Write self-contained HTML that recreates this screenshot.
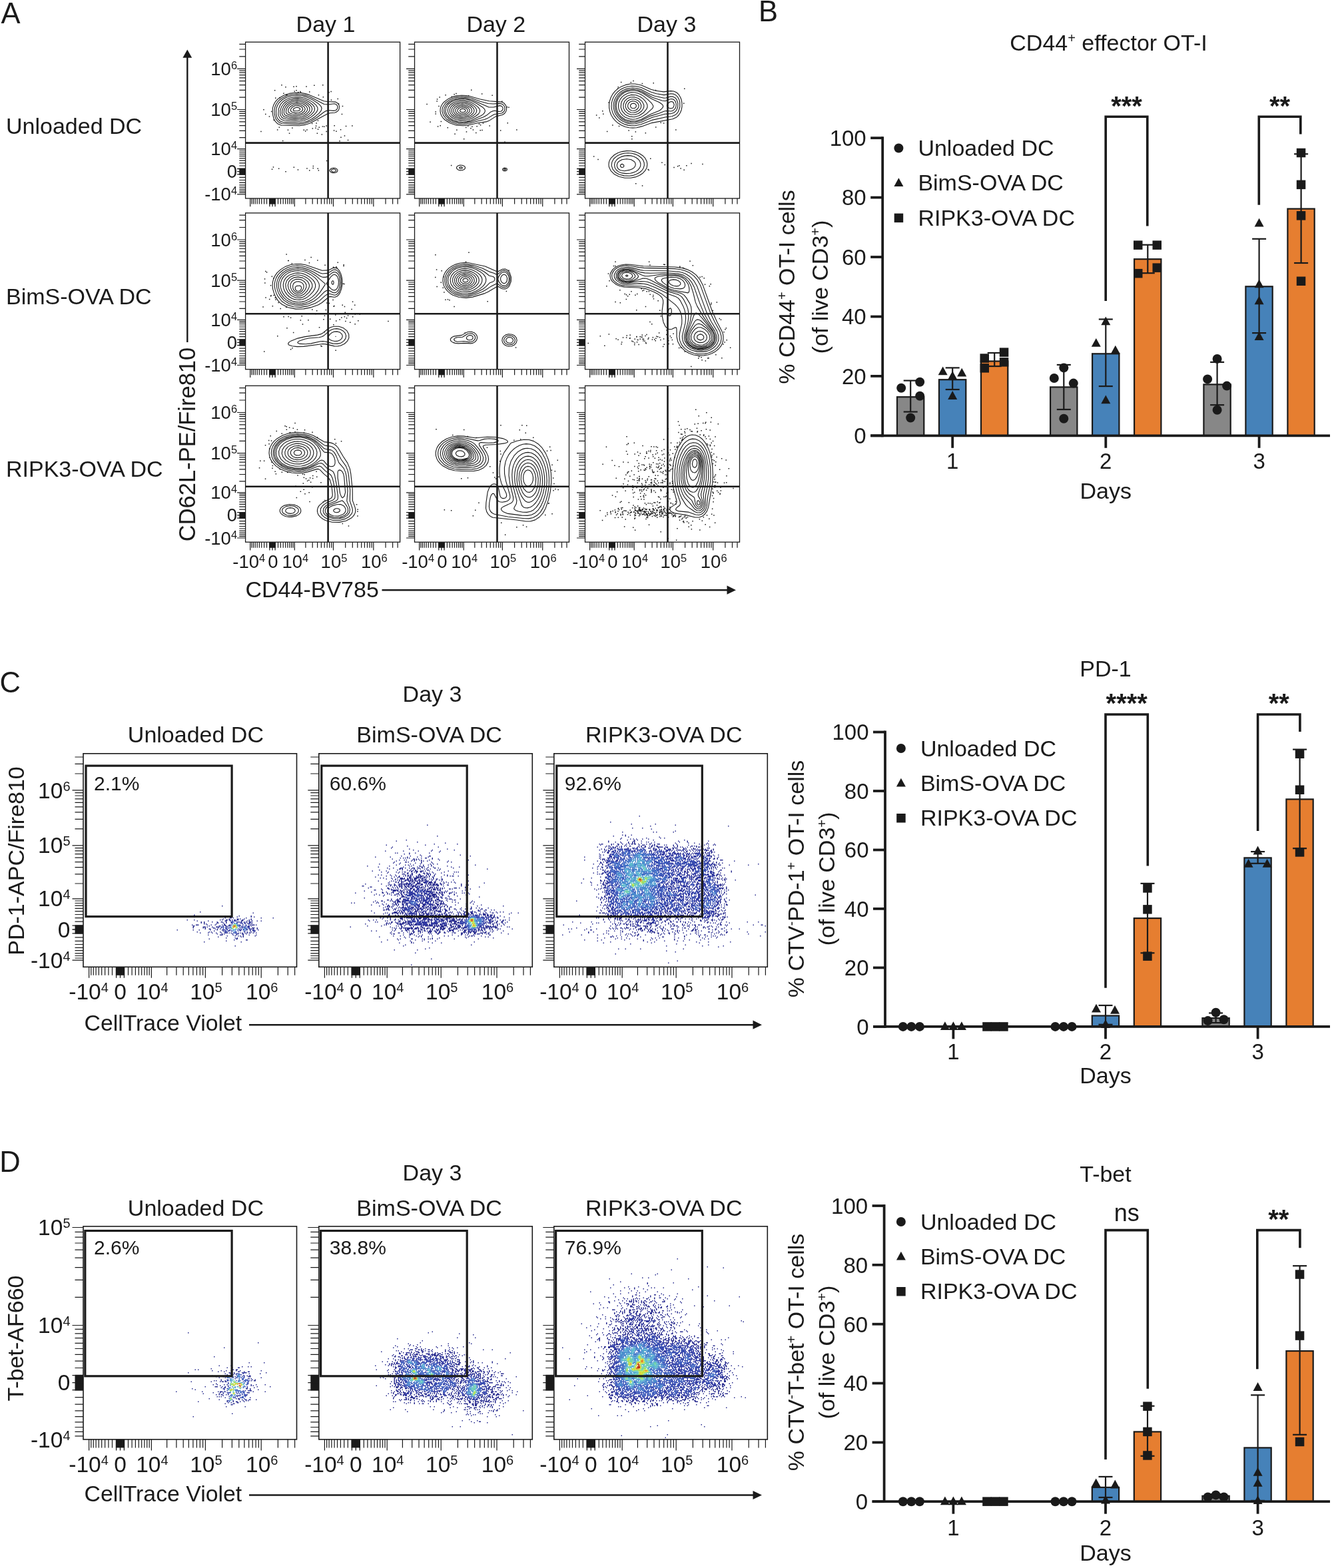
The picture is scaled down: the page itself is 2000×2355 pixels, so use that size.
<!DOCTYPE html>
<html><head><meta charset="utf-8"><title>Figure</title>
<style>html,body{margin:0;padding:0;background:#fff;width:2000px;height:2355px;overflow:hidden}svg{display:block}</style>
</head><body>
<svg width="2000" height="2355" viewBox="0 0 2000 2355" font-family='"Liberation Sans", Arial, sans-serif' fill="#1a1a1a">
<path d="M447.1 166.8L441.9 166.7L440.3 165.7L440.3 164.2L441.6 162.7L443.6 161.7L446.1 161.3L448.6 161.7L450.6 163.2L450.6 164.7L449.1 166.1ZM448.6 169.3L443.6 169.6L438.1 168.2L436.3 166.2L436.7 163.7L439.2 160.7L443.1 158.8L447.6 158.6L451.4 159.7L454.1 161.8L454.8 164.7L452.6 167.6ZM447.6 171.7L439.4 171.2L435.7 170.2L433.6 169.0L432.7 167.2L432.8 165.2L433.9 162.7L435.8 160.2L440.5 157.2L446.1 156.2L451.7 157.2L456.6 160.2L458.3 163.7L457.0 167.2L453.1 170.2ZM448.6 173.7L444.1 173.9L438.1 173.2L433.1 172.1L430.4 170.7L429.4 168.7L429.6 165.7L430.9 162.2L433.1 159.2L435.6 157.1L438.6 155.5L445.6 154.1L452.8 155.2L456.1 156.7L458.9 158.7L460.6 160.7L461.5 162.7L461.6 164.7L460.6 167.2L458.3 169.7L455.6 171.5ZM449.6 175.7L443.6 176.0L434.1 174.8L430.1 173.9L427.6 172.5L426.3 169.7L426.6 165.7L428.4 161.2L431.0 157.7L434.1 155.2L437.6 153.5L442.1 152.3L446.6 152.0L451.1 152.5L455.1 153.7L459.1 155.7L462.3 158.2L464.2 160.7L465.1 163.2L464.8 165.7L463.5 168.2L461.1 170.7L457.4 173.2L453.9 174.7ZM450.1 177.7L443.1 177.9L431.6 176.7L427.6 175.8L425.2 174.2L423.5 170.7L423.7 166.2L425.6 160.7L428.9 156.2L432.6 153.4L437.1 151.4L442.1 150.3L447.1 150.0L452.4 150.7L457.2 152.2L461.9 154.7L465.6 157.7L467.9 160.7L468.6 163.2L468.3 165.7L466.7 168.7L463.6 171.9L459.4 174.7L454.7 176.7ZM451.1 179.8L443.6 180.1L429.6 178.8L425.6 177.8L423.1 176.2L420.9 172.2L420.8 166.2L422.7 160.2L426.2 155.2L430.6 151.8L435.6 149.5L441.6 148.1L447.6 147.9L453.6 148.7L459.1 150.5L464.6 153.4L469.3 157.2L471.6 160.2L472.6 163.2L472.1 166.2L470.3 169.2L466.6 172.9L461.7 176.2L456.6 178.4ZM449.6 182.2L443.1 182.3L427.1 181.0L423.1 179.8L420.1 177.3L418.7 174.7L417.9 171.7L418.3 163.7L420.9 157.2L425.4 152.2L430.6 148.9L436.6 146.8L443.6 145.7L450.6 145.9L457.1 147.2L463.6 149.9L470.1 153.9L474.9 158.2L476.9 161.7L477.0 164.7L475.4 168.2L472.3 171.7L467.1 175.9L461.6 179.0L456.1 181.0ZM449.1 184.7L425.1 183.6L420.6 182.0L417.2 178.7L415.7 175.7L414.8 171.7L414.6 166.7L415.2 162.2L416.4 158.7L418.4 155.2L424.1 149.5L430.6 146.0L437.6 144.0L445.6 143.2L453.6 143.8L461.1 145.9L468.6 149.4L477.5 155.2L482.0 159.7L483.1 162.7L482.2 166.2L479.1 170.2L473.9 174.7L467.6 179.0L461.6 181.9L455.6 183.8ZM448.1 186.7L423.6 185.8L418.6 183.7L414.8 179.7L413.3 176.2L412.2 171.2L412.0 165.7L412.8 160.7L414.4 156.7L416.7 153.2L420.1 149.7L424.1 146.9L430.6 143.8L437.6 142.0L445.1 141.2L453.1 141.8L459.1 143.1L465.6 145.4L486.6 156.5L492.6 157.0L502.1 155.7L504.6 156.7L506.4 158.7L506.9 160.7L506.6 162.7L505.6 164.5L504.0 165.7L501.1 166.4L493.6 165.7L489.6 166.6L486.6 168.3L475.1 177.0L466.6 182.0L457.6 185.3ZM501.6 258.2L499.6 258.1L498.0 257.2L497.5 255.7L498.1 254.7L501.1 253.8L503.9 254.7L504.5 255.7L504.4 256.7L503.3 257.7ZM449.6 188.7L422.6 188.3L417.1 186.1L413.2 182.2L411.1 178.2L409.8 173.2L409.2 167.2L409.5 162.2L410.8 157.7L412.9 153.7L415.8 150.2L419.6 146.9L426.6 143.0L434.6 140.4L443.1 139.2L452.1 139.5L458.1 140.6L464.1 142.4L486.1 151.8L491.1 152.5L503.6 153.1L506.6 154.7L508.7 157.2L509.5 160.2L509.1 163.7L507.6 166.4L505.1 168.3L502.6 169.2L495.6 169.8L491.6 170.9L465.6 185.0L458.1 187.4ZM501.6 259.7L498.6 259.4L496.1 258.1L495.0 256.2L495.8 254.2L498.1 252.7L501.1 252.3L504.1 252.8L506.1 254.1L507.0 255.7L506.3 257.7L504.6 259.0Z" fill="none" stroke="#1a1a1a" stroke-width="1.1" stroke-linejoin="round"/>
<path d="M477.6 255.3h1.5v1.5h-1.5zM476.7 180.4h1.5v1.5h-1.5zM407.8 253.5h1.5v1.5h-1.5zM406.9 166.7h1.5v1.5h-1.5zM474.4 184.3h1.5v1.5h-1.5zM464.0 137.2h1.5v1.5h-1.5zM460.2 194.2h1.5v1.5h-1.5zM471.1 127.4h1.5v1.5h-1.5zM425.2 139.4h1.5v1.5h-1.5zM506.5 147.7h1.5v1.5h-1.5zM419.3 146.2h1.5v1.5h-1.5zM496.7 149.4h1.5v1.5h-1.5zM484.6 144.9h1.5v1.5h-1.5zM395.2 164.0h1.5v1.5h-1.5zM460.2 252.2h1.5v1.5h-1.5zM450.1 136.8h1.5v1.5h-1.5zM440.6 250.5h1.5v1.5h-1.5zM423.9 210.7h1.5v1.5h-1.5zM447.0 137.7h1.5v1.5h-1.5zM489.4 196.8h1.5v1.5h-1.5zM415.9 194.3h1.5v1.5h-1.5zM446.7 254.2h1.5v1.5h-1.5zM464.0 255.2h1.5v1.5h-1.5zM398.0 170.8h1.5v1.5h-1.5zM450.8 137.9h1.5v1.5h-1.5zM489.9 240.8h1.5v1.5h-1.5zM403.7 174.2h1.5v1.5h-1.5zM430.0 141.4h1.5v1.5h-1.5zM476.5 252.6h1.5v1.5h-1.5zM509.3 210.9h1.5v1.5h-1.5zM484.0 126.9h1.5v1.5h-1.5zM512.7 170.7h1.5v1.5h-1.5zM496.4 136.7h1.5v1.5h-1.5zM477.7 142.0h1.5v1.5h-1.5zM516.7 203.3h1.5v1.5h-1.5zM469.5 251.7h1.5v1.5h-1.5zM441.4 136.5h1.5v1.5h-1.5zM493.2 138.0h1.5v1.5h-1.5zM422.2 126.9h1.5v1.5h-1.5zM521.8 209.8h1.5v1.5h-1.5zM431.7 194.6h1.5v1.5h-1.5zM473.2 191.5h1.5v1.5h-1.5zM483.7 189.3h1.5v1.5h-1.5zM501.4 187.9h1.5v1.5h-1.5zM459.3 129.3h1.5v1.5h-1.5zM413.0 146.5h1.5v1.5h-1.5zM418.6 190.6h1.5v1.5h-1.5zM482.6 201.3h1.5v1.5h-1.5zM500.8 195.2h1.5v1.5h-1.5zM511.2 205.4h1.5v1.5h-1.5zM410.5 179.6h1.5v1.5h-1.5zM473.8 188.6h1.5v1.5h-1.5zM528.1 188.2h1.5v1.5h-1.5zM455.5 194.6h1.5v1.5h-1.5zM489.3 188.3h1.5v1.5h-1.5zM409.7 250.3h1.5v1.5h-1.5zM476.8 193.5h1.5v1.5h-1.5zM507.8 155.3h1.5v1.5h-1.5zM417.9 252.6h1.5v1.5h-1.5zM478.5 190.5h1.5v1.5h-1.5zM433.8 199.4h1.5v1.5h-1.5zM510.8 193.9h1.5v1.5h-1.5zM438.2 191.5h1.5v1.5h-1.5zM411.9 135.1h1.5v1.5h-1.5zM457.9 196.2h1.5v1.5h-1.5zM440.3 129.5h1.5v1.5h-1.5zM428.2 130.1h1.5v1.5h-1.5zM444.3 128.9h1.5v1.5h-1.5zM504.2 196.6h1.5v1.5h-1.5zM475.6 199.5h1.5v1.5h-1.5zM428.3 257.1h1.5v1.5h-1.5zM428.6 141.7h1.5v1.5h-1.5zM391.2 196.8h1.5v1.5h-1.5zM486.0 189.4h1.5v1.5h-1.5zM468.6 192.2h1.5v1.5h-1.5zM467.9 184.7h1.5v1.5h-1.5zM469.6 248.8h1.5v1.5h-1.5zM513.7 158.7h1.5v1.5h-1.5zM518.8 188.7h1.5v1.5h-1.5zM444.3 135.1h1.5v1.5h-1.5z" fill="#1a1a1a"/>
<path d="M694.5 168.7L692.2 168.2L690.9 167.2L690.5 165.8L691.0 164.7L692.5 163.7L694.5 163.3L696.9 163.7L698.5 164.7L699.1 166.2L698.5 167.3L697.0 168.3ZM696.5 170.8L692.0 170.8L688.6 169.2L686.9 166.7L687.7 163.7L690.5 161.7L694.0 161.0L698.0 161.6L700.8 163.2L702.2 165.2L701.9 167.7L699.6 169.7ZM697.0 172.8L691.0 172.7L688.1 171.7L685.9 170.2L684.4 168.2L683.9 166.2L684.2 164.2L685.5 162.2L689.5 159.7L694.0 159.0L699.0 159.7L703.4 162.2L705.3 165.2L704.8 168.2L701.5 171.2ZM697.5 174.7L693.5 175.0L689.5 174.4L686.2 173.2L683.5 171.3L681.5 168.7L680.9 166.2L681.4 163.7L682.9 161.2L687.5 158.2L694.0 157.0L700.9 158.2L706.0 161.2L707.7 163.2L708.5 165.2L708.5 167.2L707.6 169.2L703.5 172.7ZM697.5 176.7L692.5 176.9L688.1 176.2L684.0 174.5L680.8 172.2L678.7 169.2L678.1 165.7L678.8 162.7L680.9 159.7L683.6 157.7L687.0 156.1L691.0 155.2L695.0 155.0L699.0 155.5L703.0 156.8L706.7 158.7L709.5 161.0L711.2 163.2L712.0 165.7L711.6 168.2L710.4 170.2L708.0 172.5L705.0 174.4ZM697.5 178.7L692.0 178.8L686.5 177.8L681.6 175.7L677.9 172.7L675.8 169.2L675.2 165.2L676.3 161.7L679.0 158.2L682.5 155.8L686.5 154.2L691.5 153.2L696.5 153.2L701.5 154.1L705.9 155.7L710.1 158.2L713.5 161.2L715.1 163.7L715.8 166.2L715.2 168.7L713.5 171.2L710.5 173.8L706.3 176.2L702.0 177.8ZM698.5 180.7L692.0 180.9L685.5 179.8L680.0 177.5L675.7 174.2L673.1 170.2L672.2 165.7L673.3 161.2L676.3 157.2L680.5 154.2L685.5 152.2L691.0 151.1L697.0 151.1L702.5 152.1L708.1 154.2L713.5 157.4L718.0 161.2L719.9 163.7L720.7 166.2L720.1 168.7L718.3 171.2L714.5 174.3L709.0 177.5L704.0 179.5ZM694.5 183.2L687.0 182.5L680.0 180.3L674.4 176.7L670.7 172.2L669.0 167.2L669.8 161.7L672.9 156.7L678.0 152.8L683.5 150.4L689.5 149.1L696.0 148.8L702.5 149.8L709.0 151.9L715.5 155.2L724.2 160.7L727.7 164.2L728.4 166.7L727.6 169.2L725.5 171.6L722.4 173.7L707.0 181.0L701.0 182.6ZM696.5 184.7L688.5 184.4L680.5 182.3L673.8 178.7L669.1 173.7L666.8 168.2L666.7 165.2L667.2 162.2L670.0 157.0L675.0 152.5L680.0 149.9L686.0 148.0L692.0 147.3L698.5 147.4L709.0 150.0L734.0 161.0L741.0 161.0L750.5 158.6L753.0 159.3L754.7 161.2L755.1 162.7L754.8 164.7L753.7 166.2L752.0 167.2L749.0 167.5L743.0 166.3L739.5 166.9L736.5 168.3L730.5 173.3L726.1 175.7L706.5 182.9ZM695.5 186.7L686.0 186.0L677.5 183.3L670.5 179.0L665.7 173.2L663.9 167.2L664.1 163.7L664.9 160.7L668.7 154.7L675.0 149.9L680.5 147.5L686.5 145.9L693.0 145.3L699.5 145.6L707.5 147.3L721.0 152.2L733.0 155.5L740.5 156.0L749.5 155.4L752.5 155.7L755.5 157.3L757.6 160.2L758.1 163.2L757.5 166.1L756.0 168.3L753.5 170.0L742.0 171.7L732.5 177.4L727.5 179.5L717.6 181.7L704.5 185.5ZM693.0 253.3L690.5 253.1L689.6 251.7L691.0 250.7L693.5 250.9L694.4 252.2ZM758.0 255.7L756.4 254.7L756.8 253.7L758.0 253.3L759.2 253.7L759.6 254.7ZM695.5 188.7L685.0 187.9L675.5 184.8L668.0 180.0L665.2 177.2L662.9 173.7L661.5 170.2L661.0 166.7L661.2 163.2L662.2 159.7L664.2 156.2L666.7 153.2L674.0 147.9L680.0 145.4L686.0 143.9L693.0 143.3L700.0 143.6L707.0 145.0L720.0 148.8L734.5 151.7L753.0 153.1L757.0 155.1L759.7 158.7L760.7 162.7L760.0 166.7L757.8 170.2L754.5 172.5L744.5 174.9L735.0 180.9L730.0 182.9L717.0 184.8L703.0 188.0ZM694.0 255.8L690.5 255.9L687.2 254.7L685.5 252.7L685.8 250.7L687.5 249.1L690.5 248.1L694.0 248.2L696.7 249.2L698.2 250.7L698.5 252.7L697.0 254.6ZM759.5 256.8L757.5 257.0L755.4 256.2L754.5 254.7L755.0 253.2L757.5 252.0L760.5 252.7L761.3 253.7L761.4 255.2Z" fill="none" stroke="#1a1a1a" stroke-width="1.1" stroke-linejoin="round"/>
<path d="M709.7 194.3h1.5v1.5h-1.5zM659.4 145.3h1.5v1.5h-1.5zM698.9 190.8h1.5v1.5h-1.5zM714.0 198.7h1.5v1.5h-1.5zM645.3 182.5h1.5v1.5h-1.5zM682.3 200.6h1.5v1.5h-1.5zM677.6 144.4h1.5v1.5h-1.5zM775.1 194.2h1.5v1.5h-1.5zM761.5 183.9h1.5v1.5h-1.5zM685.1 194.5h1.5v1.5h-1.5zM734.4 188.3h1.5v1.5h-1.5zM706.2 192.1h1.5v1.5h-1.5zM702.0 188.6h1.5v1.5h-1.5zM653.4 170.3h1.5v1.5h-1.5zM722.9 140.2h1.5v1.5h-1.5zM660.5 188.1h1.5v1.5h-1.5zM757.2 212.6h1.5v1.5h-1.5zM684.2 139.8h1.5v1.5h-1.5zM750.9 195.3h1.5v1.5h-1.5zM707.0 134.6h1.5v1.5h-1.5zM640.3 155.7h1.5v1.5h-1.5zM655.4 151.3h1.5v1.5h-1.5zM724.7 184.5h1.5v1.5h-1.5zM708.1 189.4h1.5v1.5h-1.5zM668.3 142.1h1.5v1.5h-1.5zM738.4 142.6h1.5v1.5h-1.5zM658.2 158.7h1.5v1.5h-1.5zM661.6 181.8h1.5v1.5h-1.5zM656.8 189.3h1.5v1.5h-1.5zM702.9 143.3h1.5v1.5h-1.5zM763.2 160.6h1.5v1.5h-1.5zM655.8 148.2h1.5v1.5h-1.5zM695.9 208.0h1.5v1.5h-1.5zM720.5 195.0h1.5v1.5h-1.5zM676.9 247.8h1.5v1.5h-1.5zM760.7 159.9h1.5v1.5h-1.5zM671.5 190.9h1.5v1.5h-1.5zM723.2 194.7h1.5v1.5h-1.5zM715.4 189.0h1.5v1.5h-1.5zM653.4 167.2h1.5v1.5h-1.5zM681.4 140.9h1.5v1.5h-1.5zM699.7 197.2h1.5v1.5h-1.5zM720.8 187.0h1.5v1.5h-1.5zM753.0 151.4h1.5v1.5h-1.5zM718.7 185.5h1.5v1.5h-1.5z" fill="#1a1a1a"/>
<path d="M952.0 162.8L949.0 162.6L946.9 160.7L946.5 158.2L948.5 155.7L950.5 155.2L952.5 155.4L954.0 156.3L955.1 157.7L955.4 159.2L955.0 160.7L953.5 162.2ZM951.5 166.2L948.5 166.0L945.6 164.7L943.6 162.7L942.6 160.2L942.8 157.2L944.0 154.8L946.0 153.0L949.0 151.9L952.5 152.0L955.6 153.2L958.0 155.5L959.2 158.2L959.0 160.7L957.5 163.3L955.0 165.2ZM952.0 169.2L947.5 169.0L943.6 167.2L940.7 164.2L939.3 160.7L939.4 156.7L941.1 153.2L944.0 150.5L948.0 149.0L953.0 149.0L957.4 150.7L960.8 153.7L962.7 157.7L962.4 161.7L960.2 165.2L956.5 167.9ZM953.0 172.3L947.5 172.2L942.5 170.4L938.5 166.9L936.1 162.2L935.9 157.2L937.7 152.2L941.5 148.3L946.5 146.0L952.5 145.7L958.6 147.7L964.0 152.1L966.7 157.2L966.9 159.7L966.4 162.2L963.5 166.7L958.5 170.5ZM952.0 175.7L945.0 175.1L939.0 172.2L934.4 167.2L932.3 161.2L932.7 154.7L933.9 151.7L935.9 148.7L941.0 144.6L947.5 142.4L955.0 142.8L962.0 145.8L965.5 148.4L968.7 151.7L971.0 155.2L972.0 158.2L972.0 160.7L970.9 163.7L966.4 169.2L959.5 173.7ZM955.0 178.7L950.5 179.2L946.5 178.9L939.0 176.3L935.5 173.9L932.9 171.2L930.6 167.7L929.2 164.2L928.5 160.7L928.6 156.7L929.5 152.7L931.2 149.2L933.5 146.1L936.5 143.3L943.5 139.8L948.0 138.9L953.0 139.0L957.5 140.0L962.0 141.8L967.0 144.9L972.8 149.7L978.5 155.2L980.7 158.7L980.7 160.7L979.3 163.2L970.9 170.7L962.5 176.1ZM955.0 181.7L946.5 181.9L938.5 179.5L931.8 174.7L929.0 171.2L927.1 167.7L925.8 163.7L925.3 159.7L925.5 155.7L926.5 151.7L928.1 148.2L930.6 144.7L933.5 141.8L937.0 139.3L942.0 137.1L947.5 136.0L953.0 136.0L959.0 137.3L966.0 140.5L978.5 148.5L990.0 153.7L993.5 156.2L995.3 158.2L995.7 159.7L995.0 161.7L992.7 164.2L989.9 166.2L977.0 171.5L963.0 179.2ZM1008.5 162.8L1006.5 162.9L1004.0 162.0L1001.9 160.2L1001.4 158.7L1002.1 156.7L1003.7 154.7L1006.0 153.0L1008.0 152.5L1009.5 152.7L1011.0 153.8L1012.3 157.2L1011.4 160.7L1010.0 162.2ZM935.5 251.3L933.5 251.5L931.8 250.2L931.5 248.3L932.5 246.9L934.5 246.4L936.5 247.7L936.9 249.7ZM953.0 183.7L948.5 183.8L944.0 183.2L939.5 181.8L935.5 179.8L932.0 177.2L929.0 174.2L926.6 170.7L924.7 166.7L923.7 162.7L923.4 158.2L923.9 154.2L925.2 150.2L927.2 146.2L930.0 142.7L933.3 139.7L937.0 137.4L941.5 135.5L946.0 134.5L951.0 134.2L956.0 134.8L964.0 137.5L979.5 146.2L994.5 151.3L999.0 151.7L1005.5 149.0L1008.5 148.5L1011.5 149.4L1014.1 152.2L1015.3 156.2L1015.0 160.2L1013.4 163.7L1010.5 166.2L1007.5 167.0L1000.5 166.5L997.5 167.0L989.5 170.3L977.0 174.1L962.0 181.5ZM937.5 256.7L931.5 255.8L929.0 254.2L927.3 252.2L926.4 249.7L926.4 247.2L927.3 244.7L929.0 242.6L934.0 239.7L941.0 238.7L947.7 239.7L952.5 242.7L953.8 244.7L954.3 247.2L953.6 249.7L952.0 251.9L949.4 253.7L946.0 255.1ZM954.0 185.8L949.0 186.0L944.0 185.4L939.5 184.1L935.0 182.0L931.0 179.3L927.8 176.2L924.8 172.2L922.9 168.2L921.6 163.7L921.1 159.2L921.5 154.7L922.7 150.2L924.6 146.2L927.4 142.2L931.0 138.7L935.0 136.0L939.5 133.9L945.0 132.5L950.0 132.0L955.5 132.5L963.5 134.9L976.5 141.8L983.0 144.2L997.0 147.3L1000.0 147.0L1006.5 145.1L1010.0 145.1L1013.5 146.7L1016.1 149.7L1017.8 154.7L1017.7 160.7L1015.7 165.7L1012.0 169.3L1008.0 170.6L998.5 171.3L979.5 176.3L962.5 183.7ZM946.5 260.2L940.0 260.6L934.0 259.9L929.5 258.4L925.8 255.7L923.4 252.2L922.5 247.7L923.4 243.7L926.1 239.7L929.3 237.2L933.0 235.4L937.5 234.1L942.5 233.6L947.0 233.9L951.5 235.0L955.1 236.7L958.4 239.2L960.7 242.2L961.9 245.7L961.7 249.2L960.5 252.1L958.0 255.2L955.0 257.4L951.0 259.1ZM953.5 188.7L948.0 188.8L943.0 188.1L938.5 186.9L933.5 184.6L929.2 181.7L925.5 178.2L922.5 174.2L920.1 169.7L918.7 165.2L918.0 160.2L918.3 155.2L919.3 150.7L921.1 146.2L923.9 141.7L927.5 137.8L931.5 134.6L936.5 131.9L942.5 130.0L948.5 129.2L955.0 129.5L963.0 131.5L977.5 138.3L985.7 140.7L997.0 142.6L1007.0 140.8L1011.0 141.1L1015.0 143.0L1017.9 146.2L1019.7 149.7L1020.7 153.2L1020.8 160.7L1018.4 167.7L1016.5 170.4L1014.0 172.6L1009.0 174.7L1000.0 175.8L979.0 180.4L962.0 187.0ZM945.0 264.2L937.0 263.9L929.5 262.0L924.0 258.8L920.0 254.2L918.2 248.7L918.9 243.2L921.7 238.2L927.0 233.9L932.0 231.6L937.0 230.3L943.0 229.7L948.5 230.2L954.0 231.6L958.6 233.7L962.6 236.7L965.5 240.2L967.1 244.2L967.4 248.2L966.3 252.2L964.0 255.8L960.5 259.0L956.0 261.6L950.5 263.4ZM956.0 191.7L950.0 192.1L944.5 191.7L939.0 190.5L933.5 188.3L928.5 185.3L924.2 181.7L920.7 177.7L917.7 172.7L915.8 167.7L914.7 162.2L914.6 156.7L915.4 151.7L917.3 146.2L919.7 141.7L923.3 137.2L927.5 133.4L933.0 129.9L939.5 127.4L946.5 126.0L953.5 126.0L963.0 128.0L977.4 134.2L984.6 136.2L996.5 137.9L1007.0 136.6L1011.5 137.0L1016.0 139.0L1019.3 142.2L1021.7 146.2L1023.2 150.2L1024.0 155.2L1024.0 160.2L1023.2 164.7L1021.5 169.2L1019.0 173.0L1016.0 175.9L1010.0 178.8L978.5 184.6L963.5 189.9ZM947.0 267.2L938.0 267.2L929.5 265.3L922.5 261.8L917.3 256.7L914.4 250.7L914.0 247.2L914.3 244.2L915.4 240.7L917.2 237.7L922.5 232.5L928.0 229.5L934.0 227.6L941.0 226.6L947.5 226.8L954.0 228.1L960.0 230.5L965.0 233.7L968.8 237.7L971.1 242.2L971.9 246.7L971.2 251.7L968.8 256.2L965.1 260.2L960.0 263.5L954.0 265.9Z" fill="none" stroke="#1a1a1a" stroke-width="1.1" stroke-linejoin="round"/>
<path d="M904.0 166.0h1.5v1.5h-1.5zM1016.9 249.0h1.5v1.5h-1.5zM1019.1 248.0h1.5v1.5h-1.5zM954.0 274.9h1.5v1.5h-1.5zM899.1 176.2h1.5v1.5h-1.5zM905.1 170.6h1.5v1.5h-1.5zM963.6 124.8h1.5v1.5h-1.5zM931.9 122.7h1.5v1.5h-1.5zM919.1 187.3h1.5v1.5h-1.5zM1026.4 254.6h1.5v1.5h-1.5zM927.5 129.9h1.5v1.5h-1.5zM995.9 184.2h1.5v1.5h-1.5zM913.3 153.3h1.5v1.5h-1.5zM953.9 214.2h1.5v1.5h-1.5zM1037.3 244.8h1.5v1.5h-1.5zM993.2 243.5h1.5v1.5h-1.5zM943.4 195.3h1.5v1.5h-1.5zM980.5 123.9h1.5v1.5h-1.5zM963.8 278.3h1.5v1.5h-1.5zM976.0 237.5h1.5v1.5h-1.5zM997.6 246.7h1.5v1.5h-1.5zM946.6 123.1h1.5v1.5h-1.5zM984.0 190.3h1.5v1.5h-1.5zM953.6 197.3h1.5v1.5h-1.5zM968.6 199.0h1.5v1.5h-1.5zM928.8 188.7h1.5v1.5h-1.5zM1026.0 154.5h1.5v1.5h-1.5zM973.4 254.7h1.5v1.5h-1.5zM948.0 204.0h1.5v1.5h-1.5zM897.3 238.8h1.5v1.5h-1.5zM1030.1 248.1h1.5v1.5h-1.5zM926.7 132.6h1.5v1.5h-1.5zM948.1 208.0h1.5v1.5h-1.5zM894.9 172.3h1.5v1.5h-1.5zM1054.2 245.7h1.5v1.5h-1.5zM1021.4 252.3h1.5v1.5h-1.5zM890.9 234.2h1.5v1.5h-1.5zM983.9 134.8h1.5v1.5h-1.5zM972.4 253.7h1.5v1.5h-1.5zM1027.0 132.5h1.5v1.5h-1.5zM1014.1 194.2h1.5v1.5h-1.5zM950.3 120.7h1.5v1.5h-1.5zM910.9 196.7h1.5v1.5h-1.5zM991.5 183.4h1.5v1.5h-1.5zM1011.3 250.8h1.5v1.5h-1.5z" fill="#1a1a1a"/>
<path d="M448.6 437.5L445.6 437.0L443.6 434.9L443.2 431.9L444.0 430.4L445.1 429.6L450.1 429.0L451.6 429.8L452.3 430.9L452.6 432.9L452.0 434.9L450.6 436.6ZM449.6 439.5L446.6 439.6L443.7 438.4L441.3 435.9L439.9 432.9L439.6 429.4L440.5 426.4L442.2 424.4L445.1 423.0L448.6 422.8L452.1 423.9L454.6 425.9L456.0 428.4L456.0 431.9L454.6 435.4L452.5 437.9ZM449.6 442.0L445.6 441.9L441.5 439.9L438.3 436.4L436.3 431.9L436.0 427.4L437.4 423.9L440.1 421.2L444.1 419.4L449.1 419.2L453.6 420.6L457.6 423.5L459.9 427.4L459.9 431.4L457.5 436.4L453.6 440.4ZM451.1 444.5L445.6 444.6L440.6 442.7L436.3 438.9L433.2 433.4L432.3 428.4L433.5 423.4L436.6 419.5L441.2 416.9L447.6 415.9L454.5 417.4L460.6 421.4L462.8 423.9L464.0 426.4L464.5 428.9L464.1 431.4L461.3 436.9L456.5 441.9ZM450.6 447.4L444.1 447.1L437.8 444.4L432.7 439.4L429.4 432.9L428.8 426.9L430.7 421.4L435.1 416.6L441.1 413.7L445.1 413.0L449.1 413.0L453.1 413.7L457.1 415.2L461.0 417.4L464.6 420.4L467.1 423.4L468.6 426.4L469.0 429.4L468.3 432.4L464.2 438.9L457.6 444.9L454.1 446.6ZM449.6 450.4L445.6 450.3L441.3 449.4L437.6 447.8L434.1 445.5L430.9 442.4L428.4 438.9L426.6 435.3L425.5 431.4L425.2 427.9L425.7 424.4L427.0 420.9L428.9 417.9L431.6 415.2L434.9 412.9L442.6 410.2L447.1 409.9L452.1 410.3L456.6 411.6L461.1 413.7L466.0 416.9L469.9 420.4L472.4 423.9L473.6 427.4L473.6 430.9L472.4 434.4L469.8 438.4L465.6 442.9L462.0 445.9L458.1 448.2L454.1 449.7ZM453.1 453.4L448.1 453.8L443.6 453.4L439.1 452.3L434.6 450.2L430.6 447.4L427.2 443.9L424.5 439.9L422.4 435.4L421.4 431.4L421.2 427.4L421.8 423.4L423.3 419.4L425.6 415.9L428.6 412.9L432.6 410.1L436.6 408.3L442.1 406.9L448.1 406.5L454.1 407.3L459.6 409.0L466.2 412.4L472.5 416.9L476.3 420.9L478.8 425.4L479.5 428.9L478.9 432.9L477.0 436.9L473.6 441.4L468.8 445.9L463.6 449.6L458.6 452.0ZM499.6 427.4L498.4 426.4L497.9 424.4L498.5 422.4L499.6 421.6L500.6 422.2L501.1 424.4L500.6 426.8ZM454.1 455.9L448.6 456.3L443.1 455.9L438.1 454.7L433.1 452.5L429.1 449.9L425.5 446.4L422.3 441.9L419.8 436.9L418.4 431.9L418.1 427.4L418.8 422.9L420.3 418.9L422.8 414.9L426.1 411.4L430.1 408.5L435.1 406.1L441.1 404.5L447.6 404.0L454.1 404.7L460.6 406.6L467.1 409.6L473.6 413.7L488.4 426.4L487.9 427.9L480.3 439.4L474.1 446.1L469.1 449.9L464.1 452.8L459.1 454.7ZM502.6 435.9L500.1 435.7L497.1 433.9L491.5 427.9L490.3 425.9L496.6 415.8L499.6 413.1L502.1 412.3L504.6 413.2L506.6 415.6L508.0 419.4L508.5 423.4L508.1 427.9L506.9 431.9L505.1 434.5ZM504.6 505.5L503.9 505.4L504.6 505.5M453.6 458.4L443.1 458.3L433.6 455.7L426.1 450.9L420.3 443.9L417.9 439.4L416.3 434.9L415.5 430.4L415.5 425.9L416.4 421.4L418.0 417.4L420.3 413.9L423.6 410.3L428.6 406.6L434.6 403.8L440.6 402.2L447.1 401.6L454.6 402.4L462.1 404.6L471.1 408.8L481.6 415.2L485.1 416.4L488.6 416.4L491.6 415.6L498.1 410.2L501.1 408.6L504.1 408.7L506.6 410.5L508.2 412.9L509.6 416.4L510.6 424.4L509.4 432.4L508.1 435.4L506.1 438.1L504.1 439.4L501.6 439.8L499.1 439.1L493.6 436.1L490.6 436.3L486.6 438.8L478.2 447.4L471.6 452.2L463.1 456.2ZM506.1 512.4L502.6 512.5L499.1 511.8L495.8 510.4L493.4 508.4L493.0 506.4L493.7 504.4L495.6 501.9L498.1 499.8L502.1 498.1L506.6 497.9L510.6 499.3L513.3 501.9L514.3 504.9L513.2 508.4L510.1 511.1ZM451.6 461.4L440.6 460.7L430.6 457.6L423.1 452.5L417.4 445.4L414.9 440.4L413.2 435.4L412.3 430.4L412.3 425.9L413.2 421.4L414.9 416.9L417.3 412.9L420.6 409.2L425.6 405.2L432.1 401.8L439.1 399.8L446.1 399.0L453.6 399.5L460.6 401.2L468.6 404.2L480.6 409.9L484.1 411.0L492.1 410.4L499.1 406.0L501.6 405.1L504.6 405.4L507.1 407.1L509.2 409.9L510.9 413.9L512.0 418.4L512.4 423.9L512.0 429.4L511.0 433.9L509.3 437.9L507.1 441.0L504.6 442.7L502.1 443.2L495.1 441.2L492.6 441.3L488.4 443.9L479.5 451.9L473.6 455.5L462.6 459.6ZM506.6 516.4L500.1 516.1L489.6 513.2L485.1 512.5L481.1 512.8L467.1 515.9L459.1 516.7L450.3 516.4L447.6 515.5L446.9 514.4L447.4 513.4L449.5 511.9L457.6 509.2L465.1 507.8L479.1 506.7L483.1 505.8L486.6 503.9L493.1 498.1L496.6 495.7L501.1 494.0L505.6 493.6L510.6 494.5L515.1 496.9L518.3 500.4L519.6 504.4L518.9 508.4L516.0 512.4L511.6 515.2ZM456.1 463.9L444.1 464.1L432.6 461.7L423.6 457.3L420.0 454.4L416.9 450.9L413.9 445.9L411.3 439.9L409.7 434.4L409.1 428.9L409.4 423.9L410.7 418.9L412.8 414.4L415.9 409.9L421.6 404.6L428.1 400.6L436.1 397.7L444.1 396.5L451.6 396.6L458.6 397.8L483.6 406.2L493.1 405.9L499.6 402.7L502.1 402.1L504.6 402.4L507.1 403.8L509.7 406.9L511.9 411.4L513.3 416.9L513.9 422.4L513.7 427.9L512.7 433.9L510.9 438.9L508.5 442.9L506.1 445.0L503.6 446.1L501.1 446.2L496.1 445.4L494.1 445.8L483.1 454.7L477.6 458.0L467.6 461.6ZM455.6 520.4L446.1 520.6L438.6 519.8L434.1 518.3L433.0 517.4L432.7 515.9L434.1 513.9L437.2 511.9L447.1 508.1L458.1 505.6L476.6 503.1L481.5 501.9L485.1 499.9L493.6 493.0L497.6 491.2L501.6 490.2L508.6 490.3L515.6 492.6L521.0 496.9L523.7 501.9L523.9 507.4L521.5 512.4L517.1 516.5L511.1 519.2L506.6 520.0L502.1 519.9L489.3 516.9L484.6 516.5Z" fill="none" stroke="#1a1a1a" stroke-width="1.1" stroke-linejoin="round"/>
<path d="M463.0 496.6h1.5v1.5h-1.5zM504.1 399.9h1.5v1.5h-1.5zM403.9 448.7h1.5v1.5h-1.5zM485.2 478.9h1.5v1.5h-1.5zM405.8 427.9h1.5v1.5h-1.5zM501.0 458.8h1.5v1.5h-1.5zM503.4 525.6h1.5v1.5h-1.5zM417.4 453.7h1.5v1.5h-1.5zM430.2 492.1h1.5v1.5h-1.5zM493.5 454.8h1.5v1.5h-1.5zM420.5 462.7h1.5v1.5h-1.5zM408.6 459.0h1.5v1.5h-1.5zM448.0 470.3h1.5v1.5h-1.5zM488.6 464.8h1.5v1.5h-1.5zM435.9 523.9h1.5v1.5h-1.5zM503.0 472.2h1.5v1.5h-1.5zM525.0 483.4h1.5v1.5h-1.5zM516.2 425.8h1.5v1.5h-1.5zM537.1 480.9h1.5v1.5h-1.5zM521.8 473.2h1.5v1.5h-1.5zM405.9 443.9h1.5v1.5h-1.5zM468.1 464.3h1.5v1.5h-1.5zM453.7 486.2h1.5v1.5h-1.5zM582.2 481.8h1.5v1.5h-1.5zM482.4 519.4h1.5v1.5h-1.5zM486.6 497.9h1.5v1.5h-1.5zM478.8 490.9h1.5v1.5h-1.5zM532.0 457.5h1.5v1.5h-1.5zM413.1 449.2h1.5v1.5h-1.5zM473.2 470.8h1.5v1.5h-1.5zM500.1 487.1h1.5v1.5h-1.5zM416.0 504.1h1.5v1.5h-1.5zM457.2 389.8h1.5v1.5h-1.5zM466.4 385.7h1.5v1.5h-1.5zM396.0 527.2h1.5v1.5h-1.5zM487.3 397.4h1.5v1.5h-1.5zM429.4 381.2h1.5v1.5h-1.5zM532.4 486.1h1.5v1.5h-1.5zM517.5 468.5h1.5v1.5h-1.5zM412.6 446.4h1.5v1.5h-1.5zM462.2 480.1h1.5v1.5h-1.5zM513.5 457.6h1.5v1.5h-1.5zM474.9 466.1h1.5v1.5h-1.5zM509.3 479.3h1.5v1.5h-1.5zM439.9 498.7h1.5v1.5h-1.5zM398.1 406.8h1.5v1.5h-1.5zM495.0 478.4h1.5v1.5h-1.5zM516.7 459.7h1.5v1.5h-1.5zM528.8 452.6h1.5v1.5h-1.5zM528.9 475.1h1.5v1.5h-1.5zM429.0 460.8h1.5v1.5h-1.5zM396.8 418.2h1.5v1.5h-1.5zM490.1 454.3h1.5v1.5h-1.5zM435.8 476.5h1.5v1.5h-1.5zM410.4 442.7h1.5v1.5h-1.5zM539.5 471.2h1.5v1.5h-1.5zM399.8 408.3h1.5v1.5h-1.5zM431.9 390.7h1.5v1.5h-1.5zM425.3 475.0h1.5v1.5h-1.5zM450.6 480.3h1.5v1.5h-1.5zM512.1 476.2h1.5v1.5h-1.5zM515.4 396.9h1.5v1.5h-1.5zM516.6 474.9h1.5v1.5h-1.5zM519.8 477.0h1.5v1.5h-1.5zM481.1 518.8h1.5v1.5h-1.5zM438.2 522.0h1.5v1.5h-1.5zM499.8 400.5h1.5v1.5h-1.5zM432.5 390.7h1.5v1.5h-1.5zM518.1 481.8h1.5v1.5h-1.5zM394.3 460.2h1.5v1.5h-1.5zM486.7 473.4h1.5v1.5h-1.5zM410.2 417.0h1.5v1.5h-1.5zM476.1 390.3h1.5v1.5h-1.5zM407.6 414.6h1.5v1.5h-1.5zM452.5 474.1h1.5v1.5h-1.5zM504.0 481.2h1.5v1.5h-1.5zM515.3 398.8h1.5v1.5h-1.5zM463.7 393.9h1.5v1.5h-1.5zM506.5 393.5h1.5v1.5h-1.5zM437.6 395.1h1.5v1.5h-1.5zM397.1 424.2h1.5v1.5h-1.5zM398.3 446.2h1.5v1.5h-1.5zM505.0 401.6h1.5v1.5h-1.5zM527.3 463.7h1.5v1.5h-1.5zM514.5 425.5h1.5v1.5h-1.5zM500.4 459.5h1.5v1.5h-1.5zM432.4 474.7h1.5v1.5h-1.5zM499.3 449.7h1.5v1.5h-1.5zM532.5 471.2h1.5v1.5h-1.5zM406.3 443.0h1.5v1.5h-1.5z" fill="#1a1a1a"/>
<path d="M699.5 423.9L697.0 423.6L695.3 422.4L694.9 420.4L696.0 418.9L699.5 418.0L702.5 419.5L703.0 420.9L702.5 422.4ZM700.0 426.5L695.0 425.9L691.9 423.4L691.2 421.4L691.5 419.4L694.0 416.6L697.0 415.5L700.5 415.6L703.7 416.9L705.6 418.9L706.2 421.4L705.4 423.4L703.1 425.4ZM698.5 428.9L694.7 428.4L691.5 426.9L689.2 424.4L688.2 421.4L688.8 418.4L690.6 415.9L693.8 413.9L697.5 413.1L701.5 413.5L705.1 414.9L708.0 417.4L709.2 420.4L708.6 423.4L706.1 426.4L702.5 428.2ZM701.0 431.0L696.5 431.1L692.5 430.2L689.0 428.2L686.5 425.4L685.3 421.9L685.7 418.4L687.5 415.3L690.5 412.8L696.0 410.9L702.0 411.2L707.5 413.4L711.4 417.4L712.3 421.4L711.9 423.4L710.5 425.8L706.5 429.1ZM700.0 433.4L694.5 433.2L689.4 431.4L685.4 428.4L683.0 424.4L682.5 419.9L684.0 415.5L687.3 411.9L692.0 409.5L699.0 408.5L705.9 409.9L711.8 413.4L714.0 415.9L715.3 418.4L715.6 420.9L715.2 423.4L712.3 427.9L706.5 431.8ZM703.0 435.4L696.5 435.8L690.5 434.6L685.3 431.9L681.5 427.9L679.6 422.9L679.8 417.9L682.4 412.9L686.5 409.3L690.5 407.4L694.5 406.4L698.5 406.1L703.0 406.6L707.5 407.9L711.6 409.9L715.0 412.4L717.6 415.4L718.8 417.9L719.3 420.9L718.8 423.9L717.1 426.9L714.4 429.9L711.0 432.3L707.0 434.3ZM701.5 438.4L693.5 438.2L686.5 436.0L680.8 431.9L677.1 426.4L676.0 420.4L677.6 414.4L682.0 408.9L688.0 405.3L693.0 403.9L698.0 403.4L703.0 403.8L708.0 405.0L713.4 407.4L718.0 410.4L721.1 413.4L723.3 416.9L724.0 419.9L723.6 423.4L721.9 426.9L719.4 429.9L715.5 433.1L711.0 435.7L706.5 437.4ZM703.0 440.9L694.0 441.0L685.5 438.6L679.0 434.4L676.2 431.4L674.4 428.4L673.1 424.9L672.6 421.4L672.9 417.9L674.0 414.4L678.1 408.4L681.5 405.6L685.0 403.6L690.5 401.6L696.0 400.8L702.0 400.9L708.0 402.1L715.0 404.7L721.6 408.4L725.9 411.9L728.8 415.9L729.8 419.4L729.5 422.9L727.6 426.9L724.6 430.4L720.2 433.9L714.5 437.3L708.5 439.7ZM758.0 425.5L756.0 425.6L754.0 424.5L752.4 422.4L751.6 419.9L751.7 417.4L752.8 414.9L754.5 413.1L756.5 412.3L758.5 412.7L760.0 413.9L761.6 417.9L761.0 422.4L759.7 424.4ZM703.0 443.0L694.0 443.0L685.0 440.7L677.9 436.4L672.8 430.4L671.2 426.9L670.3 423.4L670.2 419.4L670.9 415.9L674.3 409.4L677.0 406.4L680.5 403.7L686.5 400.7L692.5 399.2L699.5 398.7L706.5 399.6L713.5 401.7L722.5 405.5L728.0 408.7L734.5 414.0L740.5 415.5L742.5 417.2L743.0 419.4L741.9 421.9L740.5 422.9L735.5 424.7L729.3 430.9L725.0 434.2L713.5 440.1ZM757.5 429.4L754.5 428.9L751.7 426.9L748.9 422.9L747.7 419.4L748.3 416.4L751.0 411.9L753.5 409.6L756.5 408.5L759.5 409.2L762.0 411.3L763.6 414.4L764.4 418.4L764.0 422.4L762.5 425.9L760.2 428.4ZM707.5 510.5L704.5 510.9L701.5 509.9L700.3 507.9L701.0 505.9L702.7 504.4L705.0 503.5L707.0 503.6L708.8 504.4L710.0 505.9L710.1 507.9L709.2 509.4ZM766.0 515.5L762.2 514.9L759.8 512.4L759.9 509.4L762.5 506.9L764.5 506.5L767.0 506.8L769.0 507.9L770.1 509.4L770.5 511.4L769.7 513.4L768.0 514.8ZM703.0 444.9L697.5 445.2L692.5 444.8L683.5 442.2L679.5 440.1L675.5 437.2L672.4 433.9L670.1 430.4L668.5 426.4L667.8 422.4L667.9 418.4L668.9 414.4L670.8 410.4L673.4 406.9L676.6 403.9L680.5 401.3L685.5 399.0L691.0 397.5L697.0 396.8L703.0 397.1L711.0 398.6L724.0 402.8L735.5 408.4L741.5 410.2L745.5 412.3L747.5 411.9L753.0 407.3L756.5 406.1L760.5 407.2L764.0 410.9L765.8 415.9L765.8 421.9L763.9 427.4L760.5 430.8L757.5 431.8L754.5 431.4L752.0 430.1L747.5 426.3L745.5 426.0L736.5 430.6L729.5 435.3L724.0 438.2L712.5 442.7ZM707.0 513.5L703.5 513.6L696.5 512.5L686.5 513.2L682.8 511.9L681.5 509.9L682.4 508.4L684.1 507.4L687.0 506.7L694.5 506.3L702.0 501.5L707.0 500.7L709.5 501.4L711.8 502.9L713.2 504.9L713.6 506.9L713.3 508.9L712.0 510.9L710.0 512.5ZM766.0 517.9L763.0 517.8L760.0 516.6L758.0 514.9L756.8 512.4L756.7 509.9L757.8 507.4L760.0 505.4L762.5 504.3L766.0 504.0L769.0 504.8L771.8 506.9L773.2 509.4L773.2 512.4L772.0 514.9L769.5 516.9ZM700.0 447.4L689.5 446.5L680.0 443.2L676.0 440.7L672.1 437.4L669.2 433.9L666.9 429.9L665.5 425.9L665.0 421.4L665.3 417.4L666.4 413.4L668.3 409.4L670.9 405.9L674.5 402.4L678.5 399.7L684.0 397.1L690.5 395.3L697.0 394.6L703.5 394.8L728.5 400.0L746.5 408.0L748.5 407.6L754.5 404.2L758.5 404.1L762.0 405.7L765.2 409.4L767.4 415.9L767.3 422.9L765.0 428.9L763.1 431.4L761.0 433.0L758.5 433.9L755.5 434.0L753.0 433.2L748.5 430.5L746.5 430.2L733.0 438.3L728.0 440.6L709.5 446.1ZM707.0 515.9L696.5 515.4L688.0 515.9L683.5 515.4L680.2 514.4L677.8 512.9L676.6 511.4L676.3 509.4L678.0 506.9L681.5 505.1L693.5 503.4L700.0 499.6L703.0 498.5L708.5 498.4L712.0 499.7L714.5 501.8L716.1 504.4L716.6 507.4L715.8 510.4L713.5 513.3L710.5 515.1ZM768.0 520.0L764.0 520.3L760.5 519.5L757.0 517.5L754.9 514.9L753.9 511.9L754.3 508.4L756.1 505.4L759.0 503.1L763.5 501.8L768.5 502.2L772.5 504.1L775.3 507.4L776.2 511.4L775.1 514.9L772.0 518.3Z" fill="none" stroke="#1a1a1a" stroke-width="1.1" stroke-linejoin="round"/>
<path d="M698.8 392.4h1.5v1.5h-1.5zM697.4 499.3h1.5v1.5h-1.5zM671.7 449.0h1.5v1.5h-1.5zM665.3 414.9h1.5v1.5h-1.5zM731.4 452.1h1.5v1.5h-1.5zM681.3 459.8h1.5v1.5h-1.5zM654.8 404.3h1.5v1.5h-1.5zM666.1 438.2h1.5v1.5h-1.5zM674.2 450.0h1.5v1.5h-1.5zM763.3 405.5h1.5v1.5h-1.5zM653.1 382.1h1.5v1.5h-1.5zM759.6 436.8h1.5v1.5h-1.5zM703.2 378.6h1.5v1.5h-1.5zM668.2 449.5h1.5v1.5h-1.5zM661.5 423.5h1.5v1.5h-1.5zM662.4 406.0h1.5v1.5h-1.5zM664.5 431.5h1.5v1.5h-1.5zM773.8 521.2h1.5v1.5h-1.5zM653.0 415.7h1.5v1.5h-1.5zM655.4 429.7h1.5v1.5h-1.5z" fill="#1a1a1a"/>
<path d="M1052.0 510.9L1048.5 509.9L1047.1 508.4L1046.6 506.9L1046.9 504.9L1047.9 503.4L1051.0 501.9L1053.0 502.1L1055.0 503.2L1056.4 504.9L1056.8 506.4L1056.5 508.2L1055.5 509.6ZM1054.5 514.4L1050.5 514.6L1047.0 513.6L1044.0 511.5L1042.4 508.9L1042.0 505.9L1043.0 502.4L1045.0 499.7L1048.0 497.8L1051.5 497.2L1055.0 498.1L1058.5 500.5L1060.9 503.9L1061.4 507.4L1060.5 510.4L1058.0 512.9ZM942.5 414.9L940.5 415.2L939.4 413.9L940.5 413.1L942.0 413.2L942.9 413.9ZM1055.5 518.0L1050.0 518.2L1044.5 516.7L1040.2 513.4L1037.9 509.4L1037.6 504.4L1039.5 499.3L1043.5 494.3L1048.0 491.7L1052.5 491.7L1058.0 494.4L1062.8 498.9L1065.5 503.9L1065.9 508.4L1064.0 512.9L1060.5 516.0ZM944.5 419.0L939.5 419.1L935.5 417.6L933.5 414.9L934.1 411.9L936.5 410.0L940.0 409.1L944.0 409.4L947.5 410.9L949.4 412.9L949.6 415.4L948.0 417.4ZM1016.0 429.9L1011.5 429.3L1007.2 427.4L1004.6 424.9L1004.1 423.4L1004.3 422.4L1006.5 420.8L1011.0 419.9L1015.5 420.4L1019.1 421.9L1021.5 424.4L1021.9 425.9L1021.6 427.4L1019.5 429.2ZM1053.5 520.4L1047.0 519.9L1041.2 517.4L1037.0 513.4L1035.0 508.4L1035.2 502.9L1038.0 496.3L1043.5 489.1L1046.0 487.1L1048.0 486.4L1050.5 486.4L1053.5 487.5L1060.5 492.7L1066.2 499.4L1068.5 505.4L1068.0 510.9L1065.1 515.4L1060.0 518.8ZM944.5 421.0L938.0 420.8L933.0 418.5L931.6 416.9L930.8 414.9L930.8 412.9L931.8 410.9L935.5 408.2L940.5 407.2L946.0 407.9L951.0 410.4L953.5 413.4L953.8 414.9L953.4 416.4L950.0 419.2ZM1021.0 433.9L1012.5 433.3L1004.5 430.5L999.4 427.4L995.0 423.9L993.5 421.9L993.4 419.9L995.0 418.6L997.5 417.7L1007.5 416.3L1015.5 416.7L1021.5 418.7L1024.2 420.4L1026.7 422.9L1028.1 425.4L1028.7 428.4L1028.1 430.9L1026.7 432.4L1024.4 433.4ZM1055.0 521.9L1047.5 521.7L1040.5 519.1L1035.5 514.7L1033.9 511.9L1033.0 508.9L1033.1 502.9L1035.5 496.4L1043.0 483.0L1045.0 480.8L1047.0 479.9L1049.5 480.2L1052.0 481.5L1061.0 489.9L1067.6 497.9L1070.5 504.4L1070.8 507.4L1070.3 510.4L1069.1 513.4L1067.3 515.9L1062.0 519.9ZM945.5 422.5L941.5 422.7L937.5 422.3L934.0 421.1L931.3 419.4L929.5 417.4L928.6 414.9L928.7 412.4L930.1 409.9L932.5 407.9L935.8 406.4L939.5 405.7L943.5 405.8L951.0 408.1L954.8 410.4L957.6 412.9L958.6 415.4L957.0 417.9L952.0 420.7ZM1033.0 439.9L1012.0 436.0L1004.5 433.5L987.5 423.9L983.7 420.4L983.2 417.9L984.8 416.4L988.0 415.2L998.5 414.0L1013.0 413.9L1018.0 414.7L1022.5 416.2L1026.0 418.1L1028.9 420.4L1033.1 426.4L1034.5 430.9L1035.0 435.4L1034.5 438.5ZM1055.5 523.4L1047.0 523.2L1039.5 520.5L1036.5 518.3L1034.0 515.7L1032.3 512.9L1031.1 509.4L1030.9 504.4L1032.2 498.9L1037.1 487.4L1041.7 473.9L1043.5 470.9L1045.0 470.1L1047.0 470.5L1049.0 472.0L1055.0 478.6L1068.9 496.4L1071.1 500.4L1072.4 504.4L1072.7 507.9L1072.2 510.9L1071.0 513.9L1068.8 516.9L1063.0 521.2ZM1056.5 524.5L1048.0 524.5L1040.0 522.1L1034.0 517.7L1031.8 514.9L1030.3 511.9L1029.4 507.4L1029.7 502.9L1036.2 482.9L1037.9 472.9L1038.2 465.4L1037.5 460.4L1035.7 455.9L1030.6 447.4L1027.3 443.4L1024.5 441.4L1021.5 440.1L1009.5 437.2L1003.5 435.1L976.5 420.5L970.5 418.2L967.5 418.0L964.0 418.4L951.3 422.4L945.5 423.6L939.5 423.6L934.5 422.5L929.9 419.9L927.4 416.4L927.2 412.4L929.2 408.9L932.0 406.8L935.5 405.4L939.5 404.7L943.5 404.7L951.0 406.7L963.5 413.1L968.5 414.7L973.5 414.7L992.0 412.2L1012.0 412.2L1017.5 412.9L1022.5 414.3L1026.9 416.4L1030.5 419.0L1034.7 423.9L1037.7 429.9L1040.9 439.9L1044.3 453.9L1046.8 459.9L1056.2 475.9L1070.8 496.9L1073.7 503.4L1074.2 506.9L1073.8 510.4L1072.6 513.9L1070.6 516.9L1068.0 519.5L1064.5 521.8ZM1053.0 526.4L1045.0 525.6L1037.5 522.7L1032.0 518.3L1028.4 512.4L1027.4 508.4L1027.5 503.9L1032.9 484.4L1033.8 476.9L1033.8 469.9L1032.8 463.9L1030.9 458.4L1026.6 449.9L1023.2 445.4L1018.5 442.4L1004.0 437.9L980.0 426.2L972.5 423.5L967.5 422.7L962.0 422.5L942.5 425.2L937.5 424.8L933.0 423.6L928.0 420.5L925.3 416.4L925.3 411.9L927.5 408.2L930.5 405.8L934.5 404.1L939.0 403.3L943.5 403.3L950.0 404.6L962.0 408.9L968.0 409.9L976.5 410.3L998.0 409.7L1017.5 410.7L1026.5 413.4L1033.9 418.4L1038.5 423.9L1042.2 430.9L1050.5 454.9L1056.7 469.9L1063.9 482.9L1073.1 496.9L1076.0 504.4L1076.2 508.4L1075.4 512.4L1073.7 515.9L1070.8 519.4L1067.5 522.1L1063.0 524.4L1058.0 525.8ZM1056.5 528.4L1047.0 528.4L1038.0 525.7L1034.0 523.5L1030.8 520.9L1028.2 517.9L1026.1 514.4L1024.6 509.4L1024.4 504.4L1029.0 485.4L1029.6 478.4L1029.3 471.9L1028.1 465.9L1025.8 459.9L1021.7 451.9L1018.5 447.9L1014.5 445.4L1003.5 441.5L984.2 431.9L972.7 427.4L967.0 426.3L961.0 425.9L940.5 427.1L935.5 426.4L931.0 424.9L925.6 421.4L922.7 416.9L922.2 414.4L922.5 411.9L925.0 407.4L928.5 404.5L933.0 402.5L938.0 401.5L944.0 401.4L949.5 402.4L960.9 405.4L966.5 406.2L1000.0 406.7L1018.5 408.0L1024.0 409.2L1029.0 411.1L1033.5 413.7L1037.6 416.9L1042.4 422.4L1046.4 429.4L1061.0 469.1L1068.0 483.2L1076.3 496.9L1078.9 504.4L1079.1 508.9L1078.2 512.9L1076.7 516.4L1074.0 520.0L1070.5 523.0L1066.0 525.7L1061.5 527.4ZM1058.0 531.4L1047.5 531.6L1042.5 530.7L1037.5 529.1L1033.0 526.9L1029.0 524.1L1025.8 520.9L1023.2 517.4L1020.7 511.4L1020.0 505.4L1020.6 499.9L1023.7 486.4L1023.9 480.9L1023.5 475.1L1022.5 470.8L1020.5 466.0L1017.5 461.5L1014.0 457.6L993.5 441.4L985.5 436.9L975.0 432.4L969.0 430.7L962.0 429.7L938.0 429.4L932.0 428.1L927.0 426.0L921.8 421.9L920.0 419.4L918.9 416.4L918.7 413.4L919.1 410.9L922.1 405.9L925.5 403.0L930.0 400.7L935.0 399.4L940.5 398.8L947.0 399.2L959.5 401.6L966.5 402.4L1013.0 403.6L1021.5 404.7L1029.5 407.0L1036.0 410.1L1042.0 414.6L1047.1 420.4L1051.6 428.4L1066.1 468.4L1073.0 483.3L1080.8 497.4L1082.9 504.4L1083.1 508.9L1082.3 513.4L1080.2 517.9L1077.2 521.9L1073.2 525.4L1068.5 528.2L1063.5 530.2ZM1005.5 474.5L1004.5 474.1L1003.5 472.4L1003.1 468.4L1004.5 464.0L1006.5 462.7L1008.0 464.3L1008.4 468.4L1007.5 472.4L1006.5 473.9ZM1057.0 533.9L1049.0 534.1L1041.5 533.0L1034.5 530.5L1028.0 526.7L1021.7 520.4L1017.7 512.9L1016.1 505.9L1016.0 494.4L1015.5 492.1L1014.0 491.7L1009.0 494.2L1005.5 494.7L1002.5 493.7L999.5 490.9L996.1 483.9L994.3 474.9L994.1 466.9L995.8 454.4L995.6 450.9L994.2 447.4L991.6 444.4L987.6 441.4L982.0 438.4L969.5 433.6L959.0 432.0L937.5 431.3L931.0 429.8L925.5 427.5L919.6 422.9L917.5 419.9L916.4 416.9L916.0 413.4L916.6 410.4L919.9 404.9L923.5 401.8L928.5 399.2L934.0 397.7L939.5 397.0L946.5 397.3L966.0 399.8L1013.0 401.0L1023.0 402.2L1031.5 404.6L1039.0 408.2L1045.1 412.9L1050.7 419.4L1055.2 427.9L1069.5 467.8L1076.5 483.3L1083.7 496.9L1085.4 501.4L1086.1 505.4L1086.0 510.4L1084.7 515.4L1082.4 519.9L1079.0 524.0L1074.5 527.7L1069.0 530.7L1063.5 532.7Z" fill="none" stroke="#1a1a1a" stroke-width="1.1" stroke-linejoin="round"/>
<path d="M1075.6 453.2h1.5v1.5h-1.5zM945.3 506.9h1.5v1.5h-1.5zM1009.7 516.1h1.5v1.5h-1.5zM1026.6 402.4h1.5v1.5h-1.5zM930.1 435.0h1.5v1.5h-1.5zM980.7 448.0h1.5v1.5h-1.5zM973.9 392.4h1.5v1.5h-1.5zM920.7 398.7h1.5v1.5h-1.5zM1003.1 510.8h1.5v1.5h-1.5zM955.3 504.7h1.5v1.5h-1.5zM975.2 482.7h1.5v1.5h-1.5zM1035.3 391.4h1.5v1.5h-1.5zM1050.4 415.4h1.5v1.5h-1.5zM989.9 506.0h1.5v1.5h-1.5zM970.2 501.8h1.5v1.5h-1.5zM940.5 503.3h1.5v1.5h-1.5zM1066.9 456.5h1.5v1.5h-1.5zM990.0 465.5h1.5v1.5h-1.5zM1002.3 506.8h1.5v1.5h-1.5zM923.1 398.8h1.5v1.5h-1.5zM964.3 508.5h1.5v1.5h-1.5zM1000.0 501.7h1.5v1.5h-1.5zM934.8 506.2h1.5v1.5h-1.5zM955.8 513.0h1.5v1.5h-1.5zM978.7 509.2h1.5v1.5h-1.5zM939.8 442.1h1.5v1.5h-1.5zM1067.4 454.5h1.5v1.5h-1.5zM972.4 508.5h1.5v1.5h-1.5zM964.1 436.1h1.5v1.5h-1.5zM949.8 512.6h1.5v1.5h-1.5zM948.1 511.6h1.5v1.5h-1.5zM953.2 442.4h1.5v1.5h-1.5zM1000.3 495.3h1.5v1.5h-1.5zM1053.3 414.8h1.5v1.5h-1.5zM963.5 502.4h1.5v1.5h-1.5zM1087.4 513.2h1.5v1.5h-1.5zM997.6 396.8h1.5v1.5h-1.5zM1090.5 510.1h1.5v1.5h-1.5zM1002.1 507.9h1.5v1.5h-1.5zM973.6 437.1h1.5v1.5h-1.5zM955.1 505.2h1.5v1.5h-1.5zM914.3 421.0h1.5v1.5h-1.5zM1021.8 521.5h1.5v1.5h-1.5zM991.1 509.7h1.5v1.5h-1.5zM944.8 507.6h1.5v1.5h-1.5zM968.9 513.7h1.5v1.5h-1.5zM1056.5 417.0h1.5v1.5h-1.5zM1027.6 527.2h1.5v1.5h-1.5zM984.2 507.5h1.5v1.5h-1.5zM952.2 514.5h1.5v1.5h-1.5zM1039.6 398.0h1.5v1.5h-1.5zM1008.6 509.8h1.5v1.5h-1.5zM1005.6 504.0h1.5v1.5h-1.5zM907.1 518.6h1.5v1.5h-1.5zM1024.8 401.6h1.5v1.5h-1.5zM910.1 428.9h1.5v1.5h-1.5zM991.7 473.9h1.5v1.5h-1.5zM1095.9 521.4h1.5v1.5h-1.5zM952.0 516.9h1.5v1.5h-1.5zM1052.3 535.9h1.5v1.5h-1.5zM1057.8 426.4h1.5v1.5h-1.5zM975.4 441.4h1.5v1.5h-1.5zM927.3 509.5h1.5v1.5h-1.5zM1003.4 515.8h1.5v1.5h-1.5zM912.7 410.2h1.5v1.5h-1.5zM1079.6 477.7h1.5v1.5h-1.5zM994.9 519.7h1.5v1.5h-1.5zM1018.9 521.7h1.5v1.5h-1.5zM983.5 510.9h1.5v1.5h-1.5zM963.4 505.5h1.5v1.5h-1.5zM957.2 509.7h1.5v1.5h-1.5zM923.3 452.7h1.5v1.5h-1.5zM978.0 485.9h1.5v1.5h-1.5zM1007.2 506.4h1.5v1.5h-1.5zM941.9 444.0h1.5v1.5h-1.5zM965.9 434.9h1.5v1.5h-1.5zM1083.1 536.9h1.5v1.5h-1.5zM955.0 465.0h1.5v1.5h-1.5zM960.5 508.5h1.5v1.5h-1.5zM1053.3 540.1h1.5v1.5h-1.5zM1084.1 470.6h1.5v1.5h-1.5zM967.3 511.5h1.5v1.5h-1.5zM968.7 459.7h1.5v1.5h-1.5zM1064.6 429.0h1.5v1.5h-1.5zM1020.1 400.7h1.5v1.5h-1.5zM956.5 509.7h1.5v1.5h-1.5zM1069.6 465.8h1.5v1.5h-1.5zM945.4 502.4h1.5v1.5h-1.5zM996.0 396.4h1.5v1.5h-1.5zM913.6 501.3h1.5v1.5h-1.5zM988.9 499.3h1.5v1.5h-1.5zM973.2 506.7h1.5v1.5h-1.5zM1048.0 537.5h1.5v1.5h-1.5zM1085.2 516.3h1.5v1.5h-1.5zM1074.1 532.1h1.5v1.5h-1.5zM900.6 503.9h1.5v1.5h-1.5zM975.2 397.3h1.5v1.5h-1.5zM924.4 508.0h1.5v1.5h-1.5zM969.4 515.1h1.5v1.5h-1.5zM1081.7 479.5h1.5v1.5h-1.5zM952.5 508.5h1.5v1.5h-1.5zM987.0 504.9h1.5v1.5h-1.5zM923.3 392.4h1.5v1.5h-1.5zM965.1 511.0h1.5v1.5h-1.5zM985.1 504.5h1.5v1.5h-1.5zM944.5 441.5h1.5v1.5h-1.5zM1020.1 399.5h1.5v1.5h-1.5zM979.6 506.1h1.5v1.5h-1.5zM1088.2 494.1h1.5v1.5h-1.5zM995.8 508.3h1.5v1.5h-1.5zM947.2 437.0h1.5v1.5h-1.5zM962.4 505.6h1.5v1.5h-1.5zM1048.9 534.9h1.5v1.5h-1.5zM1063.3 537.0h1.5v1.5h-1.5zM987.4 450.9h1.5v1.5h-1.5zM932.9 513.2h1.5v1.5h-1.5zM937.5 440.8h1.5v1.5h-1.5zM1086.2 498.0h1.5v1.5h-1.5zM979.8 445.0h1.5v1.5h-1.5zM882.5 514.8h1.5v1.5h-1.5zM1037.0 549.7h1.5v1.5h-1.5zM965.8 508.8h1.5v1.5h-1.5zM982.0 508.9h1.5v1.5h-1.5zM939.6 448.8h1.5v1.5h-1.5zM960.4 504.9h1.5v1.5h-1.5zM956.0 440.7h1.5v1.5h-1.5zM996.5 516.5h1.5v1.5h-1.5zM1066.4 425.9h1.5v1.5h-1.5zM968.3 503.8h1.5v1.5h-1.5zM1089.6 492.0h1.5v1.5h-1.5zM980.1 442.8h1.5v1.5h-1.5zM1010.3 500.4h1.5v1.5h-1.5zM930.6 454.0h1.5v1.5h-1.5zM1058.6 541.2h1.5v1.5h-1.5zM932.3 516.0h1.5v1.5h-1.5zM962.4 432.9h1.5v1.5h-1.5zM939.9 506.2h1.5v1.5h-1.5zM970.4 437.1h1.5v1.5h-1.5zM1062.0 537.2h1.5v1.5h-1.5zM958.4 516.8h1.5v1.5h-1.5z" fill="#1a1a1a"/>
<path d="M448.6 684.0L445.1 683.9L442.2 682.4L441.2 679.9L442.4 677.4L444.6 676.2L447.6 675.9L450.1 676.5L452.0 677.9L452.8 679.4L452.5 681.4L451.1 683.0ZM449.6 687.4L446.1 687.6L443.1 687.1L440.2 685.9L438.1 684.2L436.6 681.9L436.3 679.9L436.9 677.4L438.5 675.4L442.6 673.0L447.6 672.4L452.4 673.4L456.0 675.9L457.7 679.4L456.9 682.9L453.8 685.9ZM450.1 690.5L445.6 690.6L441.1 689.8L437.1 688.0L434.1 685.4L432.4 682.4L432.1 678.9L433.2 675.9L435.8 672.9L441.6 670.0L448.6 669.4L455.1 671.0L458.1 672.8L460.1 674.8L461.3 676.9L461.9 679.4L461.7 681.9L460.6 684.4L459.0 686.4L456.3 688.4ZM451.1 693.5L445.1 693.7L439.1 692.6L434.1 690.2L430.3 686.9L428.1 682.9L427.8 678.9L429.1 674.9L432.5 670.9L435.6 668.9L439.6 667.3L444.1 666.4L448.6 666.3L453.1 666.9L457.4 668.4L460.8 670.4L463.6 673.0L465.4 675.9L466.3 678.9L466.0 682.4L464.8 685.4L462.6 688.1L459.6 690.4L455.6 692.3ZM449.6 696.9L442.1 696.7L435.1 694.8L429.3 691.4L425.1 686.7L423.2 681.4L423.9 675.9L426.9 670.9L431.8 666.9L436.6 664.7L441.6 663.4L447.1 663.0L452.6 663.5L457.6 664.8L462.2 666.9L466.2 669.9L469.0 673.4L470.5 676.9L470.9 680.9L469.9 684.9L467.8 688.4L464.6 691.5L460.1 694.2L455.1 696.0ZM452.6 700.0L443.6 700.2L435.1 698.5L427.6 694.9L422.1 689.9L419.0 683.9L418.6 677.9L420.8 671.9L425.8 666.4L430.6 663.3L436.6 661.0L443.1 659.8L450.1 659.8L456.6 660.8L462.6 663.0L468.1 666.3L472.1 670.2L474.9 674.9L476.0 679.4L475.5 683.9L473.7 687.9L470.1 692.1L465.1 695.8L459.1 698.4ZM507.6 769.4L504.6 769.7L502.1 768.9L500.8 767.4L501.0 765.9L502.6 764.5L504.6 763.8L507.1 763.7L509.1 764.4L510.2 765.4L510.4 766.9L509.5 768.4ZM452.6 702.9L442.6 703.1L432.6 700.9L424.1 696.6L418.2 690.9L416.1 687.4L414.9 683.9L414.4 680.4L414.7 676.9L415.8 673.4L417.6 669.9L420.1 666.9L423.5 663.9L429.6 660.3L436.6 657.9L444.1 656.8L452.1 657.0L459.6 658.5L466.1 661.1L471.8 664.9L476.7 669.9L479.7 674.9L481.3 679.9L481.3 683.9L479.4 687.9L474.2 693.4L467.6 698.1L460.6 701.2ZM508.1 775.0L500.6 774.7L497.1 773.5L494.6 772.0L492.7 769.9L491.9 767.9L492.1 765.4L493.2 763.4L495.3 761.4L498.1 759.9L505.6 757.7L511.6 757.5L515.6 759.4L517.5 761.4L518.8 763.9L519.1 766.4L518.4 768.9L517.1 770.9L514.6 772.8ZM453.6 704.4L443.1 704.7L432.6 702.7L423.6 698.5L420.1 695.8L416.8 692.4L414.4 688.9L412.8 684.9L412.2 681.4L412.3 677.4L413.4 673.4L415.1 669.9L417.8 666.4L421.1 663.3L429.6 658.4L439.6 655.7L450.1 655.2L460.6 657.1L468.1 660.2L474.1 664.2L478.3 668.4L486.1 678.4L488.1 679.4L494.1 679.7L497.1 680.7L499.6 682.9L501.8 686.9L503.0 691.4L503.1 695.9L502.1 698.9L500.1 700.4L496.6 700.7L493.1 699.5L490.4 697.4L485.9 691.9L483.1 690.9L480.1 692.1L471.6 697.9L466.1 700.9L460.1 703.1ZM514.6 747.6L513.6 747.3L512.6 746.1L510.6 741.1L507.1 717.6L507.1 708.9L508.1 706.6L509.6 705.9L512.1 706.6L514.1 708.6L515.7 711.9L516.7 716.4L518.6 739.4L517.1 745.0ZM510.1 776.9L501.6 777.2L494.1 774.9L491.2 772.9L489.4 770.9L488.3 768.4L488.3 765.9L490.1 762.2L494.1 759.0L513.6 751.8L516.1 753.7L520.6 759.9L522.3 763.9L522.5 767.4L521.3 770.4L518.6 773.4L514.6 775.6ZM509.6 778.9L501.1 779.0L493.1 776.8L487.6 772.9L486.0 770.4L485.2 767.9L485.8 763.9L488.9 759.9L493.1 757.1L504.4 752.4L506.2 750.9L507.3 748.9L507.4 745.4L504.8 725.4L502.6 713.8L500.6 709.0L498.6 707.2L491.1 703.3L484.6 696.7L482.1 695.5L478.1 696.3L469.1 701.2L463.1 703.7L457.6 705.2L451.1 706.2L443.6 706.2L436.6 705.3L429.6 703.2L423.6 700.3L418.2 696.4L414.1 691.9L411.4 686.9L410.2 681.9L410.5 676.4L412.2 671.4L415.4 666.4L420.1 662.0L427.6 657.6L437.1 654.6L447.6 653.7L457.6 654.8L465.1 657.1L472.1 660.7L476.9 664.4L486.6 673.6L489.1 674.5L497.1 675.9L499.6 677.4L502.1 679.9L504.7 684.4L508.8 694.9L516.1 703.4L519.0 709.9L520.0 715.4L522.1 737.4L520.8 752.4L524.6 761.9L525.4 765.4L524.6 769.9L521.6 773.9L516.1 777.2ZM436.6 771.4L432.6 770.9L429.8 769.4L428.7 767.4L429.5 764.9L432.1 763.3L435.6 762.6L439.1 763.0L442.1 764.5L443.3 766.9L442.6 768.9L440.1 770.7ZM510.1 781.5L500.1 781.5L491.1 779.0L487.2 776.9L484.2 774.4L482.4 771.9L481.2 768.9L481.5 763.9L484.6 759.2L489.6 755.6L500.0 750.9L501.8 749.4L502.9 747.4L503.1 741.9L501.2 726.4L499.3 718.4L497.1 714.0L495.0 711.9L488.6 707.4L482.6 701.3L480.1 700.1L476.1 700.7L466.6 704.7L460.6 706.7L454.1 707.9L447.6 708.4L440.6 708.0L433.1 706.6L426.1 704.1L419.6 700.5L414.6 696.4L410.9 691.9L408.3 686.4L407.3 680.9L407.8 675.4L409.9 669.9L413.4 664.9L418.1 660.5L426.6 655.7L436.1 652.7L446.6 651.6L457.1 652.6L464.6 654.6L470.6 657.2L475.6 660.2L486.6 668.4L489.6 669.4L496.1 670.2L499.1 671.3L502.1 673.3L504.9 676.4L512.1 689.7L519.3 699.9L522.1 706.9L523.4 713.4L525.7 736.4L525.3 752.4L528.7 762.4L529.4 765.9L529.1 768.9L528.1 771.4L524.3 775.9L518.1 779.4ZM437.6 774.4L430.6 773.7L425.6 771.1L424.2 769.4L423.6 767.4L423.8 765.4L425.1 763.4L429.6 760.6L435.6 759.5L441.6 760.3L446.4 762.9L447.7 764.4L448.4 766.4L447.5 769.9L443.6 772.9ZM509.6 784.4L498.6 784.2L489.1 781.7L485.1 779.7L481.3 776.9L478.6 773.9L477.1 770.9L476.4 767.9L476.6 764.9L477.6 761.9L479.6 758.9L485.1 754.3L497.0 748.4L498.6 746.4L499.3 743.4L498.1 730.2L495.5 720.9L493.1 717.4L486.1 711.6L480.7 705.9L478.6 704.6L476.1 704.4L462.6 708.6L455.6 710.1L446.6 710.7L438.1 710.0L429.6 708.1L421.1 704.5L414.3 699.9L409.1 694.4L406.3 689.9L404.7 685.4L404.0 680.4L404.4 675.9L406.0 670.9L408.5 666.4L411.8 662.4L416.1 658.7L424.6 653.8L434.6 650.6L445.6 649.3L456.1 650.0L463.6 651.7L470.1 654.1L486.6 663.6L496.1 664.9L500.1 666.1L504.1 668.7L507.6 672.5L515.1 685.3L521.8 695.4L525.3 703.9L526.8 711.9L529.2 735.4L529.4 751.9L533.2 762.4L533.8 766.4L533.4 769.9L532.1 772.9L529.8 775.9L527.1 778.3L519.6 782.2ZM438.1 776.4L434.1 776.4L429.6 775.7L426.1 774.4L423.1 772.5L421.2 770.4L420.2 767.9L420.4 765.4L421.7 762.9L424.1 760.7L427.1 759.1L434.6 757.5L442.6 758.4L446.1 759.7L448.8 761.4L450.7 763.4L451.7 765.9L451.7 768.4L450.5 770.9L448.4 772.9L445.6 774.6Z" fill="none" stroke="#1a1a1a" stroke-width="1.1" stroke-linejoin="round"/>
<path d="M414.5 646.8h1.5v1.5h-1.5zM442.3 634.7h1.5v1.5h-1.5zM536.2 774.3h1.5v1.5h-1.5zM475.9 656.2h1.5v1.5h-1.5zM502.0 658.9h1.5v1.5h-1.5zM455.7 649.6h1.5v1.5h-1.5zM460.9 721.5h1.5v1.5h-1.5zM503.6 665.0h1.5v1.5h-1.5zM468.3 648.6h1.5v1.5h-1.5zM444.6 746.7h1.5v1.5h-1.5zM408.3 702.5h1.5v1.5h-1.5zM468.0 730.9h1.5v1.5h-1.5zM492.0 734.6h1.5v1.5h-1.5zM469.0 713.8h1.5v1.5h-1.5zM487.1 750.8h1.5v1.5h-1.5zM422.5 650.4h1.5v1.5h-1.5zM455.6 716.5h1.5v1.5h-1.5zM429.6 644.6h1.5v1.5h-1.5zM413.6 711.0h1.5v1.5h-1.5zM431.0 708.8h1.5v1.5h-1.5zM412.4 707.4h1.5v1.5h-1.5zM536.4 764.5h1.5v1.5h-1.5zM474.3 707.4h1.5v1.5h-1.5zM513.6 785.7h1.5v1.5h-1.5zM456.8 645.0h1.5v1.5h-1.5zM403.9 673.3h1.5v1.5h-1.5zM463.0 720.6h1.5v1.5h-1.5zM484.7 753.1h1.5v1.5h-1.5zM403.3 665.9h1.5v1.5h-1.5zM450.6 737.5h1.5v1.5h-1.5zM534.8 757.0h1.5v1.5h-1.5zM465.9 723.5h1.5v1.5h-1.5zM439.6 642.6h1.5v1.5h-1.5zM453.8 711.5h1.5v1.5h-1.5zM408.6 698.7h1.5v1.5h-1.5zM536.2 767.6h1.5v1.5h-1.5zM405.5 654.1h1.5v1.5h-1.5zM443.3 729.6h1.5v1.5h-1.5zM406.8 661.3h1.5v1.5h-1.5zM464.9 717.0h1.5v1.5h-1.5zM395.9 691.5h1.5v1.5h-1.5zM404.4 686.6h1.5v1.5h-1.5zM388.8 701.9h1.5v1.5h-1.5zM475.0 715.6h1.5v1.5h-1.5zM446.3 713.2h1.5v1.5h-1.5zM397.8 667.9h1.5v1.5h-1.5zM407.3 693.5h1.5v1.5h-1.5zM445.7 644.4h1.5v1.5h-1.5zM511.8 661.9h1.5v1.5h-1.5zM455.5 734.6h1.5v1.5h-1.5zM442.3 648.1h1.5v1.5h-1.5zM434.7 648.7h1.5v1.5h-1.5zM468.9 717.7h1.5v1.5h-1.5zM522.7 789.2h1.5v1.5h-1.5zM433.9 641.6h1.5v1.5h-1.5zM464.3 752.8h1.5v1.5h-1.5zM457.2 741.1h1.5v1.5h-1.5zM390.1 691.4h1.5v1.5h-1.5zM456.4 712.0h1.5v1.5h-1.5zM481.2 724.1h1.5v1.5h-1.5zM463.4 739.1h1.5v1.5h-1.5zM402.9 660.8h1.5v1.5h-1.5zM422.6 708.6h1.5v1.5h-1.5zM410.5 730.6h1.5v1.5h-1.5zM458.8 718.2h1.5v1.5h-1.5zM429.4 639.9h1.5v1.5h-1.5zM397.8 718.4h1.5v1.5h-1.5zM454.6 725.2h1.5v1.5h-1.5zM419.7 704.1h1.5v1.5h-1.5zM427.3 639.1h1.5v1.5h-1.5z" fill="#1a1a1a"/>
<path d="M693.0 685.9L689.0 685.6L685.7 683.9L684.4 681.4L684.6 679.9L685.5 678.5L688.0 677.1L691.0 676.8L694.0 677.4L696.5 679.0L698.0 681.4L697.8 683.4L696.0 685.1ZM695.0 689.9L687.0 689.5L683.5 688.2L680.9 686.4L679.0 683.9L678.3 681.4L678.9 678.4L680.5 676.0L685.0 673.3L690.5 672.4L696.0 673.5L701.0 676.6L704.2 681.4L704.6 683.4L704.3 685.4L703.0 687.1L701.0 688.4ZM697.0 690.9L692.0 691.3L687.5 690.9L683.5 689.7L680.0 687.5L677.7 684.9L676.7 681.9L676.9 678.9L678.6 675.9L680.8 673.9L683.5 672.4L689.5 671.2L696.0 672.1L701.5 675.2L703.7 677.4L705.7 680.4L706.5 682.9L706.5 685.4L705.5 687.4L703.6 688.9ZM794.0 730.1L791.0 729.9L788.5 727.8L786.5 723.9L785.6 718.9L785.9 713.9L787.3 709.9L789.5 707.1L792.5 705.8L795.5 706.6L797.9 708.9L799.6 712.4L800.5 716.9L800.3 721.4L799.0 725.5L797.0 728.3ZM695.5 692.4L690.0 692.5L685.0 691.6L680.9 689.9L677.6 687.4L675.6 684.4L674.9 680.9L675.7 677.4L677.8 674.4L680.4 672.4L683.5 671.0L687.0 670.1L691.0 669.9L698.0 671.4L704.0 675.4L706.5 678.4L708.2 681.9L708.8 684.9L708.2 687.4L706.5 689.3L704.0 690.7ZM795.0 739.4L792.5 739.2L790.5 738.4L786.5 734.2L783.6 727.9L782.2 720.4L782.5 713.4L784.5 706.9L788.0 702.3L790.0 701.0L792.5 700.4L795.0 700.7L797.0 701.6L800.8 705.4L803.5 711.4L804.7 718.4L804.3 725.9L802.4 732.4L799.0 737.4ZM696.5 693.9L690.0 694.0L684.5 693.1L679.5 691.1L675.9 688.4L673.5 684.9L672.7 680.9L673.6 676.9L676.2 673.4L679.0 671.2L682.5 669.6L686.5 668.6L691.0 668.3L695.5 668.9L699.5 670.3L703.0 672.3L706.0 674.8L708.8 678.4L710.9 682.4L711.5 685.9L710.9 688.4L709.0 690.6L706.0 692.1ZM795.5 746.9L792.5 746.8L790.0 745.6L787.5 743.5L784.8 739.9L780.9 730.9L779.1 720.4L779.7 710.9L782.4 702.9L784.5 699.8L787.0 697.4L789.5 696.0L792.5 695.3L795.5 695.7L798.0 696.8L800.5 698.7L803.0 701.7L806.6 709.4L808.2 718.9L807.7 728.9L805.0 737.9L803.0 741.4L800.5 744.3L798.0 746.1ZM700.0 695.4L692.0 695.8L685.5 695.2L680.0 693.5L675.5 690.8L672.0 686.9L670.4 682.4L670.8 677.9L673.2 673.4L676.0 670.8L680.0 668.5L684.5 667.1L689.0 666.6L693.5 666.8L698.0 667.7L702.0 669.4L706.0 672.1L709.8 675.9L713.0 680.9L714.4 684.9L714.3 688.4L713.0 690.9L710.0 693.1L706.0 694.5ZM794.5 754.4L791.5 754.1L788.5 752.4L785.5 748.9L782.5 744.1L779.9 738.4L777.9 732.4L776.6 725.9L776.0 719.4L776.8 708.4L778.2 703.4L780.1 699.4L782.5 695.8L785.5 692.9L789.0 691.0L792.5 690.3L796.0 690.8L799.5 692.3L802.6 694.9L805.5 698.6L808.0 703.4L809.7 708.4L810.9 714.4L811.4 720.4L810.5 732.4L809.0 738.2L807.0 743.1L804.5 747.3L801.3 750.9L798.0 753.3ZM701.5 697.4L692.0 697.8L685.0 697.1L678.5 695.2L673.2 691.9L669.3 687.4L667.6 682.4L668.1 677.4L670.9 672.4L674.1 669.4L678.5 666.9L683.5 665.2L688.5 664.6L694.0 664.8L699.0 665.8L703.5 667.7L707.6 670.4L712.1 674.9L716.1 680.9L717.8 685.4L717.8 689.4L716.2 692.4L713.0 694.9L708.5 696.4ZM792.0 762.9L789.0 762.8L786.5 762.0L784.5 760.4L783.3 758.4L774.8 733.4L773.1 724.4L772.6 715.9L773.1 709.4L774.1 703.9L776.0 698.4L778.5 693.9L781.5 690.2L785.0 687.4L789.0 685.6L793.0 685.1L797.5 685.9L801.5 688.1L805.5 691.8L808.6 696.4L811.3 702.4L813.2 708.9L814.3 715.9L814.6 723.4L814.1 730.9L812.7 737.9L810.6 744.4L808.0 749.8L804.5 755.0L800.5 759.1L796.5 761.7ZM700.0 699.9L690.0 700.0L682.0 698.8L675.0 696.2L669.7 692.4L666.0 687.4L664.5 681.4L665.6 675.4L669.0 670.3L673.0 667.0L678.0 664.5L684.0 662.8L690.0 662.2L696.0 662.7L702.0 664.3L707.0 666.7L711.5 670.2L716.4 675.9L720.4 682.4L721.7 687.4L721.2 691.4L718.9 694.9L714.5 697.7L709.0 699.1ZM791.0 769.4L785.0 769.3L778.5 768.0L774.0 766.4L771.8 764.4L772.0 762.4L775.3 756.4L775.9 751.9L770.2 728.9L769.1 720.9L768.8 712.9L769.3 705.9L770.8 699.4L773.0 693.9L776.0 688.9L779.5 684.9L784.0 681.7L788.5 679.9L793.0 679.4L798.0 680.3L803.0 683.0L807.1 686.9L811.0 692.5L814.1 699.4L816.2 706.9L817.5 715.4L817.8 723.9L817.1 732.9L815.4 741.4L812.7 749.4L809.2 756.4L805.3 761.9L801.0 765.9L796.5 768.3ZM702.0 702.4L689.5 702.4L681.0 701.2L673.0 698.2L667.0 693.9L662.6 687.9L661.1 681.4L662.3 674.9L666.2 668.9L670.5 665.3L675.5 662.6L682.0 660.6L688.5 659.8L695.5 660.1L702.5 661.5L708.5 663.9L712.8 666.9L719.2 674.4L723.7 681.4L725.6 686.9L725.2 691.9L722.5 696.5L717.5 699.9L711.0 701.8ZM792.0 774.4L783.5 774.1L762.5 771.4L755.3 768.4L753.1 766.4L752.4 764.4L753.1 762.9L755.7 760.9L767.7 755.4L769.7 753.4L770.7 750.9L770.5 746.0L765.8 726.9L764.0 713.9L764.5 702.4L767.3 692.4L771.9 684.4L777.8 678.4L784.5 674.6L788.0 673.6L792.0 673.2L797.5 674.0L803.0 676.5L808.2 680.9L812.7 686.9L816.1 693.9L818.9 702.4L820.6 711.9L821.2 721.9L820.6 732.4L818.8 742.4L815.8 751.9L811.9 760.4L808.0 766.2L803.5 770.4L798.0 773.2ZM708.5 704.9L692.0 705.1L682.5 704.2L674.0 701.7L666.5 697.4L660.8 691.4L658.9 687.9L657.8 683.9L657.6 679.9L658.2 676.4L659.5 672.9L661.7 669.4L666.1 664.9L672.0 661.2L678.5 658.7L686.0 657.4L697.5 657.7L717.0 661.9L719.5 661.7L727.3 659.4L734.5 658.7L742.9 659.4L746.3 660.4L747.9 661.4L748.1 662.4L747.0 663.4L741.6 664.9L733.5 665.3L722.0 664.6L719.8 665.4L719.3 666.9L720.0 669.4L726.3 678.9L728.7 683.9L729.7 688.4L729.3 692.4L726.7 697.4L722.5 701.1L716.5 703.7ZM794.0 778.9L787.5 778.8L763.0 776.3L742.5 772.2L739.0 770.5L736.5 768.0L735.0 764.9L734.4 760.9L734.8 754.9L736.2 747.4L737.5 743.6L739.5 741.4L741.0 741.3L742.0 742.0L746.7 750.9L748.5 752.8L750.5 753.8L754.0 754.3L759.0 753.4L762.8 751.9L765.0 749.9L765.9 747.4L765.6 743.4L759.7 722.9L757.6 711.9L757.4 702.4L759.1 693.4L761.2 687.9L763.6 683.4L766.9 678.9L771.0 674.8L775.5 671.4L780.0 669.0L785.0 667.3L790.0 666.6L796.5 667.2L803.0 669.8L809.0 674.4L813.9 680.4L818.3 688.4L821.4 696.9L823.6 707.4L824.5 717.9L824.3 729.4L822.7 740.9L819.8 751.9L815.3 762.9L811.3 769.4L806.5 774.1L800.5 777.5ZM711.5 707.4L692.5 707.5L682.5 706.7L673.0 704.1L665.0 699.8L661.1 696.4L658.1 692.9L655.9 688.9L654.6 684.9L654.2 680.4L654.8 676.4L656.2 672.4L658.6 668.4L664.0 663.0L670.5 659.0L678.5 656.2L687.0 654.9L696.5 655.1L713.5 657.8L731.5 656.2L743.5 656.5L755.0 658.6L759.5 660.4L761.7 661.9L762.5 663.4L761.9 664.4L757.3 665.9L745.5 667.5L729.0 668.2L725.7 669.4L725.3 670.4L725.6 671.9L730.6 679.9L732.8 684.9L733.6 689.9L732.7 694.4L729.7 699.4L725.0 703.3L718.5 706.2ZM796.5 783.0L789.5 783.0L776.0 781.0L740.0 777.3L736.2 775.4L733.0 772.3L730.7 768.4L729.5 763.4L729.9 754.9L732.2 738.9L735.0 731.8L737.0 729.2L739.0 727.6L741.5 726.8L743.5 727.0L745.5 728.1L747.0 729.8L748.7 733.9L750.8 744.4L752.5 747.4L754.0 748.4L756.5 748.6L758.7 747.9L760.2 746.4L760.7 743.9L760.0 740.7L752.9 725.9L750.7 717.4L750.0 710.4L750.1 702.9L750.8 696.4L752.2 690.4L756.8 679.9L767.0 665.5L776.0 662.2L786.5 660.2L794.5 660.5L801.5 662.6L808.0 666.7L814.0 672.7L819.3 680.9L823.2 689.9L825.8 699.9L827.4 710.9L827.7 724.4L826.4 737.9L823.6 750.4L819.2 763.4L815.1 770.9L810.0 776.5L803.5 780.9Z" fill="none" stroke="#1a1a1a" stroke-width="1.1" stroke-linejoin="round"/>
<path d="M735.0 700.0h1.5v1.5h-1.5zM779.5 645.1h1.5v1.5h-1.5zM666.6 765.0h1.5v1.5h-1.5zM829.9 717.2h1.5v1.5h-1.5zM757.9 802.5h1.5v1.5h-1.5zM713.0 765.4h1.5v1.5h-1.5zM750.0 692.0h1.5v1.5h-1.5zM775.1 791.1h1.5v1.5h-1.5zM800.0 656.5h1.5v1.5h-1.5zM748.0 715.6h1.5v1.5h-1.5zM789.8 790.4h1.5v1.5h-1.5zM718.2 754.5h1.5v1.5h-1.5zM833.1 733.8h1.5v1.5h-1.5zM836.5 690.6h1.5v1.5h-1.5zM742.1 716.3h1.5v1.5h-1.5zM744.0 718.2h1.5v1.5h-1.5zM751.2 638.1h1.5v1.5h-1.5zM752.0 784.5h1.5v1.5h-1.5zM823.3 755.1h1.5v1.5h-1.5zM828.3 771.0h1.5v1.5h-1.5zM826.3 675.7h1.5v1.5h-1.5zM837.4 734.7h1.5v1.5h-1.5zM784.8 788.0h1.5v1.5h-1.5zM818.0 772.7h1.5v1.5h-1.5zM832.6 707.1h1.5v1.5h-1.5zM709.6 774.0h1.5v1.5h-1.5zM750.6 676.8h1.5v1.5h-1.5zM695.9 644.7h1.5v1.5h-1.5zM781.0 658.9h1.5v1.5h-1.5zM730.7 671.5h1.5v1.5h-1.5zM739.7 709.3h1.5v1.5h-1.5zM828.3 697.4h1.5v1.5h-1.5zM692.0 718.1h1.5v1.5h-1.5zM771.1 660.6h1.5v1.5h-1.5zM820.8 676.5h1.5v1.5h-1.5zM676.9 766.0h1.5v1.5h-1.5zM830.3 735.9h1.5v1.5h-1.5zM701.6 654.8h1.5v1.5h-1.5zM790.0 638.6h1.5v1.5h-1.5zM654.2 644.1h1.5v1.5h-1.5zM783.1 638.1h1.5v1.5h-1.5zM824.9 670.6h1.5v1.5h-1.5zM701.7 717.0h1.5v1.5h-1.5zM751.2 681.2h1.5v1.5h-1.5zM822.9 755.6h1.5v1.5h-1.5zM788.5 649.5h1.5v1.5h-1.5zM827.6 705.5h1.5v1.5h-1.5zM679.0 652.7h1.5v1.5h-1.5zM831.2 725.7h1.5v1.5h-1.5zM714.3 656.7h1.5v1.5h-1.5z" fill="#1a1a1a"/>
<path d="M1044.0 702.1L1042.5 702.2L1041.0 701.2L1040.0 699.4L1039.4 696.9L1040.4 691.9L1041.5 690.4L1043.0 689.6L1044.5 689.9L1045.5 690.8L1046.8 694.9L1046.2 699.4ZM1043.5 710.0L1040.5 709.5L1038.1 707.4L1036.6 703.9L1036.0 699.4L1036.4 694.4L1037.9 689.9L1040.1 686.9L1043.0 685.6L1045.5 686.3L1047.5 688.4L1048.9 691.9L1049.5 695.9L1049.2 700.4L1047.9 704.9L1046.0 708.3ZM1040.5 721.4L1039.0 721.0L1037.5 719.8L1035.0 715.1L1033.5 707.9L1033.5 699.9L1034.5 693.4L1036.8 687.9L1040.0 684.3L1043.5 683.2L1047.0 684.8L1049.4 688.4L1050.8 693.4L1051.0 699.9L1049.5 707.9L1047.0 714.9L1044.0 719.6L1042.5 720.8ZM1041.5 731.9L1039.0 732.0L1037.0 731.1L1035.0 729.1L1033.2 725.9L1031.0 718.1L1030.5 707.9L1031.8 696.9L1034.5 688.4L1036.3 685.4L1038.5 682.9L1041.0 681.5L1043.5 681.1L1045.5 681.6L1047.5 682.9L1050.3 686.9L1052.1 692.9L1052.5 700.4L1051.0 711.8L1048.2 722.9L1045.0 729.2ZM1043.0 739.0L1040.0 739.3L1037.0 738.2L1034.5 736.3L1032.0 733.0L1030.0 728.8L1028.6 723.9L1027.4 712.9L1028.7 699.9L1032.1 688.4L1034.3 684.4L1037.0 681.2L1040.0 679.3L1043.0 678.6L1045.5 679.1L1047.5 680.2L1051.2 684.9L1053.5 691.9L1054.2 700.4L1053.1 714.9L1051.0 725.9L1047.5 734.2L1045.0 737.6ZM1049.5 758.6L1047.5 757.9L1046.6 755.9L1046.6 753.4L1048.0 751.7L1050.0 752.8L1050.9 754.9L1050.7 757.4ZM1050.0 761.5L1047.5 761.2L1045.0 758.5L1043.8 754.9L1042.8 748.4L1042.0 746.8L1034.5 741.5L1030.5 736.6L1027.3 728.9L1025.5 719.4L1025.2 711.9L1025.8 704.4L1027.2 696.9L1029.4 689.9L1032.0 684.4L1035.0 680.4L1038.5 677.6L1042.0 676.5L1044.5 676.6L1047.0 677.6L1051.0 681.5L1054.0 687.9L1055.5 695.9L1055.6 707.9L1054.4 721.4L1052.6 729.4L1048.2 742.4L1048.4 744.9L1052.0 751.1L1053.1 754.9L1052.5 759.0L1051.5 760.6ZM1051.0 763.9L1047.5 764.1L1044.5 762.0L1042.6 759.4L1038.6 751.4L1032.5 745.7L1029.5 741.9L1027.0 737.4L1025.1 732.4L1022.9 720.9L1022.5 712.9L1023.1 704.4L1024.6 696.4L1026.9 688.9L1030.0 682.6L1033.5 677.8L1037.5 674.7L1041.5 673.4L1044.5 673.6L1047.0 674.5L1049.5 676.2L1052.0 679.0L1055.6 686.4L1057.4 695.9L1057.9 707.9L1057.3 719.9L1056.1 727.9L1052.6 741.9L1052.9 745.4L1054.9 752.9L1055.1 756.9L1053.7 761.4ZM1050.5 767.0L1046.5 766.7L1043.0 764.5L1036.5 756.4L1028.0 747.2L1025.0 741.9L1022.7 735.9L1020.9 728.9L1019.9 721.9L1019.5 712.4L1020.2 703.4L1021.9 694.4L1024.5 686.4L1028.0 679.4L1031.8 674.4L1036.4 670.9L1041.0 669.5L1044.5 669.7L1048.0 671.1L1051.0 673.4L1053.9 676.9L1056.1 680.9L1057.9 685.9L1060.1 697.9L1060.7 709.4L1060.3 720.4L1059.2 728.4L1056.1 742.9L1057.2 753.9L1057.1 757.9L1056.2 761.4L1054.8 763.9L1053.0 765.8ZM1050.5 770.0L1047.0 770.0L1043.5 768.7L1032.8 761.4L1029.9 758.4L1024.3 749.4L1020.9 741.9L1018.3 732.9L1016.8 722.9L1016.4 712.4L1017.1 701.9L1018.9 692.4L1021.8 683.4L1025.5 675.9L1030.0 670.1L1035.0 666.3L1040.5 664.7L1044.5 665.0L1048.5 666.6L1052.5 669.8L1055.8 673.9L1058.4 678.9L1060.5 684.9L1063.2 699.9L1063.7 710.4L1063.5 719.9L1062.4 729.4L1059.5 743.4L1059.1 758.9L1058.0 762.9L1056.0 766.4L1053.5 768.7ZM1049.5 773.5L1044.5 773.0L1033.5 769.1L1018.5 767.6L1015.5 766.4L1014.5 764.9L1015.5 762.9L1020.5 759.0L1021.6 756.4L1021.1 753.4L1015.8 737.9L1013.4 723.4L1013.3 706.4L1015.7 690.4L1019.8 677.9L1025.5 668.1L1028.5 664.7L1032.0 661.9L1035.5 660.1L1039.5 659.1L1044.5 659.5L1049.5 661.7L1054.0 665.4L1057.8 670.4L1061.0 676.4L1063.4 683.4L1065.3 691.9L1066.6 701.9L1067.0 712.9L1066.6 723.4L1065.4 732.4L1062.7 745.4L1061.2 760.9L1059.6 765.4L1057.0 769.4L1053.5 772.2ZM1050.0 777.0L1043.5 777.0L1029.3 773.4L1013.5 770.9L1008.0 768.5L1006.4 766.9L1005.8 765.4L1006.1 763.4L1007.3 761.9L1014.5 757.1L1016.1 754.4L1015.8 751.4L1011.3 733.9L1009.7 717.9L1010.4 700.4L1011.7 691.9L1013.8 683.4L1018.3 671.4L1024.5 661.7L1028.0 658.1L1031.5 655.5L1035.5 653.7L1039.0 653.0L1044.5 653.5L1050.0 655.9L1055.0 660.0L1059.6 665.9L1063.3 672.9L1066.2 680.9L1068.4 690.4L1069.8 701.4L1070.4 713.9L1069.7 726.4L1063.6 761.9L1061.6 767.4L1058.5 772.0L1054.5 775.3Z" fill="none" stroke="#1a1a1a" stroke-width="1.1" stroke-linejoin="round"/>
<path d="M981.1 670.3h1.5v1.5h-1.5zM1003.6 706.4h1.5v1.5h-1.5zM981.3 708.2h1.5v1.5h-1.5zM1009.5 756.3h1.5v1.5h-1.5zM1077.8 738.8h1.5v1.5h-1.5zM958.6 761.8h1.5v1.5h-1.5zM936.9 790.3h1.5v1.5h-1.5zM965.4 744.3h1.5v1.5h-1.5zM1024.3 658.9h1.5v1.5h-1.5zM938.4 736.6h1.5v1.5h-1.5zM955.9 690.9h1.5v1.5h-1.5zM1010.5 774.4h1.5v1.5h-1.5zM966.2 749.2h1.5v1.5h-1.5zM984.9 676.0h1.5v1.5h-1.5zM1013.6 773.8h1.5v1.5h-1.5zM1000.0 718.4h1.5v1.5h-1.5zM908.6 774.2h1.5v1.5h-1.5zM975.0 771.2h1.5v1.5h-1.5zM981.9 723.6h1.5v1.5h-1.5zM1009.8 775.3h1.5v1.5h-1.5zM1009.1 729.2h1.5v1.5h-1.5zM976.1 675.7h1.5v1.5h-1.5zM903.8 780.7h1.5v1.5h-1.5zM1004.8 691.5h1.5v1.5h-1.5zM916.6 770.9h1.5v1.5h-1.5zM1004.6 764.2h1.5v1.5h-1.5zM977.0 767.5h1.5v1.5h-1.5zM977.7 720.1h1.5v1.5h-1.5zM969.6 770.8h1.5v1.5h-1.5zM989.1 746.1h1.5v1.5h-1.5zM995.9 681.2h1.5v1.5h-1.5zM1011.6 773.8h1.5v1.5h-1.5zM1005.2 697.2h1.5v1.5h-1.5zM1006.3 687.6h1.5v1.5h-1.5zM977.3 735.8h1.5v1.5h-1.5zM1002.4 752.5h1.5v1.5h-1.5zM1064.9 790.8h1.5v1.5h-1.5zM952.9 765.3h1.5v1.5h-1.5zM974.8 773.4h1.5v1.5h-1.5zM996.4 674.3h1.5v1.5h-1.5zM974.8 699.3h1.5v1.5h-1.5zM961.4 705.0h1.5v1.5h-1.5zM1005.0 761.2h1.5v1.5h-1.5zM1050.1 795.2h1.5v1.5h-1.5zM1006.3 704.5h1.5v1.5h-1.5zM980.5 708.9h1.5v1.5h-1.5zM942.6 665.2h1.5v1.5h-1.5zM1042.5 636.2h1.5v1.5h-1.5zM1018.6 775.7h1.5v1.5h-1.5zM952.0 738.7h1.5v1.5h-1.5zM969.3 778.7h1.5v1.5h-1.5zM1067.5 664.5h1.5v1.5h-1.5zM996.1 745.6h1.5v1.5h-1.5zM986.9 701.7h1.5v1.5h-1.5zM990.6 689.3h1.5v1.5h-1.5zM1006.8 664.5h1.5v1.5h-1.5zM1010.1 699.1h1.5v1.5h-1.5zM988.0 700.9h1.5v1.5h-1.5zM990.9 708.0h1.5v1.5h-1.5zM1009.0 725.0h1.5v1.5h-1.5zM989.9 695.0h1.5v1.5h-1.5zM1037.0 788.1h1.5v1.5h-1.5zM922.7 765.2h1.5v1.5h-1.5zM971.8 775.0h1.5v1.5h-1.5zM993.7 724.0h1.5v1.5h-1.5zM1027.6 774.4h1.5v1.5h-1.5zM991.1 702.8h1.5v1.5h-1.5zM970.1 677.8h1.5v1.5h-1.5zM991.5 798.0h1.5v1.5h-1.5zM978.7 705.1h1.5v1.5h-1.5zM952.1 778.5h1.5v1.5h-1.5zM991.3 734.3h1.5v1.5h-1.5zM966.4 705.2h1.5v1.5h-1.5zM971.2 720.5h1.5v1.5h-1.5zM963.6 766.5h1.5v1.5h-1.5zM982.6 687.4h1.5v1.5h-1.5zM964.6 764.6h1.5v1.5h-1.5zM979.9 764.5h1.5v1.5h-1.5zM900.4 766.1h1.5v1.5h-1.5zM974.8 700.8h1.5v1.5h-1.5zM976.3 771.3h1.5v1.5h-1.5zM979.6 762.9h1.5v1.5h-1.5zM958.5 695.3h1.5v1.5h-1.5zM992.9 676.2h1.5v1.5h-1.5zM989.8 765.4h1.5v1.5h-1.5zM1080.3 741.5h1.5v1.5h-1.5zM1071.0 681.1h1.5v1.5h-1.5zM952.6 765.9h1.5v1.5h-1.5zM977.5 770.0h1.5v1.5h-1.5zM1077.6 635.9h1.5v1.5h-1.5zM993.8 720.4h1.5v1.5h-1.5zM922.2 698.6h1.5v1.5h-1.5zM958.5 720.9h1.5v1.5h-1.5zM998.5 719.1h1.5v1.5h-1.5zM974.4 696.4h1.5v1.5h-1.5zM981.2 736.2h1.5v1.5h-1.5zM986.0 776.4h1.5v1.5h-1.5zM1061.9 667.5h1.5v1.5h-1.5zM1071.4 716.1h1.5v1.5h-1.5zM1027.2 647.6h1.5v1.5h-1.5zM931.3 772.9h1.5v1.5h-1.5zM1073.3 655.3h1.5v1.5h-1.5zM991.7 724.3h1.5v1.5h-1.5zM1005.7 674.9h1.5v1.5h-1.5zM997.7 763.1h1.5v1.5h-1.5zM967.7 705.4h1.5v1.5h-1.5zM1005.2 706.4h1.5v1.5h-1.5zM1065.5 667.5h1.5v1.5h-1.5zM1072.7 714.3h1.5v1.5h-1.5zM950.0 731.8h1.5v1.5h-1.5zM972.6 754.9h1.5v1.5h-1.5zM960.6 765.2h1.5v1.5h-1.5zM993.3 769.3h1.5v1.5h-1.5zM1059.7 644.0h1.5v1.5h-1.5zM956.2 721.1h1.5v1.5h-1.5zM958.3 683.6h1.5v1.5h-1.5zM992.8 698.1h1.5v1.5h-1.5zM1000.9 704.9h1.5v1.5h-1.5zM984.9 700.8h1.5v1.5h-1.5zM977.1 697.6h1.5v1.5h-1.5zM958.9 773.9h1.5v1.5h-1.5zM1053.6 781.6h1.5v1.5h-1.5zM967.8 773.0h1.5v1.5h-1.5zM966.9 740.7h1.5v1.5h-1.5zM970.4 680.3h1.5v1.5h-1.5zM965.4 767.6h1.5v1.5h-1.5zM957.9 770.2h1.5v1.5h-1.5zM959.9 736.2h1.5v1.5h-1.5zM1013.8 752.5h1.5v1.5h-1.5zM959.9 761.8h1.5v1.5h-1.5zM961.4 766.0h1.5v1.5h-1.5zM967.2 768.6h1.5v1.5h-1.5zM1058.3 655.2h1.5v1.5h-1.5zM981.7 721.2h1.5v1.5h-1.5zM961.1 766.9h1.5v1.5h-1.5zM952.5 773.9h1.5v1.5h-1.5zM927.6 776.5h1.5v1.5h-1.5zM1022.0 644.0h1.5v1.5h-1.5zM1046.6 647.1h1.5v1.5h-1.5zM1081.2 731.6h1.5v1.5h-1.5zM1044.0 614.5h1.5v1.5h-1.5zM936.9 766.3h1.5v1.5h-1.5zM979.3 767.0h1.5v1.5h-1.5zM976.7 700.7h1.5v1.5h-1.5zM1010.0 735.3h1.5v1.5h-1.5zM956.2 766.4h1.5v1.5h-1.5zM1031.7 775.9h1.5v1.5h-1.5zM965.9 771.8h1.5v1.5h-1.5zM983.1 774.3h1.5v1.5h-1.5zM1002.6 747.7h1.5v1.5h-1.5zM927.8 762.7h1.5v1.5h-1.5zM990.2 775.0h1.5v1.5h-1.5zM924.8 772.5h1.5v1.5h-1.5zM989.8 771.9h1.5v1.5h-1.5zM923.4 769.0h1.5v1.5h-1.5zM1060.9 665.7h1.5v1.5h-1.5zM960.9 765.3h1.5v1.5h-1.5zM1006.1 770.1h1.5v1.5h-1.5zM1000.5 764.2h1.5v1.5h-1.5zM940.6 667.0h1.5v1.5h-1.5zM996.8 699.0h1.5v1.5h-1.5zM979.1 770.8h1.5v1.5h-1.5zM989.4 704.0h1.5v1.5h-1.5zM1075.3 685.7h1.5v1.5h-1.5zM986.6 671.2h1.5v1.5h-1.5zM1052.3 646.1h1.5v1.5h-1.5zM1031.0 642.9h1.5v1.5h-1.5zM1013.5 774.9h1.5v1.5h-1.5zM965.8 767.7h1.5v1.5h-1.5zM991.1 748.7h1.5v1.5h-1.5zM983.8 681.3h1.5v1.5h-1.5zM1019.8 780.4h1.5v1.5h-1.5zM1022.8 660.4h1.5v1.5h-1.5zM959.6 763.5h1.5v1.5h-1.5zM953.0 769.7h1.5v1.5h-1.5zM974.0 730.4h1.5v1.5h-1.5zM1059.7 658.1h1.5v1.5h-1.5zM968.7 731.2h1.5v1.5h-1.5zM989.7 768.5h1.5v1.5h-1.5zM967.7 767.9h1.5v1.5h-1.5zM923.4 768.0h1.5v1.5h-1.5zM974.1 764.2h1.5v1.5h-1.5zM911.0 769.6h1.5v1.5h-1.5zM954.1 761.8h1.5v1.5h-1.5zM974.9 703.0h1.5v1.5h-1.5zM1068.3 673.8h1.5v1.5h-1.5zM996.2 765.0h1.5v1.5h-1.5zM1006.4 698.5h1.5v1.5h-1.5zM1020.8 657.4h1.5v1.5h-1.5zM968.8 742.9h1.5v1.5h-1.5zM965.6 762.3h1.5v1.5h-1.5zM972.1 732.7h1.5v1.5h-1.5zM956.7 700.8h1.5v1.5h-1.5zM1003.7 769.4h1.5v1.5h-1.5zM1065.5 645.3h1.5v1.5h-1.5zM918.4 690.8h1.5v1.5h-1.5zM1016.3 664.5h1.5v1.5h-1.5zM927.3 767.1h1.5v1.5h-1.5zM1067.8 685.5h1.5v1.5h-1.5zM977.2 738.8h1.5v1.5h-1.5zM962.3 766.8h1.5v1.5h-1.5zM1081.6 736.2h1.5v1.5h-1.5zM1008.8 722.3h1.5v1.5h-1.5zM992.5 774.6h1.5v1.5h-1.5zM1002.4 643.3h1.5v1.5h-1.5zM993.4 690.6h1.5v1.5h-1.5zM976.8 771.5h1.5v1.5h-1.5zM995.7 768.2h1.5v1.5h-1.5zM982.5 717.9h1.5v1.5h-1.5zM970.3 763.9h1.5v1.5h-1.5zM1001.4 772.1h1.5v1.5h-1.5zM971.7 732.5h1.5v1.5h-1.5zM987.8 745.3h1.5v1.5h-1.5zM978.7 774.7h1.5v1.5h-1.5zM965.3 734.9h1.5v1.5h-1.5zM927.5 763.6h1.5v1.5h-1.5zM957.7 703.0h1.5v1.5h-1.5zM994.3 724.4h1.5v1.5h-1.5zM985.7 764.7h1.5v1.5h-1.5zM1014.1 756.5h1.5v1.5h-1.5zM936.2 766.3h1.5v1.5h-1.5zM1055.8 653.4h1.5v1.5h-1.5zM1008.4 729.7h1.5v1.5h-1.5zM964.2 764.1h1.5v1.5h-1.5zM1072.3 728.7h1.5v1.5h-1.5zM986.6 721.5h1.5v1.5h-1.5zM957.4 769.4h1.5v1.5h-1.5zM1025.3 655.2h1.5v1.5h-1.5zM979.0 707.1h1.5v1.5h-1.5zM943.0 707.8h1.5v1.5h-1.5zM1010.6 773.3h1.5v1.5h-1.5zM977.2 669.9h1.5v1.5h-1.5zM933.6 768.6h1.5v1.5h-1.5zM1090.0 724.0h1.5v1.5h-1.5zM932.1 762.1h1.5v1.5h-1.5zM959.7 766.8h1.5v1.5h-1.5zM969.0 764.6h1.5v1.5h-1.5zM986.5 753.1h1.5v1.5h-1.5zM1072.3 719.1h1.5v1.5h-1.5zM954.5 766.8h1.5v1.5h-1.5zM904.4 696.4h1.5v1.5h-1.5zM1008.4 703.5h1.5v1.5h-1.5zM1069.7 695.8h1.5v1.5h-1.5zM935.3 726.1h1.5v1.5h-1.5zM987.2 761.8h1.5v1.5h-1.5zM942.6 665.7h1.5v1.5h-1.5zM1002.0 670.9h1.5v1.5h-1.5zM962.2 749.0h1.5v1.5h-1.5zM949.2 728.7h1.5v1.5h-1.5zM960.9 740.1h1.5v1.5h-1.5zM909.7 670.5h1.5v1.5h-1.5zM956.7 678.3h1.5v1.5h-1.5zM950.5 745.7h1.5v1.5h-1.5zM976.4 724.4h1.5v1.5h-1.5zM925.9 738.0h1.5v1.5h-1.5zM983.9 718.4h1.5v1.5h-1.5zM963.5 772.1h1.5v1.5h-1.5zM1005.1 725.9h1.5v1.5h-1.5zM1001.8 760.3h1.5v1.5h-1.5zM991.9 735.7h1.5v1.5h-1.5zM1082.9 688.0h1.5v1.5h-1.5zM1065.7 669.1h1.5v1.5h-1.5zM994.0 769.8h1.5v1.5h-1.5zM1055.6 775.9h1.5v1.5h-1.5zM957.7 766.5h1.5v1.5h-1.5zM995.3 765.5h1.5v1.5h-1.5zM1068.2 683.1h1.5v1.5h-1.5zM973.8 787.4h1.5v1.5h-1.5zM1020.1 775.6h1.5v1.5h-1.5zM991.7 773.4h1.5v1.5h-1.5zM942.7 721.7h1.5v1.5h-1.5zM1060.8 773.2h1.5v1.5h-1.5zM985.0 773.7h1.5v1.5h-1.5zM1028.0 653.3h1.5v1.5h-1.5zM928.9 764.7h1.5v1.5h-1.5zM961.0 744.9h1.5v1.5h-1.5zM934.3 768.0h1.5v1.5h-1.5zM945.1 714.5h1.5v1.5h-1.5zM987.1 713.4h1.5v1.5h-1.5zM999.8 773.3h1.5v1.5h-1.5zM952.4 760.5h1.5v1.5h-1.5zM1090.2 714.0h1.5v1.5h-1.5zM984.6 670.2h1.5v1.5h-1.5zM1069.4 738.2h1.5v1.5h-1.5zM967.7 755.0h1.5v1.5h-1.5zM953.9 770.0h1.5v1.5h-1.5zM1058.3 634.9h1.5v1.5h-1.5zM968.3 685.0h1.5v1.5h-1.5zM918.8 743.3h1.5v1.5h-1.5zM969.9 735.6h1.5v1.5h-1.5zM966.7 698.2h1.5v1.5h-1.5zM979.9 685.1h1.5v1.5h-1.5zM971.6 718.4h1.5v1.5h-1.5zM934.9 732.1h1.5v1.5h-1.5zM994.8 710.2h1.5v1.5h-1.5zM953.6 765.6h1.5v1.5h-1.5zM919.3 766.7h1.5v1.5h-1.5zM930.5 753.8h1.5v1.5h-1.5zM949.0 734.8h1.5v1.5h-1.5zM980.2 763.2h1.5v1.5h-1.5zM1002.3 738.7h1.5v1.5h-1.5zM1006.3 754.7h1.5v1.5h-1.5zM956.9 768.2h1.5v1.5h-1.5zM1070.4 739.9h1.5v1.5h-1.5zM1080.4 740.4h1.5v1.5h-1.5zM967.8 772.5h1.5v1.5h-1.5zM1005.3 769.2h1.5v1.5h-1.5zM1018.1 648.7h1.5v1.5h-1.5zM1001.0 729.3h1.5v1.5h-1.5zM981.6 727.5h1.5v1.5h-1.5zM1063.6 654.3h1.5v1.5h-1.5zM999.6 744.6h1.5v1.5h-1.5zM1015.3 671.3h1.5v1.5h-1.5zM963.2 764.5h1.5v1.5h-1.5zM1073.5 698.2h1.5v1.5h-1.5zM959.3 714.8h1.5v1.5h-1.5zM959.1 714.9h1.5v1.5h-1.5zM1055.0 634.8h1.5v1.5h-1.5zM1007.4 690.3h1.5v1.5h-1.5zM942.3 768.5h1.5v1.5h-1.5zM1045.7 642.5h1.5v1.5h-1.5zM986.4 679.6h1.5v1.5h-1.5zM985.2 726.6h1.5v1.5h-1.5zM957.0 770.0h1.5v1.5h-1.5zM947.6 706.4h1.5v1.5h-1.5zM969.9 679.8h1.5v1.5h-1.5zM983.0 770.6h1.5v1.5h-1.5zM1006.8 755.1h1.5v1.5h-1.5zM996.8 692.4h1.5v1.5h-1.5zM970.9 771.2h1.5v1.5h-1.5zM975.4 755.2h1.5v1.5h-1.5zM968.1 703.0h1.5v1.5h-1.5zM1071.9 668.7h1.5v1.5h-1.5zM937.1 718.5h1.5v1.5h-1.5zM1012.1 670.3h1.5v1.5h-1.5zM916.3 767.4h1.5v1.5h-1.5zM1069.2 733.5h1.5v1.5h-1.5zM986.6 707.2h1.5v1.5h-1.5zM986.3 772.8h1.5v1.5h-1.5zM961.9 769.7h1.5v1.5h-1.5zM991.8 766.1h1.5v1.5h-1.5zM964.4 771.7h1.5v1.5h-1.5zM1001.8 707.8h1.5v1.5h-1.5zM1069.6 689.8h1.5v1.5h-1.5zM1073.9 723.3h1.5v1.5h-1.5zM965.7 697.2h1.5v1.5h-1.5zM967.0 687.9h1.5v1.5h-1.5zM1005.3 689.2h1.5v1.5h-1.5zM992.5 764.2h1.5v1.5h-1.5zM963.6 727.5h1.5v1.5h-1.5zM952.1 699.8h1.5v1.5h-1.5zM987.1 728.6h1.5v1.5h-1.5zM939.1 712.6h1.5v1.5h-1.5zM988.6 699.3h1.5v1.5h-1.5zM1076.0 736.5h1.5v1.5h-1.5zM967.7 763.5h1.5v1.5h-1.5zM995.3 707.4h1.5v1.5h-1.5zM946.0 769.5h1.5v1.5h-1.5zM953.7 773.3h1.5v1.5h-1.5zM951.0 768.4h1.5v1.5h-1.5zM1008.4 772.6h1.5v1.5h-1.5zM971.3 773.2h1.5v1.5h-1.5zM966.7 733.3h1.5v1.5h-1.5zM960.3 772.5h1.5v1.5h-1.5zM1024.9 782.8h1.5v1.5h-1.5zM1067.9 771.4h1.5v1.5h-1.5zM969.3 723.3h1.5v1.5h-1.5zM956.9 759.3h1.5v1.5h-1.5zM974.8 765.4h1.5v1.5h-1.5zM952.7 777.3h1.5v1.5h-1.5zM934.0 761.7h1.5v1.5h-1.5zM999.4 770.6h1.5v1.5h-1.5zM960.6 680.3h1.5v1.5h-1.5zM988.0 724.4h1.5v1.5h-1.5zM1012.5 686.0h1.5v1.5h-1.5zM1026.5 775.9h1.5v1.5h-1.5zM1047.4 635.4h1.5v1.5h-1.5zM977.8 725.0h1.5v1.5h-1.5zM1002.5 808.1h1.5v1.5h-1.5zM938.5 779.2h1.5v1.5h-1.5zM973.1 770.1h1.5v1.5h-1.5zM939.2 766.8h1.5v1.5h-1.5zM1058.4 787.0h1.5v1.5h-1.5zM1060.1 618.9h1.5v1.5h-1.5zM1025.7 781.9h1.5v1.5h-1.5zM990.7 768.3h1.5v1.5h-1.5zM959.9 734.5h1.5v1.5h-1.5zM1013.2 674.3h1.5v1.5h-1.5zM997.5 722.4h1.5v1.5h-1.5zM1072.6 731.2h1.5v1.5h-1.5zM926.5 770.8h1.5v1.5h-1.5zM1033.3 784.7h1.5v1.5h-1.5zM998.2 773.1h1.5v1.5h-1.5zM977.7 723.2h1.5v1.5h-1.5zM988.0 690.2h1.5v1.5h-1.5zM956.7 767.7h1.5v1.5h-1.5zM1064.1 778.4h1.5v1.5h-1.5zM976.9 720.0h1.5v1.5h-1.5zM1002.3 725.6h1.5v1.5h-1.5zM1004.6 682.5h1.5v1.5h-1.5zM983.2 774.4h1.5v1.5h-1.5zM951.4 712.3h1.5v1.5h-1.5zM1014.9 810.6h1.5v1.5h-1.5zM924.5 717.5h1.5v1.5h-1.5zM985.8 758.1h1.5v1.5h-1.5zM1037.0 647.0h1.5v1.5h-1.5zM993.1 769.7h1.5v1.5h-1.5zM994.6 771.1h1.5v1.5h-1.5zM991.7 736.6h1.5v1.5h-1.5zM1002.2 696.3h1.5v1.5h-1.5zM1002.9 701.7h1.5v1.5h-1.5zM995.4 696.4h1.5v1.5h-1.5zM981.1 765.5h1.5v1.5h-1.5zM1010.4 738.3h1.5v1.5h-1.5zM995.2 731.6h1.5v1.5h-1.5zM994.8 722.0h1.5v1.5h-1.5zM992.4 702.2h1.5v1.5h-1.5zM982.2 769.3h1.5v1.5h-1.5zM973.3 687.2h1.5v1.5h-1.5zM939.8 677.0h1.5v1.5h-1.5zM911.3 772.0h1.5v1.5h-1.5zM998.5 745.4h1.5v1.5h-1.5zM963.3 697.3h1.5v1.5h-1.5zM969.4 770.3h1.5v1.5h-1.5zM933.5 776.2h1.5v1.5h-1.5zM959.8 770.9h1.5v1.5h-1.5zM969.8 764.6h1.5v1.5h-1.5zM973.0 770.4h1.5v1.5h-1.5zM1020.0 666.0h1.5v1.5h-1.5zM996.4 773.6h1.5v1.5h-1.5zM989.2 761.0h1.5v1.5h-1.5zM966.4 770.2h1.5v1.5h-1.5zM1004.9 748.6h1.5v1.5h-1.5zM990.3 760.2h1.5v1.5h-1.5zM977.4 769.9h1.5v1.5h-1.5zM1001.5 738.2h1.5v1.5h-1.5zM941.8 708.4h1.5v1.5h-1.5zM1024.1 777.6h1.5v1.5h-1.5zM968.9 724.3h1.5v1.5h-1.5zM1000.3 740.0h1.5v1.5h-1.5zM1033.5 790.4h1.5v1.5h-1.5zM959.2 721.3h1.5v1.5h-1.5zM988.2 761.9h1.5v1.5h-1.5zM938.9 766.2h1.5v1.5h-1.5zM1046.3 648.3h1.5v1.5h-1.5zM1002.8 769.5h1.5v1.5h-1.5zM977.5 737.0h1.5v1.5h-1.5zM968.3 721.0h1.5v1.5h-1.5zM985.3 765.6h1.5v1.5h-1.5zM948.8 731.1h1.5v1.5h-1.5zM1070.8 747.7h1.5v1.5h-1.5zM970.4 701.4h1.5v1.5h-1.5zM967.4 766.7h1.5v1.5h-1.5zM972.3 773.3h1.5v1.5h-1.5zM958.7 719.2h1.5v1.5h-1.5zM1070.1 739.6h1.5v1.5h-1.5zM1059.0 633.6h1.5v1.5h-1.5zM962.5 735.1h1.5v1.5h-1.5zM985.2 766.2h1.5v1.5h-1.5zM940.3 654.9h1.5v1.5h-1.5zM997.2 767.0h1.5v1.5h-1.5zM1019.2 638.1h1.5v1.5h-1.5zM991.9 759.8h1.5v1.5h-1.5zM973.0 769.7h1.5v1.5h-1.5zM959.4 717.7h1.5v1.5h-1.5zM950.0 791.5h1.5v1.5h-1.5zM1004.7 696.8h1.5v1.5h-1.5zM1016.3 670.7h1.5v1.5h-1.5zM1027.9 643.9h1.5v1.5h-1.5zM1000.8 769.2h1.5v1.5h-1.5zM982.5 769.2h1.5v1.5h-1.5zM978.2 756.1h1.5v1.5h-1.5zM984.9 695.9h1.5v1.5h-1.5zM982.9 754.2h1.5v1.5h-1.5zM951.2 767.9h1.5v1.5h-1.5zM934.6 772.2h1.5v1.5h-1.5zM1005.2 724.3h1.5v1.5h-1.5zM948.9 762.1h1.5v1.5h-1.5zM976.1 767.5h1.5v1.5h-1.5zM1001.1 690.1h1.5v1.5h-1.5zM980.4 727.6h1.5v1.5h-1.5zM1056.0 652.2h1.5v1.5h-1.5zM941.1 710.1h1.5v1.5h-1.5zM957.9 706.9h1.5v1.5h-1.5zM1035.3 644.8h1.5v1.5h-1.5zM952.4 681.2h1.5v1.5h-1.5zM932.1 752.4h1.5v1.5h-1.5zM993.3 767.5h1.5v1.5h-1.5zM974.9 764.5h1.5v1.5h-1.5zM989.1 754.4h1.5v1.5h-1.5zM999.0 707.0h1.5v1.5h-1.5zM975.9 677.7h1.5v1.5h-1.5zM970.1 776.2h1.5v1.5h-1.5zM976.8 727.4h1.5v1.5h-1.5zM1030.9 782.7h1.5v1.5h-1.5zM1002.9 776.0h1.5v1.5h-1.5zM1093.6 703.0h1.5v1.5h-1.5zM942.4 693.8h1.5v1.5h-1.5zM972.5 767.8h1.5v1.5h-1.5zM997.2 687.2h1.5v1.5h-1.5zM1016.2 793.0h1.5v1.5h-1.5zM949.9 739.7h1.5v1.5h-1.5zM979.8 769.8h1.5v1.5h-1.5zM988.3 686.5h1.5v1.5h-1.5zM1049.6 779.1h1.5v1.5h-1.5zM1071.2 773.3h1.5v1.5h-1.5zM1089.5 690.3h1.5v1.5h-1.5zM1067.5 626.6h1.5v1.5h-1.5zM1021.9 773.9h1.5v1.5h-1.5zM990.2 753.9h1.5v1.5h-1.5zM1009.5 680.5h1.5v1.5h-1.5zM941.7 772.0h1.5v1.5h-1.5zM998.4 705.6h1.5v1.5h-1.5zM1074.0 692.9h1.5v1.5h-1.5zM959.3 718.7h1.5v1.5h-1.5zM943.6 770.3h1.5v1.5h-1.5zM932.5 764.1h1.5v1.5h-1.5zM949.6 719.4h1.5v1.5h-1.5zM931.3 771.4h1.5v1.5h-1.5zM1023.7 657.0h1.5v1.5h-1.5zM992.9 771.6h1.5v1.5h-1.5zM1037.6 793.9h1.5v1.5h-1.5zM963.7 718.4h1.5v1.5h-1.5zM979.6 759.2h1.5v1.5h-1.5zM969.7 757.1h1.5v1.5h-1.5zM985.2 768.7h1.5v1.5h-1.5zM1023.4 651.5h1.5v1.5h-1.5zM998.2 712.3h1.5v1.5h-1.5zM977.4 769.2h1.5v1.5h-1.5zM973.3 676.7h1.5v1.5h-1.5zM995.9 659.2h1.5v1.5h-1.5zM991.5 702.3h1.5v1.5h-1.5zM963.1 731.6h1.5v1.5h-1.5zM951.7 719.9h1.5v1.5h-1.5zM1069.8 661.7h1.5v1.5h-1.5zM952.4 771.9h1.5v1.5h-1.5zM952.9 795.6h1.5v1.5h-1.5zM987.3 696.3h1.5v1.5h-1.5zM965.9 734.8h1.5v1.5h-1.5zM982.2 728.1h1.5v1.5h-1.5zM971.2 771.9h1.5v1.5h-1.5zM983.5 713.3h1.5v1.5h-1.5zM1076.7 724.3h1.5v1.5h-1.5zM1000.5 766.3h1.5v1.5h-1.5zM973.9 726.9h1.5v1.5h-1.5zM941.7 727.3h1.5v1.5h-1.5zM974.9 772.0h1.5v1.5h-1.5zM966.0 745.9h1.5v1.5h-1.5zM922.8 776.8h1.5v1.5h-1.5zM977.1 734.0h1.5v1.5h-1.5zM969.1 704.0h1.5v1.5h-1.5zM1023.1 778.9h1.5v1.5h-1.5zM958.7 698.7h1.5v1.5h-1.5zM1068.8 743.7h1.5v1.5h-1.5zM1012.7 772.0h1.5v1.5h-1.5zM958.4 764.3h1.5v1.5h-1.5zM981.7 765.2h1.5v1.5h-1.5zM1038.7 647.3h1.5v1.5h-1.5zM951.6 664.6h1.5v1.5h-1.5zM1020.3 775.0h1.5v1.5h-1.5zM1070.7 723.1h1.5v1.5h-1.5zM1050.5 652.2h1.5v1.5h-1.5zM995.8 760.2h1.5v1.5h-1.5zM1007.6 734.6h1.5v1.5h-1.5zM983.7 771.9h1.5v1.5h-1.5zM986.5 766.3h1.5v1.5h-1.5zM1015.8 669.6h1.5v1.5h-1.5zM991.6 767.8h1.5v1.5h-1.5zM946.6 768.2h1.5v1.5h-1.5zM992.2 761.4h1.5v1.5h-1.5zM1029.5 777.6h1.5v1.5h-1.5zM959.0 765.4h1.5v1.5h-1.5zM1007.6 770.4h1.5v1.5h-1.5zM960.4 764.8h1.5v1.5h-1.5zM1009.9 770.2h1.5v1.5h-1.5zM956.2 717.2h1.5v1.5h-1.5zM935.2 693.2h1.5v1.5h-1.5zM992.0 765.1h1.5v1.5h-1.5zM1086.8 724.6h1.5v1.5h-1.5zM1004.3 763.9h1.5v1.5h-1.5zM962.9 725.6h1.5v1.5h-1.5zM943.6 754.0h1.5v1.5h-1.5zM995.7 763.7h1.5v1.5h-1.5zM928.8 700.0h1.5v1.5h-1.5zM983.5 762.8h1.5v1.5h-1.5zM983.6 725.0h1.5v1.5h-1.5zM1073.7 712.3h1.5v1.5h-1.5zM960.6 766.7h1.5v1.5h-1.5zM957.7 749.3h1.5v1.5h-1.5zM971.7 776.7h1.5v1.5h-1.5zM1070.3 753.0h1.5v1.5h-1.5zM1100.2 732.8h1.5v1.5h-1.5zM986.4 772.3h1.5v1.5h-1.5zM941.5 681.6h1.5v1.5h-1.5zM1002.9 679.4h1.5v1.5h-1.5zM1021.8 651.2h1.5v1.5h-1.5zM1019.7 663.6h1.5v1.5h-1.5zM964.3 668.7h1.5v1.5h-1.5zM1000.5 712.3h1.5v1.5h-1.5zM983.5 738.8h1.5v1.5h-1.5zM1071.6 691.1h1.5v1.5h-1.5zM1026.2 784.1h1.5v1.5h-1.5zM945.7 773.1h1.5v1.5h-1.5zM1067.4 678.7h1.5v1.5h-1.5zM923.6 745.2h1.5v1.5h-1.5zM981.5 728.3h1.5v1.5h-1.5zM993.2 708.8h1.5v1.5h-1.5zM980.1 694.0h1.5v1.5h-1.5zM1017.7 632.5h1.5v1.5h-1.5zM981.2 753.9h1.5v1.5h-1.5zM969.8 767.2h1.5v1.5h-1.5zM1073.1 723.4h1.5v1.5h-1.5zM955.4 731.8h1.5v1.5h-1.5zM1079.9 704.6h1.5v1.5h-1.5zM965.8 743.5h1.5v1.5h-1.5zM997.3 762.3h1.5v1.5h-1.5zM947.7 768.3h1.5v1.5h-1.5zM956.6 724.5h1.5v1.5h-1.5zM1073.0 728.6h1.5v1.5h-1.5zM1039.3 781.9h1.5v1.5h-1.5zM915.9 768.7h1.5v1.5h-1.5zM1023.9 660.0h1.5v1.5h-1.5zM1004.1 770.5h1.5v1.5h-1.5zM932.7 729.5h1.5v1.5h-1.5zM1068.9 763.6h1.5v1.5h-1.5zM1066.6 633.2h1.5v1.5h-1.5zM981.4 773.4h1.5v1.5h-1.5zM968.0 727.7h1.5v1.5h-1.5zM950.3 758.2h1.5v1.5h-1.5zM979.8 768.4h1.5v1.5h-1.5zM979.5 708.8h1.5v1.5h-1.5zM989.8 769.9h1.5v1.5h-1.5zM1072.9 784.4h1.5v1.5h-1.5zM973.5 715.1h1.5v1.5h-1.5zM970.0 772.5h1.5v1.5h-1.5zM1028.0 774.4h1.5v1.5h-1.5zM989.6 768.1h1.5v1.5h-1.5zM1065.6 658.7h1.5v1.5h-1.5zM934.3 770.7h1.5v1.5h-1.5zM1048.5 623.9h1.5v1.5h-1.5zM993.7 682.2h1.5v1.5h-1.5zM995.3 775.7h1.5v1.5h-1.5zM998.0 769.0h1.5v1.5h-1.5zM952.4 763.0h1.5v1.5h-1.5zM1027.8 649.5h1.5v1.5h-1.5zM1029.4 776.9h1.5v1.5h-1.5zM945.5 765.6h1.5v1.5h-1.5zM979.4 682.3h1.5v1.5h-1.5zM963.0 737.3h1.5v1.5h-1.5zM968.5 768.8h1.5v1.5h-1.5z" fill="#1a1a1a"/><path d="M333 1360.75h1.5M300 1369.75h1.5M379.5 1371.25h1.5M291 1374.25h1.5M358.5 1375.75h1.5m16.5 0h1.5M355.5 1377.25h1.5m19.5 0h1.5m3 0h1.5M337.5 1378.75h1.5m6 0h3m1.5 0h1.5m18 0h1.5m21 0h1.5m16.5 0h1.5M334.5 1380.25h1.5m7.5 0h1.5m10.5 0h3m1.5 0h1.5m4.5 0h1.5m9 0h1.5M280.5 1381.75h1.5m9 0h1.5m37.5 0h1.5m1.5 0h1.5m4.5 0h3m1.5 0h3m1.5 0h1.5m1.5 0h3m3 0h1.5m4.5 0h3m7.5 0h1.5m1.5 0h1.5M295.5 1383.25h1.5m15 0h1.5m24 0h3m4.5 0h1.5m15 0h3m6 0h1.5m1.5 0h1.5m3 0h1.5m6 0h1.5m4.5 0h1.5M301.5 1384.75h1.5m3 0h1.5m10.5 0h1.5m6 0h1.5m4.5 0h3m4.5 0h1.5m18 0h1.5m6 0h1.5m1.5 0h1.5m6 0h1.5M301.5 1386.25h1.5m3 0h1.5m18 0h3m6 0h1.5m3 0h1.5m30 0h1.5m6 0h1.5M306 1387.75h1.5m1.5 0h1.5m13.5 0h1.5m10.5 0h1.5m34.5 0h3m1.5 0h1.5M288 1389.25h1.5m4.5 0h4.5m12 0h1.5m4.5 0h1.5m4.5 0h1.5m9 0h1.5m1.5 0h3m4.5 0h1.5m30 0h1.5m1.5 0h4.5m1.5 0h1.5M289.5 1390.75h3m21 0h1.5m13.5 0h1.5m7.5 0h3m1.5 0h1.5m33 0h1.5M289.5 1392.25h1.5m13.5 0h4.5m1.5 0h1.5m6 0h1.5m4.5 0h4.5m12 0h1.5M289.5 1393.75h1.5m13.5 0h1.5m1.5 0h1.5m10.5 0h3m4.5 0h1.5m49.5 0h4.5m3 0h1.5M307.5 1395.25h1.5m4.5 0h3m6 0h1.5m1.5 0h1.5m3 0h1.5m45 0h1.5m1.5 0h1.5m4.5 0h1.5M265.5 1396.75h1.5m22.5 0h1.5m7.5 0h1.5m15 0h1.5m9 0h1.5m6 0h1.5m40.5 0h1.5m1.5 0h1.5m7.5 0h1.5M321 1398.25h1.5m12 0h1.5m39 0h1.5m6 0h1.5M295.5 1399.75h1.5m16.5 0h1.5m1.5 0h1.5m12 0h1.5m4.5 0h1.5m33 0h1.5m4.5 0h1.5m3 0h1.5M300 1401.25h1.5m10.5 0h1.5m4.5 0h1.5m4.5 0h1.5m6 0h1.5m7.5 0h1.5m1.5 0h1.5m1.5 0h1.5m9 0h1.5m1.5 0h1.5m1.5 0h1.5m3 0h1.5m1.5 0h1.5m1.5 0h3m3 0h1.5m3 0h1.5M325.5 1402.75h1.5m6 0h1.5m1.5 0h1.5m10.5 0h1.5m6 0h3m4.5 0h3m3 0h1.5M312 1404.25h1.5m16.5 0h4.5m15 0h1.5m3 0h1.5m9 0h1.5m7.5 0h1.5m9 0h1.5M340.5 1405.75h1.5m10.5 0h1.5m3 0h1.5m1.5 0h1.5m3 0h1.5m16.5 0h1.5M327 1407.25h1.5m33 0h1.5m1.5 0h1.5M339 1408.75h1.5m12 0h1.5m1.5 0h1.5M313.5 1410.25h1.5m39 0h3M351 1411.75h1.5m16.5 0h3M339 1413.25h1.5M306 1414.75h1.5m54 0h1.5M352.5 1420.75h1.5" stroke="#2b2e90" stroke-width="1.5" fill="none"/>
<path d="M355.5 1381.75h1.5M351 1383.25h4.5M346.5 1384.75h1.5m7.5 0h3m3 0h1.5m10.5 0h3M346.5 1386.25h1.5m12 0h4.5m1.5 0h3m4.5 0h3M363 1387.75h1.5m3 0h1.5M345 1389.25h1.5m13.5 0h1.5m3 0h1.5M330 1390.75h1.5m3 0h1.5m7.5 0h1.5m18 0h1.5m7.5 0h3M328.5 1392.25h1.5m4.5 0h1.5m3 0h1.5m31.5 0h3M331.5 1393.75h1.5m4.5 0h3m1.5 0h1.5m16.5 0h1.5m1.5 0h1.5m9 0h1.5M339 1395.25h3m19.5 0h1.5m10.5 0h3M334.5 1396.75h4.5m1.5 0h1.5m1.5 0h1.5m15 0h3m7.5 0h1.5m7.5 0h3M342 1398.25h3m1.5 0h1.5m9 0h1.5m1.5 0h1.5m18 0h3M337.5 1399.75h1.5m1.5 0h1.5m24 0h1.5M337.5 1401.25h3M354 1402.75h1.5" stroke="#313aa2" stroke-width="1.5" fill="none"/>
<path d="M348 1383.25h1.5M348 1384.75h3M348 1386.25h1.5m6 0h1.5M348 1387.75h1.5M346.5 1389.25h1.5m10.5 0h1.5m9 0h1.5M345 1390.75h1.5m13.5 0h1.5m6 0h3M331.5 1392.25h3m24 0h1.5m1.5 0h6m3 0h1.5M334.5 1393.75h1.5m7.5 0h1.5m27 0h1.5M334.5 1395.25h1.5m22.5 0h1.5m10.5 0h1.5M345 1396.75h1.5m12 0h1.5m4.5 0h1.5m3 0h1.5M337.5 1398.25h3m27 0h1.5M339 1399.75h1.5m13.5 0h1.5M349.5 1401.25h1.5m1.5 0h3" stroke="#374bb0" stroke-width="1.5" fill="none"/>
<path d="M351 1386.25h1.5m1.5 0h1.5M357 1389.25h1.5M358.5 1390.75h1.5M367.5 1392.25h1.5M369 1393.75h1.5M357 1395.25h1.5m6 0h1.5m3 0h1.5M355.5 1396.75h1.5M348 1398.25h1.5m16.5 0h1.5M352.5 1399.75h1.5M351 1401.25h1.5" stroke="#3e5cbd" stroke-width="1.5" fill="none"/>
<path d="M355.5 1387.75h1.5M357 1390.75h1.5M345 1392.25h1.5M345 1393.75h1.5m19.5 0h3M352.5 1398.25h1.5M351 1399.75h1.5" stroke="#4573c7" stroke-width="1.5" fill="none"/>
<path d="M355.5 1389.25h1.5M346.5 1395.25h1.5m18 0h3M352.5 1396.75h1.5m12 0h1.5M349.5 1398.25h1.5" stroke="#4b8ccd" stroke-width="1.5" fill="none"/>
<path d="M351 1387.75h1.5m1.5 0h1.5M348 1390.75h1.5m6 0h1.5M346.5 1392.25h1.5M349.5 1396.75h3" stroke="#52a5d1" stroke-width="1.5" fill="none"/>
<path d="M352.5 1387.75h1.5M349.5 1389.25h1.5M346.5 1393.75h1.5M348 1395.25h1.5m3 0h3" stroke="#5dbecb" stroke-width="1.5" fill="none"/>
<path d="M354 1389.25h1.5M355.5 1392.25h1.5M355.5 1393.75h1.5M349.5 1395.25h1.5" stroke="#74d2ad" stroke-width="1.5" fill="none"/>
<path d="M354 1390.75h1.5M348 1393.75h1.5" stroke="#9edd65" stroke-width="1.5" fill="none"/>
<path d="M351 1389.25h3M354 1392.25h1.5M349.5 1393.75h1.5m3 0h1.5" stroke="#c6e13c" stroke-width="1.5" fill="none"/>
<path d="M349.5 1390.75h1.5M352.5 1392.25h1.5" stroke="#e1cb26" stroke-width="1.5" fill="none"/>
<path d="M352.5 1390.75h1.5M349.5 1392.25h3" stroke="#e17f1f" stroke-width="1.5" fill="none"/>
<path d="M351 1390.75h1.5" stroke="#ba3818" stroke-width="1.5" fill="none"/>
<path d="M641 1239.25h1.5M656 1255.75h1.5M609.5 1261.75h1.5M594.5 1263.25h1.5M626 1264.75h1.5M668 1266.25h1.5M651.5 1267.75h1.5m33 0h1.5M579.5 1269.25h1.5m57 0h1.5M611 1270.75h1.5M588.5 1272.25h1.5m67.5 0h1.5M587 1273.75h1.5M614 1275.25h1.5m55.5 0h1.5M620 1276.75h1.5m27 0h1.5m31.5 0h1.5M578 1278.25h1.5m25.5 0h1.5m21 0h1.5m18 0h1.5m12 0h1.5M659 1279.75h1.5M593 1281.25h1.5m1.5 0h1.5m16.5 0h1.5m7.5 0h1.5m19.5 0h1.5M606.5 1282.75h1.5m6 0h1.5M630.5 1284.25h1.5m58.5 0h1.5M602 1285.75h1.5m12 0h1.5m15 0h1.5m10.5 0h3m58.5 0h1.5M563 1287.25h1.5m21 0h1.5m24 0h1.5m13.5 0h1.5m15 0h1.5M600.5 1288.75h1.5m3 0h1.5m1.5 0h1.5m1.5 0h1.5m1.5 0h1.5m16.5 0h1.5m4.5 0h3m7.5 0h1.5M588.5 1290.25h1.5m30 0h3m1.5 0h1.5m1.5 0h1.5m19.5 0h1.5m7.5 0h1.5M599 1291.75h1.5m6 0h1.5m1.5 0h1.5m7.5 0h1.5m1.5 0h1.5m1.5 0h1.5m3 0h1.5m1.5 0h1.5m10.5 0h1.5m13.5 0h1.5m42 0h1.5M594.5 1293.25h1.5m21 0h1.5m3 0h1.5m9 0h1.5m1.5 0h1.5m4.5 0h1.5m30 0h1.5M591.5 1294.75h1.5m15 0h3m1.5 0h1.5m18 0h1.5m13.5 0h1.5m22.5 0h1.5m4.5 0h1.5M590 1296.25h1.5m9 0h1.5m21 0h1.5m7.5 0h1.5m15 0h1.5M569 1297.75h1.5m28.5 0h1.5m15 0h1.5m13.5 0h1.5m13.5 0h1.5m3 0h1.5m4.5 0h1.5M594.5 1299.25h1.5m12 0h1.5m3 0h1.5m6 0h1.5m13.5 0h1.5m6 0h1.5m3 0h1.5m64.5 0h1.5M551 1300.75h1.5m31.5 0h1.5m28.5 0h1.5m1.5 0h1.5m10.5 0h3m3 0h1.5m10.5 0h1.5m22.5 0h1.5M567.5 1302.25h1.5m36 0h1.5m19.5 0h1.5m4.5 0h3m1.5 0h1.5m4.5 0h1.5m6 0h1.5m25.5 0h1.5m10.5 0h1.5M581 1303.75h1.5m7.5 0h1.5m9 0h4.5m3 0h1.5m4.5 0h1.5m3 0h4.5m4.5 0h3m3 0h1.5m6 0h1.5m9 0h3m3 0h1.5m21 0h1.5M584 1305.25h1.5m13.5 0h3m1.5 0h1.5m12 0h1.5m3 0h1.5m3 0h1.5m3 0h1.5m4.5 0h1.5m1.5 0h1.5m4.5 0h1.5m13.5 0h1.5m69 0h1.5M569 1306.75h1.5m25.5 0h1.5m6 0h1.5m6 0h1.5m3 0h1.5m3 0h1.5m1.5 0h1.5m16.5 0h3m12 0h1.5m1.5 0h1.5M558.5 1308.25h1.5m19.5 0h1.5m33 0h1.5m1.5 0h3m3 0h4.5m3 0h6m1.5 0h1.5m4.5 0h1.5m27 0h1.5M572 1309.75h1.5m9 0h1.5m10.5 0h1.5m3 0h1.5m3 0h1.5m1.5 0h3m7.5 0h1.5m3 0h1.5m1.5 0h3m3 0h3m15 0h1.5m16.5 0h1.5m13.5 0h1.5m1.5 0h1.5m1.5 0h1.5M581 1311.25h1.5m15 0h1.5m12 0h3m4.5 0h1.5m4.5 0h1.5m9 0h3m1.5 0h3m1.5 0h1.5m4.5 0h1.5m10.5 0h1.5M603.5 1312.75h4.5m3 0h1.5m4.5 0h3m9 0h1.5m6 0h1.5m3 0h3m1.5 0h1.5m6 0h1.5m25.5 0h1.5M567.5 1314.25h1.5m3 0h1.5m12 0h1.5m6 0h1.5m13.5 0h1.5m3 0h1.5m1.5 0h1.5m1.5 0h1.5m7.5 0h4.5m7.5 0h1.5m1.5 0h1.5m1.5 0h1.5m4.5 0h1.5m13.5 0h1.5m3 0h1.5m30 0h1.5M579.5 1315.75h1.5m6 0h1.5m6 0h1.5m3 0h1.5m4.5 0h1.5m1.5 0h1.5m1.5 0h3m1.5 0h3m6 0h1.5m1.5 0h1.5m1.5 0h6m3 0h1.5m3 0h1.5m6 0h1.5m18 0h1.5m3 0h1.5m1.5 0h3m6 0h1.5M563 1317.25h1.5m27 0h1.5m4.5 0h3m13.5 0h3m3 0h1.5m3 0h9m3 0h3m1.5 0h1.5m1.5 0h1.5m3 0h3m10.5 0h1.5M570.5 1318.75h1.5m3 0h1.5m10.5 0h1.5m7.5 0h1.5m3 0h4.5m1.5 0h1.5m3 0h1.5m1.5 0h4.5m3 0h7.5m1.5 0h1.5m1.5 0h4.5m1.5 0h1.5m9 0h1.5M579.5 1320.25h1.5m7.5 0h1.5m3 0h1.5m6 0h7.5m3 0h3m1.5 0h1.5m1.5 0h1.5m1.5 0h4.5m3 0h1.5m1.5 0h3m3 0h1.5m4.5 0h1.5m1.5 0h1.5m1.5 0h1.5m3 0h3m4.5 0h3M593 1321.75h1.5m1.5 0h1.5m1.5 0h1.5m1.5 0h1.5m4.5 0h6m1.5 0h4.5m1.5 0h3m3 0h3m3 0h7.5m7.5 0h1.5m4.5 0h1.5m3 0h1.5m3 0h1.5m15 0h1.5M567.5 1323.25h1.5m18 0h1.5m1.5 0h1.5m7.5 0h1.5m1.5 0h1.5m3 0h3m3 0h4.5m1.5 0h3m1.5 0h4.5m1.5 0h6m6 0h3m3 0h1.5m4.5 0h1.5m7.5 0h1.5m39 0h1.5M584 1324.75h1.5m7.5 0h3m1.5 0h1.5m3 0h4.5m7.5 0h1.5m1.5 0h3m1.5 0h1.5m3 0h1.5m1.5 0h1.5m4.5 0h3m3 0h1.5m1.5 0h4.5m3 0h3m10.5 0h1.5m3 0h1.5m6 0h1.5m3 0h1.5M582.5 1326.25h1.5m13.5 0h1.5m3 0h1.5m6 0h3m7.5 0h3m3 0h6m4.5 0h1.5m4.5 0h7.5m1.5 0h3m6 0h1.5m4.5 0h1.5m4.5 0h1.5m9 0h1.5m42 0h1.5M548 1327.75h1.5m22.5 0h1.5m10.5 0h1.5m6 0h1.5m6 0h15m10.5 0h6m1.5 0h3m4.5 0h1.5m1.5 0h1.5m1.5 0h1.5m3 0h3m1.5 0h3m3 0h3m1.5 0h1.5m25.5 0h1.5M582.5 1329.25h1.5m1.5 0h3m3 0h3m3 0h3m1.5 0h1.5m3 0h1.5m1.5 0h1.5m1.5 0h1.5m6 0h1.5m1.5 0h3m4.5 0h4.5m3 0h1.5m1.5 0h1.5m1.5 0h15m3 0h1.5m7.5 0h3m18 0h1.5m6 0h1.5m1.5 0h1.5M543.5 1330.75h3m33 0h1.5m4.5 0h1.5m4.5 0h1.5m1.5 0h1.5m3 0h6m1.5 0h3m1.5 0h3m1.5 0h9m13.5 0h1.5m1.5 0h1.5m7.5 0h1.5m4.5 0h3m6 0h1.5m25.5 0h1.5M555.5 1332.25h3m30 0h1.5m6 0h1.5m1.5 0h1.5m1.5 0h1.5m4.5 0h3m1.5 0h3m3 0h3m1.5 0h3m6 0h4.5m1.5 0h1.5m3 0h1.5m1.5 0h4.5m1.5 0h1.5m1.5 0h1.5m42 0h1.5m19.5 0h1.5M552.5 1333.75h1.5m27 0h3m6 0h1.5m1.5 0h1.5m1.5 0h1.5m4.5 0h3m1.5 0h1.5m1.5 0h1.5m4.5 0h4.5m4.5 0h1.5m4.5 0h3m3 0h1.5m6 0h3m1.5 0h1.5m1.5 0h1.5m1.5 0h4.5m1.5 0h1.5m1.5 0h1.5m1.5 0h1.5m13.5 0h4.5m3 0h1.5m7.5 0h1.5M572 1335.25h1.5m9 0h3m1.5 0h1.5m9 0h1.5m9 0h1.5m1.5 0h1.5m3 0h3m1.5 0h3m10.5 0h3m1.5 0h1.5m1.5 0h4.5m1.5 0h1.5m1.5 0h4.5m1.5 0h1.5m3 0h1.5m1.5 0h1.5m9 0h3m1.5 0h1.5m25.5 0h1.5M561.5 1336.75h3m9 0h1.5m12 0h10.5m3 0h1.5m3 0h3m1.5 0h1.5m1.5 0h3m4.5 0h3m15 0h1.5m1.5 0h1.5m4.5 0h1.5m1.5 0h4.5m1.5 0h6m36 0h1.5M546.5 1338.25h1.5m42 0h4.5m1.5 0h3m1.5 0h4.5m6 0h1.5m28.5 0h7.5m12 0h1.5m6 0h1.5m1.5 0h1.5m21 0h1.5M557 1339.75h1.5m15 0h1.5m4.5 0h1.5m7.5 0h3m7.5 0h1.5m1.5 0h1.5m1.5 0h3m1.5 0h3m31.5 0h1.5m3 0h4.5m1.5 0h1.5m3 0h1.5m1.5 0h3m1.5 0h1.5m1.5 0h1.5m7.5 0h1.5m1.5 0h1.5M533 1341.25h1.5m39 0h3m4.5 0h1.5m4.5 0h1.5m1.5 0h1.5m6 0h1.5m1.5 0h3m1.5 0h1.5m25.5 0h3m13.5 0h1.5m4.5 0h3m1.5 0h3m1.5 0h1.5m1.5 0h1.5m6 0h4.5m6 0h1.5m7.5 0h1.5m1.5 0h1.5m4.5 0h1.5M564.5 1342.75h1.5m15 0h1.5m1.5 0h1.5m9 0h4.5m3 0h1.5m3 0h1.5m24 0h1.5m3 0h1.5m6 0h1.5m1.5 0h7.5m3 0h1.5m3 0h3m9 0h1.5m6 0h1.5m21 0h1.5M561.5 1344.25h1.5m6 0h1.5m6 0h1.5m9 0h1.5m3 0h3m4.5 0h1.5m1.5 0h3m3 0h1.5m24 0h1.5m1.5 0h1.5m3 0h1.5m3 0h1.5m1.5 0h7.5m3 0h1.5m3 0h3m15 0h1.5m16.5 0h1.5M575 1345.75h1.5m19.5 0h1.5m6 0h3m28.5 0h1.5m1.5 0h1.5m1.5 0h1.5m1.5 0h9m1.5 0h1.5m7.5 0h1.5m7.5 0h1.5m12 0h1.5M602 1347.25h7.5m25.5 0h1.5m3 0h1.5m3 0h3m3 0h9m1.5 0h3m10.5 0h1.5m43.5 0h1.5M546.5 1348.75h1.5m52.5 0h1.5m15 0h1.5m18 0h1.5m9 0h3m1.5 0h1.5m4.5 0h1.5m3 0h3m3 0h3M587 1350.25h1.5m7.5 0h1.5m1.5 0h3m3 0h3m9 0h3m9 0h1.5m16.5 0h1.5m6 0h4.5m12 0h1.5m1.5 0h4.5m12 0h1.5M581 1351.75h3m3 0h1.5m6 0h4.5m6 0h1.5m22.5 0h1.5m16.5 0h3m3 0h1.5m1.5 0h4.5m9 0h1.5m7.5 0h1.5m1.5 0h3M563 1353.25h1.5m7.5 0h3m10.5 0h1.5m1.5 0h1.5m3 0h1.5m1.5 0h4.5m3 0h3m24 0h3m13.5 0h1.5m1.5 0h1.5m1.5 0h3m3 0h6m6 0h1.5m36 0h1.5M560 1354.75h1.5m4.5 0h1.5m9 0h1.5m12 0h4.5m1.5 0h6m1.5 0h3m24 0h1.5m18 0h1.5m4.5 0h3m3 0h1.5m1.5 0h1.5m12 0h1.5m3 0h1.5m22.5 0h1.5m3 0h1.5M527 1356.25h1.5m3 0h1.5m31.5 0h1.5m1.5 0h1.5m24 0h1.5m1.5 0h1.5m6 0h1.5m1.5 0h6m18 0h4.5m15 0h1.5m1.5 0h3m4.5 0h3m1.5 0h1.5m21 0h1.5m16.5 0h1.5M573.5 1357.75h1.5m4.5 0h1.5m7.5 0h3m1.5 0h3m1.5 0h1.5m4.5 0h3m22.5 0h1.5m3 0h4.5m10.5 0h1.5m4.5 0h4.5m1.5 0h7.5m31.5 0h1.5m9 0h1.5M557 1359.25h1.5m16.5 0h1.5m6 0h1.5m7.5 0h1.5m1.5 0h1.5m1.5 0h1.5m4.5 0h3m1.5 0h1.5m19.5 0h1.5m4.5 0h3m10.5 0h4.5m3 0h3m1.5 0h1.5m6 0h3m12 0h1.5m37.5 0h1.5M569 1360.75h1.5m10.5 0h4.5m3 0h3m4.5 0h1.5m7.5 0h1.5m4.5 0h1.5m1.5 0h3m12 0h1.5m3 0h4.5m4.5 0h1.5m4.5 0h1.5m3 0h1.5m1.5 0h1.5m1.5 0h1.5m3 0h1.5m1.5 0h1.5m3 0h1.5m27 0h1.5m15 0h1.5m37.5 0h1.5M578 1362.25h1.5m1.5 0h1.5m1.5 0h1.5m1.5 0h1.5m10.5 0h1.5m3 0h3m1.5 0h1.5m7.5 0h4.5m7.5 0h1.5m3 0h3m1.5 0h6m3 0h1.5m1.5 0h6m1.5 0h1.5m1.5 0h3m3 0h1.5m3 0h1.5m3 0h3m28.5 0h1.5M575 1363.75h1.5m6 0h1.5m4.5 0h1.5m4.5 0h1.5m1.5 0h1.5m1.5 0h7.5m10.5 0h3m9 0h3m1.5 0h3m1.5 0h1.5m7.5 0h7.5m1.5 0h1.5m1.5 0h1.5m12 0h1.5m16.5 0h1.5m7.5 0h1.5m4.5 0h1.5m6 0h1.5m3 0h1.5m12 0h1.5M579.5 1365.25h4.5m7.5 0h3m24 0h1.5m1.5 0h3m1.5 0h6m6 0h1.5m1.5 0h3m6 0h4.5m1.5 0h1.5m3 0h1.5m4.5 0h3m4.5 0h1.5m6 0h3m6 0h1.5m6 0h1.5m1.5 0h1.5m3 0h3m13.5 0h3M575 1366.75h3m1.5 0h1.5m1.5 0h3m4.5 0h1.5m1.5 0h1.5m3 0h1.5m1.5 0h1.5m18 0h1.5m1.5 0h1.5m1.5 0h3m12 0h1.5m4.5 0h1.5m1.5 0h1.5m3 0h1.5m4.5 0h1.5m1.5 0h1.5m3 0h3m3 0h1.5m9 0h1.5m6 0h1.5m24 0h1.5m1.5 0h1.5m6 0h3m6 0h1.5m3 0h1.5M557 1368.25h1.5m37.5 0h1.5m1.5 0h1.5m1.5 0h1.5m15 0h1.5m3 0h4.5m1.5 0h1.5m1.5 0h1.5m4.5 0h3m4.5 0h1.5m1.5 0h1.5m1.5 0h10.5m6 0h4.5m22.5 0h1.5m12 0h1.5m7.5 0h3m6 0h1.5M591.5 1369.75h4.5m3 0h1.5m1.5 0h3m1.5 0h1.5m13.5 0h4.5m1.5 0h1.5m1.5 0h1.5m1.5 0h1.5m3 0h1.5m4.5 0h1.5m6 0h1.5m4.5 0h6m4.5 0h1.5m6 0h1.5m1.5 0h1.5m6 0h1.5m1.5 0h1.5m6 0h4.5m4.5 0h4.5m1.5 0h3m6 0h1.5m6 0h1.5m6 0h1.5m7.5 0h1.5m4.5 0h1.5m3 0h1.5M561.5 1371.25h1.5m15 0h1.5m1.5 0h1.5m6 0h10.5m1.5 0h1.5m1.5 0h3m1.5 0h1.5m1.5 0h1.5m12 0h1.5m3 0h1.5m1.5 0h4.5m1.5 0h3m1.5 0h1.5m1.5 0h4.5m1.5 0h3m12 0h3m3 0h3m1.5 0h1.5m9 0h1.5m1.5 0h1.5m4.5 0h1.5m3 0h3m3 0h3m4.5 0h1.5m9 0h1.5m3 0h1.5m7.5 0h3m4.5 0h1.5m19.5 0h1.5m9 0h1.5M575 1372.75h1.5m7.5 0h1.5m3 0h1.5m6 0h1.5m3 0h1.5m1.5 0h1.5m3 0h3m1.5 0h1.5m7.5 0h4.5m3 0h1.5m4.5 0h3m1.5 0h6m1.5 0h1.5m3 0h1.5m3 0h1.5m1.5 0h1.5m1.5 0h3m1.5 0h1.5m1.5 0h1.5m9 0h1.5m6 0h1.5m3 0h1.5m1.5 0h3m3 0h4.5m1.5 0h4.5m7.5 0h3m3 0h4.5m1.5 0h1.5m31.5 0h1.5M582.5 1374.25h3m7.5 0h1.5m3 0h1.5m7.5 0h1.5m1.5 0h3m1.5 0h1.5m1.5 0h3m4.5 0h1.5m3 0h7.5m3 0h4.5m4.5 0h3m1.5 0h3m1.5 0h4.5m1.5 0h1.5m3 0h4.5m1.5 0h3m7.5 0h1.5m1.5 0h1.5m3 0h1.5m3 0h7.5m1.5 0h1.5m15 0h1.5m1.5 0h4.5m1.5 0h3m1.5 0h4.5m1.5 0h1.5M564.5 1375.75h1.5m1.5 0h1.5m21 0h1.5m6 0h1.5m3 0h1.5m1.5 0h3m1.5 0h1.5m3 0h3m1.5 0h1.5m6 0h4.5m4.5 0h3m1.5 0h1.5m3 0h1.5m3 0h1.5m4.5 0h1.5m3 0h1.5m1.5 0h4.5m1.5 0h4.5m6 0h1.5m6 0h1.5m9 0h3m28.5 0h1.5m1.5 0h3m1.5 0h3m3 0h1.5m7.5 0h1.5M564.5 1377.25h1.5m4.5 0h1.5m18 0h1.5m3 0h1.5m6 0h4.5m3 0h6m3 0h3m7.5 0h3m3 0h3m7.5 0h1.5m1.5 0h4.5m3 0h1.5m4.5 0h1.5m3 0h4.5m3 0h1.5m3 0h3m4.5 0h3m1.5 0h1.5m6 0h1.5m37.5 0h1.5m1.5 0h3m3 0h1.5m9 0h1.5M570.5 1378.75h1.5m3 0h1.5m4.5 0h1.5m3 0h1.5m13.5 0h4.5m1.5 0h1.5m1.5 0h10.5m1.5 0h1.5m4.5 0h6m1.5 0h9m4.5 0h1.5m7.5 0h3m4.5 0h3m1.5 0h9m1.5 0h1.5m3 0h1.5m9 0h1.5m40.5 0h4.5m1.5 0h1.5m1.5 0h3m15 0h1.5M573.5 1380.25h1.5m10.5 0h1.5m6 0h1.5m6 0h4.5m12 0h1.5m1.5 0h3m6 0h3m3 0h6m1.5 0h3m1.5 0h1.5m3 0h1.5m7.5 0h4.5m3 0h4.5m1.5 0h1.5m3 0h4.5m1.5 0h1.5m3 0h3m1.5 0h1.5m40.5 0h1.5m1.5 0h1.5M552.5 1381.75h1.5m6 0h1.5m3 0h1.5m19.5 0h1.5m4.5 0h3m3 0h1.5m4.5 0h1.5m1.5 0h1.5m3 0h1.5m4.5 0h1.5m3 0h1.5m10.5 0h3m1.5 0h1.5m1.5 0h9m1.5 0h1.5m12 0h3m1.5 0h3m6 0h4.5m3 0h4.5m1.5 0h3m1.5 0h1.5m39 0h1.5m4.5 0h1.5m6 0h1.5m3 0h1.5m1.5 0h1.5m4.5 0h1.5M554 1383.25h1.5m22.5 0h1.5m1.5 0h1.5m16.5 0h3m6 0h1.5m3 0h3m15 0h3m9 0h1.5m3 0h1.5m16.5 0h1.5m4.5 0h1.5m1.5 0h12m52.5 0h3m4.5 0h1.5m6 0h3M563 1384.75h1.5m1.5 0h1.5m19.5 0h3m3 0h1.5m3 0h3m4.5 0h1.5m1.5 0h6m27 0h4.5m1.5 0h1.5m9 0h3m4.5 0h1.5m1.5 0h1.5m1.5 0h1.5m1.5 0h4.5m3 0h4.5m1.5 0h1.5m40.5 0h3m3 0h4.5m4.5 0h3m4.5 0h3m6 0h1.5M579.5 1386.25h3m1.5 0h1.5m1.5 0h1.5m6 0h3m3 0h1.5m1.5 0h6m3 0h3m31.5 0h3m6 0h1.5m12 0h1.5m6 0h1.5m3 0h3m1.5 0h4.5m37.5 0h1.5m3 0h4.5m4.5 0h1.5m1.5 0h1.5m7.5 0h1.5m3 0h1.5M548 1387.75h1.5m30 0h1.5m1.5 0h1.5m1.5 0h1.5m9 0h10.5m3 0h6m1.5 0h1.5m1.5 0h1.5m1.5 0h3m15 0h1.5m1.5 0h1.5m7.5 0h4.5m3 0h3m6 0h1.5m1.5 0h1.5m1.5 0h1.5m1.5 0h7.5m43.5 0h1.5m4.5 0h1.5m1.5 0h3m4.5 0h1.5m1.5 0h1.5m4.5 0h1.5M576.5 1389.25h1.5m1.5 0h1.5m19.5 0h3m4.5 0h1.5m4.5 0h6m1.5 0h6m13.5 0h1.5m1.5 0h3m4.5 0h1.5m1.5 0h1.5m1.5 0h1.5m1.5 0h3m4.5 0h3m4.5 0h3m6 0h6m3 0h1.5m45 0h1.5m4.5 0h1.5m9 0h1.5M551 1390.75h1.5m19.5 0h1.5m21 0h1.5m1.5 0h1.5m3 0h1.5m3 0h1.5m7.5 0h1.5m3 0h1.5m10.5 0h1.5m1.5 0h1.5m1.5 0h12m1.5 0h9m1.5 0h9m4.5 0h3m1.5 0h1.5m1.5 0h1.5m3 0h4.5m1.5 0h1.5m33 0h6m1.5 0h1.5m3 0h1.5m1.5 0h1.5m1.5 0h1.5m4.5 0h1.5M525.5 1392.25h1.5m58.5 0h1.5m15 0h3m12 0h1.5m1.5 0h1.5m4.5 0h1.5m3 0h4.5m15 0h3m3 0h1.5m3 0h6m4.5 0h1.5m4.5 0h4.5m1.5 0h1.5m1.5 0h6m4.5 0h1.5m31.5 0h1.5m1.5 0h13.5m15 0h1.5m1.5 0h1.5M588.5 1393.75h1.5m1.5 0h1.5m1.5 0h1.5m3 0h1.5m1.5 0h1.5m1.5 0h15m3 0h6m4.5 0h4.5m3 0h4.5m4.5 0h3m7.5 0h3m1.5 0h4.5m4.5 0h4.5m3 0h1.5m1.5 0h1.5m1.5 0h3m1.5 0h6m27 0h7.5m1.5 0h1.5m1.5 0h1.5m4.5 0h4.5M593 1395.25h1.5m6 0h3m4.5 0h1.5m1.5 0h4.5m1.5 0h3m1.5 0h4.5m1.5 0h1.5m1.5 0h3m3 0h1.5m1.5 0h3m3 0h1.5m1.5 0h1.5m4.5 0h1.5m1.5 0h1.5m1.5 0h7.5m4.5 0h3m4.5 0h7.5m7.5 0h1.5m21 0h3m1.5 0h1.5m3 0h1.5m6 0h3m1.5 0h1.5m7.5 0h1.5m1.5 0h1.5m16.5 0h1.5M588.5 1396.75h1.5m3 0h1.5m13.5 0h6m6 0h1.5m6 0h1.5m3 0h3m1.5 0h1.5m7.5 0h1.5m1.5 0h1.5m4.5 0h4.5m1.5 0h1.5m1.5 0h3m7.5 0h7.5m9 0h1.5m1.5 0h1.5m1.5 0h4.5m16.5 0h3m1.5 0h3m1.5 0h3m9 0h1.5m6 0h1.5M557 1398.25h1.5m6 0h1.5m25.5 0h1.5m9 0h3m4.5 0h1.5m3 0h1.5m3 0h3m6 0h4.5m4.5 0h3m1.5 0h1.5m1.5 0h4.5m3 0h3m1.5 0h1.5m1.5 0h1.5m10.5 0h1.5m1.5 0h3m1.5 0h3m6 0h1.5m7.5 0h3m3 0h1.5m4.5 0h3m3 0h1.5m1.5 0h1.5m1.5 0h1.5m1.5 0h1.5m10.5 0h1.5m3 0h1.5m13.5 0h1.5M587 1399.75h1.5m22.5 0h1.5m7.5 0h3m4.5 0h1.5m1.5 0h1.5m1.5 0h1.5m7.5 0h6m4.5 0h3m3 0h3m4.5 0h1.5m4.5 0h1.5m6 0h1.5m13.5 0h4.5m3 0h6m1.5 0h6m9 0h1.5m1.5 0h3m7.5 0h1.5M585.5 1401.25h1.5m10.5 0h3m4.5 0h1.5m7.5 0h1.5m1.5 0h1.5m1.5 0h1.5m9 0h1.5m10.5 0h1.5m1.5 0h1.5m7.5 0h1.5m1.5 0h3m6 0h3m9 0h1.5m1.5 0h3m7.5 0h3m1.5 0h1.5m1.5 0h1.5m1.5 0h1.5m1.5 0h1.5m4.5 0h3m6 0h4.5m1.5 0h3m3 0h3m16.5 0h1.5M587 1402.75h1.5m1.5 0h3m22.5 0h4.5m7.5 0h1.5m15 0h1.5m1.5 0h1.5m7.5 0h3m33 0h3m7.5 0h1.5m7.5 0h3m1.5 0h4.5m3 0h1.5m4.5 0h1.5m1.5 0h1.5m28.5 0h1.5M605 1404.25h1.5m7.5 0h3m4.5 0h1.5m10.5 0h1.5m43.5 0h1.5m12 0h1.5m4.5 0h1.5m1.5 0h1.5m7.5 0h1.5m22.5 0h3M590 1405.75h1.5m9 0h1.5m22.5 0h1.5m3 0h1.5m1.5 0h1.5m15 0h1.5m16.5 0h1.5m4.5 0h1.5m13.5 0h1.5m15 0h1.5m1.5 0h3m1.5 0h1.5m9 0h1.5M569 1407.25h1.5m36 0h1.5m6 0h1.5m12 0h1.5m3 0h1.5m9 0h1.5m54 0h1.5m3 0h1.5m24 0h1.5m3 0h1.5M608 1408.75h1.5m39 0h1.5m9 0h1.5m39 0h1.5m39 0h1.5M596 1410.25h1.5m3 0h1.5m15 0h3m13.5 0h1.5m1.5 0h1.5m4.5 0h1.5m1.5 0h1.5m1.5 0h1.5m6 0h1.5m24 0h1.5m34.5 0h1.5M581 1411.75h1.5m15 0h1.5m24 0h1.5m12 0h1.5M615.5 1413.25h1.5m16.5 0h1.5m18 0h1.5M572 1414.75h1.5m43.5 0h1.5m24 0h1.5m67.5 0h1.5M599 1416.25h1.5m16.5 0h1.5m1.5 0h1.5m27 0h1.5m12 0h1.5M608 1419.25h1.5m97.5 0h1.5M605 1420.75h1.5M644 1423.75h1.5M638 1425.25h1.5M591.5 1426.75h1.5m33 0h1.5M623 1431.25h1.5M647 1440.25h1.5M617 1449.25h1.5" stroke="#2b2e90" stroke-width="1.5" fill="none"/>
<path d="M638 1323.25h3M638 1324.75h3M614 1326.25h3m21 0h3M614 1327.75h6M614 1329.25h1.5m1.5 0h1.5M626 1330.75h4.5M626 1332.25h1.5m1.5 0h1.5M626 1333.75h4.5M626 1335.25h3M615.5 1336.75h1.5m7.5 0h10.5m1.5 0h1.5M614 1338.25h3m1.5 0h1.5m1.5 0h4.5m1.5 0h1.5m4.5 0h7.5M614 1339.75h6m3 0h10.5m1.5 0h3m1.5 0h4.5m1.5 0h3M611 1341.25h12m3 0h1.5m9 0h4.5m3 0h4.5M609.5 1342.75h1.5m3 0h10.5m13.5 0h6M609.5 1344.25h1.5m3 0h6m1.5 0h3m6 0h3m9 0h3M614 1345.75h3m1.5 0h3m1.5 0h1.5m6 0h4.5M609.5 1347.25h1.5m6 0h6m3 0h3m3 0h1.5m7.5 0h1.5M609.5 1348.75h6m3 0h1.5m1.5 0h4.5m3 0h7.5m3 0h6M608 1350.25h1.5m3 0h1.5m6 0h3m1.5 0h4.5m3 0h1.5m1.5 0h3m1.5 0h7.5M606.5 1351.75h7.5m1.5 0h3m13.5 0h10.5m1.5 0h1.5M606.5 1353.25h9m13.5 0h1.5m4.5 0h6m1.5 0h4.5M606.5 1354.75h3m4.5 0h1.5m12 0h1.5m4.5 0h3m1.5 0h6m1.5 0h1.5M612.5 1356.25h3m22.5 0h6m1.5 0h1.5M609.5 1357.75h3m3 0h1.5m9 0h1.5m10.5 0h1.5m1.5 0h7.5M609.5 1359.25h3m4.5 0h3m6 0h3m9 0h3m3 0h4.5M621.5 1360.75h3m1.5 0h3m16.5 0h1.5M611 1362.25h4.5m7.5 0h3m1.5 0h1.5m16.5 0h1.5M608 1363.75h3m4.5 0h3m6 0h4.5m15 0h3M603.5 1365.25h1.5m1.5 0h6m4.5 0h1.5m13.5 0h4.5m9 0h3M603.5 1366.75h7.5m6 0h1.5m13.5 0h3m9 0h3M605 1368.25h3m3 0h6m18 0h3M612.5 1369.75h1.5m1.5 0h3m16.5 0h1.5M614 1371.25h9M614 1372.75h7.5M621.5 1374.25h1.5m22.5 0h3m61.5 0h1.5m1.5 0h4.5m1.5 0h1.5M611 1375.75h1.5m9 0h3m21 0h1.5m52.5 0h3m1.5 0h1.5m1.5 0h1.5m9 0h3M621.5 1377.25h6m25.5 0h3m43.5 0h4.5m18 0h4.5m1.5 0h3m1.5 0h4.5M624.5 1378.75h1.5m25.5 0h4.5m43.5 0h1.5m24 0h3m1.5 0h4.5M624.5 1380.25h3m27 0h4.5m40.5 0h1.5m25.5 0h1.5m1.5 0h1.5m1.5 0h1.5M618.5 1381.75h3m4.5 0h3m7.5 0h1.5m15 0h1.5m1.5 0h4.5m1.5 0h3m10.5 0h3m19.5 0h1.5m28.5 0h3m1.5 0h4.5M615.5 1383.25h1.5m1.5 0h6m1.5 0h3m4.5 0h1.5m1.5 0h1.5m15 0h3m3 0h6m25.5 0h4.5m31.5 0h1.5m6 0h3M614 1384.75h10.5m1.5 0h1.5m1.5 0h3m1.5 0h7.5m10.5 0h6m4.5 0h1.5m27 0h1.5m1.5 0h4.5m30 0h1.5m4.5 0h1.5M615.5 1386.25h3m6 0h3m1.5 0h12m9 0h6m7.5 0h6m21 0h1.5m3 0h1.5m30 0h1.5M626 1387.75h7.5m1.5 0h6m6 0h6m10.5 0h6m21 0h6m30 0h1.5M627.5 1389.25h13.5m6 0h3m13.5 0h1.5m1.5 0h1.5m30 0h1.5m24 0h3M698 1390.75h1.5m21 0h3m1.5 0h1.5M698 1392.25h3m18 0h4.5m1.5 0h1.5m4.5 0h1.5M698 1393.75h3m16.5 0h3m1.5 0h3M701 1395.25h1.5M702.5 1396.75h3m3 0h1.5m1.5 0h4.5M704 1398.25h1.5m1.5 0h1.5m3 0h1.5" stroke="#313aa2" stroke-width="1.5" fill="none"/>
<path d="M630.5 1338.25h3M626 1342.75h4.5M611 1344.25h3m10.5 0h1.5M611 1345.75h3m10.5 0h6M611 1350.25h1.5M623 1351.75h4.5M615.5 1353.25h6m1.5 0h4.5M615.5 1354.75h1.5m9 0h1.5M615.5 1356.25h1.5m7.5 0h1.5M617 1357.75h1.5m6 0h1.5M620 1359.25h6M612.5 1363.75h3M612.5 1365.25h4.5M611 1366.75h4.5M708.5 1375.75h9M704 1377.25h1.5m9 0h6M702.5 1378.75h1.5m12 0h3m4.5 0h1.5M725 1380.25h1.5M654.5 1381.75h1.5m43.5 0h1.5m24 0h1.5M698 1383.25h1.5m25.5 0h1.5M627.5 1384.75h1.5m63 0h1.5m4.5 0h1.5m25.5 0h1.5M627.5 1386.25h1.5m63 0h3m1.5 0h3m25.5 0h1.5M698 1387.75h3m22.5 0h3M720.5 1389.25h3M699.5 1390.75h3m16.5 0h1.5M701 1392.25h1.5M716 1393.75h1.5M702.5 1395.25h1.5m6 0h4.5M705.5 1396.75h3" stroke="#374bb0" stroke-width="1.5" fill="none"/>
<path d="M626 1344.25h4.5M617 1354.75h1.5m3 0h3M623 1356.25h1.5M618.5 1357.75h6M705.5 1377.25h3m4.5 0h1.5M704 1378.75h1.5m9 0h1.5m3 0h4.5M702.5 1380.25h1.5m12 0h1.5m6 0h1.5M701 1381.75h1.5M699.5 1383.25h1.5m22.5 0h1.5M699.5 1384.75h1.5m22.5 0h1.5M699.5 1386.25h1.5m21 0h1.5M717.5 1387.75h6M701 1389.25h3m13.5 0h3M702.5 1390.75h1.5m13.5 0h1.5M702.5 1392.25h1.5m12 0h1.5M702.5 1393.75h1.5m10.5 0h1.5M704 1395.25h6" stroke="#3e5cbd" stroke-width="1.5" fill="none"/>
<path d="M618.5 1354.75h3M617 1356.25h3m1.5 0h1.5M708.5 1377.25h4.5M713 1378.75h1.5M717.5 1380.25h6M714.5 1381.75h3m4.5 0h1.5M701 1383.25h1.5m12 0h1.5m6 0h1.5M701 1384.75h1.5m19.5 0h1.5M716 1386.25h1.5m1.5 0h3M702.5 1387.75h1.5m12 0h1.5M704 1389.25h1.5M704 1390.75h1.5m10.5 0h1.5M704 1392.25h1.5M704 1393.75h1.5m1.5 0h1.5m4.5 0h1.5" stroke="#4573c7" stroke-width="1.5" fill="none"/>
<path d="M705.5 1378.75h1.5M704 1380.25h1.5m7.5 0h1.5M702.5 1381.75h1.5m9 0h1.5m3 0h4.5M713 1383.25h1.5m1.5 0h6M714.5 1384.75h3m1.5 0h3M702.5 1386.25h1.5M704 1387.75h1.5M705.5 1389.25h1.5m9 0h1.5M705.5 1390.75h1.5M705.5 1392.25h1.5M708.5 1393.75h4.5" stroke="#4b8ccd" stroke-width="1.5" fill="none"/>
<path d="M711.5 1378.75h1.5M702.5 1383.25h1.5M702.5 1384.75h1.5m9 0h1.5M704 1386.25h3m7.5 0h1.5M714.5 1387.75h1.5" stroke="#52a5d1" stroke-width="1.5" fill="none"/>
<path d="M707 1378.75h4.5M711.5 1380.25h1.5M711.5 1381.75h1.5M711.5 1383.25h1.5M704 1384.75h1.5M713 1386.25h1.5M707 1387.75h1.5M707 1389.25h1.5m6 0h1.5M707 1390.75h1.5m6 0h1.5M708.5 1392.25h1.5" stroke="#5dbecb" stroke-width="1.5" fill="none"/>
<path d="M705.5 1380.25h1.5M704 1381.75h1.5M705.5 1384.75h1.5m4.5 0h1.5M713 1387.75h1.5M713 1392.25h1.5" stroke="#74d2ad" stroke-width="1.5" fill="none"/>
<path d="M704 1383.25h1.5M707 1384.75h1.5M708.5 1386.25h1.5m1.5 0h1.5M713 1389.25h1.5M710 1392.25h3" stroke="#9edd65" stroke-width="1.5" fill="none"/>
<path d="M710 1380.25h1.5M710 1383.25h1.5M708.5 1384.75h3M710 1386.25h1.5M708.5 1387.75h1.5m1.5 0h1.5M708.5 1390.75h1.5m3 0h1.5" stroke="#c6e13c" stroke-width="1.5" fill="none"/>
<path d="M707 1380.25h3M705.5 1381.75h1.5m3 0h1.5M705.5 1383.25h1.5M710 1387.75h1.5M711.5 1389.25h1.5M710 1390.75h3" stroke="#e1cb26" stroke-width="1.5" fill="none"/>
<path d="M707 1383.25h3M710 1389.25h1.5" stroke="#e17f1f" stroke-width="1.5" fill="none"/>
<path d="M707 1381.75h3" stroke="#ba3818" stroke-width="1.5" fill="none"/>
<path d="M959.5 1225.75h1.5M916 1234.75h1.5M947.5 1237.75h1.5m34.5 0h1.5M1013.5 1239.25h1.5M976 1240.75h1.5m115.5 0h1.5M949 1243.75h1.5m13.5 0h1.5M977.5 1245.25h1.5M1013.5 1248.25h1.5M934 1249.75h1.5m45 0h1.5m3 0h1.5m24 0h1.5M934 1254.25h1.5m3 0h1.5m7.5 0h1.5M920.5 1255.75h1.5m16.5 0h1.5M943 1257.25h1.5m45 0h1.5M932.5 1258.75h1.5m36 0h1.5m19.5 0h1.5m4.5 0h1.5M931 1260.25h1.5m13.5 0h1.5m3 0h1.5m3 0h1.5m7.5 0h1.5m7.5 0h1.5M941.5 1261.75h1.5m9 0h1.5m3 0h1.5m22.5 0h1.5m45 0h1.5M913 1263.25h1.5m36 0h3m9 0h1.5m54 0h1.5m12 0h1.5m30 0h1.5M913 1264.75h1.5m9 0h1.5m6 0h1.5m10.5 0h1.5m4.5 0h1.5m1.5 0h1.5m16.5 0h1.5m1.5 0h1.5m7.5 0h1.5m36 0h1.5m10.5 0h1.5M932.5 1266.25h1.5m9 0h1.5m4.5 0h1.5m1.5 0h1.5m9 0h1.5m13.5 0h1.5m34.5 0h1.5m18 0h1.5m7.5 0h1.5m18 0h1.5M899.5 1267.75h1.5m1.5 0h3m12 0h1.5m1.5 0h1.5m4.5 0h3m4.5 0h1.5m4.5 0h1.5m3 0h1.5m1.5 0h3m1.5 0h3m3 0h1.5m10.5 0h1.5m3 0h3m4.5 0h1.5m3 0h4.5m24 0h1.5m33 0h1.5m9 0h1.5m1.5 0h1.5m7.5 0h1.5M901 1269.25h1.5m15 0h1.5m9 0h1.5m9 0h1.5m19.5 0h1.5m3 0h4.5m10.5 0h1.5m1.5 0h1.5m13.5 0h1.5m1.5 0h1.5m9 0h1.5m4.5 0h1.5m15 0h1.5m22.5 0h1.5m12 0h1.5m1.5 0h1.5M910 1270.75h1.5m1.5 0h3m9 0h3m4.5 0h1.5m3 0h1.5m1.5 0h1.5m3 0h3m10.5 0h1.5m3 0h1.5m4.5 0h1.5m4.5 0h1.5m1.5 0h3m1.5 0h1.5m1.5 0h3m22.5 0h1.5m4.5 0h1.5m19.5 0h3m1.5 0h1.5m1.5 0h1.5m6 0h3m7.5 0h1.5M896.5 1272.25h1.5m10.5 0h1.5m6 0h1.5m1.5 0h3m1.5 0h1.5m4.5 0h1.5m1.5 0h1.5m25.5 0h1.5m1.5 0h1.5m3 0h3m7.5 0h1.5m7.5 0h9m3 0h4.5m9 0h1.5m3 0h1.5m3 0h1.5m1.5 0h1.5m6 0h1.5m3 0h1.5m7.5 0h1.5m1.5 0h3m1.5 0h1.5M913 1273.75h3m7.5 0h1.5m1.5 0h1.5m13.5 0h3m4.5 0h1.5m22.5 0h4.5m3 0h3m4.5 0h1.5m7.5 0h1.5m3 0h1.5m6 0h3m1.5 0h3m9 0h1.5m1.5 0h1.5m10.5 0h1.5m12 0h1.5m6 0h4.5M902.5 1275.25h1.5m3 0h1.5m72 0h1.5m1.5 0h3m10.5 0h3m6 0h1.5m3 0h1.5m4.5 0h1.5m7.5 0h3m1.5 0h1.5m6 0h1.5m1.5 0h4.5m1.5 0h1.5m4.5 0h1.5m1.5 0h1.5m1.5 0h1.5m10.5 0h1.5M899.5 1276.75h1.5m6 0h1.5m1.5 0h1.5m1.5 0h1.5m61.5 0h1.5m3 0h1.5m24 0h1.5m1.5 0h1.5m4.5 0h1.5m1.5 0h4.5m6 0h1.5m4.5 0h1.5m3 0h1.5m4.5 0h1.5m1.5 0h4.5m4.5 0h7.5m3 0h1.5m1.5 0h1.5M908.5 1278.25h1.5m3 0h3m58.5 0h1.5m1.5 0h1.5m25.5 0h1.5m1.5 0h1.5m3 0h1.5m3 0h1.5m4.5 0h1.5m1.5 0h1.5m3 0h3m3 0h1.5m3 0h1.5m1.5 0h1.5m15 0h1.5m4.5 0h3M904 1279.75h1.5m1.5 0h1.5m3 0h3m115.5 0h1.5m22.5 0h1.5m3 0h1.5m4.5 0h1.5m1.5 0h3m1.5 0h1.5M911.5 1281.25h3m102 0h3m1.5 0h1.5m12 0h1.5m3 0h1.5m1.5 0h1.5m10.5 0h3m1.5 0h1.5m1.5 0h3m3 0h1.5M899.5 1282.75h1.5m99 0h1.5m19.5 0h1.5m1.5 0h1.5m12 0h1.5m1.5 0h1.5m18 0h1.5M901 1284.25h1.5m3 0h1.5m7.5 0h1.5m141 0h1.5m12 0h1.5m6 0h1.5M899.5 1285.75h1.5m129 0h3m33 0h3m3 0h1.5M877 1287.25h1.5m22.5 0h1.5m127.5 0h1.5m1.5 0h3m31.5 0h1.5m9 0h1.5M899.5 1288.75h1.5m10.5 0h1.5m120 0h1.5m10.5 0h1.5m1.5 0h1.5m22.5 0h1.5m3 0h1.5M901 1290.25h1.5m1.5 0h4.5m138 0h1.5m22.5 0h3m3 0h1.5M877 1291.75h1.5m25.5 0h1.5m1.5 0h1.5m1.5 0h1.5m169.5 0h4.5M896.5 1293.25h1.5m10.5 0h1.5m139.5 0h1.5m15 0h1.5m34.5 0h1.5M901 1294.75h1.5m3 0h1.5m3 0h1.5m159 0h1.5m3 0h1.5M901 1296.25h3m6 0h1.5m157.5 0h1.5m4.5 0h1.5m3 0h1.5m3 0h1.5M890.5 1297.75h1.5m7.5 0h1.5m3 0h1.5m166.5 0h1.5m4.5 0h1.5m58.5 0h1.5M904 1299.25h1.5m166.5 0h4.5m3 0h3m12 0h1.5m27 0h1.5M898 1300.75h1.5m9 0h3m160.5 0h1.5M896.5 1302.25h1.5m4.5 0h3m165 0h1.5m1.5 0h1.5m1.5 0h1.5M889 1303.75h1.5m13.5 0h1.5m4.5 0h3m106.5 0h3m45 0h1.5m1.5 0h1.5m1.5 0h1.5m9 0h1.5m1.5 0h1.5M896.5 1305.25h1.5m3 0h1.5m126 0h1.5m1.5 0h3m33 0h1.5m6 0h1.5M904 1306.75h3m1.5 0h1.5m121.5 0h1.5m1.5 0h1.5m34.5 0h1.5m9 0h3M911.5 1308.25h1.5m114 0h3m1.5 0h1.5m3 0h1.5m1.5 0h1.5m39 0h1.5m16.5 0h1.5M896.5 1309.75h1.5m133.5 0h3m43.5 0h1.5m18 0h1.5M890.5 1311.25h1.5m12 0h3m124.5 0h1.5m4.5 0h1.5m33 0h1.5m7.5 0h1.5M896.5 1312.75h1.5m1.5 0h1.5m1.5 0h3m106.5 0h1.5m18 0h1.5m43.5 0h3M1031.5 1314.25h4.5m10.5 0h1.5m27 0h3m1.5 0h3m4.5 0h1.5M1043.5 1315.75h3m28.5 0h1.5m6 0h1.5M901 1317.25h1.5m6 0h1.5m121.5 0h1.5m7.5 0h3m36 0h1.5M887.5 1318.75h1.5m151.5 0h1.5m31.5 0h1.5m1.5 0h1.5m6 0h1.5m3 0h1.5M875.5 1320.25h1.5m157.5 0h1.5m3 0h1.5m36 0h4.5m1.5 0h1.5m3 0h1.5m1.5 0h1.5M901 1321.75h1.5m4.5 0h1.5m163.5 0h1.5m10.5 0h1.5m1.5 0h3m13.5 0h1.5M901 1323.25h3m3 0h1.5m126 0h1.5m19.5 0h1.5m19.5 0h1.5M886 1324.75h1.5m18 0h1.5m96 0h3m37.5 0h1.5m1.5 0h1.5m25.5 0h1.5m1.5 0h1.5m10.5 0h1.5M872.5 1326.25h1.5m13.5 0h1.5m12 0h1.5m3 0h1.5m1.5 0h3m90 0h1.5m43.5 0h3m27 0h1.5M904 1327.75h3m3 0h1.5m100.5 0h1.5m7.5 0h1.5m22.5 0h1.5m3 0h1.5m30 0h1.5m1.5 0h1.5m1.5 0h1.5M887.5 1329.25h1.5m7.5 0h1.5m7.5 0h4.5m105 0h1.5m6 0h1.5m55.5 0h4.5m1.5 0h1.5M902.5 1330.75h1.5m106.5 0h1.5m69 0h1.5m1.5 0h1.5M1012 1332.25h1.5m30 0h1.5m45 0h1.5M902.5 1333.75h1.5m1.5 0h3m133.5 0h1.5m39 0h4.5m3 0h1.5M892 1335.25h1.5m4.5 0h1.5m1.5 0h1.5m138 0h3m40.5 0h1.5m4.5 0h1.5M895 1336.75h1.5m10.5 0h1.5m178.5 0h1.5m4.5 0h1.5M1082.5 1338.25h1.5m6 0h1.5M904 1339.75h1.5m1.5 0h1.5m178.5 0h1.5M1079.5 1341.25h1.5m1.5 0h1.5m3 0h1.5M898 1342.75h1.5m186 0h1.5m3 0h1.5M908.5 1344.25h1.5m171 0h1.5m1.5 0h1.5m48 0h1.5M907 1345.75h1.5M895 1347.25h1.5m6 0h1.5m3 0h3m172.5 0h1.5M898 1348.75h1.5m3 0h3m4.5 0h1.5m178.5 0h1.5M901 1350.25h1.5m4.5 0h1.5m1.5 0h1.5m171 0h1.5m3 0h1.5M901 1351.75h1.5m3 0h1.5m106.5 0h1.5m15 0h3m48 0h1.5m4.5 0h1.5m6 0h1.5M865 1353.25h1.5m43.5 0h1.5m103.5 0h1.5m64.5 0h1.5m6 0h1.5M902.5 1354.75h1.5m4.5 0h1.5m171 0h1.5m6 0h3M902.5 1356.25h1.5m109.5 0h3m64.5 0h1.5M911.5 1357.75h1.5m174 0h1.5m1.5 0h1.5M901 1359.25h1.5m4.5 0h3m169.5 0h1.5m1.5 0h1.5m6 0h3M905.5 1360.75h1.5m3 0h1.5m121.5 0h1.5m52.5 0h1.5M896.5 1362.25h1.5m13.5 0h1.5m117 0h1.5m51 0h1.5M904 1363.75h1.5m4.5 0h4.5m171 0h3M907 1365.25h1.5m4.5 0h1.5m112.5 0h1.5m1.5 0h1.5M901 1366.75h1.5m9 0h1.5m114 0h1.5m9 0h1.5m34.5 0h1.5m7.5 0h1.5m4.5 0h1.5M895 1368.25h1.5m6 0h1.5m93 0h1.5m6 0h1.5m25.5 0h1.5m6 0h1.5m33 0h3m3 0h1.5m3 0h1.5m1.5 0h1.5M998.5 1369.75h1.5m1.5 0h1.5m30 0h4.5m7.5 0h1.5m3 0h1.5m27 0h1.5M899.5 1371.25h3m1.5 0h4.5m1.5 0h1.5m84 0h1.5m1.5 0h3m1.5 0h1.5m18 0h3m1.5 0h3m3 0h1.5m3 0h9m27 0h3m9 0h4.5M908.5 1372.75h1.5m1.5 0h1.5m88.5 0h1.5m7.5 0h1.5m16.5 0h1.5m1.5 0h1.5m3 0h1.5m4.5 0h3m6 0h1.5m19.5 0h3m1.5 0h3m1.5 0h3m1.5 0h1.5M869.5 1374.25h1.5m42 0h1.5m1.5 0h3m4.5 0h1.5m1.5 0h1.5m64.5 0h1.5m3 0h3m3 0h1.5m1.5 0h1.5m4.5 0h3m6 0h6m4.5 0h1.5m1.5 0h1.5m1.5 0h4.5m7.5 0h1.5m27 0h3m7.5 0h1.5M892 1375.75h1.5m15 0h4.5m18 0h1.5m24 0h1.5m10.5 0h3m13.5 0h1.5m4.5 0h3m1.5 0h1.5m3 0h1.5m3 0h1.5m6 0h1.5m3 0h1.5m4.5 0h1.5m4.5 0h4.5m1.5 0h1.5m6 0h1.5m6 0h3m18 0h1.5m1.5 0h6M908.5 1377.25h1.5m7.5 0h3m1.5 0h1.5m3 0h3m1.5 0h1.5m6 0h3m1.5 0h1.5m3 0h1.5m7.5 0h1.5m1.5 0h1.5m4.5 0h1.5m4.5 0h1.5m12 0h4.5m1.5 0h1.5m6 0h3m3 0h3m3 0h1.5m6 0h1.5m6 0h1.5m6 0h1.5m1.5 0h1.5m3 0h1.5m3 0h1.5m6 0h1.5m15 0h1.5m6 0h1.5m6 0h6m1.5 0h1.5M895 1378.75h1.5m1.5 0h1.5m13.5 0h1.5m1.5 0h1.5m6 0h1.5m1.5 0h1.5m1.5 0h4.5m10.5 0h1.5m1.5 0h1.5m4.5 0h1.5m9 0h1.5m1.5 0h1.5m3 0h1.5m10.5 0h1.5m1.5 0h1.5m1.5 0h3m1.5 0h1.5m4.5 0h1.5m3 0h3m7.5 0h3m4.5 0h3m12 0h1.5m9 0h1.5m31.5 0h1.5m4.5 0h1.5M905.5 1380.25h1.5m6 0h1.5m7.5 0h3m1.5 0h1.5m1.5 0h3m6 0h3m1.5 0h1.5m6 0h1.5m6 0h1.5m7.5 0h1.5m1.5 0h1.5m1.5 0h1.5m10.5 0h1.5m4.5 0h3m7.5 0h3m9 0h1.5m3 0h1.5m1.5 0h1.5m6 0h1.5m4.5 0h1.5m3 0h1.5m4.5 0h1.5m7.5 0h1.5m7.5 0h1.5m4.5 0h1.5m7.5 0h1.5m4.5 0h3M905.5 1381.75h1.5m7.5 0h1.5m10.5 0h1.5m1.5 0h1.5m1.5 0h1.5m9 0h3m7.5 0h1.5m1.5 0h3m1.5 0h1.5m1.5 0h1.5m7.5 0h3m1.5 0h1.5m10.5 0h4.5m6 0h3m1.5 0h1.5m12 0h1.5m18 0h1.5m12 0h1.5m4.5 0h1.5m1.5 0h3m4.5 0h3m1.5 0h1.5m6 0h1.5m1.5 0h3M922 1383.25h1.5m7.5 0h1.5m1.5 0h1.5m6 0h1.5m3 0h1.5m7.5 0h1.5m6 0h1.5m1.5 0h1.5m18 0h3m9 0h3m6 0h1.5m3 0h1.5m9 0h1.5m16.5 0h1.5m10.5 0h3m4.5 0h1.5m9 0h1.5m4.5 0h1.5M859 1384.75h1.5m27 0h1.5m18 0h1.5m7.5 0h1.5m22.5 0h1.5m3 0h3m1.5 0h1.5m3 0h1.5m6 0h3m9 0h1.5m13.5 0h1.5m4.5 0h1.5m3 0h1.5m6 0h3m6 0h3m3 0h1.5m3 0h1.5m1.5 0h1.5m3 0h1.5m7.5 0h1.5m13.5 0h1.5m3 0h3m18 0h1.5m6 0h1.5m30 0h1.5m15 0h1.5M871 1386.25h1.5m22.5 0h1.5m1.5 0h1.5m22.5 0h1.5m4.5 0h1.5m1.5 0h1.5m6 0h1.5m21 0h1.5m3 0h1.5m4.5 0h1.5m1.5 0h4.5m4.5 0h1.5m7.5 0h1.5m9 0h1.5m24 0h1.5m6 0h1.5m24 0h1.5m3 0h1.5m3 0h1.5m1.5 0h1.5m6 0h1.5m12 0h1.5M889 1387.75h1.5m28.5 0h1.5m3 0h1.5m6 0h1.5m3 0h3m1.5 0h1.5m1.5 0h1.5m1.5 0h1.5m1.5 0h3m1.5 0h1.5m15 0h3m3 0h3m4.5 0h1.5m3 0h1.5m13.5 0h1.5m4.5 0h3m12 0h1.5m6 0h1.5m45 0h1.5m1.5 0h1.5M845.5 1389.25h1.5m76.5 0h1.5m1.5 0h1.5m1.5 0h1.5m9 0h3m3 0h1.5m7.5 0h1.5m18 0h3m7.5 0h3m10.5 0h1.5m6 0h1.5m4.5 0h1.5m10.5 0h1.5m1.5 0h1.5m6 0h1.5m3 0h1.5m1.5 0h3m3 0h3m1.5 0h1.5m22.5 0h1.5m3 0h3m4.5 0h1.5m1.5 0h1.5m37.5 0h1.5m10.5 0h3M916 1390.75h1.5m7.5 0h1.5m19.5 0h1.5m1.5 0h4.5m6 0h3m3 0h7.5m4.5 0h1.5m4.5 0h3m4.5 0h1.5m15 0h1.5m1.5 0h3m1.5 0h3m7.5 0h1.5m4.5 0h3m9 0h1.5m19.5 0h1.5m1.5 0h1.5m21 0h1.5m57 0h1.5M886 1392.25h1.5m36 0h1.5m15 0h1.5m12 0h3m12 0h1.5m1.5 0h1.5m3 0h1.5m12 0h1.5m4.5 0h1.5m9 0h1.5m10.5 0h1.5m15 0h1.5m7.5 0h1.5m1.5 0h1.5m7.5 0h3m3 0h3m4.5 0h1.5m4.5 0h1.5m1.5 0h1.5M865 1393.75h1.5m48 0h1.5m3 0h1.5m4.5 0h1.5m4.5 0h3m3 0h1.5m1.5 0h4.5m9 0h1.5m6 0h3m4.5 0h3m4.5 0h1.5m9 0h1.5m3 0h1.5m3 0h1.5m19.5 0h1.5m6 0h1.5m1.5 0h3m12 0h1.5m12 0h1.5m1.5 0h1.5m27 0h1.5M853 1395.25h1.5m3 0h1.5m21 0h1.5m13.5 0h1.5m19.5 0h1.5m3 0h1.5m1.5 0h1.5m1.5 0h1.5m6 0h1.5m3 0h1.5m6 0h1.5m3 0h1.5m6 0h6m3 0h1.5m3 0h1.5m1.5 0h1.5m3 0h1.5m3 0h1.5m7.5 0h3m3 0h1.5m7.5 0h4.5m21 0h1.5m6 0h1.5m1.5 0h1.5m1.5 0h1.5m15 0h3m7.5 0h3m6 0h3m12 0h1.5m10.5 0h1.5M877 1396.75h1.5m7.5 0h3m55.5 0h1.5m9 0h1.5m1.5 0h1.5m1.5 0h1.5m1.5 0h1.5m1.5 0h1.5m4.5 0h1.5m9 0h1.5m9 0h1.5m6 0h1.5m13.5 0h1.5m6 0h1.5m13.5 0h3m1.5 0h3m22.5 0h1.5m3 0h1.5m15 0h1.5M910 1398.25h1.5m1.5 0h1.5m7.5 0h1.5m7.5 0h1.5m1.5 0h1.5m27 0h3m7.5 0h1.5m4.5 0h1.5m6 0h1.5m6 0h1.5m1.5 0h1.5m4.5 0h1.5m9 0h1.5m1.5 0h1.5m1.5 0h1.5m9 0h1.5m6 0h3m3 0h1.5m3 0h1.5m3 0h1.5m24 0h1.5m7.5 0h1.5M854.5 1399.75h1.5m27 0h1.5m6 0h1.5m42 0h1.5m13.5 0h1.5m6 0h1.5m13.5 0h1.5m1.5 0h3m1.5 0h4.5m25.5 0h1.5m6 0h1.5m27 0h1.5m16.5 0h3m3 0h1.5m9 0h1.5m9 0h3m28.5 0h1.5m25.5 0h1.5M883 1401.25h1.5m25.5 0h1.5m19.5 0h1.5m19.5 0h3m22.5 0h1.5m3 0h1.5m3 0h3m6 0h1.5m6 0h3m6 0h1.5m4.5 0h1.5m6 0h1.5m16.5 0h1.5m3 0h1.5m18 0h1.5m6 0h1.5m1.5 0h1.5m10.5 0h1.5M905.5 1402.75h1.5m6 0h1.5m25.5 0h1.5m1.5 0h1.5m1.5 0h1.5m10.5 0h1.5m28.5 0h1.5m3 0h1.5m3 0h1.5m6 0h1.5m7.5 0h1.5m21 0h1.5m7.5 0h1.5m25.5 0h1.5m9 0h1.5m39 0h1.5M844 1404.25h1.5m27 0h1.5m22.5 0h1.5m33 0h1.5m6 0h1.5m7.5 0h1.5m4.5 0h1.5m1.5 0h3m9 0h1.5m21 0h1.5m19.5 0h1.5m16.5 0h1.5m16.5 0h1.5m1.5 0h1.5m4.5 0h3m7.5 0h1.5m12 0h1.5m1.5 0h1.5m1.5 0h1.5M919 1405.75h1.5m4.5 0h1.5m15 0h1.5m6 0h1.5m1.5 0h1.5m3 0h1.5m30 0h1.5m37.5 0h1.5m21 0h1.5m10.5 0h1.5m7.5 0h1.5m1.5 0h1.5m66 0h1.5M916 1407.25h3m1.5 0h1.5m10.5 0h1.5m27 0h1.5m31.5 0h3m15 0h1.5m13.5 0h1.5m21 0h1.5m7.5 0h1.5m7.5 0h1.5m7.5 0h1.5M896.5 1408.75h1.5m9 0h1.5m18 0h1.5m12 0h1.5m36 0h1.5m4.5 0h1.5m4.5 0h1.5m27 0h1.5m34.5 0h1.5m19.5 0h1.5M923.5 1410.25h1.5m7.5 0h1.5m10.5 0h1.5m10.5 0h1.5m21 0h1.5m31.5 0h1.5m13.5 0h1.5m28.5 0h1.5m4.5 0h1.5M877 1411.75h1.5m24 0h1.5m33 0h1.5m27 0h1.5m9 0h1.5m7.5 0h1.5m25.5 0h1.5m21 0h1.5m15 0h1.5M896.5 1413.25h1.5m67.5 0h1.5m30 0h1.5m18 0h1.5m7.5 0h1.5M916 1414.75h1.5m54 0h1.5m9 0h1.5m61.5 0h1.5m16.5 0h1.5m31.5 0h1.5M905.5 1416.25h1.5m70.5 0h1.5m70.5 0h1.5M946 1417.75h1.5m67.5 0h1.5M1028.5 1419.25h1.5m33 0h1.5M1000 1420.75h1.5m52.5 0h1.5m30 0h1.5M1078 1422.25h1.5M928 1425.25h1.5m9 0h1.5m21 0h1.5m63 0h1.5M1000 1428.25h1.5M1013.5 1429.75h1.5M923.5 1432.75h1.5M1016.5 1443.25h1.5M1003 1446.25h1.5" stroke="#2b2e90" stroke-width="1.5" fill="none"/>
<path d="M956.5 1272.25h1.5M917.5 1273.75h1.5m1.5 0h3m9 0h1.5m16.5 0h3m1.5 0h3m6 0h3M916 1275.25h4.5m6 0h3m4.5 0h1.5m1.5 0h7.5m1.5 0h1.5m3 0h1.5m1.5 0h1.5m6 0h1.5m27 0h1.5m12 0h3M916 1276.75h1.5m4.5 0h3m12 0h1.5m7.5 0h1.5m4.5 0h1.5m3 0h1.5m10.5 0h1.5m12 0h4.5m3 0h1.5m1.5 0h1.5m6 0h6m18 0h3M919 1278.25h3m1.5 0h1.5m1.5 0h1.5m19.5 0h7.5m1.5 0h1.5m18 0h1.5m6 0h1.5m7.5 0h1.5m1.5 0h1.5m1.5 0h4.5m43.5 0h1.5m1.5 0h1.5M917.5 1279.75h4.5m1.5 0h1.5m1.5 0h1.5m1.5 0h1.5m18 0h1.5m1.5 0h1.5m1.5 0h1.5m13.5 0h1.5m3 0h1.5m1.5 0h1.5m3 0h1.5m10.5 0h4.5m1.5 0h1.5m9 0h3m13.5 0h1.5m21 0h1.5M925 1281.25h1.5m1.5 0h1.5m48 0h1.5m1.5 0h1.5m1.5 0h1.5m6 0h1.5m3 0h3m4.5 0h4.5m1.5 0h6m10.5 0h1.5m1.5 0h1.5m1.5 0h1.5m10.5 0h7.5m1.5 0h1.5m10.5 0h1.5M916 1282.75h3m10.5 0h1.5m55.5 0h1.5m3 0h7.5m6 0h3m1.5 0h1.5m1.5 0h9m4.5 0h1.5m3 0h6m7.5 0h3m4.5 0h1.5m1.5 0h1.5m9 0h1.5M916 1284.25h1.5m67.5 0h1.5m1.5 0h4.5m1.5 0h3m1.5 0h1.5m7.5 0h4.5m3 0h1.5m1.5 0h1.5m1.5 0h1.5m3 0h3m1.5 0h1.5m1.5 0h1.5m1.5 0h1.5m13.5 0h3m7.5 0h4.5M914.5 1285.75h4.5m73.5 0h1.5m4.5 0h4.5m4.5 0h3m4.5 0h1.5m9 0h3m6 0h1.5m1.5 0h1.5m1.5 0h7.5m1.5 0h3m1.5 0h3m3 0h6M914.5 1287.25h4.5m1.5 0h1.5m9 0h1.5m63 0h3m1.5 0h4.5m1.5 0h1.5m3 0h1.5m1.5 0h1.5m10.5 0h1.5m10.5 0h3m1.5 0h3m4.5 0h1.5m1.5 0h1.5m1.5 0h1.5M913 1288.75h3m1.5 0h1.5m1.5 0h3m16.5 0h1.5m30 0h1.5m28.5 0h1.5m1.5 0h6m1.5 0h1.5m13.5 0h3m7.5 0h4.5m12 0h3m4.5 0h1.5m1.5 0h3M913 1290.25h1.5m1.5 0h1.5m1.5 0h1.5m1.5 0h1.5m3 0h1.5m70.5 0h9m1.5 0h1.5m15 0h4.5m1.5 0h6m4.5 0h3m10.5 0h1.5m4.5 0h1.5m1.5 0h1.5M911.5 1291.75h3m4.5 0h1.5m4.5 0h3m1.5 0h1.5m75 0h6m12 0h1.5m3 0h1.5m1.5 0h1.5m1.5 0h1.5m4.5 0h1.5m3 0h1.5m15 0h1.5m1.5 0h1.5M911.5 1293.25h1.5m10.5 0h4.5m75 0h3m1.5 0h6m10.5 0h1.5m1.5 0h1.5m4.5 0h1.5m12 0h3m6 0h1.5m3 0h1.5m1.5 0h3M911.5 1294.75h3m90 0h1.5m15 0h1.5m3 0h1.5m19.5 0h1.5m1.5 0h1.5m1.5 0h3m6 0h3M911.5 1296.25h1.5m94.5 0h3m13.5 0h1.5m25.5 0h3m6 0h4.5M913 1297.75h4.5m90 0h4.5m39 0h1.5m1.5 0h1.5m9 0h1.5m1.5 0h4.5M911.5 1299.25h3m4.5 0h1.5m124.5 0h3m4.5 0h1.5m1.5 0h1.5m7.5 0h4.5M985 1300.75h1.5m31.5 0h1.5m1.5 0h4.5m3 0h1.5m10.5 0h6m1.5 0h7.5m1.5 0h1.5m7.5 0h1.5m1.5 0h1.5M911.5 1302.25h1.5m96 0h3m3 0h3m6 0h1.5m1.5 0h1.5m3 0h3m1.5 0h1.5m1.5 0h1.5m1.5 0h1.5m3 0h3m4.5 0h3m1.5 0h1.5m7.5 0h1.5M1009 1303.75h1.5m4.5 0h1.5m6 0h4.5m9 0h3m3 0h3m1.5 0h1.5m9 0h1.5m6 0h1.5M1006 1305.25h1.5m3 0h1.5m1.5 0h1.5m1.5 0h3m3 0h3m9 0h1.5m1.5 0h7.5m19.5 0h1.5M1007.5 1306.75h4.5m1.5 0h1.5m3 0h1.5m1.5 0h4.5m13.5 0h3M907 1308.25h1.5m4.5 0h1.5m81 0h1.5m10.5 0h1.5m1.5 0h1.5m1.5 0h3m1.5 0h1.5m3 0h1.5m16.5 0h1.5m21 0h1.5m1.5 0h3M907 1309.75h6m82.5 0h1.5m1.5 0h1.5m10.5 0h3m3 0h3m1.5 0h1.5m1.5 0h1.5m1.5 0h3m28.5 0h1.5m1.5 0h3m1.5 0h6M908.5 1311.25h1.5m105 0h1.5m3 0h3m4.5 0h1.5m1.5 0h1.5m10.5 0h6m1.5 0h1.5m15 0h3m1.5 0h1.5M910 1312.75h3m3 0h1.5m1.5 0h1.5m90 0h1.5m4.5 0h1.5m3 0h3m3 0h1.5m10.5 0h6m6 0h1.5m6 0h1.5m1.5 0h3m3 0h4.5M911.5 1314.25h3m1.5 0h1.5m1.5 0h3m87 0h3m1.5 0h1.5m9 0h4.5m9 0h1.5m1.5 0h1.5m1.5 0h1.5m3 0h6m4.5 0h6m4.5 0h4.5M911.5 1315.75h1.5m6 0h1.5m85.5 0h1.5m1.5 0h1.5m4.5 0h3m1.5 0h4.5m6 0h3m1.5 0h1.5m1.5 0h1.5m3 0h1.5m6 0h1.5m4.5 0h1.5m6 0h10.5M910 1317.25h1.5m96 0h1.5m12 0h3m1.5 0h4.5m4.5 0h6m6 0h9m3 0h1.5m1.5 0h6m1.5 0h1.5M908.5 1318.75h3m96 0h1.5m1.5 0h7.5m4.5 0h1.5m3 0h4.5m3 0h1.5m1.5 0h1.5m6 0h7.5m1.5 0h1.5m1.5 0h4.5m9 0h3M1010.5 1320.25h1.5m1.5 0h4.5m1.5 0h1.5m1.5 0h1.5m12 0h3m4.5 0h4.5m4.5 0h3m1.5 0h1.5m3 0h1.5M1001.5 1321.75h1.5m1.5 0h1.5m1.5 0h1.5m1.5 0h6m1.5 0h1.5m9 0h1.5m7.5 0h1.5m1.5 0h1.5m1.5 0h3m1.5 0h4.5m7.5 0h1.5m9 0h1.5M910 1323.25h3m87 0h1.5m6 0h3m3 0h9m15 0h1.5m3 0h1.5m4.5 0h4.5m4.5 0h1.5m10.5 0h1.5M911.5 1324.75h3m84 0h1.5m10.5 0h3m1.5 0h1.5m1.5 0h6m7.5 0h3m1.5 0h1.5m3 0h3m9 0h1.5m1.5 0h1.5m1.5 0h1.5m10.5 0h1.5M911.5 1326.25h3m82.5 0h1.5m12 0h3m1.5 0h4.5m1.5 0h1.5m3 0h1.5m4.5 0h1.5m1.5 0h1.5m18 0h4.5m10.5 0h1.5m1.5 0h1.5M911.5 1327.75h1.5m82.5 0h1.5m1.5 0h6m1.5 0h4.5m16.5 0h1.5m1.5 0h4.5m12 0h3m1.5 0h3m1.5 0h4.5m13.5 0h1.5M914.5 1329.25h3m78 0h1.5m3 0h1.5m6 0h1.5m1.5 0h1.5m4.5 0h3m1.5 0h1.5m3 0h3m1.5 0h1.5m4.5 0h1.5m4.5 0h1.5m1.5 0h3m4.5 0h1.5m1.5 0h4.5m15 0h4.5M908.5 1330.75h1.5m1.5 0h4.5m81 0h1.5m1.5 0h1.5m1.5 0h4.5m1.5 0h1.5m9 0h1.5m1.5 0h10.5m1.5 0h1.5m4.5 0h1.5m3 0h1.5m3 0h3m1.5 0h6m16.5 0h3M907 1332.25h3m9 0h1.5m85.5 0h3m1.5 0h1.5m3 0h1.5m9 0h4.5m1.5 0h4.5m3 0h1.5m4.5 0h3m1.5 0h1.5m4.5 0h1.5m1.5 0h3m15 0h3M908.5 1333.75h3m6 0h4.5m81 0h3m1.5 0h3m3 0h1.5m7.5 0h1.5m6 0h1.5m3 0h1.5m10.5 0h1.5m1.5 0h1.5m4.5 0h1.5m7.5 0h1.5m9 0h1.5m3 0h3M920.5 1335.25h1.5m81 0h6m1.5 0h6m6 0h3m1.5 0h1.5m1.5 0h4.5m1.5 0h3m7.5 0h4.5m1.5 0h4.5m22.5 0h3M910 1336.75h1.5m91.5 0h1.5m3 0h3m7.5 0h1.5m1.5 0h3m1.5 0h3m10.5 0h1.5m4.5 0h1.5m1.5 0h1.5m3 0h1.5M908.5 1338.25h3m91.5 0h3m1.5 0h1.5m3 0h1.5m1.5 0h1.5m1.5 0h9m1.5 0h3m6 0h1.5m6 0h3m1.5 0h3m1.5 0h3m22.5 0h1.5M910 1339.75h1.5m90 0h1.5m6 0h4.5m1.5 0h1.5m1.5 0h1.5m4.5 0h1.5m13.5 0h3m4.5 0h4.5m1.5 0h3m1.5 0h1.5m1.5 0h1.5m1.5 0h1.5m15 0h1.5M908.5 1341.25h4.5m4.5 0h1.5m81 0h1.5m15 0h1.5m3 0h1.5m3 0h1.5m10.5 0h3m6 0h3m6 0h3m3 0h3M911.5 1342.75h4.5m3 0h1.5m99 0h7.5m1.5 0h3m1.5 0h3m1.5 0h3m4.5 0h1.5m1.5 0h3m6 0h3m3 0h3M910 1344.25h3m1.5 0h1.5m1.5 0h1.5m97.5 0h4.5m4.5 0h1.5m3 0h1.5m1.5 0h3m1.5 0h1.5m9 0h3m4.5 0h3m1.5 0h1.5m1.5 0h1.5m12 0h1.5M917.5 1345.75h1.5m97.5 0h3m1.5 0h3m1.5 0h1.5m6 0h1.5m3 0h1.5m3 0h4.5m1.5 0h4.5m7.5 0h3m13.5 0h1.5m1.5 0h3M913 1347.25h6m6 0h1.5m60 0h3m9 0h1.5m6 0h1.5m1.5 0h1.5m10.5 0h6m1.5 0h4.5m1.5 0h1.5m12 0h3m7.5 0h1.5m6 0h1.5m10.5 0h1.5m1.5 0h1.5M913 1348.75h4.5m7.5 0h1.5m63 0h1.5m6 0h1.5m1.5 0h1.5m3 0h3m1.5 0h7.5m3 0h1.5m1.5 0h1.5m1.5 0h1.5m3 0h1.5m1.5 0h1.5m9 0h1.5m1.5 0h6m13.5 0h1.5m7.5 0h1.5m1.5 0h3M913 1350.25h1.5m1.5 0h1.5m70.5 0h1.5m1.5 0h1.5m4.5 0h1.5m7.5 0h1.5m4.5 0h1.5m3 0h6m1.5 0h3m1.5 0h1.5m1.5 0h1.5m9 0h1.5m1.5 0h4.5m27 0h1.5m3 0h1.5M913 1351.75h1.5m75 0h1.5m1.5 0h1.5m1.5 0h3m10.5 0h4.5m3 0h3m6 0h1.5m7.5 0h1.5m6 0h1.5m1.5 0h4.5m27 0h1.5M913 1353.25h1.5m78 0h1.5m15 0h3m6 0h1.5m6 0h1.5m6 0h1.5m1.5 0h1.5m4.5 0h4.5m1.5 0h3m24 0h1.5m1.5 0h3M913 1354.75h3m52.5 0h1.5m24 0h1.5m25.5 0h1.5m1.5 0h1.5m3 0h1.5m1.5 0h1.5m1.5 0h1.5m6 0h1.5m1.5 0h1.5m3 0h1.5m6 0h1.5m16.5 0h4.5M991 1356.25h3m7.5 0h3m7.5 0h1.5m3 0h3m3 0h1.5m6 0h4.5m1.5 0h1.5m1.5 0h3m1.5 0h1.5m1.5 0h1.5m9 0h1.5m18 0h3M914.5 1357.75h1.5m3 0h3m1.5 0h1.5m76.5 0h1.5m1.5 0h1.5m4.5 0h3m6 0h1.5m9 0h3m1.5 0h1.5m1.5 0h1.5m3 0h3m28.5 0h1.5m1.5 0h3M911.5 1359.25h1.5m7.5 0h1.5m1.5 0h1.5m73.5 0h6m7.5 0h1.5m7.5 0h1.5m7.5 0h1.5m6 0h1.5m36 0h3M913 1360.75h4.5m1.5 0h1.5m78 0h4.5m9 0h1.5m13.5 0h3m4.5 0h1.5m1.5 0h1.5m36 0h1.5M916 1362.25h1.5m1.5 0h3m75 0h1.5m1.5 0h1.5m1.5 0h1.5m1.5 0h1.5m18 0h1.5m6 0h3m1.5 0h3m33 0h1.5m3 0h1.5M917.5 1363.75h4.5m75 0h1.5m3 0h3m1.5 0h1.5m3 0h1.5m1.5 0h1.5m10.5 0h1.5m9 0h1.5m1.5 0h3m10.5 0h3m10.5 0h3m7.5 0h4.5M917.5 1365.25h3m1.5 0h3m37.5 0h1.5m18 0h1.5m6 0h1.5m6 0h3m1.5 0h6m3 0h1.5m10.5 0h1.5m7.5 0h4.5m1.5 0h1.5m1.5 0h1.5m10.5 0h1.5m3 0h3m3 0h1.5m4.5 0h3m1.5 0h1.5m1.5 0h3M914.5 1366.75h1.5m1.5 0h6m21 0h1.5m15 0h1.5m1.5 0h1.5m16.5 0h1.5m1.5 0h3m1.5 0h1.5m3 0h1.5m3 0h1.5m1.5 0h1.5m6 0h1.5m21 0h4.5m4.5 0h1.5m7.5 0h3m1.5 0h1.5m1.5 0h1.5m1.5 0h1.5M913 1368.25h4.5m4.5 0h3m18 0h1.5m1.5 0h1.5m31.5 0h3m1.5 0h1.5m4.5 0h4.5m4.5 0h4.5m3 0h1.5m13.5 0h9m10.5 0h1.5m4.5 0h4.5m3 0h9m1.5 0h7.5M913 1369.75h3m4.5 0h1.5m1.5 0h1.5m9 0h1.5m10.5 0h1.5m15 0h3m13.5 0h4.5m1.5 0h1.5m1.5 0h1.5m1.5 0h1.5m1.5 0h1.5m9 0h4.5m13.5 0h1.5m1.5 0h1.5m27 0h1.5m7.5 0h3m1.5 0h6M916 1371.25h9m1.5 0h3m1.5 0h1.5m10.5 0h1.5m18 0h3m1.5 0h6m3 0h1.5m1.5 0h1.5m1.5 0h1.5m1.5 0h4.5m1.5 0h3m13.5 0h3m43.5 0h1.5m7.5 0h6m1.5 0h1.5M913 1372.75h1.5m4.5 0h3m1.5 0h4.5m4.5 0h4.5m6 0h3m1.5 0h1.5m7.5 0h1.5m1.5 0h3m1.5 0h4.5m4.5 0h1.5m1.5 0h3m3 0h4.5m1.5 0h1.5m1.5 0h3m10.5 0h4.5m7.5 0h1.5m1.5 0h1.5m31.5 0h3m3 0h1.5m1.5 0h4.5m1.5 0h1.5m1.5 0h1.5M911.5 1374.25h1.5m7.5 0h3m7.5 0h3m4.5 0h1.5m3 0h1.5m1.5 0h3m1.5 0h1.5m3 0h4.5m1.5 0h1.5m1.5 0h3m1.5 0h1.5m1.5 0h1.5m1.5 0h6m6 0h3m1.5 0h1.5m24 0h3m33 0h1.5m1.5 0h1.5m3 0h1.5m3 0h3m1.5 0h3M938.5 1375.75h1.5m1.5 0h1.5m1.5 0h3m1.5 0h3m1.5 0h1.5m7.5 0h3m1.5 0h1.5m6 0h1.5m4.5 0h1.5m4.5 0h3m63 0h3m3 0h1.5m1.5 0h6m1.5 0h1.5M941.5 1377.25h1.5m7.5 0h3m7.5 0h3m12 0h1.5m1.5 0h1.5m43.5 0h1.5m28.5 0h1.5m1.5 0h3m1.5 0h4.5M952 1378.75h1.5m7.5 0h1.5m10.5 0h4.5m1.5 0h3m72 0h10.5M961 1380.25h1.5m16.5 0h3M959.5 1381.75h1.5m6 0h4.5m7.5 0h4.5M958 1383.25h1.5m7.5 0h4.5m9 0h3M955 1384.75h4.5m19.5 0h3m1.5 0h1.5M956.5 1386.25h1.5m15 0h1.5m4.5 0h4.5M956.5 1387.75h1.5m15 0h1.5M956.5 1389.25h3M956.5 1390.75h3M976 1396.75h3M976 1398.25h3" stroke="#313aa2" stroke-width="1.5" fill="none"/>
<path d="M929.5 1275.25h4.5m21 0h3m4.5 0h1.5m1.5 0h3M928 1276.75h1.5m3 0h3m3 0h7.5m12 0h3m6 0h1.5M929.5 1278.25h3m1.5 0h1.5m7.5 0h4.5m21 0h1.5m16.5 0h6M922 1279.75h1.5m10.5 0h3m10.5 0h1.5m18 0h1.5m16.5 0h3m1.5 0h4.5M920.5 1281.25h3m9 0h3m13.5 0h1.5m18 0h1.5m4.5 0h1.5m10.5 0h3M919 1282.75h3m3 0h3m3 0h1.5m45 0h6m63 0h4.5M919 1284.25h3m6 0h1.5m1.5 0h4.5m4.5 0h1.5m6 0h3m28.5 0h6m19.5 0h3m39 0h3M922 1285.75h1.5m4.5 0h3m3 0h1.5m3 0h1.5m40.5 0h1.5m3 0h1.5m1.5 0h1.5m13.5 0h3m12 0h4.5M922 1287.25h3m3 0h1.5m7.5 0h1.5m4.5 0h1.5m1.5 0h1.5m1.5 0h1.5m21 0h1.5m1.5 0h1.5m4.5 0h3m4.5 0h3m1.5 0h3m19.5 0h4.5m3 0h1.5m33 0h3M925 1288.75h4.5m1.5 0h3m1.5 0h3m30 0h3m1.5 0h3m12 0h3m4.5 0h1.5m16.5 0h4.5m6 0h3m31.5 0h3M928 1290.25h1.5m1.5 0h1.5m4.5 0h1.5m3 0h1.5m30 0h1.5m12 0h1.5m3 0h1.5m3 0h1.5m16.5 0h1.5m42 0h1.5m1.5 0h1.5M914.5 1291.75h1.5m15 0h1.5m39 0h1.5m9 0h1.5m4.5 0h3m4.5 0h3m1.5 0h1.5m13.5 0h1.5m6 0h1.5m13.5 0h1.5m19.5 0h3M913 1293.25h9m7.5 0h1.5m1.5 0h1.5m48 0h4.5m1.5 0h1.5m7.5 0h1.5m1.5 0h1.5m12 0h3m3 0h3m9 0h1.5m1.5 0h9m13.5 0h3M914.5 1294.75h1.5m1.5 0h1.5m4.5 0h3m4.5 0h1.5m46.5 0h1.5m1.5 0h6m15 0h1.5m9 0h1.5m1.5 0h3m7.5 0h6m3 0h10.5m10.5 0h1.5M916 1296.25h3m60 0h1.5m1.5 0h1.5m1.5 0h3m4.5 0h3m7.5 0h4.5m6 0h1.5m1.5 0h6m3 0h6m1.5 0h1.5m1.5 0h1.5m1.5 0h7.5m3 0h1.5m4.5 0h4.5M977.5 1297.75h1.5m1.5 0h4.5m7.5 0h3m4.5 0h4.5m1.5 0h1.5m6 0h1.5m4.5 0h9m1.5 0h13.5m1.5 0h6m6 0h7.5M920.5 1299.25h1.5m60 0h1.5m1.5 0h4.5m4.5 0h1.5m1.5 0h1.5m4.5 0h1.5m3 0h1.5m3 0h1.5m1.5 0h1.5m1.5 0h4.5m6 0h3m1.5 0h12m12 0h3m1.5 0h1.5M913 1300.75h1.5m3 0h1.5m61.5 0h1.5m4.5 0h13.5m7.5 0h1.5m1.5 0h4.5m1.5 0h1.5m7.5 0h3m4.5 0h6m22.5 0h3M919 1302.25h1.5m1.5 0h1.5m58.5 0h1.5m1.5 0h1.5m1.5 0h1.5m4.5 0h1.5m6 0h3m7.5 0h1.5m12 0h1.5m22.5 0h1.5m9 0h4.5M914.5 1303.75h1.5m3 0h1.5m1.5 0h3m51 0h1.5m4.5 0h7.5m1.5 0h4.5m7.5 0h3m1.5 0h1.5m39 0h6m6 0h3M923.5 1305.25h3m64.5 0h4.5m9 0h1.5m42 0h1.5m1.5 0h4.5m1.5 0h3m1.5 0h1.5M916 1306.75h1.5m7.5 0h1.5m67.5 0h1.5m7.5 0h3m37.5 0h1.5m3 0h1.5m7.5 0h6M916 1308.25h1.5m75 0h3m1.5 0h1.5m1.5 0h1.5m1.5 0h1.5m39 0h9m4.5 0h3M914.5 1309.75h3m16.5 0h1.5m58.5 0h1.5m7.5 0h1.5m4.5 0h1.5m33 0h6M913 1311.25h4.5m3 0h1.5m73.5 0h15m42 0h1.5M913 1312.75h1.5m7.5 0h1.5m72 0h3m3 0h4.5m1.5 0h3m7.5 0h3m31.5 0h6M922 1314.25h1.5m72 0h1.5m1.5 0h3m1.5 0h3m1.5 0h1.5m7.5 0h4.5m34.5 0h3M913 1315.75h4.5m72 0h7.5m7.5 0h1.5m46.5 0h3M913 1317.25h6m1.5 0h1.5m64.5 0h1.5m6 0h1.5m7.5 0h4.5M911.5 1318.75h1.5m4.5 0h3m81 0h4.5m18 0h3m37.5 0h3M911.5 1320.25h1.5m3 0h1.5m1.5 0h1.5m103.5 0h3m36 0h4.5m1.5 0h1.5M913 1321.75h3m1.5 0h1.5m81 0h1.5m22.5 0h3m40.5 0h3M914.5 1323.25h3m72 0h1.5m31.5 0h4.5m1.5 0h1.5m30 0h3M914.5 1324.75h1.5m10.5 0h1.5m58.5 0h3m3 0h6m9 0h3m13.5 0h6m9 0h1.5m19.5 0h3m1.5 0h1.5M914.5 1326.25h3m9 0h1.5m61.5 0h6m12 0h3m16.5 0h1.5m1.5 0h1.5m7.5 0h1.5m21 0h6M917.5 1327.75h1.5m4.5 0h6m57 0h4.5m46.5 0h1.5m1.5 0h1.5m19.5 0h1.5m4.5 0h1.5m3 0h1.5M917.5 1329.25h3m1.5 0h1.5m1.5 0h1.5m61.5 0h4.5m45 0h4.5m21 0h1.5m6 0h4.5M917.5 1330.75h4.5m1.5 0h3m1.5 0h3m55.5 0h4.5m3 0h3m55.5 0h1.5m9 0h1.5m4.5 0h1.5M911.5 1332.25h3m7.5 0h1.5m3 0h1.5m60 0h15m13.5 0h4.5m31.5 0h3m6 0h1.5m3 0h3m4.5 0h1.5M911.5 1333.75h1.5m1.5 0h1.5m7.5 0h1.5m63 0h1.5m1.5 0h3m22.5 0h4.5m3 0h1.5m25.5 0h4.5m3 0h3m1.5 0h1.5m1.5 0h1.5m4.5 0h3M911.5 1335.25h3m1.5 0h1.5m60 0h1.5m10.5 0h3m7.5 0h1.5m16.5 0h1.5m15 0h1.5m21 0h1.5m1.5 0h3m4.5 0h1.5m3 0h1.5m3 0h3M911.5 1336.75h1.5m1.5 0h9m63 0h1.5m1.5 0h1.5m4.5 0h1.5m3 0h1.5m18 0h1.5m13.5 0h1.5m21 0h7.5m1.5 0h1.5m4.5 0h7.5M911.5 1338.25h4.5m1.5 0h6m63 0h4.5m6 0h3m31.5 0h4.5m22.5 0h1.5m1.5 0h1.5m1.5 0h1.5m12 0h1.5M913 1339.75h1.5m1.5 0h3m1.5 0h4.5m61.5 0h3m6 0h1.5m3 0h1.5m3 0h1.5m22.5 0h1.5m1.5 0h1.5m1.5 0h3m6 0h3m30 0h1.5M913 1341.25h3m3 0h3m64.5 0h4.5m4.5 0h3m3 0h1.5m7.5 0h1.5m1.5 0h1.5m12 0h3m1.5 0h4.5m4.5 0h4.5m7.5 0h1.5m12 0h1.5M920.5 1342.75h3m64.5 0h1.5m1.5 0h6m3 0h3m7.5 0h6m25.5 0h3m6 0h4.5m12 0h1.5m6 0h1.5M922 1344.25h6m58.5 0h7.5m1.5 0h4.5m1.5 0h1.5m12 0h1.5m4.5 0h1.5m30 0h1.5m10.5 0h4.5m6 0h1.5M919 1345.75h1.5m1.5 0h3m1.5 0h1.5m60 0h1.5m1.5 0h4.5m1.5 0h9m1.5 0h1.5m1.5 0h3m1.5 0h1.5m36 0h1.5m1.5 0h1.5m6 0h3m1.5 0h1.5m1.5 0h1.5m1.5 0h1.5M920.5 1347.25h3m66 0h4.5m1.5 0h1.5m6 0h3m6 0h3m22.5 0h7.5m7.5 0h3m6 0h1.5m4.5 0h3m1.5 0h3m4.5 0h1.5M919 1348.75h1.5m1.5 0h1.5m3 0h1.5m57 0h1.5m6 0h3m6 0h1.5m33 0h1.5m1.5 0h4.5m13.5 0h7.5m7.5 0h3M919 1350.25h3m1.5 0h4.5m64.5 0h4.5m4.5 0h4.5m30 0h4.5m12 0h1.5m3 0h3m1.5 0h3m1.5 0h6M917.5 1351.75h4.5m1.5 0h3m40.5 0h1.5m18 0h1.5m6 0h1.5m4.5 0h3m1.5 0h1.5m1.5 0h1.5m10.5 0h6m13.5 0h1.5m10.5 0h3m1.5 0h3m1.5 0h1.5m6 0h3m3 0h1.5M916 1353.25h3m1.5 0h1.5m1.5 0h3m1.5 0h1.5m1.5 0h1.5m33 0h6m16.5 0h1.5m7.5 0h1.5m1.5 0h3m1.5 0h1.5m1.5 0h1.5m12 0h4.5m12 0h4.5m9 0h9M916 1354.75h3m1.5 0h7.5m3 0h3m31.5 0h3m4.5 0h1.5m15 0h1.5m6 0h3m1.5 0h1.5m1.5 0h1.5m3 0h1.5m28.5 0h1.5m12 0h3m10.5 0h1.5m6 0h1.5M917.5 1356.25h4.5m3 0h1.5m3 0h1.5m1.5 0h1.5m19.5 0h3m12 0h1.5m3 0h1.5m13.5 0h3m6 0h4.5m22.5 0h3m22.5 0h1.5m1.5 0h1.5m1.5 0h1.5m7.5 0h3m1.5 0h1.5m1.5 0h1.5M916 1357.75h3m12 0h1.5m22.5 0h1.5m13.5 0h4.5m9 0h3m4.5 0h9m6 0h1.5m1.5 0h1.5m7.5 0h1.5m4.5 0h1.5m1.5 0h3m9 0h1.5m7.5 0h4.5m1.5 0h3m9 0h1.5m3 0h1.5M914.5 1359.25h3m37.5 0h1.5m30 0h1.5m1.5 0h1.5m1.5 0h3m1.5 0h1.5m10.5 0h1.5m4.5 0h6m3 0h6m9 0h4.5m1.5 0h3m1.5 0h3m1.5 0h1.5m10.5 0h1.5m1.5 0h1.5m1.5 0h1.5M923.5 1360.75h1.5m28.5 0h1.5m30 0h1.5m1.5 0h3m3 0h3m10.5 0h4.5m3 0h1.5m1.5 0h1.5m3 0h1.5m15 0h6m1.5 0h7.5m13.5 0h3m1.5 0h3M929.5 1362.25h1.5m51 0h6m3 0h1.5m1.5 0h3m10.5 0h3m4.5 0h1.5m1.5 0h4.5m1.5 0h1.5m27 0h1.5m16.5 0h3M923.5 1363.75h7.5m16.5 0h3m12 0h3m13.5 0h3m1.5 0h3m1.5 0h1.5m1.5 0h3m13.5 0h1.5m6 0h4.5m1.5 0h3m24 0h3m4.5 0h3m1.5 0h6m3 0h3M947.5 1365.25h1.5m3 0h1.5m6 0h1.5m3 0h3m1.5 0h3m6 0h3m3 0h4.5m4.5 0h4.5m15 0h6m1.5 0h3m19.5 0h1.5m6 0h3M926.5 1366.75h6m3 0h3m10.5 0h4.5m6 0h1.5m4.5 0h7.5m4.5 0h1.5m13.5 0h1.5m16.5 0h10.5m22.5 0h4.5M919 1368.25h1.5m4.5 0h3m1.5 0h4.5m3 0h3m9 0h3m1.5 0h1.5m4.5 0h1.5m6 0h4.5m1.5 0h1.5m1.5 0h3m31.5 0h3m1.5 0h1.5m3 0h1.5M919 1369.75h1.5m6 0h4.5m1.5 0h1.5m3 0h1.5m1.5 0h3m6 0h3m1.5 0h1.5m4.5 0h1.5m10.5 0h6m34.5 0h1.5m3 0h3m37.5 0h1.5m1.5 0h3M935.5 1371.25h3m3 0h1.5m3 0h1.5m1.5 0h6m1.5 0h6m10.5 0h3m7.5 0h1.5m28.5 0h1.5m3 0h1.5m37.5 0h6M938.5 1372.75h1.5m1.5 0h1.5m10.5 0h1.5m63 0h1.5m36 0h3M940 1374.25h1.5m10.5 0h3" stroke="#374bb0" stroke-width="1.5" fill="none"/>
<path d="M929.5 1276.75h3m28.5 0h6M938.5 1278.25h4.5m16.5 0h1.5m3 0h1.5m1.5 0h1.5M937 1279.75h1.5m1.5 0h1.5m1.5 0h3m12 0h1.5m4.5 0h1.5M935.5 1281.25h1.5m4.5 0h6m6 0h1.5m1.5 0h1.5m7.5 0h3M923.5 1282.75h1.5m9 0h3m4.5 0h1.5m7.5 0h1.5m16.5 0h9M922 1284.25h1.5m3 0h1.5m7.5 0h1.5m1.5 0h1.5m1.5 0h6m3 0h1.5m24 0h3M935.5 1285.75h3m4.5 0h3m4.5 0h1.5m21 0h1.5m3 0h1.5M925 1287.25h3m16.5 0h1.5m19.5 0h6m6 0h3m4.5 0h3m31.5 0h3M944.5 1288.75h4.5m16.5 0h3m7.5 0h12m4.5 0h3m22.5 0h1.5m3 0h1.5M932.5 1290.25h4.5m6 0h1.5m22.5 0h1.5m6 0h1.5m3 0h1.5m1.5 0h4.5m6 0h3m19.5 0h1.5m3 0h1.5m1.5 0h1.5M932.5 1291.75h4.5m1.5 0h3m27 0h1.5m3 0h1.5m4.5 0h3m9 0h3m22.5 0h4.5M935.5 1293.25h1.5m1.5 0h1.5m30 0h1.5m18 0h6M919 1294.75h4.5m4.5 0h3m4.5 0h3m39 0h1.5m9 0h3m1.5 0h3m1.5 0h6M919 1296.25h3m1.5 0h4.5m6 0h1.5m52.5 0h4.5m3 0h7.5m12 0h1.5M929.5 1297.75h1.5m1.5 0h3m52.5 0h4.5m3 0h3m6 0h1.5m9 0h4.5M922 1299.25h1.5m6 0h4.5m40.5 0h1.5m1.5 0h3m9 0h1.5m13.5 0h1.5m10.5 0h1.5M914.5 1300.75h3m4.5 0h1.5m4.5 0h1.5m1.5 0h4.5m39 0h6m24 0h3M914.5 1302.25h1.5m1.5 0h1.5m4.5 0h1.5m3 0h9m37.5 0h1.5m1.5 0h1.5m16.5 0h6m3 0h3M916 1303.75h3m6 0h6m42 0h1.5m4.5 0h3m13.5 0h1.5M917.5 1305.25h3m7.5 0h3m3 0h3m39 0h1.5m1.5 0h1.5m1.5 0h1.5m1.5 0h6m58.5 0h1.5M917.5 1306.75h6m6 0h3m1.5 0h1.5m49.5 0h7.5m4.5 0h6m49.5 0h4.5M917.5 1308.25h1.5m3 0h7.5m1.5 0h1.5m1.5 0h1.5m51 0h3m1.5 0h1.5M917.5 1309.75h7.5m6 0h1.5m3 0h1.5m43.5 0h3m4.5 0h3m61.5 0h1.5m1.5 0h1.5M922 1311.25h3m7.5 0h1.5m1.5 0h3m40.5 0h1.5m1.5 0h1.5m4.5 0h1.5m1.5 0h3m60 0h3M923.5 1312.75h1.5m9 0h1.5m1.5 0h1.5m39 0h4.5m7.5 0h6M935.5 1314.25h1.5m43.5 0h1.5m4.5 0h9M923.5 1315.75h1.5m60 0h3m10.5 0h4.5M922 1317.25h3m72 0h4.5M913 1318.75h1.5m9 0h1.5m9 0h3m51 0h4.5m7.5 0h1.5M913 1320.25h3m4.5 0h4.5m9 0h4.5m52.5 0h4.5M919 1321.75h3m12 0h1.5m55.5 0h1.5m1.5 0h1.5m3 0h1.5m63 0h4.5M917.5 1323.25h3m4.5 0h1.5m58.5 0h4.5m4.5 0h4.5m64.5 0h3M916 1324.75h4.5m1.5 0h4.5m1.5 0h1.5m55.5 0h1.5m76.5 0h1.5M917.5 1326.25h4.5m1.5 0h1.5m4.5 0h1.5M919 1327.75h1.5m118.5 0h1.5m24 0h3M923.5 1329.25h1.5m4.5 0h1.5m133.5 0h3M985 1330.75h1.5m78 0h3m4.5 0h1.5M928 1332.25h3m51 0h4.5m82.5 0h4.5M925 1333.75h1.5m4.5 0h3m43.5 0h1.5m1.5 0h7.5m6 0h4.5m1.5 0h1.5m69 0h1.5M976 1335.25h1.5m1.5 0h3m4.5 0h1.5m4.5 0h3m1.5 0h3m69 0h3M923.5 1336.75h1.5m25.5 0h3m7.5 0h1.5m13.5 0h1.5m1.5 0h4.5m1.5 0h1.5m4.5 0h4.5m3 0h1.5m67.5 0h4.5M925 1338.25h1.5m24 0h1.5m1.5 0h1.5m7.5 0h3m10.5 0h4.5m1.5 0h3m6 0h4.5m70.5 0h1.5m4.5 0h6M925 1339.75h3m36 0h1.5m15 0h3m9 0h3m10.5 0h1.5m58.5 0h1.5m7.5 0h1.5M923.5 1341.25h6m33 0h3m15 0h1.5m1.5 0h3m4.5 0h3m9 0h1.5m70.5 0h1.5M923.5 1342.75h4.5m33 0h4.5m13.5 0h3m1.5 0h3m82.5 0h1.5M962.5 1344.25h1.5m1.5 0h1.5m12 0h1.5m1.5 0h4.5m16.5 0h3m1.5 0h7.5m54 0h3M941.5 1345.75h1.5m70.5 0h1.5M938.5 1347.25h6m1.5 0h1.5m36 0h1.5M920.5 1348.75h1.5m13.5 0h3m1.5 0h1.5m3 0h4.5m6 0h1.5m27 0h1.5m69 0h3M928 1350.25h1.5m4.5 0h12m1.5 0h1.5m7.5 0h1.5m7.5 0h3m85.5 0h1.5m16.5 0h1.5M928 1351.75h1.5m1.5 0h4.5m1.5 0h1.5m1.5 0h1.5m1.5 0h1.5m9 0h4.5m10.5 0h3m13.5 0h1.5m75 0h6m4.5 0h1.5M934 1353.25h4.5m1.5 0h3m9 0h4.5m7.5 0h1.5m7.5 0h1.5m10.5 0h1.5m73.5 0h1.5m1.5 0h4.5m1.5 0h4.5M934 1354.75h1.5m4.5 0h3m9 0h4.5m19.5 0h1.5m4.5 0h1.5m1.5 0h3m18 0h3m51 0h1.5m1.5 0h1.5m6 0h1.5M926.5 1356.25h3m4.5 0h1.5m6 0h1.5m9 0h1.5m10.5 0h3m15 0h1.5m1.5 0h3m18 0h3m51 0h1.5m1.5 0h1.5M926.5 1357.75h4.5m1.5 0h1.5m7.5 0h1.5m9 0h1.5m3 0h1.5m6 0h1.5m9 0h1.5m6 0h1.5m3 0h1.5m19.5 0h1.5m51 0h1.5m1.5 0h1.5M926.5 1359.25h1.5m1.5 0h1.5m1.5 0h1.5m6 0h3m1.5 0h1.5m4.5 0h3m16.5 0h3m1.5 0h1.5m6 0h1.5m24 0h1.5m46.5 0h3M926.5 1360.75h7.5m7.5 0h1.5m9 0h1.5m9 0h1.5m9 0h1.5m6 0h3m7.5 0h1.5m61.5 0h3m1.5 0h1.5m4.5 0h1.5M925 1362.25h3m3 0h1.5m6 0h1.5m7.5 0h3m1.5 0h4.5m4.5 0h4.5m10.5 0h6m10.5 0h1.5m49.5 0h3m9 0h6m3 0h1.5M937 1363.75h1.5m7.5 0h1.5m4.5 0h1.5m12 0h4.5m1.5 0h1.5m70.5 0h1.5m1.5 0h1.5M932.5 1365.25h6m6 0h1.5m7.5 0h3m1.5 0h1.5m12 0h3m1.5 0h1.5m66 0h3M938.5 1366.75h4.5m10.5 0h1.5m3 0h1.5m16.5 0h1.5M955 1368.25h4.5m54 0h1.5M938.5 1369.75h1.5m16.5 0h3m54 0h1.5M938.5 1371.25h3M940 1372.75h1.5" stroke="#3e5cbd" stroke-width="1.5" fill="none"/>
<path d="M961 1278.25h3M938.5 1279.75h1.5m21 0h3M937 1281.25h3m18 0h4.5M937 1282.75h3m3 0h3m7.5 0h4.5m4.5 0h6M923.5 1284.25h3m25.5 0h3m7.5 0h13.5M923.5 1285.75h4.5m24 0h1.5m10.5 0h3m1.5 0h3M952 1287.25h1.5m1.5 0h1.5M950.5 1288.75h1.5m4.5 0h1.5m63 0h1.5M944.5 1290.25h6m6 0h1.5m7.5 0h1.5m10.5 0h1.5m42 0h1.5M943 1291.75h3m21 0h1.5m6 0h1.5m1.5 0h1.5M940 1293.25h6m22.5 0h1.5m1.5 0h3m3 0h1.5M938.5 1294.75h1.5m1.5 0h3m31.5 0h1.5M922 1296.25h1.5m4.5 0h3m4.5 0h6m1.5 0h1.5m30 0h1.5M922 1297.75h7.5m6 0h3m3 0h1.5m25.5 0h3M923.5 1299.25h1.5m1.5 0h3m6 0h7.5m25.5 0h1.5m1.5 0h3M923.5 1300.75h4.5m7.5 0h7.5m28.5 0h3M916 1302.25h1.5m7.5 0h3m9 0h3m4.5 0h1.5m7.5 0h3m15 0h1.5M931 1303.75h1.5m4.5 0h1.5m3 0h3m1.5 0h1.5m1.5 0h1.5m46.5 0h1.5m1.5 0h1.5M931 1305.25h3m3 0h1.5m10.5 0h3m3 0h1.5m6 0h1.5m10.5 0h1.5m4.5 0h1.5m15 0h4.5M932.5 1306.75h1.5m13.5 0h4.5m10.5 0h1.5m13.5 0h7.5M919 1308.25h3m27 0h4.5m25.5 0h7.5m67.5 0h3M925 1309.75h6m6 0h1.5m27 0h3m1.5 0h1.5m7.5 0h1.5m3 0h3m67.5 0h1.5M925 1311.25h1.5m4.5 0h1.5m33 0h13.5m4.5 0h4.5M925 1312.75h1.5m6 0h1.5m30 0h7.5m3 0h3m4.5 0h1.5m1.5 0h3M925 1314.25h3m6 0h1.5m3 0h1.5m10.5 0h4.5m9 0h4.5m13.5 0h4.5M925 1315.75h1.5m9 0h1.5m1.5 0h3m10.5 0h4.5m22.5 0h6M925 1317.25h4.5m4.5 0h6m1.5 0h1.5m39 0h1.5M926.5 1318.75h7.5m4.5 0h1.5m43.5 0h1.5m10.5 0h4.5M925 1320.25h3m3 0h1.5m6 0h1.5m43.5 0h7.5m4.5 0h4.5M922 1321.75h7.5m3 0h1.5m3 0h1.5m45 0h6m6 0h3M920.5 1323.25h4.5m3 0h1.5m4.5 0h1.5m1.5 0h1.5m36 0h1.5m7.5 0h1.5M920.5 1324.75h1.5m7.5 0h3m6 0h1.5m34.5 0h1.5M931 1326.25h1.5M931 1327.75h1.5m12 0h1.5M931 1329.25h1.5m10.5 0h1.5m40.5 0h1.5M944.5 1330.75h3m25.5 0h1.5m1.5 0h1.5m1.5 0h6M932.5 1332.25h1.5m12 0h1.5m24 0h1.5m1.5 0h6M926.5 1333.75h4.5m3 0h4.5m6 0h3m13.5 0h1.5m10.5 0h3M925 1335.25h1.5m6 0h3m13.5 0h4.5m1.5 0h1.5m3 0h4.5m10.5 0h1.5m6 0h1.5M925 1336.75h1.5m7.5 0h1.5m13.5 0h1.5m12 0h3m9 0h1.5M926.5 1338.25h1.5m6 0h1.5m13.5 0h1.5m9 0h1.5m106.5 0h3M931 1339.75h3m13.5 0h7.5m4.5 0h1.5m4.5 0h1.5m7.5 0h1.5m1.5 0h3m87 0h3m1.5 0h3M929.5 1341.25h3m1.5 0h1.5m10.5 0h1.5m4.5 0h3m4.5 0h1.5m4.5 0h1.5m10.5 0h1.5m3 0h1.5m21 0h3m61.5 0h3m1.5 0h1.5M929.5 1342.75h1.5m16.5 0h1.5m10.5 0h1.5m6 0h1.5m9 0h1.5m25.5 0h1.5m1.5 0h1.5m64.5 0h1.5M940 1344.25h9m10.5 0h3m4.5 0h1.5m9 0h1.5m27 0h1.5m64.5 0h1.5M928 1345.75h1.5m9 0h1.5m3 0h3m1.5 0h1.5m16.5 0h3m10.5 0h4.5M934 1347.25h3m10.5 0h1.5m6 0h4.5m12 0h3m6 0h3M953.5 1348.75h1.5m3 0h1.5m6 0h1.5m1.5 0h1.5m1.5 0h1.5m1.5 0h1.5M929.5 1350.25h4.5m18 0h1.5m4.5 0h1.5m9 0h4.5m1.5 0h1.5M944.5 1351.75h3m3 0h1.5m6 0h1.5m4.5 0h1.5m6 0h4.5m7.5 0h1.5M943 1353.25h1.5m6 0h1.5m4.5 0h1.5m18 0h7.5M935.5 1354.75h4.5m3 0h1.5m33 0h1.5m1.5 0h1.5M940 1356.25h1.5m3 0h1.5m4.5 0h1.5m10.5 0h1.5m97.5 0h1.5M940 1357.75h1.5m4.5 0h1.5m1.5 0h3m9 0h1.5m3 0h3m7.5 0h1.5m3 0h1.5m79.5 0h1.5M934 1359.25h1.5m3 0h1.5m6 0h1.5m1.5 0h1.5m10.5 0h1.5m1.5 0h1.5m3 0h1.5m6 0h6m78 0h4.5M934 1360.75h1.5m1.5 0h1.5m4.5 0h4.5m1.5 0h3m4.5 0h1.5m6 0h1.5m3 0h4.5m3 0h3m78 0h1.5m3 0h3M932.5 1362.25h1.5m1.5 0h1.5m3 0h1.5m4.5 0h1.5m3 0h1.5m4.5 0h1.5m1.5 0h1.5m4.5 0h10.5M932.5 1363.75h1.5m1.5 0h1.5m3 0h1.5m3 0h1.5m10.5 0h3m15 0h3m67.5 0h1.5M940 1365.25h1.5m1.5 0h1.5m12 0h1.5m16.5 0h1.5M955 1366.75h3" stroke="#4573c7" stroke-width="1.5" fill="none"/>
<path d="M958 1282.75h4.5M955 1284.25h3m3 0h1.5M953.5 1285.75h4.5M953.5 1287.25h1.5m1.5 0h3m3 0h1.5M952 1288.75h3m3 0h1.5m3 0h1.5M950.5 1290.25h1.5m1.5 0h1.5m9 0h1.5M946 1291.75h3m4.5 0h1.5m1.5 0h1.5m6 0h3m9 0h1.5M946 1293.25h3m4.5 0h1.5m1.5 0h1.5m4.5 0h1.5m3 0h1.5m6 0h3M944.5 1294.75h3m6 0h1.5m9 0h4.5m1.5 0h3m1.5 0h1.5M952 1296.25h1.5m1.5 0h1.5m4.5 0h1.5m1.5 0h4.5m1.5 0h1.5m1.5 0h1.5M950.5 1297.75h6m3 0h4.5m3 0h1.5m3 0h3M943 1299.25h1.5m7.5 0h4.5m10.5 0h1.5M943 1300.75h3m6 0h3m13.5 0h1.5M946 1302.25h7.5m3 0h1.5M938.5 1303.75h3m9 0h3m7.5 0h3m6 0h1.5m27 0h1.5M943 1305.25h4.5m4.5 0h3m3 0h4.5m1.5 0h1.5m7.5 0h1.5M937 1306.75h1.5m7.5 0h1.5m4.5 0h4.5m1.5 0h3m3 0h1.5m9 0h1.5M937 1308.25h1.5m4.5 0h1.5m12 0h16.5m4.5 0h1.5M938.5 1309.75h1.5m3 0h1.5m3 0h4.5m1.5 0h1.5m4.5 0h1.5m1.5 0h3m3 0h1.5m3 0h4.5M926.5 1311.25h4.5m7.5 0h6m6 0h1.5m9 0h3M926.5 1312.75h6m7.5 0h1.5m9 0h4.5m7.5 0h1.5m7.5 0h3M928 1314.25h1.5m3 0h1.5m6 0h1.5m7.5 0h1.5m4.5 0h1.5m6 0h1.5m6 0h4.5M928 1315.75h3m1.5 0h1.5m9 0h1.5m4.5 0h1.5m6 0h1.5m6 0h1.5M931 1317.25h3m16.5 0h4.5m25.5 0h1.5M940 1318.75h7.5m33 0h3M929.5 1320.25h1.5m13.5 0h1.5m33 0h4.5M929.5 1321.75h3m6 0h1.5m6 0h1.5m3 0h3m21 0h9M931 1323.25h3m4.5 0h3m9 0h3m22.5 0h7.5M934 1324.75h4.5m1.5 0h3m7.5 0h1.5m21 0h1.5m1.5 0h4.5m1.5 0h1.5M932.5 1326.25h7.5m1.5 0h4.5m27 0h6m4.5 0h1.5M940 1327.75h4.5m25.5 0h4.5m1.5 0h1.5M940 1329.25h3m25.5 0h13.5m1.5 0h1.5M932.5 1330.75h1.5m9 0h1.5m21 0h1.5m1.5 0h4.5m4.5 0h1.5M938.5 1332.25h6m3 0h1.5m12 0h9M941.5 1333.75h3m3 0h3m1.5 0h1.5m1.5 0h1.5m6 0h10.5M926.5 1335.25h1.5m1.5 0h3m6 0h3m3 0h3m10.5 0h1.5m4.5 0h7.5m1.5 0h1.5M926.5 1336.75h1.5m4.5 0h1.5m1.5 0h3m9 0h1.5m7.5 0h3m7.5 0h1.5M928 1338.25h6m1.5 0h1.5m10.5 0h1.5m7.5 0h3m7.5 0h1.5m4.5 0h1.5M956.5 1339.75h3m7.5 0h1.5m4.5 0h1.5M935.5 1341.25h1.5m12 0h3m4.5 0h1.5m9 0h1.5m3 0h6m94.5 0h1.5M931 1342.75h4.5m6 0h4.5m3 0h6m1.5 0h3m9 0h1.5m1.5 0h6m28.5 0h1.5m64.5 0h1.5M938.5 1344.25h1.5m9 0h7.5m1.5 0h1.5m9 0h4.5m3 0h1.5M934 1345.75h4.5m13.5 0h12m4.5 0h1.5m1.5 0h1.5m1.5 0h4.5M949 1347.25h6m4.5 0h1.5m3 0h7.5m3 0h6M929.5 1348.75h1.5m1.5 0h1.5m15 0h1.5m1.5 0h1.5m6 0h1.5m3 0h1.5m10.5 0h7.5M949 1350.25h3m7.5 0h1.5m1.5 0h1.5m12 0h7.5M949 1351.75h1.5m12 0h1.5m12 0h3m1.5 0h1.5M944.5 1353.25h1.5m1.5 0h3m7.5 0h1.5m3 0h1.5M944.5 1354.75h1.5m3 0h1.5m12 0h1.5m15 0h1.5M935.5 1356.25h3m10.5 0h1.5m7.5 0h1.5m1.5 0h1.5m15 0h3M935.5 1357.75h1.5m1.5 0h1.5m7.5 0h1.5m9 0h3m16.5 0h3M935.5 1359.25h3m19.5 0h3m4.5 0h3M958 1360.75h3m4.5 0h1.5M934 1362.25h1.5m7.5 0h3M934 1363.75h1.5m6 0h3M941.5 1365.25h1.5" stroke="#4b8ccd" stroke-width="1.5" fill="none"/>
<path d="M958 1284.25h3M958 1285.75h3M959.5 1287.25h3M959.5 1288.75h3M959.5 1290.25h3M950.5 1291.75h3m4.5 0h6M949 1293.25h3m9 0h1.5m1.5 0h3M949 1294.75h1.5m6 0h1.5m15 0h1.5M946 1296.25h1.5m1.5 0h1.5m6 0h4.5m10.5 0h1.5M944.5 1297.75h1.5m3 0h1.5m6 0h3m4.5 0h3M944.5 1299.25h1.5m3 0h3m4.5 0h1.5m1.5 0h4.5m1.5 0h1.5M946 1300.75h6m4.5 0h1.5m3 0h3m3 0h1.5M958 1302.25h4.5m1.5 0h1.5m3 0h1.5M958 1303.75h3M938.5 1305.25h4.5m27 0h1.5M938.5 1306.75h1.5m1.5 0h4.5m24 0h4.5M938.5 1308.25h3m3 0h3m7.5 0h1.5m16.5 0h4.5M940 1309.75h1.5m3 0h3m7.5 0h4.5M944.5 1311.25h1.5m1.5 0h3m4.5 0h1.5M941.5 1312.75h3m3 0h3m4.5 0h3m3 0h1.5M929.5 1314.25h3m9 0h3m3 0h1.5m7.5 0h3m1.5 0h1.5M931 1315.75h1.5m12 0h4.5m9 0h1.5m1.5 0h1.5m6 0h3m1.5 0h1.5m1.5 0h1.5M946 1317.25h3m15 0h3m10.5 0h1.5M947.5 1318.75h1.5m1.5 0h6m9 0h1.5m10.5 0h3M940 1320.25h1.5m1.5 0h1.5m3 0h1.5m1.5 0h4.5m10.5 0h1.5m7.5 0h4.5M940 1321.75h1.5m3 0h1.5m1.5 0h3m3 0h1.5m18 0h1.5M941.5 1323.25h3m1.5 0h4.5m3 0h1.5m16.5 0h1.5M944.5 1324.75h1.5m3 0h1.5m3 0h1.5m16.5 0h1.5M952 1326.25h1.5m4.5 0h3m9 0h1.5m9 0h3M932.5 1327.75h1.5m1.5 0h4.5m18 0h1.5m9 0h1.5m7.5 0h3m1.5 0h3M932.5 1329.25h1.5m4.5 0h1.5m18 0h1.5m6 0h3m13.5 0h1.5M938.5 1330.75h3m21 0h1.5M935.5 1332.25h3m15 0h7.5M956.5 1333.75h3M928 1335.25h1.5m12 0h3m12 0h1.5M928 1336.75h4.5m6 0h1.5m4.5 0h3m21 0h3m1.5 0h1.5M946 1338.25h1.5m21 0h4.5M944.5 1339.75h1.5m24 0h1.5M937 1341.25h1.5m6 0h1.5m22.5 0h3M935.5 1342.75h1.5m1.5 0h1.5m30 0h1.5M929.5 1344.25h3m3 0h3m18 0h1.5m15 0h3M932.5 1345.75h1.5M929.5 1347.25h1.5m1.5 0h1.5m27 0h3M931 1348.75h1.5m18 0h1.5m9 0h3M961 1350.25h1.5M961 1351.75h1.5M946 1353.25h1.5m12 0h3M946 1354.75h3m10.5 0h1.5M946 1356.25h3m10.5 0h1.5M937 1357.75h1.5" stroke="#52a5d1" stroke-width="1.5" fill="none"/>
<path d="M958 1293.25h3M958 1294.75h3M947.5 1296.25h1.5M946 1297.75h3M946 1299.25h3m9 0h1.5m4.5 0h1.5M958 1300.75h3m3 0h3M965.5 1302.25h3M965.5 1303.75h1.5m1.5 0h1.5M965.5 1305.25h1.5m1.5 0h1.5M940 1306.75h1.5m25.5 0h3M956.5 1311.25h3M944.5 1312.75h3m10.5 0h3M944.5 1314.25h3m12 0h1.5M959.5 1315.75h1.5m13.5 0h1.5M958 1317.25h1.5m3 0h1.5m3 0h1.5m3 0h3m1.5 0h1.5M949 1318.75h1.5m6 0h1.5m18 0h1.5M941.5 1320.25h1.5m6 0h1.5m13.5 0h1.5m1.5 0h1.5m4.5 0h1.5M941.5 1321.75h3m10.5 0h1.5m9 0h3m3 0h1.5M955 1323.25h1.5M946 1324.75h3m6 0h4.5m10.5 0h1.5M946 1326.25h1.5m3 0h1.5m1.5 0h4.5m10.5 0h1.5M956.5 1327.75h1.5m9 0h1.5M934 1329.25h4.5m18 0h1.5m1.5 0h3m1.5 0h1.5M934 1330.75h4.5m9 0h1.5m4.5 0h1.5m1.5 0h6M949 1332.25h1.5M940 1336.75h3m28.5 0h1.5M937 1338.25h1.5m4.5 0h3M937 1339.75h1.5M940 1341.25h4.5M929.5 1345.75h3" stroke="#5dbecb" stroke-width="1.5" fill="none"/>
<path d="M967 1303.75h1.5M967 1305.25h1.5M961 1317.25h1.5m6 0h3m3 0h1.5M962.5 1318.75h1.5m3 0h1.5m3 0h4.5M971.5 1320.25h1.5M970 1321.75h1.5M956.5 1323.25h1.5m7.5 0h1.5m3 0h1.5M959.5 1324.75h1.5M947.5 1326.25h1.5m18 0h1.5M947.5 1327.75h1.5m3 0h4.5m4.5 0h1.5m1.5 0h3M947.5 1329.25h1.5m3 0h4.5m6 0h1.5M952 1330.75h1.5M950.5 1332.25h1.5M938.5 1338.25h4.5M938.5 1339.75h6" stroke="#74d2ad" stroke-width="1.5" fill="none"/>
<path d="M958 1318.75h1.5m9 0h3M956.5 1320.25h1.5m10.5 0h3M956.5 1321.75h1.5m6 0h1.5M958 1323.25h1.5m4.5 0h1.5m1.5 0h3M961 1324.75h1.5m1.5 0h6M962.5 1326.25h4.5M949 1327.75h3M949 1330.75h3" stroke="#9edd65" stroke-width="1.5" fill="none"/>
<path d="M961 1318.75h1.5M962.5 1320.25h1.5M959.5 1323.25h1.5M962.5 1324.75h1.5M949 1329.25h3" stroke="#c6e13c" stroke-width="1.5" fill="none"/>
<path d="M959.5 1318.75h1.5M958 1320.25h1.5M958 1321.75h1.5M962.5 1323.25h1.5" stroke="#e1cb26" stroke-width="1.5" fill="none"/>
<path d="M962.5 1321.75h1.5M961 1323.25h1.5" stroke="#e17f1f" stroke-width="1.5" fill="none"/>
<path d="M959.5 1320.25h3M959.5 1321.75h3" stroke="#ba3818" stroke-width="1.5" fill="none"/>
<path d="M282 2001.75h1.5M387 2016.75h1.5M336 2024.25h1.5M321 2037.75h1.5M373.5 2046.75h1.5m21 0h1.5M328.5 2051.25h1.5m16.5 0h1.5M363 2052.75h1.5m7.5 0h1.5m3 0h1.5M340.5 2054.25h1.5m6 0h1.5m7.5 0h3M316.5 2055.75h1.5M292.5 2057.25h1.5m3 0h1.5m49.5 0h3m3 0h3M318 2058.75h1.5m12 0h1.5m6 0h1.5m6 0h1.5m6 0h1.5m4.5 0h1.5m30 0h1.5M327 2060.25h1.5m7.5 0h1.5m19.5 0h3m6 0h1.5m4.5 0h3M282 2061.75h1.5m60 0h3m4.5 0h1.5m10.5 0h1.5m4.5 0h1.5m28.5 0h1.5M337.5 2063.25h1.5m12 0h1.5m21 0h1.5m15 0h1.5M318 2066.25h1.5m46.5 0h1.5m3 0h1.5m3 0h1.5M324 2067.75h1.5m9 0h1.5m16.5 0h1.5m18 0h1.5m1.5 0h1.5M328.5 2069.25h1.5m7.5 0h1.5m52.5 0h1.5M373.5 2070.75h1.5m1.5 0h1.5M331.5 2072.25h1.5m45 0h1.5m3 0h1.5M321 2073.75h1.5m1.5 0h1.5m6 0h1.5m4.5 0h1.5m37.5 0h1.5m3 0h3M286.5 2075.25h1.5m28.5 0h1.5m12 0h1.5m1.5 0h3m1.5 0h3M324 2078.25h1.5M319.5 2079.75h1.5m4.5 0h1.5m9 0h1.5m3 0h1.5m34.5 0h1.5m6 0h1.5m12 0h1.5M330 2081.25h1.5m45 0h1.5m1.5 0h1.5M307.5 2082.75h1.5m13.5 0h4.5m10.5 0h1.5m46.5 0h1.5m18 0h1.5M331.5 2084.25h1.5m4.5 0h1.5m42 0h1.5M288 2085.75h1.5m79.5 0h3m3 0h1.5M292.5 2087.25h1.5m42 0h1.5m37.5 0h1.5m10.5 0h1.5M367.5 2088.75h1.5m3 0h1.5m1.5 0h3M264 2090.25h1.5m37.5 0h1.5m22.5 0h1.5m1.5 0h4.5m3 0h1.5m40.5 0h1.5m16.5 0h1.5M319.5 2091.75h1.5m9 0h1.5m39 0h4.5M304.5 2093.25h1.5m22.5 0h1.5m4.5 0h1.5M324 2094.75h1.5m3 0h1.5m1.5 0h3m4.5 0h1.5m1.5 0h1.5m27 0h1.5M334.5 2096.25h1.5M325.5 2097.75h1.5m1.5 0h1.5m1.5 0h1.5M337.5 2099.25h1.5m36 0h1.5M313.5 2100.75h1.5m39 0h1.5m1.5 0h3M328.5 2102.25h1.5m28.5 0h1.5m3 0h1.5m4.5 0h1.5m3 0h3m7.5 0h1.5M340.5 2103.75h1.5m7.5 0h1.5m13.5 0h1.5m3 0h1.5m1.5 0h1.5M297 2105.25h1.5m42 0h1.5m7.5 0h1.5m3 0h3m3 0h1.5m4.5 0h1.5M342 2106.75h1.5m3 0h1.5m7.5 0h3M337.5 2108.25h1.5m10.5 0h3M346.5 2109.75h3M339 2112.75h1.5m27 0h1.5M348 2123.25h1.5M289.5 2127.75h1.5" stroke="#2b2e90" stroke-width="1.5" fill="none"/>
<path d="M364.5 2061.75h4.5M345 2063.25h1.5m1.5 0h1.5m4.5 0h1.5m9 0h1.5M340.5 2064.75h1.5m7.5 0h1.5m3 0h1.5m6 0h1.5M337.5 2066.25h1.5m25.5 0h1.5m7.5 0h1.5M349.5 2067.75h1.5m15 0h1.5m6 0h1.5M354 2069.25h1.5M352.5 2070.75h1.5m18 0h1.5M373.5 2073.75h1.5M342 2076.75h1.5M342 2078.25h1.5m28.5 0h1.5M342 2081.25h1.5M333 2082.75h1.5m7.5 0h1.5m27 0h1.5M336 2084.25h1.5m33 0h1.5M334.5 2085.75h3m3 0h1.5M340.5 2088.75h1.5m22.5 0h1.5m7.5 0h1.5M336 2090.25h1.5M334.5 2091.75h1.5m4.5 0h1.5M342 2093.25h1.5m12 0h1.5M363 2094.75h1.5m4.5 0h1.5M355.5 2096.25h6m7.5 0h1.5M343.5 2097.75h1.5m10.5 0h1.5m10.5 0h1.5M352.5 2099.25h1.5m6 0h1.5M366 2100.75h1.5M367.5 2102.25h1.5" stroke="#313aa2" stroke-width="1.5" fill="none"/>
<path d="M355.5 2063.25h1.5M346.5 2064.75h1.5m12 0h1.5M348 2066.25h1.5M363 2067.75h1.5M349.5 2069.25h1.5m4.5 0h1.5m4.5 0h1.5m3 0h1.5M340.5 2072.25h1.5m21 0h1.5m6 0h1.5M340.5 2073.75h3m10.5 0h1.5m16.5 0h1.5M364.5 2075.25h1.5m6 0h1.5M372 2076.75h1.5M370.5 2079.75h1.5M364.5 2084.25h1.5M366 2090.25h1.5M342 2091.75h4.5m7.5 0h1.5m1.5 0h1.5M363 2093.25h1.5m1.5 0h1.5M360 2094.75h1.5m6 0h1.5M345 2096.25h1.5m7.5 0h1.5m12 0h1.5M352.5 2097.75h1.5M351 2099.25h1.5m9 0h1.5M342 2103.75h1.5M343.5 2105.25h1.5" stroke="#374bb0" stroke-width="1.5" fill="none"/>
<path d="M357 2063.25h3M339 2066.25h1.5m3 0h3m9 0h1.5M339 2067.75h1.5m6 0h1.5m7.5 0h1.5m3 0h1.5M340.5 2069.25h1.5m6 0h1.5m15 0h1.5M363 2070.75h3M342 2072.25h1.5m21 0h1.5m1.5 0h3M357 2073.75h1.5m1.5 0h1.5m4.5 0h3m1.5 0h1.5M367.5 2075.25h1.5M366 2076.75h1.5m3 0h1.5M370.5 2078.25h1.5M369 2079.75h1.5M367.5 2082.75h1.5M343.5 2084.25h3M355.5 2087.25h1.5M357 2088.75h4.5M354 2090.25h1.5m1.5 0h1.5m3 0h4.5M361.5 2091.75h1.5m1.5 0h3M358.5 2093.25h1.5M346.5 2094.75h1.5m18 0h1.5M366 2096.25h1.5M363 2097.75h3M349.5 2099.25h1.5m12 0h3M343.5 2100.75h1.5M343.5 2103.75h1.5" stroke="#3e5cbd" stroke-width="1.5" fill="none"/>
<path d="M358.5 2064.75h1.5M340.5 2066.25h1.5M345 2067.75h1.5M342 2069.25h3m13.5 0h1.5M345 2070.75h1.5m12 0h1.5M358.5 2072.25h1.5M345 2073.75h1.5m12 0h1.5m9 0h1.5M345 2081.25h1.5M348 2082.75h1.5m16.5 0h1.5M342 2085.75h1.5M342 2087.25h1.5m10.5 0h1.5M354 2088.75h3M360 2090.25h1.5M360 2091.75h1.5M346.5 2096.25h1.5M349.5 2097.75h1.5M348 2102.25h1.5" stroke="#4573c7" stroke-width="1.5" fill="none"/>
<path d="M357 2064.75h1.5M357 2066.25h3M340.5 2067.75h3m13.5 0h3M346.5 2070.75h1.5M345 2072.25h1.5M346.5 2075.25h1.5m9 0h3M363 2076.75h1.5M366 2078.25h1.5M366 2081.25h1.5M352.5 2082.75h1.5m1.5 0h1.5m7.5 0h1.5M352.5 2084.25h1.5M352.5 2087.25h1.5M352.5 2088.75h1.5M345 2090.25h1.5M348 2094.75h1.5m3 0h1.5M348 2096.25h1.5m1.5 0h1.5M346.5 2097.75h1.5M345 2103.75h1.5" stroke="#4b8ccd" stroke-width="1.5" fill="none"/>
<path d="M346.5 2072.25h1.5m1.5 0h1.5M346.5 2073.75h1.5M361.5 2076.75h1.5M343.5 2085.75h1.5m15 0h1.5M345 2099.25h1.5" stroke="#52a5d1" stroke-width="1.5" fill="none"/>
<path d="M348 2072.25h1.5M348 2073.75h1.5M352.5 2075.25h1.5M346.5 2076.75h1.5m12 0h1.5M345 2078.25h1.5m18 0h1.5M345 2079.75h1.5m18 0h1.5M349.5 2084.25h3m9 0h1.5M346.5 2085.75h1.5M351 2087.25h1.5M349.5 2090.25h1.5" stroke="#5dbecb" stroke-width="1.5" fill="none"/>
<path d="M351 2073.75h1.5M349.5 2075.25h1.5M354 2076.75h3M357 2082.75h1.5M358.5 2084.25h1.5M343.5 2087.25h1.5M349.5 2088.75h1.5M349.5 2091.75h1.5M351 2094.75h1.5M346.5 2099.25h1.5M345 2102.25h3" stroke="#74d2ad" stroke-width="1.5" fill="none"/>
<path d="M351 2075.25h1.5M351 2076.75h3M348 2078.25h3M346.5 2079.75h3m3 0h1.5m1.5 0h1.5m6 0h1.5M349.5 2081.25h3m9 0h1.5M349.5 2085.75h1.5M345 2088.75h3M351 2091.75h1.5M345 2100.75h1.5" stroke="#9edd65" stroke-width="1.5" fill="none"/>
<path d="M346.5 2078.25h1.5m13.5 0h1.5M349.5 2079.75h1.5M360 2084.25h1.5M349.5 2087.25h1.5M349.5 2093.25h1.5M346.5 2100.75h1.5" stroke="#c6e13c" stroke-width="1.5" fill="none"/>
<path d="M352.5 2078.25h4.5M351 2079.75h1.5m9 0h1.5M345 2087.25h4.5M351 2093.25h1.5" stroke="#e1cb26" stroke-width="1.5" fill="none"/>
<path d="M357 2078.25h1.5m1.5 0h1.5M360 2082.75h1.5" stroke="#e17f1f" stroke-width="1.5" fill="none"/>
<path d="M358.5 2078.25h1.5M358.5 2081.25h3" stroke="#ba3818" stroke-width="1.5" fill="none"/>
<path d="M648.5 2000.25h1.5M642.5 2001.75h1.5M689 2003.25h1.5M710 2004.75h1.5M686 2009.25h1.5m25.5 0h1.5M596 2010.75h1.5M633.5 2013.75h1.5M630.5 2016.75h1.5m72 0h1.5M612.5 2018.25h1.5m58.5 0h1.5m33 0h1.5M615.5 2019.75h1.5m9 0h1.5M593 2021.25h1.5m19.5 0h1.5m4.5 0h1.5m40.5 0h1.5m9 0h1.5M596 2022.75h1.5m27 0h1.5m4.5 0h1.5m22.5 0h1.5m39 0h1.5M590 2024.25h1.5m34.5 0h1.5m28.5 0h1.5m16.5 0h1.5m3 0h1.5m6 0h1.5M606.5 2025.75h1.5m4.5 0h1.5m9 0h3m6 0h1.5m4.5 0h1.5m40.5 0h1.5M615.5 2027.25h4.5m7.5 0h3m1.5 0h1.5m1.5 0h1.5m6 0h3m3 0h1.5m18 0h1.5m4.5 0h1.5m49.5 0h1.5m12 0h1.5M594.5 2028.75h1.5m1.5 0h1.5m15 0h1.5m7.5 0h1.5m7.5 0h3m3 0h1.5m7.5 0h1.5m19.5 0h1.5m3 0h1.5m4.5 0h1.5M572 2030.25h1.5m28.5 0h1.5m13.5 0h1.5m6 0h4.5m4.5 0h3m6 0h3m3 0h1.5m18 0h1.5m4.5 0h3m4.5 0h1.5M599 2031.75h1.5m4.5 0h1.5m3 0h6m1.5 0h1.5m3 0h1.5m4.5 0h3m3 0h1.5m18 0h1.5m1.5 0h1.5m6 0h1.5m10.5 0h4.5m1.5 0h1.5m3 0h1.5m78 0h1.5M599 2033.25h3m7.5 0h1.5m4.5 0h1.5m3 0h1.5m3 0h3m12 0h6m3 0h1.5m1.5 0h3m3 0h4.5m6 0h1.5m1.5 0h3m7.5 0h1.5M590 2034.75h1.5m16.5 0h4.5m3 0h1.5m1.5 0h1.5m1.5 0h6m1.5 0h1.5m3 0h1.5m7.5 0h3m1.5 0h7.5m1.5 0h3m3 0h3m9 0h1.5m3 0h1.5m9 0h1.5m6 0h1.5m1.5 0h1.5M588.5 2036.25h1.5m3 0h1.5m7.5 0h3m10.5 0h1.5m3 0h1.5m9 0h3m1.5 0h4.5m9 0h1.5m1.5 0h6m1.5 0h3m7.5 0h1.5m1.5 0h1.5m6 0h1.5m1.5 0h3m7.5 0h1.5M591.5 2037.75h3m3 0h3m6 0h1.5m4.5 0h1.5m3 0h1.5m1.5 0h1.5m1.5 0h3m9 0h1.5m3 0h3m12 0h1.5m4.5 0h1.5m3 0h1.5m3 0h3m1.5 0h1.5m1.5 0h3m1.5 0h1.5m4.5 0h1.5M600.5 2039.25h1.5m1.5 0h1.5m1.5 0h1.5m3 0h1.5m3 0h1.5m15 0h1.5m27 0h1.5m3 0h1.5m3 0h1.5m4.5 0h1.5m7.5 0h1.5m18 0h1.5M582.5 2040.75h1.5m6 0h1.5m12 0h1.5m1.5 0h3m48 0h1.5m1.5 0h3m1.5 0h1.5m4.5 0h1.5m4.5 0h4.5m1.5 0h1.5m73.5 0h1.5M593 2042.25h1.5m3 0h1.5m1.5 0h1.5m30 0h3m31.5 0h6m13.5 0h4.5m15 0h1.5M593 2043.75h1.5m6 0h1.5m70.5 0h1.5m1.5 0h1.5m6 0h1.5m4.5 0h1.5m19.5 0h1.5M573.5 2045.25h1.5m6 0h1.5m6 0h1.5m6 0h1.5m73.5 0h1.5m13.5 0h4.5m7.5 0h1.5m7.5 0h1.5m1.5 0h1.5m27 0h1.5M591.5 2046.75h1.5m1.5 0h1.5m84 0h3m6 0h3m13.5 0h1.5m3 0h1.5m6 0h1.5m4.5 0h1.5m13.5 0h1.5M584 2048.25h1.5m1.5 0h3m1.5 0h1.5m1.5 0h4.5m84 0h3m1.5 0h3m55.5 0h1.5M578 2049.75h1.5m4.5 0h1.5m1.5 0h1.5m1.5 0h1.5m1.5 0h1.5m87 0h1.5m1.5 0h6m19.5 0h1.5M563 2051.25h1.5m18 0h1.5m3 0h1.5m9 0h1.5m99 0h3m3 0h1.5m3 0h1.5m3 0h1.5m16.5 0h1.5M590 2052.75h1.5m1.5 0h1.5m3 0h1.5m76.5 0h6m3 0h3m6 0h1.5m4.5 0h6m13.5 0h1.5m10.5 0h1.5M593 2054.25h3m78 0h1.5m6 0h1.5m27 0h1.5m4.5 0h3m7.5 0h1.5m9 0h1.5M593 2055.75h1.5m81 0h4.5m3 0h3m4.5 0h6m1.5 0h1.5m7.5 0h3m1.5 0h1.5m4.5 0h1.5m13.5 0h1.5M564.5 2057.25h1.5m16.5 0h1.5m7.5 0h1.5m85.5 0h3m3 0h3m1.5 0h1.5m1.5 0h3m1.5 0h3m3 0h6m10.5 0h3m3 0h1.5M581 2058.75h1.5m10.5 0h1.5m84 0h3m1.5 0h1.5m1.5 0h4.5m1.5 0h1.5m3 0h4.5m3 0h3m1.5 0h3m9 0h3m10.5 0h1.5m3 0h1.5M590 2060.25h1.5m1.5 0h1.5m84 0h1.5m3 0h3m1.5 0h1.5m9 0h1.5m3 0h1.5m1.5 0h1.5m1.5 0h3m1.5 0h1.5m1.5 0h4.5m1.5 0h1.5m1.5 0h3m3 0h1.5m1.5 0h1.5m7.5 0h1.5m6 0h1.5M582.5 2061.75h1.5m99 0h1.5m9 0h1.5m3 0h3m1.5 0h1.5m3 0h1.5m4.5 0h1.5m12 0h1.5m4.5 0h1.5m7.5 0h1.5m4.5 0h1.5M588.5 2063.25h1.5m3 0h1.5m93 0h1.5m1.5 0h3m3 0h3m1.5 0h1.5m3 0h1.5m1.5 0h4.5m6 0h3m3 0h1.5m6 0h1.5m18 0h4.5M582.5 2064.75h1.5m1.5 0h1.5m106.5 0h1.5m1.5 0h1.5m4.5 0h3m6 0h1.5m7.5 0h1.5m6 0h1.5m1.5 0h1.5m4.5 0h3m1.5 0h1.5M584 2066.25h1.5m3 0h3m1.5 0h1.5m99 0h1.5m4.5 0h1.5m1.5 0h1.5m7.5 0h1.5m1.5 0h1.5m4.5 0h1.5m3 0h1.5m10.5 0h1.5m13.5 0h3M573.5 2067.75h1.5m10.5 0h1.5m1.5 0h3m102 0h1.5m3 0h3m13.5 0h1.5m4.5 0h1.5m4.5 0h1.5m7.5 0h3m1.5 0h1.5m1.5 0h1.5m30 0h1.5M570.5 2069.25h1.5m3 0h1.5m15 0h3m97.5 0h3m21 0h1.5m3 0h1.5m1.5 0h3m4.5 0h3m12 0h1.5M578 2070.75h1.5m12 0h1.5m94.5 0h1.5m4.5 0h3m3 0h1.5m18 0h3m1.5 0h1.5m7.5 0h1.5m3 0h1.5m21 0h1.5M591.5 2072.25h1.5m1.5 0h1.5m63 0h3m19.5 0h1.5m1.5 0h3m4.5 0h1.5m3 0h1.5m18 0h1.5m9 0h1.5m3 0h1.5m3 0h3M591.5 2073.75h1.5m1.5 0h1.5m63 0h1.5m24 0h1.5m1.5 0h1.5m3 0h1.5m27 0h1.5m6 0h1.5m1.5 0h1.5m12 0h1.5m3 0h1.5M587 2075.25h1.5m3 0h1.5m1.5 0h1.5m6 0h1.5m46.5 0h1.5m36 0h1.5m1.5 0h3m37.5 0h3m15 0h1.5m3 0h1.5m1.5 0h1.5m4.5 0h1.5M591.5 2076.75h1.5m1.5 0h3m3 0h3m43.5 0h1.5m37.5 0h1.5m3 0h3m1.5 0h1.5m37.5 0h6m6 0h1.5m10.5 0h1.5m6 0h1.5M585.5 2078.25h1.5m4.5 0h3m52.5 0h3m37.5 0h1.5m1.5 0h1.5m39 0h1.5m19.5 0h1.5M593 2079.75h1.5m1.5 0h1.5m4.5 0h1.5m40.5 0h1.5m3 0h1.5m82.5 0h1.5m10.5 0h4.5m3 0h1.5m1.5 0h1.5M564.5 2081.25h1.5m22.5 0h1.5m3 0h1.5m3 0h1.5m1.5 0h1.5m1.5 0h1.5m82.5 0h1.5m1.5 0h1.5m3 0h1.5m1.5 0h1.5m33 0h1.5m9 0h1.5m6 0h3m1.5 0h1.5m6 0h1.5M585.5 2082.75h1.5m4.5 0h1.5m1.5 0h4.5m3 0h1.5m82.5 0h1.5m1.5 0h1.5m3 0h1.5m28.5 0h3m7.5 0h3m3 0h4.5M594.5 2084.25h3m3 0h4.5m81 0h3m1.5 0h1.5m42 0h1.5m3 0h1.5m6 0h6m7.5 0h1.5m4.5 0h1.5M600.5 2085.75h1.5m6 0h3m1.5 0h1.5m61.5 0h1.5m1.5 0h1.5m1.5 0h1.5m4.5 0h1.5m37.5 0h1.5m4.5 0h3m3 0h1.5m1.5 0h1.5M594.5 2087.25h1.5m1.5 0h3m3 0h1.5m73.5 0h3m3 0h1.5m1.5 0h1.5m36 0h3m4.5 0h1.5m1.5 0h4.5m7.5 0h1.5m15 0h1.5M587 2088.75h1.5m6 0h3m3 0h1.5m7.5 0h1.5m1.5 0h1.5m4.5 0h1.5m37.5 0h4.5m19.5 0h1.5m3 0h1.5m43.5 0h1.5m6 0h1.5m10.5 0h1.5m1.5 0h1.5m6 0h1.5m6 0h1.5M591.5 2090.25h1.5m3 0h3m1.5 0h1.5m3 0h1.5m13.5 0h1.5m12 0h1.5m1.5 0h1.5m21 0h1.5m18 0h1.5m4.5 0h1.5m46.5 0h1.5m3 0h4.5m1.5 0h3m6 0h1.5m22.5 0h1.5M587 2091.75h1.5m1.5 0h1.5m7.5 0h1.5m1.5 0h1.5m1.5 0h4.5m19.5 0h4.5m7.5 0h1.5m9 0h1.5m18 0h1.5m4.5 0h1.5m4.5 0h1.5m3 0h1.5m48 0h3m10.5 0h1.5m16.5 0h1.5M582.5 2093.25h1.5m6 0h1.5m4.5 0h3m1.5 0h1.5m4.5 0h1.5m9 0h1.5m6 0h1.5m1.5 0h1.5m3 0h1.5m3 0h4.5m7.5 0h1.5m1.5 0h1.5m1.5 0h1.5m1.5 0h1.5m1.5 0h1.5m12 0h1.5m1.5 0h1.5m3 0h1.5m1.5 0h1.5m1.5 0h3m40.5 0h1.5m7.5 0h3m3 0h3m4.5 0h1.5M593 2094.75h3m4.5 0h3m1.5 0h3m7.5 0h1.5m4.5 0h1.5m4.5 0h3m3 0h1.5m3 0h1.5m15 0h1.5m4.5 0h3m9 0h3m1.5 0h1.5m9 0h1.5m7.5 0h1.5m25.5 0h1.5m9 0h3m3 0h3m1.5 0h6m1.5 0h1.5m1.5 0h1.5m3 0h1.5m13.5 0h1.5M579.5 2096.25h1.5m7.5 0h1.5m3 0h1.5m10.5 0h1.5m7.5 0h1.5m1.5 0h1.5m6 0h1.5m4.5 0h6m10.5 0h1.5m1.5 0h1.5m15 0h4.5m4.5 0h1.5m1.5 0h3m1.5 0h1.5m3 0h1.5m1.5 0h1.5m1.5 0h4.5m25.5 0h1.5m6 0h1.5m6 0h1.5m4.5 0h1.5m9 0h1.5m7.5 0h1.5M591.5 2097.75h1.5m19.5 0h1.5m3 0h3m3 0h4.5m1.5 0h1.5m4.5 0h1.5m1.5 0h3m4.5 0h1.5m4.5 0h6m4.5 0h3m13.5 0h3m4.5 0h1.5m1.5 0h1.5m7.5 0h3m21 0h3m1.5 0h1.5m1.5 0h1.5m1.5 0h4.5m1.5 0h1.5m7.5 0h1.5m13.5 0h1.5M590 2099.25h1.5m16.5 0h3m4.5 0h7.5m22.5 0h1.5m3 0h1.5m7.5 0h1.5m1.5 0h1.5m7.5 0h1.5m4.5 0h1.5m1.5 0h1.5m1.5 0h1.5m9 0h1.5m3 0h1.5m22.5 0h1.5m1.5 0h1.5m1.5 0h1.5m1.5 0h1.5m3 0h1.5m1.5 0h3m3 0h4.5m6 0h1.5M590 2100.75h1.5m18 0h1.5m1.5 0h1.5m6 0h3m1.5 0h3m18 0h1.5m1.5 0h3m4.5 0h3m6 0h1.5m9 0h1.5m1.5 0h1.5m4.5 0h4.5m1.5 0h4.5m1.5 0h1.5m3 0h1.5m16.5 0h1.5m6 0h1.5m1.5 0h1.5m12 0h3m3 0h4.5M599 2102.25h1.5m1.5 0h1.5m3 0h4.5m1.5 0h1.5m1.5 0h3m10.5 0h1.5m3 0h1.5m12 0h3m4.5 0h1.5m1.5 0h3m1.5 0h1.5m18 0h1.5m4.5 0h3m1.5 0h1.5m4.5 0h1.5m1.5 0h1.5m3 0h1.5m1.5 0h1.5m6 0h1.5m4.5 0h1.5m3 0h1.5m1.5 0h1.5m3 0h1.5m4.5 0h3m1.5 0h1.5M600.5 2103.75h1.5m13.5 0h1.5m4.5 0h1.5m9 0h1.5m1.5 0h1.5m6 0h1.5m1.5 0h1.5m7.5 0h1.5m16.5 0h1.5m3 0h1.5m18 0h1.5m4.5 0h3m7.5 0h1.5m6 0h3m3 0h1.5m1.5 0h1.5m1.5 0h3m7.5 0h1.5m9 0h1.5m7.5 0h1.5M590 2105.25h1.5m1.5 0h1.5m33 0h1.5m4.5 0h1.5m1.5 0h1.5m7.5 0h1.5m3 0h1.5m3 0h1.5m6 0h1.5m12 0h1.5m10.5 0h1.5m1.5 0h1.5m6 0h1.5m4.5 0h3m3 0h1.5m1.5 0h6m3 0h1.5m1.5 0h1.5m1.5 0h6m1.5 0h3m1.5 0h1.5m1.5 0h1.5M606.5 2106.75h1.5m4.5 0h1.5m1.5 0h1.5m4.5 0h1.5m48 0h1.5m13.5 0h1.5m16.5 0h3m6 0h1.5m3 0h1.5m1.5 0h1.5m3 0h1.5m7.5 0h1.5m7.5 0h1.5m6 0h1.5m6 0h1.5M609.5 2108.25h1.5m10.5 0h1.5m6 0h1.5m3 0h3m6 0h1.5m21 0h1.5m6 0h1.5m3 0h1.5m10.5 0h1.5m1.5 0h1.5m3 0h6m6 0h3m1.5 0h4.5m4.5 0h1.5m4.5 0h1.5m25.5 0h1.5M674 2109.75h3m24 0h1.5m6 0h3m1.5 0h3m12 0h1.5m3 0h3m1.5 0h1.5m1.5 0h1.5M710 2111.25h1.5m1.5 0h3m4.5 0h1.5m1.5 0h1.5m1.5 0h1.5m4.5 0h1.5m3 0h1.5m10.5 0h1.5M645.5 2112.75h1.5m4.5 0h1.5m27 0h1.5m19.5 0h4.5m13.5 0h1.5m3 0h1.5m6 0h1.5m3 0h1.5m1.5 0h1.5m15 0h1.5M590 2114.25h1.5m84 0h1.5m9 0h1.5m10.5 0h1.5m6 0h3m3 0h4.5m4.5 0h1.5m4.5 0h1.5m10.5 0h1.5M704 2115.75h1.5m6 0h1.5m36 0h1.5M585.5 2117.25h1.5m21 0h1.5m40.5 0h1.5m15 0h1.5m28.5 0h3m1.5 0h1.5m10.5 0h1.5m1.5 0h1.5m1.5 0h1.5m21 0h1.5m3 0h1.5M666.5 2118.75h1.5m66 0h1.5m1.5 0h1.5m1.5 0h1.5m3 0h3m37.5 0h1.5M611 2120.25h1.5m52.5 0h1.5m18 0h1.5m15 0h1.5m3 0h1.5m12 0h3m18 0h1.5M662 2121.75h1.5m13.5 0h1.5m39 0h1.5m13.5 0h1.5M701 2123.25h1.5m3 0h1.5m13.5 0h1.5m1.5 0h1.5M699.5 2124.75h1.5m1.5 0h1.5m6 0h1.5m1.5 0h1.5m28.5 0h1.5M707 2126.25h1.5m40.5 0h1.5M731 2127.75h1.5m12 0h1.5M704 2132.25h1.5M693.5 2133.75h1.5m21 0h1.5M707 2135.25h1.5m10.5 0h3M711.5 2136.75h1.5m18 0h1.5M678.5 2142.75h1.5m10.5 0h1.5M768.5 2154.75h1.5" stroke="#2b2e90" stroke-width="1.5" fill="none"/>
<path d="M623 2036.25h1.5m21 0h1.5M621.5 2037.75h1.5m4.5 0h1.5m7.5 0h3m6 0h3m13.5 0h3M612.5 2039.25h1.5m3 0h1.5m1.5 0h1.5m6 0h4.5m4.5 0h3m3 0h4.5m3 0h1.5m1.5 0h3m7.5 0h1.5M611 2040.75h1.5m6 0h4.5m1.5 0h3m3 0h1.5m6 0h3m1.5 0h1.5m1.5 0h1.5m1.5 0h3m4.5 0h1.5M608 2042.25h3m9 0h1.5m3 0h1.5m3 0h3m4.5 0h6m3 0h4.5m6 0h1.5m1.5 0h3M602 2043.75h6m22.5 0h1.5m13.5 0h1.5m3 0h1.5m3 0h3m3 0h3m3 0h4.5m7.5 0h1.5M600.5 2045.25h1.5m6 0h3m16.5 0h1.5m4.5 0h3m6 0h7.5m6 0h1.5m1.5 0h1.5m1.5 0h4.5m1.5 0h1.5m6 0h1.5m1.5 0h1.5M596 2046.75h1.5m9 0h1.5m19.5 0h3m1.5 0h1.5m12 0h1.5m3 0h1.5m4.5 0h6m1.5 0h3m1.5 0h1.5m1.5 0h1.5m3 0h1.5m1.5 0h1.5M599 2048.25h1.5m9 0h1.5m18 0h1.5m13.5 0h1.5m13.5 0h1.5m1.5 0h6m3 0h4.5m1.5 0h1.5M609.5 2049.75h3m28.5 0h1.5m1.5 0h1.5m13.5 0h3m1.5 0h1.5m3 0h1.5m3 0h1.5m3 0h1.5m1.5 0h1.5M599 2051.25h1.5m6 0h1.5m3 0h1.5m4.5 0h1.5m43.5 0h1.5m10.5 0h3m1.5 0h1.5m1.5 0h1.5M599 2052.75h3m12 0h3m1.5 0h1.5M614 2054.25h3m1.5 0h1.5m51 0h1.5M599 2055.75h3m15 0h1.5m52.5 0h1.5M599 2057.25h1.5m72 0h1.5M597.5 2058.75h1.5M594.5 2060.25h3m4.5 0h1.5m1.5 0h1.5m31.5 0h1.5m24 0h1.5m9 0h1.5M599 2061.75h1.5m1.5 0h3m58.5 0h1.5m1.5 0h1.5m7.5 0h6m33 0h1.5M594.5 2063.25h1.5m7.5 0h1.5m57 0h1.5m18 0h1.5m1.5 0h3m27 0h1.5m1.5 0h1.5M594.5 2064.75h1.5m7.5 0h1.5m60 0h3m13.5 0h3m1.5 0h1.5m4.5 0h1.5m12 0h4.5m6 0h3M596 2066.25h3m6 0h1.5m78 0h1.5m1.5 0h4.5m12 0h1.5m1.5 0h1.5m9 0h3M597.5 2067.75h1.5m34.5 0h3m15 0h1.5m31.5 0h3m3 0h3m7.5 0h1.5m3 0h1.5m3 0h3m4.5 0h1.5M597.5 2069.25h3m37.5 0h1.5m1.5 0h1.5m7.5 0h1.5m1.5 0h1.5m22.5 0h3m1.5 0h3m16.5 0h3m9 0h3m1.5 0h1.5M597.5 2070.75h1.5m1.5 0h1.5m34.5 0h1.5m1.5 0h1.5m10.5 0h4.5m1.5 0h1.5m9 0h1.5m1.5 0h4.5m1.5 0h1.5m1.5 0h3m18 0h1.5m10.5 0h1.5M597.5 2072.25h1.5m1.5 0h3m34.5 0h4.5m7.5 0h4.5m1.5 0h3m10.5 0h1.5m3 0h3m1.5 0h1.5m15 0h1.5m21 0h1.5m6 0h1.5M597.5 2073.75h3m3 0h1.5m34.5 0h1.5m9 0h1.5m3 0h3m4.5 0h1.5m6 0h1.5m1.5 0h1.5m6 0h1.5m12 0h3m1.5 0h4.5m10.5 0h3m1.5 0h3m3 0h3M599 2075.25h1.5m4.5 0h1.5m34.5 0h3m1.5 0h3m3 0h1.5m21 0h1.5m9 0h1.5m10.5 0h3m15 0h4.5m1.5 0h1.5m4.5 0h4.5M597.5 2076.75h1.5m6 0h1.5m34.5 0h6m10.5 0h1.5m24 0h1.5m13.5 0h3m19.5 0h1.5M597.5 2078.25h3m4.5 0h1.5m34.5 0h1.5m1.5 0h1.5m6 0h1.5m31.5 0h1.5m31.5 0h3m7.5 0h1.5M597.5 2079.75h4.5m97.5 0h1.5m18 0h4.5m3 0h1.5M605 2081.25h3m28.5 0h1.5m4.5 0h3m39 0h1.5m33 0h1.5m7.5 0h1.5m1.5 0h1.5M606.5 2082.75h1.5m37.5 0h3m28.5 0h1.5m4.5 0h1.5m12 0h1.5m1.5 0h1.5m25.5 0h4.5M608 2084.25h4.5m1.5 0h1.5m30 0h1.5m12 0h1.5m13.5 0h3m3 0h1.5m12 0h4.5m24 0h1.5m6 0h1.5m1.5 0h1.5M615.5 2085.75h4.5m36 0h3m1.5 0h1.5m30 0h3m1.5 0h1.5m25.5 0h1.5m4.5 0h3M615.5 2087.25h1.5m1.5 0h1.5m1.5 0h1.5m4.5 0h3m21 0h1.5m1.5 0h1.5m16.5 0h1.5m18 0h1.5m1.5 0h3m25.5 0h1.5m4.5 0h1.5M615.5 2088.75h1.5m6 0h4.5m1.5 0h1.5m21 0h1.5m3 0h1.5m4.5 0h1.5m25.5 0h3m1.5 0h3m1.5 0h1.5m30 0h1.5M612.5 2090.25h3m1.5 0h1.5m6 0h1.5m1.5 0h1.5m9 0h1.5m3 0h1.5m4.5 0h9m30 0h1.5m1.5 0h1.5m4.5 0h1.5m27 0h1.5m3 0h1.5M611 2091.75h3m1.5 0h3m6 0h3m15 0h1.5m1.5 0h1.5m9 0h1.5m31.5 0h1.5m33 0h3m3 0h1.5M608 2093.25h6m1.5 0h1.5m28.5 0h1.5m18 0h3m27 0h1.5m1.5 0h1.5m25.5 0h1.5m3 0h1.5M608 2094.75h3m28.5 0h1.5m1.5 0h3m19.5 0h4.5m24 0h3m24 0h3m3 0h3M608 2096.25h3m30 0h4.5m7.5 0h3m64.5 0h1.5m10.5 0h3M648.5 2097.75h1.5m67.5 0h1.5M648.5 2099.25h1.5m51 0h1.5m13.5 0h4.5M704 2100.75h4.5m1.5 0h1.5m3 0h3M710 2102.25h6M723.5 2103.75h3" stroke="#313aa2" stroke-width="1.5" fill="none"/>
<path d="M627.5 2040.75h1.5m24 0h3M611 2042.25h1.5m6 0h1.5m7.5 0h1.5m15 0h1.5m4.5 0h3m1.5 0h1.5M618.5 2043.75h9m12 0h6m7.5 0h1.5M602 2045.25h1.5m1.5 0h1.5m19.5 0h1.5m9 0h1.5m1.5 0h3m9 0h1.5M633.5 2046.75h1.5m3 0h3m10.5 0h1.5m1.5 0h1.5M606.5 2048.25h1.5m19.5 0h1.5m1.5 0h1.5m6 0h1.5m7.5 0h4.5m4.5 0h1.5m18 0h1.5M600.5 2049.75h1.5m12 0h1.5m10.5 0h3m10.5 0h1.5m4.5 0h1.5m22.5 0h3M600.5 2051.25h1.5m10.5 0h3m24 0h1.5m1.5 0h1.5m16.5 0h1.5m4.5 0h4.5M602 2052.75h3m3 0h1.5m1.5 0h3m37.5 0h1.5m18 0h1.5M602 2054.25h1.5m6 0h1.5m9 0h1.5m48 0h1.5M602 2055.75h1.5m4.5 0h3m1.5 0h1.5m12 0h3m21 0h1.5m13.5 0h6M600.5 2057.25h1.5m4.5 0h1.5m58.5 0h1.5m1.5 0h3M599 2058.75h1.5m1.5 0h4.5m1.5 0h1.5m18 0h1.5m10.5 0h1.5m7.5 0h4.5m10.5 0h4.5m4.5 0h1.5M599 2060.25h1.5m6 0h3m52.5 0h1.5m1.5 0h3M596 2061.75h1.5m10.5 0h1.5m27 0h3M596 2063.25h3m18 0h1.5m10.5 0h1.5m30 0h1.5m12 0h1.5m1.5 0h3M599 2064.75h4.5m4.5 0h1.5m6 0h1.5m1.5 0h1.5m9 0h4.5m21 0h1.5m6 0h1.5m12 0h4.5M599 2066.25h6m3 0h1.5m7.5 0h1.5m13.5 0h1.5m1.5 0h3m13.5 0h1.5m12 0h3m10.5 0h6M600.5 2067.75h3m27 0h1.5m6 0h6m6 0h1.5m16.5 0h1.5m7.5 0h7.5m22.5 0h1.5M600.5 2069.25h1.5m40.5 0h3m3 0h1.5m6 0h1.5m3 0h1.5m6 0h9m30 0h1.5M602 2070.75h1.5m30 0h1.5m7.5 0h1.5m4.5 0h1.5m6 0h1.5m45 0h3M603.5 2072.25h3m30 0h1.5m4.5 0h1.5m3 0h1.5m6 0h1.5m48 0h1.5M606.5 2073.75h4.5m27 0h1.5m27 0h3m6 0h3m24 0h1.5M608 2075.25h3m33 0h1.5m22.5 0h4.5m3 0h1.5m25.5 0h1.5m4.5 0h1.5m1.5 0h1.5m12 0h1.5M608 2076.75h1.5m28.5 0h3m12 0h3m3 0h1.5m6 0h1.5m3 0h1.5m3 0h1.5m4.5 0h1.5m19.5 0h1.5m1.5 0h1.5m15 0h6M606.5 2078.25h1.5m10.5 0h1.5m19.5 0h1.5m12 0h6m6 0h6m1.5 0h1.5m1.5 0h1.5m6 0h1.5m30 0h3m3 0h7.5M606.5 2079.75h3m25.5 0h1.5m3 0h3m9 0h4.5m6 0h1.5m1.5 0h3m1.5 0h3m3 0h3m4.5 0h1.5m16.5 0h1.5m15 0h1.5M608 2081.25h1.5m24 0h3m1.5 0h1.5m1.5 0h1.5m7.5 0h4.5m1.5 0h1.5m10.5 0h1.5m6 0h1.5m1.5 0h1.5m1.5 0h3m16.5 0h1.5M608 2082.75h1.5m3 0h7.5m18 0h1.5m1.5 0h1.5m6 0h3m1.5 0h4.5m1.5 0h1.5m1.5 0h1.5m3 0h1.5m1.5 0h1.5m3 0h1.5m4.5 0h3m36 0h1.5M615.5 2084.25h3m24 0h1.5m3 0h3m1.5 0h1.5m1.5 0h1.5m16.5 0h1.5M626 2085.75h1.5m1.5 0h1.5m12 0h6m3 0h4.5m6 0h3m7.5 0h1.5m25.5 0h1.5m21 0h1.5M623 2087.25h1.5m6 0h6m12 0h1.5m13.5 0h1.5m6 0h1.5m27 0h1.5M636.5 2088.75h1.5m1.5 0h3m6 0h1.5m19.5 0h1.5m51 0h1.5M644 2090.25h1.5m1.5 0h1.5m19.5 0h1.5m24 0h1.5m4.5 0h1.5m19.5 0h1.5m4.5 0h3M665 2091.75h3m24 0h3m31.5 0h3M693.5 2093.25h1.5m4.5 0h1.5m25.5 0h3M701 2094.75h1.5m16.5 0h1.5M702.5 2096.25h1.5m12 0h4.5M702.5 2097.75h3m9 0h1.5M702.5 2099.25h3m1.5 0h1.5m4.5 0h1.5M711.5 2100.75h1.5" stroke="#374bb0" stroke-width="1.5" fill="none"/>
<path d="M612.5 2042.25h4.5M611 2043.75h1.5m4.5 0h1.5M603.5 2045.25h1.5m6 0h1.5m9 0h1.5m1.5 0h1.5M602 2046.75h4.5m4.5 0h1.5m13.5 0h1.5m7.5 0h3M602 2048.25h1.5m1.5 0h1.5m6 0h1.5m12 0h1.5m4.5 0h1.5m18 0h4.5M602 2049.75h1.5m1.5 0h1.5m12 0h3m9 0h1.5m15 0h1.5m1.5 0h3m1.5 0h1.5M603.5 2051.25h1.5m16.5 0h1.5m1.5 0h1.5m4.5 0h1.5m18 0h3m1.5 0h4.5M623 2052.75h4.5m15 0h3m7.5 0h1.5m7.5 0h1.5m3 0h4.5M603.5 2054.25h4.5m15 0h3m27 0h1.5m9 0h4.5M605 2055.75h3m16.5 0h1.5m3 0h1.5m16.5 0h3m3 0h1.5M603.5 2057.25h3m4.5 0h3m1.5 0h1.5m7.5 0h1.5m9 0h1.5m1.5 0h1.5m7.5 0h1.5m4.5 0h1.5M611 2058.75h1.5m16.5 0h1.5m3 0h1.5m12 0h1.5m4.5 0h1.5m13.5 0h1.5m1.5 0h1.5M609.5 2060.25h4.5m13.5 0h3m3 0h1.5m13.5 0h4.5m3 0h3m1.5 0h1.5m6 0h1.5m3 0h1.5M612.5 2061.75h4.5m10.5 0h1.5m1.5 0h3m1.5 0h1.5m3 0h1.5m13.5 0h1.5m3 0h1.5m12 0h1.5M627.5 2063.25h1.5m1.5 0h3m1.5 0h1.5m18 0h1.5m3 0h1.5M614 2064.75h1.5m12 0h1.5m4.5 0h6m12 0h1.5m3 0h1.5M618.5 2066.25h1.5m18 0h4.5m19.5 0h1.5m6 0h1.5M603.5 2067.75h6m7.5 0h1.5m10.5 0h1.5m15 0h1.5m9 0h1.5m4.5 0h3m1.5 0h1.5m1.5 0h1.5m3 0h3M603.5 2069.25h1.5m25.5 0h1.5m13.5 0h1.5m12 0h1.5m49.5 0h1.5M609.5 2070.75h1.5m21 0h1.5m13.5 0h1.5m18 0h1.5m39 0h1.5m3 0h1.5M606.5 2072.25h3m1.5 0h1.5m22.5 0h1.5m7.5 0h3m16.5 0h1.5m40.5 0h3m3 0h1.5M612.5 2073.75h1.5m22.5 0h1.5m27 0h1.5m37.5 0h6m1.5 0h1.5M611 2075.25h1.5m51 0h3m10.5 0h3m24 0h1.5M609.5 2076.75h1.5m6 0h1.5m1.5 0h1.5m39 0h4.5m12 0h4.5m22.5 0h1.5m3 0h3M617 2078.25h1.5m40.5 0h1.5m1.5 0h1.5m15 0h4.5m19.5 0h1.5m1.5 0h3M609.5 2079.75h1.5m4.5 0h1.5m3 0h3m1.5 0h3m6 0h1.5m25.5 0h1.5m10.5 0h1.5m4.5 0h1.5m1.5 0h1.5m19.5 0h1.5m12 0h1.5M609.5 2081.25h1.5m6 0h6m1.5 0h1.5m6 0h1.5m24 0h4.5m10.5 0h3m4.5 0h1.5m21 0h1.5M609.5 2082.75h1.5m9 0h3m6 0h6m22.5 0h1.5m4.5 0h3m4.5 0h1.5M621.5 2084.25h7.5m9 0h4.5m21 0h3m1.5 0h4.5m28.5 0h1.5m16.5 0h3M621.5 2085.75h3m6 0h1.5m4.5 0h1.5m28.5 0h6m28.5 0h1.5M636.5 2087.25h1.5m3 0h4.5m1.5 0h1.5m18 0h1.5m1.5 0h1.5m45 0h1.5M644 2088.75h1.5m1.5 0h1.5m16.5 0h1.5m1.5 0h1.5m51 0h1.5M665 2090.25h3M699.5 2091.75h1.5m18 0h1.5M719 2093.25h1.5M702.5 2094.75h1.5m10.5 0h3M705.5 2097.75h3M710 2099.25h3" stroke="#3e5cbd" stroke-width="1.5" fill="none"/>
<path d="M617 2045.25h1.5m4.5 0h1.5M618.5 2046.75h1.5m1.5 0h1.5m1.5 0h1.5M615.5 2048.25h6m3 0h1.5m10.5 0h1.5M623 2049.75h3m27 0h1.5M623 2051.25h1.5m22.5 0h3M627.5 2052.75h6m15 0h1.5m4.5 0h1.5m3 0h1.5M627.5 2054.25h3m1.5 0h1.5m4.5 0h1.5m3 0h1.5m1.5 0h4.5m4.5 0h1.5m6 0h1.5M620 2055.75h1.5m1.5 0h1.5m6 0h3m6 0h3M630.5 2057.25h1.5m22.5 0h3m4.5 0h1.5M614 2058.75h1.5m9 0h1.5m4.5 0h3m7.5 0h1.5m12 0h4.5m1.5 0h1.5M615.5 2060.25h1.5m9 0h1.5m4.5 0h1.5m13.5 0h1.5m21 0h3M609.5 2061.75h1.5m22.5 0h1.5m6 0h1.5m7.5 0h4.5m3 0h1.5M609.5 2063.25h1.5m1.5 0h1.5m6 0h1.5m12 0h1.5m4.5 0h1.5m10.5 0h3m1.5 0h3m10.5 0h1.5m1.5 0h1.5M609.5 2064.75h1.5m28.5 0h4.5m13.5 0h3m9 0h1.5m1.5 0h1.5M614 2066.25h1.5m4.5 0h1.5m28.5 0h1.5m9 0h1.5m12 0h1.5M609.5 2067.75h1.5m3 0h1.5m42 0h1.5m6 0h1.5m6 0h1.5M605 2069.25h1.5m1.5 0h1.5m4.5 0h3m30 0h1.5m15 0h3M605 2070.75h4.5m1.5 0h1.5m18 0h1.5m13.5 0h1.5m16.5 0h3m42 0h3M612.5 2072.25h1.5m51 0h1.5M710 2073.75h1.5M612.5 2075.25h1.5m7.5 0h1.5m1.5 0h1.5m10.5 0h1.5M611 2076.75h1.5m3 0h1.5m4.5 0h1.5m1.5 0h3m9 0h1.5M611 2078.25h1.5m9 0h4.5m1.5 0h1.5m6 0h1.5m24 0h1.5m46.5 0h1.5m3 0h1.5M611 2079.75h1.5m1.5 0h1.5m12 0h1.5m1.5 0h1.5m27 0h1.5m43.5 0h6m4.5 0h1.5M611 2081.25h4.5m10.5 0h3m78 0h1.5m7.5 0h1.5M626 2082.75h3m75 0h1.5m10.5 0h1.5M632 2084.25h3m67.5 0h1.5m12 0h1.5M632 2085.75h3m3 0h1.5m63 0h1.5m13.5 0h4.5M638 2087.25h3m61.5 0h1.5m13.5 0h4.5M645.5 2088.75h1.5m19.5 0h1.5m48 0h4.5M701 2090.25h1.5m3 0h1.5m1.5 0h1.5m7.5 0h1.5M705.5 2091.75h1.5m10.5 0h1.5M701 2093.25h1.5m3 0h3m7.5 0h3M704 2094.75h3M707 2096.25h1.5M708.5 2097.75h1.5m1.5 0h1.5" stroke="#4573c7" stroke-width="1.5" fill="none"/>
<path d="M612.5 2043.75h3M612.5 2046.75h1.5m3 0h1.5m4.5 0h1.5M623 2048.25h1.5m10.5 0h1.5M636.5 2049.75h1.5M632 2051.25h1.5m3 0h1.5M636.5 2052.75h1.5m9 0h1.5m7.5 0h3M633.5 2054.25h1.5M621.5 2055.75h1.5m10.5 0h6m3 0h3m10.5 0h1.5M618.5 2057.25h1.5m3 0h1.5m16.5 0h1.5m3 0h1.5M615.5 2058.75h1.5m28.5 0h1.5m12 0h1.5M645.5 2060.25h1.5M626 2061.75h1.5m21 0h1.5m19.5 0h3M611 2063.25h1.5m28.5 0h1.5m28.5 0h1.5M612.5 2064.75h1.5m12 0h1.5m16.5 0h1.5m25.5 0h1.5M626 2066.25h1.5m31.5 0h1.5m10.5 0h3M618.5 2067.75h1.5m39 0h1.5M606.5 2069.25h1.5m3 0h3m15 0h1.5M614 2070.75h3m12 0h1.5M614 2072.25h1.5m16.5 0h3m73.5 0h3M623 2073.75h1.5m10.5 0h1.5M614 2075.25h1.5m1.5 0h1.5m7.5 0h3M612.5 2076.75h3m7.5 0h1.5m10.5 0h1.5M612.5 2078.25h3m13.5 0h6m75 0h3M612.5 2079.75h1.5M705.5 2081.25h1.5m1.5 0h1.5M705.5 2082.75h3M704 2084.25h1.5M704 2085.75h1.5m9 0h1.5M704 2087.25h1.5M702.5 2088.75h3m1.5 0h1.5m6 0h1.5M702.5 2090.25h3M701 2091.75h1.5m13.5 0h1.5M702.5 2093.25h3M707 2094.75h1.5m4.5 0h1.5M710 2097.75h1.5" stroke="#4b8ccd" stroke-width="1.5" fill="none"/>
<path d="M612.5 2045.25h4.5M614 2046.75h3M633.5 2049.75h3M633.5 2051.25h1.5M633.5 2052.75h3M635 2054.25h3m18 0h1.5m1.5 0h3M659 2055.75h3M659 2057.25h3M617 2058.75h1.5M617 2060.25h1.5m6 0h1.5m18 0h1.5M618.5 2061.75h1.5m22.5 0h4.5M621.5 2063.25h1.5m1.5 0h1.5m16.5 0h1.5m6 0h1.5M611 2064.75h1.5m10.5 0h3m24 0h1.5M611 2066.25h3M611 2067.75h3M627.5 2069.25h1.5M629 2072.25h1.5M618.5 2073.75h1.5m4.5 0h7.5M629 2075.25h1.5m4.5 0h1.5M629 2076.75h1.5M710 2079.75h1.5m1.5 0h1.5M710 2081.25h1.5m3 0h1.5M705.5 2084.25h1.5m7.5 0h1.5M705.5 2085.75h1.5M705.5 2087.25h1.5M708.5 2088.75h1.5M714.5 2090.25h1.5M702.5 2091.75h3M708.5 2093.25h1.5M708.5 2096.25h1.5m1.5 0h1.5" stroke="#52a5d1" stroke-width="1.5" fill="none"/>
<path d="M635 2051.25h1.5M620 2057.25h3m19.5 0h3M642.5 2058.75h3M620 2061.75h1.5m3 0h1.5M623 2063.25h1.5m21 0h1.5m1.5 0h1.5M645.5 2064.75h1.5M621.5 2066.25h1.5m1.5 0h1.5m22.5 0h1.5M618.5 2069.25h1.5M617 2070.75h1.5m9 0h1.5M615.5 2072.25h1.5m10.5 0h1.5M615.5 2073.75h3m13.5 0h3M630.5 2075.25h1.5m1.5 0h1.5M630.5 2076.75h4.5M711.5 2079.75h1.5M710 2082.75h1.5m3 0h1.5M707 2084.25h4.5M707 2085.75h1.5m4.5 0h1.5M707 2087.25h3m3 0h1.5M710 2088.75h1.5M710 2090.25h1.5M714.5 2091.75h1.5M713 2093.25h1.5M708.5 2094.75h1.5" stroke="#5dbecb" stroke-width="1.5" fill="none"/>
<path d="M618.5 2058.75h1.5M618.5 2060.25h1.5m3 0h1.5M621.5 2061.75h3M647 2063.25h1.5M623 2066.25h1.5m22.5 0h1.5M626 2069.25h1.5M618.5 2070.75h1.5M617 2072.25h3m6 0h1.5M632 2075.25h1.5M711.5 2081.25h3M711.5 2082.75h3M711.5 2084.25h3M708.5 2085.75h4.5M710 2087.25h3M713 2088.75h1.5M710 2091.75h1.5M711.5 2094.75h1.5M710 2096.25h1.5" stroke="#74d2ad" stroke-width="1.5" fill="none"/>
<path d="M620 2058.75h3M647 2064.75h3M624.5 2067.75h1.5M626 2070.75h1.5M620 2072.25h6M711.5 2090.25h3M713 2091.75h1.5M710 2093.25h1.5M710 2094.75h1.5" stroke="#9edd65" stroke-width="1.5" fill="none"/>
<path d="M620 2060.25h3M621.5 2067.75h1.5M620 2069.25h1.5M711.5 2091.75h1.5M711.5 2093.25h1.5" stroke="#c6e13c" stroke-width="1.5" fill="none"/>
<path d="M623 2067.75h1.5M624.5 2069.25h1.5M620 2070.75h1.5" stroke="#e1cb26" stroke-width="1.5" fill="none"/>
<path d="M624.5 2070.75h1.5" stroke="#e17f1f" stroke-width="1.5" fill="none"/>
<path d="M621.5 2069.25h3M621.5 2070.75h3" stroke="#ba3818" stroke-width="1.5" fill="none"/>
<path d="M1016.5 1890.75h1.5M1061.5 1902.75h1.5M1085.5 1904.25h1.5M1007.5 1907.25h1.5M947.5 1913.25h1.5m37.5 0h1.5M983.5 1914.75h1.5M964 1919.25h1.5m7.5 0h1.5M914.5 1920.75h1.5m117 0h1.5M931 1925.25h1.5M971.5 1926.75h1.5m37.5 0h1.5M971.5 1928.25h1.5M920.5 1929.75h1.5M973 1931.25h1.5M943 1932.75h1.5m13.5 0h1.5m88.5 0h1.5M916 1934.25h1.5m19.5 0h1.5m13.5 0h1.5m24 0h1.5m3 0h1.5m12 0h1.5M944.5 1935.75h1.5m6 0h1.5m12 0h1.5M971.5 1937.25h1.5m66 0h1.5M931 1938.75h1.5m15 0h1.5m7.5 0h1.5M886 1940.25h1.5m81 0h1.5m16.5 0h1.5M943 1941.75h1.5m10.5 0h1.5m3 0h1.5M920.5 1943.25h1.5m9 0h1.5m60 0h1.5m22.5 0h1.5M953.5 1944.75h3m25.5 0h3m10.5 0h1.5M949 1946.25h1.5m9 0h1.5m15 0h1.5m12 0h1.5m13.5 0h1.5m48 0h1.5m6 0h1.5M907 1947.75h1.5m15 0h1.5m24 0h1.5m25.5 0h1.5m37.5 0h1.5m93 0h1.5M913 1949.25h1.5m21 0h1.5m18 0h1.5m9 0h1.5m6 0h1.5m7.5 0h1.5m6 0h3m6 0h1.5M937 1950.75h1.5m3 0h1.5m7.5 0h1.5m1.5 0h1.5m1.5 0h1.5m1.5 0h1.5m9 0h3m9 0h1.5m18 0h1.5m10.5 0h1.5m9 0h1.5M928 1952.25h1.5m18 0h1.5m1.5 0h1.5m22.5 0h1.5m19.5 0h1.5m15 0h1.5M922 1953.75h1.5m10.5 0h1.5m4.5 0h1.5m3 0h1.5m1.5 0h1.5m1.5 0h1.5m1.5 0h3m1.5 0h1.5m3 0h1.5m3 0h3m9 0h1.5m1.5 0h1.5m13.5 0h1.5m73.5 0h1.5M913 1955.25h3m28.5 0h4.5m1.5 0h1.5m3 0h1.5m6 0h1.5m1.5 0h1.5m3 0h1.5m4.5 0h3m4.5 0h1.5m9 0h4.5m22.5 0h1.5M899.5 1956.75h1.5m13.5 0h1.5m13.5 0h1.5m6 0h1.5m12 0h1.5m6 0h1.5m3 0h1.5m1.5 0h3m6 0h1.5m9 0h1.5m36 0h1.5M890.5 1958.25h1.5m39 0h1.5m7.5 0h4.5m4.5 0h1.5m16.5 0h1.5m13.5 0h1.5m22.5 0h1.5M901 1959.75h1.5m40.5 0h1.5m4.5 0h4.5m7.5 0h1.5m3 0h1.5m1.5 0h3m9 0h1.5m6 0h1.5m1.5 0h1.5m18 0h1.5M926.5 1961.25h1.5m4.5 0h1.5m7.5 0h1.5m3 0h3m9 0h1.5m7.5 0h1.5m1.5 0h1.5m1.5 0h1.5m6 0h1.5m1.5 0h1.5m16.5 0h1.5m3 0h1.5m34.5 0h1.5m51 0h1.5M946 1962.75h4.5m4.5 0h3m1.5 0h1.5m10.5 0h4.5m6 0h1.5m4.5 0h1.5m3 0h1.5m6 0h3m52.5 0h1.5M905.5 1964.25h1.5m4.5 0h1.5m21 0h1.5m15 0h1.5m6 0h1.5m3 0h1.5m1.5 0h1.5m1.5 0h1.5m13.5 0h1.5m3 0h1.5m1.5 0h3m12 0h1.5m4.5 0h1.5M899.5 1965.75h1.5m31.5 0h1.5m6 0h1.5m13.5 0h3m1.5 0h1.5m1.5 0h1.5m1.5 0h1.5m1.5 0h1.5m1.5 0h1.5m3 0h1.5m7.5 0h1.5m15 0h1.5M919 1967.25h4.5m13.5 0h1.5m6 0h3m1.5 0h4.5m7.5 0h1.5m1.5 0h1.5m12 0h3m1.5 0h1.5m1.5 0h1.5m21 0h1.5m15 0h1.5M931 1968.75h1.5m4.5 0h1.5m6 0h3m9 0h1.5m4.5 0h1.5m7.5 0h1.5m4.5 0h3m1.5 0h1.5m10.5 0h3m4.5 0h1.5m1.5 0h1.5M925 1970.25h1.5m4.5 0h1.5m1.5 0h1.5m1.5 0h1.5m6 0h1.5m4.5 0h3m1.5 0h3m3 0h1.5m10.5 0h3m1.5 0h3m3 0h1.5m4.5 0h1.5m22.5 0h1.5m1.5 0h1.5m4.5 0h1.5M922 1971.75h1.5m6 0h1.5m3 0h1.5m1.5 0h1.5m6 0h3m3 0h1.5m3 0h1.5m15 0h1.5m3 0h3m1.5 0h1.5m1.5 0h3m1.5 0h3m3 0h1.5m21 0h1.5m1.5 0h1.5M922 1973.25h1.5m10.5 0h1.5m12 0h1.5m4.5 0h3m3 0h3m6 0h1.5m1.5 0h1.5m3 0h3m22.5 0h1.5m4.5 0h1.5m21 0h1.5M904 1974.75h1.5m21 0h3m12 0h1.5m12 0h1.5m3 0h3m3 0h3m12 0h1.5m9 0h3m4.5 0h1.5m1.5 0h1.5m25.5 0h1.5M923.5 1976.25h3m3 0h1.5m9 0h3m4.5 0h4.5m4.5 0h4.5m3 0h1.5m1.5 0h1.5m4.5 0h1.5m3 0h1.5m7.5 0h1.5m6 0h1.5m7.5 0h1.5M895 1977.75h1.5m12 0h1.5m15 0h1.5m1.5 0h1.5m6 0h1.5m22.5 0h1.5m1.5 0h1.5m3 0h1.5m1.5 0h1.5m7.5 0h1.5m7.5 0h1.5m6 0h3m6 0h1.5m16.5 0h1.5M896.5 1979.25h1.5m18 0h1.5m19.5 0h1.5m3 0h1.5m1.5 0h1.5m7.5 0h1.5m1.5 0h3m1.5 0h1.5m6 0h1.5m3 0h3m3 0h1.5m4.5 0h1.5m6 0h3m15 0h1.5m9 0h1.5M901 1980.75h1.5m6 0h1.5m9 0h1.5m4.5 0h1.5m1.5 0h1.5m9 0h3m15 0h1.5m4.5 0h1.5m15 0h1.5m6 0h1.5M920.5 1982.25h1.5m1.5 0h3m1.5 0h1.5m3 0h1.5m4.5 0h1.5m12 0h1.5m1.5 0h1.5m7.5 0h1.5m16.5 0h1.5m4.5 0h3m3 0h1.5m10.5 0h1.5m4.5 0h1.5M916 1983.75h1.5m9 0h1.5m3 0h3m3 0h1.5m1.5 0h1.5m9 0h1.5m1.5 0h1.5m1.5 0h1.5m9 0h3m13.5 0h1.5m127.5 0h1.5M917.5 1985.25h1.5m4.5 0h3m1.5 0h3m3 0h3m1.5 0h1.5m1.5 0h1.5m6 0h1.5m6 0h1.5m3 0h1.5m19.5 0h1.5m6 0h1.5m6 0h1.5m1.5 0h1.5m1.5 0h1.5m3 0h1.5m1.5 0h1.5m12 0h1.5m90 0h1.5M910 1986.75h1.5m19.5 0h3m6 0h1.5m9 0h1.5m3 0h1.5m3 0h3m3 0h1.5m7.5 0h1.5m4.5 0h1.5m6 0h1.5m7.5 0h1.5m9 0h3m1.5 0h1.5m3 0h1.5m3 0h1.5M872.5 1988.25h1.5m24 0h1.5m10.5 0h1.5m6 0h1.5m15 0h3m3 0h1.5m7.5 0h1.5m9 0h1.5m4.5 0h1.5m6 0h1.5m12 0h1.5m1.5 0h1.5m7.5 0h1.5m4.5 0h1.5m4.5 0h3m36 0h1.5M914.5 1989.75h3m15 0h1.5m10.5 0h1.5m3 0h1.5m3 0h3m1.5 0h3m6 0h1.5m3 0h1.5m6 0h1.5m6 0h3m1.5 0h1.5m7.5 0h1.5m4.5 0h3m6 0h1.5m18 0h1.5M886 1991.25h1.5m36 0h3m7.5 0h3m4.5 0h1.5m10.5 0h1.5m3 0h3m1.5 0h1.5m1.5 0h1.5m3 0h3m1.5 0h1.5m4.5 0h3m6 0h1.5m4.5 0h1.5m10.5 0h1.5m10.5 0h1.5m27 0h1.5M896.5 1992.75h1.5m15 0h1.5m16.5 0h1.5m6 0h1.5m4.5 0h3m1.5 0h1.5m1.5 0h1.5m1.5 0h3m4.5 0h1.5m1.5 0h1.5m1.5 0h1.5m3 0h1.5m1.5 0h1.5m3 0h1.5m6 0h1.5m10.5 0h1.5m9 0h1.5M880 1994.25h1.5m37.5 0h1.5m1.5 0h1.5m3 0h1.5m3 0h1.5m6 0h1.5m10.5 0h1.5m3 0h3m9 0h1.5m3 0h1.5m10.5 0h3m3 0h1.5m3 0h1.5m6 0h1.5m3 0h3m3 0h1.5m37.5 0h1.5M905.5 1995.75h1.5m15 0h1.5m3 0h3m1.5 0h1.5m1.5 0h3m3 0h3m3 0h4.5m1.5 0h3m1.5 0h1.5m9 0h7.5m1.5 0h3m1.5 0h1.5m1.5 0h3m4.5 0h4.5m16.5 0h1.5M892 1997.25h1.5m27 0h3m4.5 0h3m4.5 0h1.5m1.5 0h1.5m3 0h1.5m6 0h1.5m16.5 0h3m1.5 0h1.5m1.5 0h3m6 0h1.5m6 0h1.5m1.5 0h1.5m9 0h1.5m19.5 0h1.5m31.5 0h1.5M887.5 1998.75h1.5m25.5 0h1.5m3 0h1.5m7.5 0h1.5m4.5 0h1.5m3 0h3m3 0h1.5m4.5 0h1.5m3 0h1.5m12 0h3m1.5 0h1.5m3 0h1.5m1.5 0h1.5m6 0h1.5m1.5 0h1.5m3 0h3m6 0h1.5m3 0h1.5m19.5 0h1.5m21 0h1.5m22.5 0h1.5M926.5 2000.25h1.5m3 0h1.5m4.5 0h1.5m3 0h1.5m1.5 0h1.5m31.5 0h3m13.5 0h1.5m6 0h1.5m10.5 0h1.5m6 0h4.5m6 0h1.5m27 0h1.5M904 2001.75h1.5m13.5 0h1.5m1.5 0h4.5m4.5 0h1.5m3 0h1.5m1.5 0h1.5m3 0h1.5m10.5 0h1.5m10.5 0h1.5m1.5 0h1.5m3 0h3m1.5 0h1.5m3 0h1.5m1.5 0h1.5m1.5 0h1.5m1.5 0h1.5m15 0h1.5m4.5 0h1.5m45 0h1.5M896.5 2003.25h1.5m15 0h3m4.5 0h1.5m4.5 0h1.5m10.5 0h1.5m1.5 0h3m1.5 0h1.5m4.5 0h1.5m12 0h1.5m1.5 0h3m10.5 0h3m4.5 0h1.5m1.5 0h1.5m6 0h1.5m6 0h3m52.5 0h1.5M895 2004.75h1.5m9 0h1.5m4.5 0h1.5m3 0h1.5m16.5 0h6m1.5 0h1.5m1.5 0h1.5m7.5 0h1.5m12 0h1.5m18 0h3m1.5 0h4.5m4.5 0h1.5m1.5 0h1.5m48 0h1.5M884.5 2006.25h1.5m24 0h1.5m12 0h1.5m3 0h4.5m9 0h1.5m19.5 0h1.5m3 0h1.5m18 0h1.5m1.5 0h1.5m12 0h1.5m6 0h1.5m1.5 0h1.5m6 0h1.5m12 0h1.5m6 0h1.5M916 2007.75h1.5m13.5 0h1.5m13.5 0h3m15 0h1.5m1.5 0h1.5m30 0h1.5m10.5 0h4.5m9 0h1.5m6 0h1.5m4.5 0h1.5m3 0h1.5M887.5 2009.25h1.5m10.5 0h1.5m10.5 0h1.5m6 0h1.5m1.5 0h3m18 0h1.5m1.5 0h1.5m1.5 0h4.5m10.5 0h1.5m1.5 0h1.5m27 0h1.5m6 0h3m3 0h1.5m3 0h3m3 0h3m3 0h1.5m3 0h1.5m3 0h1.5m10.5 0h3m43.5 0h1.5M898 2010.75h3m10.5 0h1.5m12 0h3m22.5 0h3m1.5 0h1.5m34.5 0h3m4.5 0h3m1.5 0h1.5m3 0h1.5m1.5 0h1.5m1.5 0h3m6 0h1.5m3 0h1.5m4.5 0h1.5m4.5 0h1.5M896.5 2012.25h1.5m1.5 0h1.5m12 0h3m4.5 0h1.5m3 0h1.5m18 0h1.5m49.5 0h4.5m3 0h3m1.5 0h1.5m1.5 0h1.5m7.5 0h1.5m4.5 0h4.5m6 0h1.5m30 0h1.5m13.5 0h1.5m4.5 0h1.5M899.5 2013.75h1.5m16.5 0h1.5m6 0h1.5m1.5 0h1.5m70.5 0h4.5m3 0h4.5m1.5 0h1.5m3 0h3m3 0h1.5m1.5 0h1.5m4.5 0h1.5m1.5 0h3m4.5 0h3m4.5 0h1.5M893.5 2015.25h1.5m18 0h1.5m4.5 0h1.5m1.5 0h1.5m1.5 0h1.5m76.5 0h1.5m4.5 0h1.5m3 0h3m6 0h1.5m1.5 0h3m10.5 0h1.5m1.5 0h1.5m3 0h4.5M913 2016.75h1.5m1.5 0h1.5m3 0h3m1.5 0h1.5m72 0h6m7.5 0h1.5m9 0h1.5m4.5 0h3m7.5 0h3m6 0h1.5m10.5 0h3M913 2018.25h1.5m10.5 0h3m1.5 0h1.5m70.5 0h1.5m3 0h1.5m15 0h1.5m3 0h1.5m6 0h1.5m4.5 0h3m1.5 0h1.5m6 0h1.5m3 0h1.5m24 0h1.5M881.5 2019.75h1.5m33 0h1.5m106.5 0h1.5m16.5 0h4.5m4.5 0h1.5m6 0h3m22.5 0h1.5M1037.5 2021.25h1.5m7.5 0h3m7.5 0h1.5m12 0h3M902.5 2022.75h1.5m3 0h3m3 0h3m9 0h3m117 0h1.5m1.5 0h1.5m1.5 0h4.5m1.5 0h1.5M844 2024.25h1.5m52.5 0h1.5m7.5 0h1.5m4.5 0h3m127.5 0h1.5m6 0h1.5m4.5 0h1.5m10.5 0h1.5M905.5 2025.75h1.5m141 0h1.5m1.5 0h1.5m19.5 0h1.5m3 0h1.5M877 2027.25h1.5m7.5 0h1.5m22.5 0h1.5m4.5 0h3m133.5 0h1.5m6 0h1.5m7.5 0h1.5m12 0h1.5M919 2028.75h3m124.5 0h3m4.5 0h1.5m30 0h1.5M880 2030.25h1.5m28.5 0h1.5m3 0h3m1.5 0h1.5m127.5 0h1.5m1.5 0h1.5m1.5 0h1.5m18 0h1.5m25.5 0h1.5M877 2031.75h1.5m13.5 0h1.5m21 0h1.5m1.5 0h1.5m130.5 0h1.5m7.5 0h1.5m24 0h1.5M905.5 2033.25h1.5m6 0h1.5m1.5 0h1.5m133.5 0h1.5m10.5 0h3m13.5 0h3m18 0h1.5M1051 2034.75h1.5m12 0h1.5m3 0h1.5m3 0h1.5M901 2036.25h1.5m121.5 0h1.5m28.5 0h1.5m9 0h4.5m3 0h1.5m9 0h3M892 2037.75h1.5m10.5 0h1.5m6 0h3m126 0h1.5m7.5 0h3m1.5 0h3m13.5 0h3M892 2039.25h1.5m12 0h1.5m7.5 0h1.5m139.5 0h1.5m6 0h1.5m3 0h1.5m1.5 0h1.5m6 0h1.5m4.5 0h3M854.5 2040.75h1.5m19.5 0h1.5m28.5 0h1.5m6 0h1.5m124.5 0h1.5m9 0h3m3 0h1.5m13.5 0h3m9 0h1.5m3 0h1.5M904 2042.25h1.5m9 0h3m3 0h3m79.5 0h1.5m36 0h3m12 0h1.5m9 0h1.5m1.5 0h1.5m4.5 0h3m3 0h4.5M896.5 2043.75h1.5m21 0h1.5m1.5 0h1.5m79.5 0h1.5m51 0h4.5m10.5 0h1.5m3 0h3m3 0h1.5M911.5 2045.25h1.5m1.5 0h3m138 0h1.5m4.5 0h1.5m1.5 0h1.5m7.5 0h3m1.5 0h1.5m3 0h1.5m4.5 0h1.5M908.5 2046.75h1.5m9 0h1.5m127.5 0h1.5m4.5 0h1.5m4.5 0h3m3 0h1.5m10.5 0h1.5m9 0h3m1.5 0h1.5M911.5 2048.25h1.5m3 0h3m136.5 0h1.5m1.5 0h1.5m1.5 0h1.5m13.5 0h1.5m3 0h1.5m6 0h1.5m1.5 0h1.5M914.5 2049.75h1.5m141 0h3m19.5 0h3M913 2051.25h1.5m4.5 0h1.5m141 0h1.5m9 0h1.5m12 0h1.5m1.5 0h3m6 0h1.5m9 0h1.5M880 2052.75h1.5m27 0h1.5m4.5 0h1.5m1.5 0h1.5m142.5 0h1.5m10.5 0h1.5m7.5 0h1.5m3 0h1.5m1.5 0h1.5m22.5 0h1.5M887.5 2054.25h1.5m25.5 0h1.5m171 0h1.5M878.5 2055.75h1.5m18 0h1.5m15 0h1.5m169.5 0h3m1.5 0h1.5m1.5 0h1.5m7.5 0h1.5M904 2057.25h1.5m1.5 0h1.5m4.5 0h1.5m1.5 0h1.5m165 0h1.5m3 0h1.5M896.5 2058.75h1.5m6 0h3m4.5 0h1.5m153 0h1.5m15 0h3m10.5 0h1.5M916 2060.25h1.5m169.5 0h1.5m6 0h1.5M911.5 2061.75h1.5m1.5 0h1.5m138 0h1.5m43.5 0h1.5M902.5 2063.25h1.5m10.5 0h3m136.5 0h1.5m36 0h1.5M910 2064.75h1.5m1.5 0h1.5m1.5 0h1.5m138 0h1.5m27 0h1.5m15 0h1.5M871 2066.25h1.5m15 0h1.5m24 0h1.5m1.5 0h3m169.5 0h1.5m4.5 0h1.5m9 0h1.5M919 2067.75h1.5m133.5 0h1.5m25.5 0h1.5m4.5 0h1.5m1.5 0h3M908.5 2069.25h1.5m171 0h1.5m7.5 0h1.5m1.5 0h1.5M866.5 2070.75h1.5m31.5 0h1.5m4.5 0h1.5m144 0h3m30 0h1.5m1.5 0h4.5m3 0h1.5m10.5 0h1.5M914.5 2072.25h4.5m135 0h1.5m31.5 0h1.5m3 0h1.5M910 2073.75h1.5m1.5 0h1.5m159 0h1.5m6 0h3m3 0h3M898 2075.25h1.5m18 0h3m166.5 0h3M911.5 2076.75h1.5m3 0h3m153 0h1.5m25.5 0h1.5M905.5 2078.25h3m145.5 0h1.5m28.5 0h3m7.5 0h1.5M905.5 2079.75h1.5m7.5 0h4.5m132 0h1.5m4.5 0h1.5m22.5 0h1.5m1.5 0h4.5M862 2081.25h1.5m40.5 0h1.5m6 0h1.5m1.5 0h1.5m1.5 0h3m133.5 0h1.5m28.5 0h1.5m1.5 0h1.5m7.5 0h1.5M905.5 2082.75h1.5m1.5 0h1.5m9 0h3m109.5 0h4.5m16.5 0h1.5m3 0h1.5m12 0h1.5m7.5 0h1.5m3 0h3M905.5 2084.25h1.5m3 0h1.5m9 0h1.5m76.5 0h1.5m54 0h3m4.5 0h3m1.5 0h1.5m9 0h1.5m1.5 0h1.5m9 0h1.5m4.5 0h1.5M917.5 2085.75h1.5m1.5 0h1.5m97.5 0h1.5m33 0h1.5m1.5 0h4.5m3 0h1.5m3 0h1.5m4.5 0h3m1.5 0h3m3 0h1.5M905.5 2087.25h1.5m9 0h1.5m3 0h1.5m124.5 0h1.5m4.5 0h3m3 0h3m6 0h1.5m1.5 0h1.5m1.5 0h1.5m1.5 0h1.5m6 0h1.5M913 2088.75h1.5m136.5 0h1.5m1.5 0h1.5m15 0h1.5m6 0h3m10.5 0h1.5M899.5 2090.25h1.5m7.5 0h1.5m7.5 0h4.5m127.5 0h1.5m3 0h1.5m1.5 0h1.5m6 0h1.5m6 0h3m3 0h1.5m3 0h1.5m10.5 0h1.5M910 2091.75h1.5m6 0h3m124.5 0h4.5m28.5 0h1.5m6 0h1.5M914.5 2093.25h1.5m127.5 0h1.5m4.5 0h1.5m4.5 0h1.5m7.5 0h1.5m1.5 0h6m4.5 0h1.5m1.5 0h1.5m1.5 0h1.5m3 0h4.5M913 2094.75h3m1.5 0h3m78 0h3m43.5 0h1.5m1.5 0h1.5m18 0h1.5m12 0h1.5m3 0h1.5M881.5 2096.25h1.5m33 0h1.5m1.5 0h1.5m6 0h1.5m58.5 0h1.5m10.5 0h1.5m22.5 0h1.5m13.5 0h1.5m21 0h1.5m9 0h1.5m7.5 0h1.5m3 0h3M904 2097.75h1.5m9 0h1.5m6 0h1.5m4.5 0h3m24 0h1.5m28.5 0h1.5m1.5 0h1.5m7.5 0h1.5m3 0h1.5m19.5 0h3m12 0h6m1.5 0h1.5m21 0h1.5m1.5 0h3m1.5 0h3m4.5 0h1.5m3 0h1.5m24 0h1.5M914.5 2099.25h4.5m4.5 0h1.5m3 0h1.5m13.5 0h1.5m1.5 0h1.5m13.5 0h1.5m15 0h1.5m6 0h1.5m9 0h1.5m3 0h4.5m10.5 0h3m1.5 0h1.5m1.5 0h3m3 0h1.5m4.5 0h3m6 0h1.5m1.5 0h1.5m4.5 0h1.5m3 0h1.5m43.5 0h1.5m15 0h1.5M916 2100.75h3m7.5 0h1.5m7.5 0h1.5m4.5 0h1.5m4.5 0h1.5m13.5 0h1.5m19.5 0h1.5m7.5 0h3m6 0h1.5m1.5 0h1.5m1.5 0h1.5m3 0h1.5m3 0h1.5m10.5 0h1.5m1.5 0h3m6 0h1.5m1.5 0h1.5m3 0h1.5m6 0h1.5m6 0h1.5m4.5 0h1.5M854.5 2102.25h1.5m70.5 0h1.5m9 0h1.5m4.5 0h1.5m18 0h1.5m3 0h1.5m9 0h1.5m1.5 0h1.5m12 0h1.5m4.5 0h1.5m3 0h4.5m4.5 0h3m7.5 0h6m9 0h3m10.5 0h1.5m19.5 0h1.5M919 2103.75h1.5m1.5 0h1.5m3 0h1.5m4.5 0h3m4.5 0h1.5m1.5 0h1.5m1.5 0h1.5m1.5 0h3m3 0h4.5m6 0h3m3 0h1.5m3 0h1.5m1.5 0h3m3 0h1.5m3 0h1.5m1.5 0h1.5m9 0h1.5m4.5 0h3m4.5 0h3m1.5 0h3m3 0h1.5m6 0h1.5m6 0h3M917.5 2105.25h1.5m6 0h3m6 0h1.5m4.5 0h3m4.5 0h3m9 0h1.5m3 0h4.5m7.5 0h1.5m24 0h1.5m13.5 0h1.5m1.5 0h1.5m22.5 0h4.5m15 0h1.5M928 2106.75h1.5m15 0h3m4.5 0h3m15 0h1.5m12 0h1.5m10.5 0h1.5m4.5 0h1.5m13.5 0h1.5m7.5 0h1.5m4.5 0h3m16.5 0h1.5m7.5 0h1.5M947.5 2108.25h1.5m4.5 0h1.5m3 0h1.5m12 0h1.5m4.5 0h3m4.5 0h3m22.5 0h1.5m9 0h1.5m6 0h1.5M914.5 2109.75h3m21 0h1.5m7.5 0h1.5m18 0h1.5m10.5 0h1.5m4.5 0h3m45 0h1.5m10.5 0h1.5M976 2111.25h1.5m1.5 0h1.5m1.5 0h1.5m3 0h1.5m3 0h1.5m34.5 0h1.5m3 0h1.5m28.5 0h3M928 2112.75h1.5m1.5 0h1.5m18 0h1.5m24 0h1.5M973 2114.25h1.5m82.5 0h1.5m31.5 0h1.5M887.5 2115.75h1.5m76.5 0h1.5m42 0h1.5M938.5 2117.25h1.5m18 0h1.5m67.5 0h1.5M955 2118.75h1.5m10.5 0h1.5M943 2120.25h1.5M898 2126.25h1.5m27 0h1.5m4.5 0h1.5M1003 2133.75h1.5M1052.5 2139.75h1.5M986.5 2141.25h1.5M976 2142.75h1.5m79.5 0h1.5M1001.5 2154.75h1.5M932.5 2156.25h1.5M998.5 2159.25h1.5" stroke="#2b2e90" stroke-width="1.5" fill="none"/>
<path d="M946 1973.25h1.5M944.5 1974.75h3M943 1976.25h1.5m10.5 0h1.5M950.5 1977.75h4.5M949 1979.25h3m24 0h1.5M941.5 1980.75h1.5m1.5 0h9m6 0h1.5m13.5 0h1.5m1.5 0h1.5M943 1982.25h7.5m7.5 0h6m10.5 0h1.5m1.5 0h1.5M943 1983.75h3m1.5 0h1.5m10.5 0h1.5m1.5 0h3m4.5 0h6m1.5 0h6M943 1985.25h1.5m18 0h1.5m6 0h4.5m1.5 0h1.5m3 0h1.5M946 1986.75h3M944.5 1988.25h3m15 0h3M946 1989.75h3m13.5 0h3M977.5 1991.25h3M941.5 1992.75h3m33 0h3M941.5 1994.25h1.5m19.5 0h1.5M959.5 1995.75h6M947.5 1997.25h3m7.5 0h1.5m4.5 0h1.5M947.5 1998.75h1.5m7.5 0h4.5m1.5 0h6M946 2000.25h6m4.5 0h1.5m4.5 0h1.5m1.5 0h1.5M949 2001.75h3m6 0h6m1.5 0h1.5M947.5 2003.25h1.5m7.5 0h1.5m13.5 0h1.5m4.5 0h4.5M949 2004.75h1.5m6 0h4.5m1.5 0h1.5m7.5 0h7.5m3 0h1.5M935.5 2006.25h1.5m12 0h1.5m4.5 0h4.5m1.5 0h1.5m16.5 0h1.5m3 0h1.5M934 2007.75h1.5m3 0h4.5m15 0h1.5m9 0h1.5m1.5 0h1.5m4.5 0h1.5m4.5 0h3m1.5 0h3M929.5 2009.25h3m6 0h1.5m1.5 0h1.5m16.5 0h1.5m9 0h3m1.5 0h1.5m9 0h3m1.5 0h1.5M928 2010.75h3m9 0h4.5m13.5 0h7.5m3 0h3m1.5 0h3m9 0h3M928 2012.25h3m10.5 0h1.5m4.5 0h1.5m3 0h6m3 0h4.5m3 0h3m1.5 0h6M947.5 2013.75h3m3 0h3m1.5 0h1.5m1.5 0h1.5m9 0h4.5m3 0h1.5m7.5 0h4.5m3 0h1.5m37.5 0h1.5M944.5 2015.25h4.5m7.5 0h4.5m12 0h1.5m1.5 0h4.5m9 0h4.5m1.5 0h1.5m22.5 0h1.5m12 0h4.5M932.5 2016.75h4.5m9 0h1.5m27 0h1.5m3 0h1.5m9 0h3m1.5 0h4.5m10.5 0h1.5m9 0h1.5m12 0h3M922 2018.25h1.5m7.5 0h1.5m1.5 0h1.5m37.5 0h3m1.5 0h1.5m16.5 0h1.5m3 0h1.5m6 0h4.5m3 0h1.5m4.5 0h1.5m7.5 0h4.5M919 2019.75h12m3 0h3m40.5 0h3m16.5 0h1.5m1.5 0h1.5m6 0h1.5m3 0h1.5m18 0h3M916 2021.25h3m3 0h1.5m75 0h3m1.5 0h4.5m13.5 0h12m6 0h3M916 2022.75h7.5m4.5 0h1.5m1.5 0h1.5m69 0h3m1.5 0h1.5m13.5 0h1.5m6 0h1.5m1.5 0h3m1.5 0h3m1.5 0h1.5M920.5 2024.25h4.5m96 0h4.5m3 0h1.5m1.5 0h1.5m1.5 0h3m1.5 0h1.5m1.5 0h1.5m3 0h3M922 2025.75h7.5m70.5 0h6m13.5 0h1.5m9 0h1.5m12 0h3M922 2027.25h4.5m73.5 0h1.5m15 0h3m9 0h1.5m4.5 0h1.5m3 0h3m3 0h1.5M925 2028.75h1.5m70.5 0h3m15 0h1.5m12 0h1.5m3 0h3m1.5 0h1.5m1.5 0h1.5m1.5 0h1.5M923.5 2030.25h4.5m63 0h3m1.5 0h4.5m30 0h1.5m3 0h1.5m1.5 0h4.5m3 0h1.5M923.5 2031.75h1.5m1.5 0h1.5m66 0h3m24 0h4.5m9 0h6m1.5 0h1.5m3 0h1.5M920.5 2033.25h1.5m1.5 0h1.5m70.5 0h3m15 0h1.5m6 0h1.5m1.5 0h1.5m13.5 0h1.5m1.5 0h1.5m1.5 0h3m1.5 0h1.5M917.5 2034.75h1.5m1.5 0h1.5m91.5 0h1.5m3 0h3m3 0h1.5m12 0h3m1.5 0h1.5m4.5 0h3M917.5 2036.25h1.5m91.5 0h3m4.5 0h3m6 0h1.5m10.5 0h1.5m1.5 0h3m1.5 0h1.5m1.5 0h1.5M916 2037.75h3m93 0h3m4.5 0h1.5m4.5 0h1.5m16.5 0h4.5M917.5 2039.25h3m3 0h3m75 0h3m1.5 0h1.5m9 0h7.5m1.5 0h1.5m10.5 0h1.5m3 0h7.5M916 2040.75h3m3 0h3m1.5 0h1.5m73.5 0h1.5m3 0h1.5m3 0h1.5m1.5 0h1.5m22.5 0h1.5m4.5 0h3M1009 2042.25h3m1.5 0h1.5m22.5 0h1.5m6 0h1.5m3 0h3M925 2043.75h1.5m75 0h1.5m4.5 0h4.5m1.5 0h1.5m28.5 0h9M922 2045.25h3m75 0h3m1.5 0h1.5m3 0h1.5m1.5 0h1.5m27 0h4.5m6 0h1.5M922 2046.75h1.5m81 0h6m3 0h1.5m22.5 0h1.5m4.5 0h3m6 0h1.5m15 0h3m1.5 0h1.5M920.5 2048.25h3m79.5 0h3m3 0h3m34.5 0h1.5m3 0h3m9 0h4.5m3 0h6M920.5 2049.75h3m4.5 0h1.5m76.5 0h4.5m15 0h1.5m6 0h3m10.5 0h1.5m3 0h3m9 0h6m6 0h3m9 0h3M920.5 2051.25h1.5m3 0h1.5m81 0h1.5m7.5 0h3m6 0h1.5m1.5 0h4.5m21 0h3m9 0h6m4.5 0h6M919 2052.75h3m1.5 0h1.5m79.5 0h1.5m1.5 0h3m6 0h12m4.5 0h1.5m18 0h4.5m1.5 0h1.5m4.5 0h4.5m6 0h1.5m1.5 0h3M916 2054.25h7.5m81 0h1.5m3 0h1.5m4.5 0h1.5m3 0h1.5m1.5 0h1.5m4.5 0h3m1.5 0h3m18 0h1.5m3 0h1.5m4.5 0h3m1.5 0h3m6 0h7.5M916 2055.75h1.5m3 0h1.5m87 0h1.5m3 0h1.5m3 0h3m1.5 0h1.5m3 0h1.5m1.5 0h3m7.5 0h1.5m1.5 0h3m6 0h1.5m1.5 0h3m1.5 0h1.5m1.5 0h3m3 0h1.5m3 0h4.5m6 0h1.5M917.5 2057.25h1.5m78 0h1.5m7.5 0h3m4.5 0h3m1.5 0h7.5m6 0h1.5m6 0h1.5m3 0h3m3 0h1.5m1.5 0h3m1.5 0h1.5m4.5 0h3m1.5 0h3m7.5 0h1.5M917.5 2058.75h1.5m3 0h1.5m73.5 0h1.5m16.5 0h1.5m1.5 0h4.5m16.5 0h1.5m3 0h1.5m4.5 0h1.5m1.5 0h4.5m4.5 0h3m13.5 0h3M917.5 2060.25h3m93 0h4.5m3 0h1.5m10.5 0h1.5m1.5 0h1.5m1.5 0h6m4.5 0h3m3 0h1.5m1.5 0h1.5m18 0h3m1.5 0h1.5M917.5 2061.75h1.5m1.5 0h1.5m93 0h6m1.5 0h1.5m10.5 0h6m3 0h1.5m7.5 0h1.5m3 0h4.5m1.5 0h3m12 0h1.5m1.5 0h4.5M920.5 2063.25h3m90 0h1.5m3 0h7.5m7.5 0h3m3 0h6m6 0h1.5m4.5 0h1.5m1.5 0h1.5m16.5 0h4.5M922 2064.75h1.5m88.5 0h1.5m1.5 0h4.5m13.5 0h3m9 0h1.5m3 0h1.5m6 0h1.5m19.5 0h3m1.5 0h1.5M920.5 2066.25h1.5m91.5 0h3m1.5 0h3m1.5 0h3m4.5 0h3m10.5 0h1.5m6 0h1.5m1.5 0h3m1.5 0h3m19.5 0h1.5m1.5 0h1.5M920.5 2067.75h1.5m96 0h1.5m1.5 0h1.5m1.5 0h1.5m18 0h1.5m3 0h3m1.5 0h1.5m3 0h1.5m19.5 0h1.5m3 0h4.5M920.5 2069.25h1.5m108 0h4.5m12 0h1.5m1.5 0h3m4.5 0h1.5m15 0h3m6 0h4.5M920.5 2070.75h1.5m109.5 0h1.5m12 0h4.5m13.5 0h1.5m10.5 0h3M920.5 2072.25h3m108 0h1.5m12 0h6m4.5 0h3m7.5 0h1.5M1028.5 2073.75h10.5m6 0h1.5m4.5 0h1.5m3 0h3m7.5 0h1.5m3 0h1.5m3 0h4.5M1031.5 2075.25h1.5m1.5 0h1.5m1.5 0h1.5m4.5 0h4.5m6 0h6m7.5 0h1.5m7.5 0h1.5m1.5 0h1.5M920.5 2076.75h1.5m78 0h1.5m27 0h3m3 0h1.5m7.5 0h4.5m6 0h3m9 0h4.5m7.5 0h3M922 2078.25h1.5m76.5 0h1.5m3 0h1.5m15 0h1.5m1.5 0h3m1.5 0h1.5m4.5 0h7.5m1.5 0h3m3 0h1.5m16.5 0h3m1.5 0h3m3 0h3M1022.5 2079.75h3m1.5 0h3m1.5 0h1.5m1.5 0h3m3 0h3m1.5 0h3m10.5 0h1.5m6 0h1.5m1.5 0h6m1.5 0h1.5m1.5 0h1.5M998.5 2081.25h1.5m1.5 0h1.5m1.5 0h1.5m19.5 0h1.5m3 0h1.5m4.5 0h1.5m1.5 0h3m6 0h3m9 0h3m1.5 0h1.5m1.5 0h1.5m1.5 0h6m1.5 0h1.5M922 2082.75h1.5m78 0h3m9 0h3m4.5 0h3m13.5 0h1.5m9 0h1.5m12 0h1.5m1.5 0h6m4.5 0h1.5m1.5 0h1.5M925 2084.25h1.5m69 0h1.5m3 0h3m9 0h1.5m4.5 0h1.5m1.5 0h4.5m10.5 0h3m7.5 0h4.5M983.5 2085.75h3m13.5 0h3m7.5 0h1.5m1.5 0h4.5m6 0h1.5m4.5 0h3m1.5 0h1.5m1.5 0h3m7.5 0h1.5M923.5 2087.25h4.5m54 0h1.5m13.5 0h1.5m1.5 0h1.5m9 0h1.5m9 0h6m6 0h1.5m1.5 0h3M922 2088.75h1.5m1.5 0h1.5m3 0h3m54 0h1.5m6 0h1.5m1.5 0h3m1.5 0h1.5m6 0h1.5m7.5 0h1.5m1.5 0h3m3 0h1.5m9 0h1.5m1.5 0h1.5M922 2090.25h1.5m4.5 0h1.5m7.5 0h3m6 0h3m37.5 0h1.5m7.5 0h6m6 0h1.5m13.5 0h1.5m13.5 0h1.5m3 0h1.5M923.5 2091.75h1.5m6 0h1.5m7.5 0h1.5m3 0h1.5m3 0h1.5m37.5 0h1.5m7.5 0h4.5m6 0h1.5m9 0h6m1.5 0h1.5m13.5 0h3M923.5 2093.25h1.5m3 0h1.5m1.5 0h1.5m13.5 0h3m6 0h1.5m30 0h1.5m9 0h1.5m1.5 0h3m16.5 0h1.5m1.5 0h1.5m3 0h1.5m9 0h3m1.5 0h1.5M923.5 2094.75h4.5m1.5 0h1.5m6 0h3m6 0h1.5m4.5 0h1.5m33 0h4.5m1.5 0h1.5m1.5 0h1.5m6 0h1.5m12 0h4.5m3 0h4.5m6 0h1.5m1.5 0h1.5m1.5 0h3M917.5 2096.25h1.5m12 0h1.5m7.5 0h4.5m1.5 0h1.5m10.5 0h4.5m27 0h7.5m7.5 0h4.5m7.5 0h4.5m4.5 0h9M931 2097.75h3m4.5 0h1.5m4.5 0h4.5m1.5 0h4.5m3 0h4.5m9 0h1.5m3 0h4.5m1.5 0h3m7.5 0h3m7.5 0h3m1.5 0h6m4.5 0h1.5m9 0h3m1.5 0h1.5M934 2099.25h9m7.5 0h3m3 0h1.5m4.5 0h1.5m1.5 0h3m1.5 0h3m1.5 0h1.5m6 0h3m7.5 0h3m15 0h1.5m1.5 0h1.5m15 0h1.5M950.5 2100.75h7.5m6 0h1.5m1.5 0h9M949 2102.25h3m1.5 0h3m16.5 0h1.5" stroke="#313aa2" stroke-width="1.5" fill="none"/>
<path d="M958 2003.25h1.5M973 2006.25h3m4.5 0h3M974.5 2007.75h1.5m3 0h4.5M935.5 2009.25h3m40.5 0h4.5M931 2010.75h1.5m1.5 0h1.5m1.5 0h3m36 0h4.5m1.5 0h1.5M931 2012.25h3m1.5 0h3m1.5 0h1.5m37.5 0h4.5m1.5 0h1.5M931 2013.75h7.5m1.5 0h3m19.5 0h3m1.5 0h4.5m10.5 0h6M932.5 2015.25h4.5m1.5 0h1.5m3 0h1.5m4.5 0h7.5m4.5 0h1.5m7.5 0h1.5m9 0h1.5M938.5 2016.75h1.5m7.5 0h1.5m1.5 0h4.5m1.5 0h1.5m1.5 0h1.5m10.5 0h1.5m7.5 0h3m3 0h3m27 0h3M938.5 2018.25h6m1.5 0h4.5m1.5 0h3m1.5 0h1.5m13.5 0h1.5m9 0h3m1.5 0h4.5m1.5 0h3m21 0h3M941.5 2019.75h1.5m1.5 0h4.5m6 0h1.5m13.5 0h1.5m1.5 0h3m4.5 0h1.5m1.5 0h12m13.5 0h1.5m4.5 0h1.5m1.5 0h1.5M919 2021.25h3m10.5 0h7.5m3 0h1.5m24 0h1.5m1.5 0h1.5m3 0h1.5m3 0h7.5m1.5 0h1.5m1.5 0h1.5m3 0h1.5m9 0h7.5m1.5 0h1.5m1.5 0h1.5M932.5 2022.75h1.5m45 0h4.5m6 0h10.5m7.5 0h1.5m6 0h1.5m1.5 0h3M931 2024.25h1.5m57 0h7.5m1.5 0h3m7.5 0h3m3 0h6m4.5 0h3M929.5 2025.75h1.5m1.5 0h1.5m57 0h6m1.5 0h1.5m6 0h3m1.5 0h1.5m3 0h1.5m6 0h3m1.5 0h1.5m7.5 0h4.5M928 2027.25h3m61.5 0h4.5m6 0h7.5m1.5 0h4.5m3 0h1.5m1.5 0h6m7.5 0h3M928 2028.75h1.5m60 0h3m1.5 0h1.5m4.5 0h6m4.5 0h1.5m7.5 0h1.5m1.5 0h6m7.5 0h1.5M1000 2030.25h1.5m4.5 0h1.5m1.5 0h6m3 0h3m1.5 0h7.5M928 2031.75h1.5m57 0h1.5m10.5 0h4.5m6 0h10.5m7.5 0h3m1.5 0h1.5m7.5 0h1.5M926.5 2033.25h3m58.5 0h7.5m4.5 0h1.5m13.5 0h3m9 0h1.5m4.5 0h3m4.5 0h1.5M925 2034.75h1.5m66 0h1.5m4.5 0h1.5m15 0h1.5m10.5 0h1.5m6 0h3M919 2036.25h1.5m1.5 0h4.5m67.5 0h12m10.5 0h1.5m10.5 0h1.5m6 0h1.5M919 2037.75h6m81 0h4.5m18 0h1.5m6 0h1.5M926.5 2039.25h1.5m60 0h1.5m10.5 0h1.5m6 0h4.5m15 0h1.5M928 2040.75h1.5m57 0h1.5m21 0h1.5m4.5 0h3m4.5 0h4.5m9 0h1.5M998.5 2042.25h1.5m16.5 0h10.5m1.5 0h1.5m6 0h1.5M928 2043.75h1.5m58.5 0h3m7.5 0h1.5m16.5 0h1.5m6 0h1.5m1.5 0h6m3 0h1.5M925 2045.25h4.5m67.5 0h1.5m16.5 0h3m6 0h1.5m6 0h1.5m1.5 0h3M923.5 2046.75h6m67.5 0h1.5m1.5 0h1.5m13.5 0h1.5m1.5 0h1.5m6 0h1.5m4.5 0h6M923.5 2048.25h3m73.5 0h3m9 0h7.5m7.5 0h1.5m1.5 0h4.5m1.5 0h1.5m1.5 0h3m3 0h1.5M1010.5 2049.75h9m1.5 0h4.5m1.5 0h1.5m1.5 0h1.5m4.5 0h1.5M926.5 2051.25h3m75 0h3m3 0h1.5m1.5 0h1.5m6 0h4.5m10.5 0h1.5m7.5 0h1.5m3 0h4.5M925 2052.75h3m75 0h1.5m6 0h4.5m21 0h1.5m6 0h7.5M925 2054.25h1.5m85.5 0h3m25.5 0h1.5m1.5 0h7.5M923.5 2055.75h1.5m85.5 0h1.5m22.5 0h4.5m9 0h1.5m21 0h1.5M922 2057.25h3m66 0h3m4.5 0h1.5m3 0h3m4.5 0h3m12 0h3m6 0h4.5m9 0h1.5m10.5 0h3M923.5 2058.75h1.5m67.5 0h3m4.5 0h7.5m1.5 0h4.5m9 0h1.5m1.5 0h6m1.5 0h6m6 0h4.5m9 0h3m13.5 0h3M923.5 2060.25h3m55.5 0h1.5m15 0h1.5m6 0h4.5m12 0h3m1.5 0h6m13.5 0h3m19.5 0h3m1.5 0h4.5M923.5 2061.75h1.5m70.5 0h1.5m13.5 0h3m10.5 0h6m15 0h3m19.5 0h1.5m4.5 0h3M1010.5 2063.25h3m13.5 0h3m15 0h4.5m12 0h3M923.5 2064.75h1.5m72 0h1.5m12 0h1.5m13.5 0h4.5m7.5 0h1.5m1.5 0h1.5m4.5 0h3m27 0h1.5M922 2066.25h3m70.5 0h1.5m1.5 0h1.5m9 0h3m15 0h3m3 0h1.5m6 0h1.5m4.5 0h3m12 0h1.5m13.5 0h1.5M995.5 2067.75h1.5m1.5 0h3m6 0h6m13.5 0h4.5m1.5 0h3m27 0h1.5m7.5 0h3m1.5 0h1.5M923.5 2069.25h1.5m60 0h3m10.5 0h1.5m1.5 0h6m1.5 0h1.5m3 0h4.5m1.5 0h3m1.5 0h6m4.5 0h1.5m6 0h3m16.5 0h3m1.5 0h1.5m3 0h3M922 2070.75h1.5m1.5 0h1.5m1.5 0h3m76.5 0h1.5m1.5 0h1.5m1.5 0h1.5m9 0h3m9 0h1.5m4.5 0h1.5m15 0h4.5m7.5 0h1.5M923.5 2072.25h4.5m1.5 0h1.5m55.5 0h1.5m7.5 0h1.5m9 0h4.5m1.5 0h1.5m1.5 0h3m7.5 0h1.5m15 0h3m13.5 0h4.5m4.5 0h3M923.5 2073.75h1.5m3 0h1.5m61.5 0h3m13.5 0h3m1.5 0h1.5m1.5 0h1.5m10.5 0h1.5m10.5 0h4.5m18 0h4.5m3 0h1.5M922 2075.25h1.5m3 0h3m61.5 0h1.5m1.5 0h7.5m4.5 0h6m3 0h1.5m1.5 0h1.5m6 0h3m12 0h1.5m6 0h4.5m7.5 0h1.5m1.5 0h1.5M997 2076.75h1.5m3 0h6m1.5 0h1.5m4.5 0h3m1.5 0h1.5m1.5 0h3m7.5 0h1.5m4.5 0h4.5m6 0h3m7.5 0h6M997 2078.25h1.5m7.5 0h1.5m1.5 0h6m3 0h3m10.5 0h3m25.5 0h6M923.5 2079.75h1.5m72 0h1.5m7.5 0h9m1.5 0h4.5m40.5 0h1.5M923.5 2081.25h1.5m72 0h1.5m9 0h3m1.5 0h1.5m3 0h4.5M925 2082.75h4.5m45 0h6m25.5 0h7.5m3 0h3m6 0h3m15 0h1.5M928 2084.25h3m1.5 0h1.5m1.5 0h1.5m15 0h3m22.5 0h4.5m1.5 0h1.5m18 0h4.5m3 0h1.5m13.5 0h3m12 0h1.5m3 0h1.5M928 2085.75h4.5m1.5 0h3m18 0h1.5m21 0h1.5m1.5 0h1.5m12 0h1.5m10.5 0h3m3 0h1.5m12 0h1.5M928 2087.25h4.5m1.5 0h1.5m1.5 0h1.5m6 0h1.5m4.5 0h3m1.5 0h1.5m22.5 0h3m6 0h3m3 0h1.5m7.5 0h1.5m1.5 0h3m4.5 0h1.5m15 0h3m7.5 0h4.5M934 2088.75h3m1.5 0h1.5m3 0h1.5m1.5 0h3m3 0h1.5m1.5 0h1.5m24 0h1.5m1.5 0h1.5m4.5 0h4.5m9 0h1.5m1.5 0h1.5m4.5 0h1.5m1.5 0h3m10.5 0h3m1.5 0h4.5M925 2090.25h1.5m6 0h3m4.5 0h1.5m9 0h4.5m30 0h1.5m3 0h3m1.5 0h1.5m7.5 0h3m10.5 0h1.5m10.5 0h9M925 2091.75h3m4.5 0h4.5m13.5 0h6m4.5 0h3m6 0h1.5m13.5 0h1.5m3 0h6m7.5 0h1.5m4.5 0h3m3 0h3m9 0h4.5m1.5 0h1.5m1.5 0h1.5M925 2093.25h3m4.5 0h4.5m4.5 0h3m4.5 0h1.5m1.5 0h3m1.5 0h4.5m1.5 0h1.5m4.5 0h1.5m1.5 0h1.5m10.5 0h3m3 0h4.5m10.5 0h1.5m1.5 0h3m3 0h3m13.5 0h4.5M932.5 2094.75h3m4.5 0h6m4.5 0h1.5m9 0h3m4.5 0h1.5m1.5 0h1.5m9 0h1.5m21 0h7.5m1.5 0h1.5m16.5 0h3M932.5 2096.25h1.5m1.5 0h1.5m1.5 0h1.5m7.5 0h4.5m16.5 0h1.5m1.5 0h3m3 0h4.5m28.5 0h1.5m1.5 0h1.5M934 2097.75h4.5m25.5 0h4.5" stroke="#374bb0" stroke-width="1.5" fill="none"/>
<path d="M934 2012.25h1.5M940 2015.25h3m21 0h3m1.5 0h1.5m13.5 0h3M940 2016.75h3m19.5 0h3m4.5 0h1.5m13.5 0h1.5M958 2018.25h1.5M949 2019.75h4.5m13.5 0h1.5M944.5 2021.25h6m3 0h3m10.5 0h1.5m4.5 0h3M934 2022.75h7.5m28.5 0h6m10.5 0h1.5m22.5 0h4.5M934 2024.25h3m34.5 0h3m4.5 0h10.5m22.5 0h3M934 2025.75h1.5m45 0h4.5m3 0h1.5m22.5 0h1.5M932.5 2027.25h3m43.5 0h6m4.5 0h1.5M929.5 2028.75h1.5m25.5 0h1.5m22.5 0h3m3 0h3M929.5 2030.25h1.5m49.5 0h1.5m1.5 0h4.5m15 0h3M955 2031.75h1.5m25.5 0h1.5m19.5 0h6M986.5 2033.25h1.5m13.5 0h1.5m4.5 0h1.5m19.5 0h4.5M986.5 2034.75h4.5m10.5 0h1.5m1.5 0h1.5m1.5 0h1.5m21 0h4.5M926.5 2036.25h1.5m58.5 0h4.5m1.5 0h1.5m13.5 0h1.5m22.5 0h4.5M926.5 2037.75h1.5m57 0h4.5m4.5 0h4.5m1.5 0h1.5m30 0h4.5M928 2039.25h1.5m55.5 0h1.5m3 0h1.5m7.5 0h1.5m28.5 0h1.5m3 0h1.5M929.5 2040.75h1.5m54 0h1.5m4.5 0h1.5m6 0h1.5m28.5 0h1.5m4.5 0h1.5M929.5 2042.25h1.5m54 0h3m3 0h3m37.5 0h4.5M929.5 2043.75h1.5m55.5 0h1.5m3 0h3m3 0h1.5m19.5 0h1.5m1.5 0h1.5M929.5 2045.25h1.5m57 0h1.5m1.5 0h1.5m3 0h1.5m21 0h6m4.5 0h1.5M994 2046.75h3m22.5 0h4.5m3 0h4.5M995.5 2048.25h4.5m19.5 0h4.5m4.5 0h1.5M931 2049.75h1.5m64.5 0h3m1.5 0h1.5m34.5 0h7.5M929.5 2051.25h3m69 0h1.5m34.5 0h1.5m3 0h1.5M928 2052.75h3m3 0h1.5m66 0h1.5m34.5 0h1.5m1.5 0h3M926.5 2054.25h1.5m1.5 0h6m60 0h3m39 0h3M925 2055.75h6m58.5 0h3m6 0h4.5M925 2057.25h3m58.5 0h4.5m79.5 0h3M925 2058.75h4.5m51 0h1.5m1.5 0h4.5m1.5 0h3m78 0h4.5M980.5 2060.25h1.5m4.5 0h1.5m1.5 0h1.5m1.5 0h3m7.5 0h1.5m67.5 0h1.5M926.5 2061.75h1.5m52.5 0h3m1.5 0h1.5m6 0h1.5m3 0h13.5M925 2063.25h1.5m9 0h1.5m45 0h4.5m6 0h1.5m3 0h4.5m6 0h3m54 0h4.5m1.5 0h1.5m1.5 0h1.5M925 2064.75h1.5m9 0h3m46.5 0h1.5m6 0h1.5m6 0h3m3 0h3m54 0h1.5m9 0h3M925 2066.25h1.5m9 0h1.5m49.5 0h1.5m6 0h1.5m4.5 0h9m28.5 0h3m22.5 0h1.5m10.5 0h1.5M923.5 2067.75h6m55.5 0h3m16.5 0h3m28.5 0h1.5m1.5 0h3m24 0h6M925 2069.25h7.5m60 0h3m1.5 0h1.5m12 0h3m22.5 0h1.5m3 0h1.5M983.5 2070.75h1.5m6 0h1.5m3 0h4.5m3 0h1.5m12 0h7.5m13.5 0h4.5m27 0h1.5M950.5 2072.25h1.5m36 0h3m6 0h6m1.5 0h1.5m12 0h1.5m3 0h3M929.5 2073.75h1.5m4.5 0h1.5m51 0h3m6 0h1.5m1.5 0h7.5m10.5 0h3m1.5 0h1.5m1.5 0h1.5M923.5 2075.25h3m7.5 0h6m46.5 0h4.5m13.5 0h1.5m6 0h3m4.5 0h6M923.5 2076.75h3m9 0h1.5m1.5 0h3m39 0h1.5m3 0h1.5m3 0h3m1.5 0h1.5m16.5 0h3M923.5 2078.25h4.5m7.5 0h1.5m1.5 0h1.5m40.5 0h3m1.5 0h12M925 2079.75h1.5m9 0h4.5m21 0h1.5m9 0h3m6 0h1.5m3 0h1.5m9 0h1.5M925 2081.25h4.5m6 0h3m1.5 0h1.5m13.5 0h1.5m3 0h7.5m3 0h3m3 0h1.5m3 0h3m12 0h1.5M929.5 2082.75h1.5m1.5 0h3m1.5 0h7.5m7.5 0h4.5m4.5 0h3m3 0h6m7.5 0h3m10.5 0h1.5M937 2084.25h1.5m1.5 0h3m1.5 0h1.5m18 0h3m1.5 0h9m7.5 0h3m54 0h3M937 2085.75h1.5m1.5 0h7.5m3 0h1.5m4.5 0h1.5m7.5 0h1.5m1.5 0h4.5m1.5 0h1.5m12 0h3m51 0h3M938.5 2087.25h6m1.5 0h1.5m1.5 0h1.5m16.5 0h1.5m1.5 0h1.5m1.5 0h1.5m1.5 0h3m12 0h1.5m12 0h1.5M941.5 2088.75h1.5m15 0h1.5m1.5 0h1.5m4.5 0h3m1.5 0h3m1.5 0h4.5m24 0h1.5m7.5 0h1.5M955 2090.25h6m1.5 0h1.5m1.5 0h13.5m1.5 0h4.5m27 0h4.5M956.5 2091.75h4.5m3 0h3m1.5 0h1.5m1.5 0h3m4.5 0h3m1.5 0h1.5m28.5 0h1.5M965.5 2093.25h3m4.5 0h1.5m1.5 0h1.5m1.5 0h4.5m28.5 0h1.5M964 2094.75h1.5m1.5 0h1.5m4.5 0h1.5m1.5 0h1.5m1.5 0h3m30 0h1.5M964 2096.25h4.5m6 0h3" stroke="#3e5cbd" stroke-width="1.5" fill="none"/>
<path d="M965.5 2016.75h4.5M959.5 2018.25h4.5m1.5 0h4.5M958 2019.75h1.5m4.5 0h3M950.5 2021.25h3m4.5 0h1.5m6 0h1.5M941.5 2022.75h1.5m1.5 0h1.5m1.5 0h3m3 0h3m7.5 0h4.5M955 2024.25h3m4.5 0h1.5m6 0h1.5m3 0h4.5M935.5 2025.75h1.5m37.5 0h1.5m1.5 0h1.5m6 0h3M935.5 2027.25h1.5m19.5 0h4.5m12 0h3m1.5 0h1.5m6 0h4.5M931 2028.75h3m1.5 0h1.5m16.5 0h1.5m3 0h3m16.5 0h1.5m6 0h1.5M934 2030.25h1.5m22.5 0h4.5m16.5 0h1.5M929.5 2031.75h1.5m25.5 0h3m19.5 0h3M929.5 2033.25h1.5m21 0h4.5m15 0h1.5m7.5 0h6m18 0h3M952 2034.75h3m15 0h3m12 0h1.5m19.5 0h1.5M928 2036.25h1.5m6 0h1.5m33 0h1.5m12 0h3M928 2037.75h3m4.5 0h1.5m46.5 0h1.5m4.5 0h4.5M929.5 2039.25h1.5m52.5 0h1.5m6 0h3m1.5 0h3m31.5 0h3M982 2040.75h3m7.5 0h4.5m34.5 0h3M982 2042.25h3m9 0h4.5M985 2043.75h1.5m7.5 0h3M931 2045.25h1.5m54 0h1.5m4.5 0h3M931 2046.75h1.5m19.5 0h1.5m34.5 0h4.5M932.5 2048.25h1.5m58.5 0h3M932.5 2049.75h4.5m57 0h3M932.5 2051.25h6m57 0h6m37.5 0h3M931 2052.75h1.5m3 0h3m57 0h3m1.5 0h1.5m37.5 0h1.5M935.5 2054.25h1.5m40.5 0h1.5m9 0h3m1.5 0h3m3 0h3M932.5 2055.75h4.5m39 0h3m7.5 0h3M929.5 2057.25h1.5m3 0h3m39 0h7.5m1.5 0h1.5M929.5 2058.75h1.5m4.5 0h3m40.5 0h1.5M929.5 2060.25h1.5m3 0h4.5M928 2061.75h7.5m1.5 0h1.5m40.5 0h1.5m6 0h6M926.5 2063.25h1.5m6 0h1.5m1.5 0h1.5m48 0h1.5m3 0h1.5m9 0h4.5m63 0h1.5M926.5 2064.75h1.5m10.5 0h1.5m46.5 0h3m1.5 0h1.5m12 0h1.5m58.5 0h3m3 0h3M926.5 2066.25h3m4.5 0h1.5m1.5 0h1.5m43.5 0h1.5m4.5 0h3m1.5 0h1.5m70.5 0h7.5M931 2067.75h6m33 0h1.5m10.5 0h1.5m4.5 0h3m1.5 0h1.5m43.5 0h1.5M932.5 2069.25h1.5m36 0h1.5m10.5 0h1.5m6 0h3m45 0h3M932.5 2070.75h3m13.5 0h3m27 0h4.5m6 0h1.5M932.5 2072.25h4.5m46.5 0h1.5m34.5 0h1.5M931 2073.75h3m18 0h1.5m24 0h1.5m6 0h1.5m34.5 0h1.5M931 2075.25h3m18 0h3m18 0h3m1.5 0h3m4.5 0h1.5M929.5 2076.75h4.5m7.5 0h1.5m9 0h3m16.5 0h4.5m1.5 0h3m1.5 0h3M928 2078.25h3m1.5 0h3m4.5 0h1.5m12 0h3m6 0h3m6 0h1.5m1.5 0h1.5M926.5 2079.75h3m4.5 0h1.5m4.5 0h3m10.5 0h7.5m4.5 0h1.5m3 0h1.5m4.5 0h3m9 0h7.5M929.5 2081.25h1.5m3 0h1.5m7.5 0h1.5m7.5 0h1.5m4.5 0h1.5m7.5 0h1.5m15 0h9m1.5 0h1.5M944.5 2082.75h1.5m4.5 0h1.5m4.5 0h3m24 0h4.5m1.5 0h1.5M946 2084.25h1.5m3 0h1.5m4.5 0h1.5m3 0h3m24 0h3m1.5 0h1.5M947.5 2085.75h3m12 0h3m7.5 0h1.5m16.5 0h1.5M958 2087.25h9M964 2088.75h3M982 2091.75h1.5M974.5 2093.25h1.5M965.5 2094.75h1.5m7.5 0h1.5" stroke="#4573c7" stroke-width="1.5" fill="none"/>
<path d="M962.5 2019.75h1.5M962.5 2021.25h3M950.5 2022.75h3m6 0h3M940 2024.25h7.5m6 0h1.5m4.5 0h3m3 0h4.5M937 2025.75h1.5m6 0h1.5m1.5 0h1.5m4.5 0h10.5m1.5 0h1.5m3 0h1.5m4.5 0h1.5M943 2027.25h4.5m6 0h3m6 0h1.5m7.5 0h1.5m3 0h1.5M941.5 2028.75h3m1.5 0h1.5m15 0h1.5m7.5 0h6M931 2030.25h3m1.5 0h3m3 0h4.5m6 0h1.5m9 0h1.5m6 0h9M931 2031.75h1.5m1.5 0h12m6 0h1.5m6 0h4.5m3 0h3m1.5 0h1.5m1.5 0h3M931 2033.25h1.5m1.5 0h4.5m1.5 0h1.5m15 0h3m9 0h1.5m3 0h1.5m3 0h3M931 2034.75h10.5m9 0h1.5m3 0h3m10.5 0h1.5m3 0h1.5m6 0h3M929.5 2036.25h6m1.5 0h3m10.5 0h6m12 0h1.5m1.5 0h6m4.5 0h1.5M931 2037.75h4.5m3 0h1.5m12 0h3m13.5 0h9m4.5 0h1.5M931 2039.25h6m31.5 0h3m9 0h3M931 2040.75h1.5m48 0h1.5M931 2042.25h1.5m46.5 0h3M931 2043.75h1.5m45 0h3m1.5 0h3M932.5 2045.25h1.5m18 0h1.5m22.5 0h3m6 0h1.5M932.5 2046.75h1.5m1.5 0h4.5m10.5 0h1.5m24 0h3m7.5 0h1.5M934 2048.25h6m10.5 0h1.5m36 0h3M938.5 2049.75h1.5m49.5 0h4.5M938.5 2051.25h1.5m48 0h1.5m3 0h3M938.5 2052.75h1.5m48 0h7.5M937 2054.25h1.5m34.5 0h3m3 0h3m4.5 0h1.5M937 2055.75h1.5m42 0h3m1.5 0h1.5M932.5 2057.25h1.5m40.5 0h1.5M931 2058.75h4.5m40.5 0h1.5M931 2060.25h1.5m12 0h3m30 0h1.5M977.5 2061.75h1.5M928 2063.25h6m4.5 0h1.5m37.5 0h1.5m10.5 0h1.5M928 2064.75h1.5m3 0h1.5m36 0h3m6 0h3m87 0h1.5M929.5 2066.25h4.5m4.5 0h1.5m28.5 0h4.5m7.5 0h1.5M937 2067.75h1.5m30 0h1.5m1.5 0h1.5M934 2069.25h3m10.5 0h4.5m19.5 0h1.5m6 0h1.5M935.5 2070.75h1.5m10.5 0h1.5m3 0h1.5m15 0h4.5m4.5 0h1.5M937 2072.25h1.5m18 0h4.5m7.5 0h4.5m3 0h7.5M938.5 2073.75h6m9 0h3m1.5 0h1.5m9 0h9m3 0h4.5M950.5 2075.25h1.5m3 0h3m6 0h7.5m4.5 0h1.5m3 0h4.5M955 2076.75h1.5m6 0h6m1.5 0h1.5m4.5 0h1.5M931 2078.25h1.5m9 0h1.5m16.5 0h3m4.5 0h4.5m4.5 0h3M929.5 2079.75h4.5m18 0h1.5m13.5 0h3M931 2081.25h3m10.5 0h1.5m4.5 0h1.5m40.5 0h1.5M946 2082.75h1.5m1.5 0h1.5m40.5 0h3M947.5 2084.25h3m7.5 0h3m30 0h1.5M958 2085.75h1.5m1.5 0h1.5" stroke="#4b8ccd" stroke-width="1.5" fill="none"/>
<path d="M959.5 2019.75h3M959.5 2021.25h3M950.5 2024.25h3M938.5 2025.75h6m4.5 0h1.5m16.5 0h3M937 2027.25h1.5m1.5 0h3m4.5 0h1.5m15 0h3m3 0h1.5M937 2028.75h4.5m6 0h1.5m3 0h1.5m10.5 0h7.5M938.5 2030.25h3m6 0h1.5m1.5 0h1.5m12 0h3M932.5 2031.75h1.5m12 0h3m1.5 0h1.5m12 0h3M932.5 2033.25h1.5m7.5 0h10.5m7.5 0h9m6 0h3M941.5 2034.75h1.5m4.5 0h1.5m9 0h1.5m15 0h6M947.5 2036.25h3m6 0h1.5m7.5 0h3m12 0h1.5M940 2037.75h1.5m7.5 0h3m3 0h1.5m7.5 0h3m10.5 0h4.5M938.5 2039.25h1.5m10.5 0h6m10.5 0h1.5m3 0h9M932.5 2040.75h3m15 0h7.5m10.5 0h3m4.5 0h4.5M932.5 2042.25h1.5m18 0h3m1.5 0h3m9 0h1.5m6 0h3M932.5 2043.75h3m16.5 0h3m21 0h1.5M937 2045.25h1.5m1.5 0h1.5m9 0h1.5m1.5 0h1.5m19.5 0h1.5m4.5 0h4.5M940 2046.75h1.5m12 0h1.5m19.5 0h1.5m3 0h1.5M940 2048.25h1.5m7.5 0h1.5m3 0h1.5m21 0h3m7.5 0h1.5M940 2049.75h1.5m46.5 0h1.5M940 2051.25h3m6 0h3m34.5 0h1.5M940 2052.75h1.5m6 0h3m24 0h9m3 0h1.5M938.5 2054.25h1.5m42 0h1.5M938.5 2055.75h1.5m33 0h1.5m9 0h1.5M938.5 2057.25h1.5M938.5 2058.75h1.5m4.5 0h3m27 0h1.5M938.5 2060.25h1.5m7.5 0h4.5m24 0h1.5M938.5 2061.75h1.5m3 0h1.5m1.5 0h3m1.5 0h6m19.5 0h1.5M940 2063.25h10.5m1.5 0h1.5m16.5 0h1.5m1.5 0h1.5m1.5 0h1.5M929.5 2064.75h3m7.5 0h6m1.5 0h1.5m19.5 0h1.5m3 0h6M940 2066.25h1.5m1.5 0h4.5m1.5 0h1.5m16.5 0h1.5m4.5 0h1.5m4.5 0h1.5M938.5 2067.75h1.5m3 0h3m21 0h1.5m10.5 0h1.5M937 2069.25h1.5m4.5 0h4.5m4.5 0h1.5m13.5 0h1.5m9 0h1.5M937 2070.75h1.5m15 0h1.5m1.5 0h3m16.5 0h1.5M938.5 2072.25h1.5m3 0h1.5m3 0h1.5m6 0h1.5m10.5 0h1.5m4.5 0h3M949 2073.75h1.5m10.5 0h1.5m3 0h3M958 2075.25h1.5m1.5 0h3M943 2076.75h1.5m6 0h1.5m4.5 0h1.5m3 0h1.5m6 0h1.5M943 2078.25h1.5m6 0h1.5m6 0h1.5M950.5 2079.75h1.5M947.5 2081.25h3M947.5 2082.75h1.5M959.5 2085.75h1.5" stroke="#52a5d1" stroke-width="1.5" fill="none"/>
<path d="M950.5 2025.75h3M938.5 2027.25h1.5m9 0h4.5m13.5 0h3M949 2028.75h3M949 2030.25h1.5M949 2031.75h1.5M943 2034.75h3m13.5 0h4.5m1.5 0h1.5M941.5 2036.25h1.5m3 0h1.5m15 0h3m13.5 0h1.5M941.5 2037.75h1.5m3 0h3m7.5 0h1.5m4.5 0h1.5M940 2039.25h1.5m7.5 0h1.5m6 0h1.5m6 0h3M935.5 2040.75h4.5m9 0h1.5m7.5 0h1.5m7.5 0h1.5m3 0h1.5m1.5 0h1.5M934 2042.25h1.5m13.5 0h3m18 0h1.5M935.5 2043.75h6m9 0h1.5m3 0h4.5m9 0h3m3 0h1.5M968.5 2045.25h6M949 2046.75h1.5m22.5 0h1.5m6 0h1.5m3 0h1.5M941.5 2048.25h1.5m30 0h1.5m4.5 0h3m3 0h1.5M941.5 2049.75h1.5m9 0h1.5m10.5 0h4.5m6 0h9m1.5 0h3M947.5 2051.25h1.5m16.5 0h1.5m12 0h7.5M941.5 2052.75h3m1.5 0h1.5m3 0h1.5m12 0h1.5m7.5 0h1.5m9 0h3M940 2054.25h1.5m4.5 0h3m22.5 0h1.5m10.5 0h3M971.5 2055.75h1.5M944.5 2057.25h3m25.5 0h1.5M943 2058.75h1.5m3 0h1.5M952 2060.25h6m16.5 0h1.5M940 2061.75h3m13.5 0h1.5m15 0h3M950.5 2063.25h1.5m1.5 0h4.5m10.5 0h1.5M946 2064.75h1.5m1.5 0h3m15 0h1.5M950.5 2066.25h1.5m13.5 0h1.5m7.5 0h4.5M940 2067.75h3m7.5 0h1.5m13.5 0h1.5m6 0h1.5m3 0h1.5M938.5 2069.25h1.5m25.5 0h1.5m6 0h1.5M943 2070.75h4.5m7.5 0h1.5m3 0h1.5m6 0h1.5m4.5 0h3M940 2072.25h3m1.5 0h3m13.5 0h1.5m3 0h1.5M944.5 2073.75h1.5m16.5 0h3M949 2075.25h1.5m9 0h1.5M949 2076.75h1.5m7.5 0h3M949 2078.25h1.5M944.5 2079.75h6" stroke="#5dbecb" stroke-width="1.5" fill="none"/>
<path d="M943 2036.25h1.5m13.5 0h1.5m1.5 0h1.5M943 2037.75h3M941.5 2039.25h1.5m3 0h1.5m15 0h1.5M940 2040.75h1.5m4.5 0h3m24 0h1.5M935.5 2042.25h6m4.5 0h3m10.5 0h1.5m6 0h1.5m3 0h1.5m1.5 0h1.5M944.5 2043.75h6m16.5 0h1.5m3 0h3M941.5 2045.25h1.5m3 0h4.5m4.5 0h1.5M968.5 2046.75h4.5m9 0h3M967 2048.25h6m9 0h3M953.5 2049.75h1.5m7.5 0h1.5m6 0h4.5m9 0h1.5M952 2051.25h1.5m9 0h1.5m3 0h12M944.5 2052.75h1.5m6 0h1.5m9 0h1.5m1.5 0h6M941.5 2054.25h4.5m4.5 0h1.5m12 0h3m3 0h1.5M940 2055.75h1.5m3 0h1.5m16.5 0h4.5M947.5 2057.25h1.5m13.5 0h3M949 2058.75h1.5m1.5 0h6m15 0h1.5M940 2060.25h3m15 0h1.5M958 2061.75h1.5m10.5 0h3M958 2063.25h1.5m7.5 0h1.5M952 2064.75h6m7.5 0h1.5M952 2066.25h1.5m1.5 0h1.5m7.5 0h1.5M952 2067.75h6m6 0h1.5m9 0h3M940 2069.25h3m10.5 0h3m1.5 0h1.5m4.5 0h1.5m9 0h3M938.5 2070.75h1.5m1.5 0h1.5m18 0h1.5m3 0h1.5M962.5 2072.25h3M947.5 2073.75h1.5M944.5 2075.25h1.5M944.5 2078.25h4.5" stroke="#74d2ad" stroke-width="1.5" fill="none"/>
<path d="M959.5 2036.25h1.5M958 2037.75h1.5m1.5 0h1.5M943 2039.25h3m12 0h1.5m1.5 0h1.5M941.5 2040.75h1.5m1.5 0h1.5m13.5 0h3m3 0h1.5M944.5 2042.25h1.5m27 0h1.5M941.5 2043.75h3M943 2045.25h3m10.5 0h4.5m6 0h1.5M943 2046.75h1.5m3 0h1.5m6 0h1.5m10.5 0h1.5M943 2048.25h1.5m10.5 0h1.5m6 0h4.5M943 2049.75h1.5m3 0h1.5m12 0h1.5M944.5 2051.25h3M952 2054.25h1.5m9 0h1.5m3 0h3M941.5 2055.75h1.5m4.5 0h1.5m18 0h3M940 2057.25h3m18 0h1.5m3 0h1.5m4.5 0h1.5M940 2058.75h3m7.5 0h1.5m6 0h7.5M973 2060.25h1.5M967 2061.75h3M965.5 2063.25h1.5M958 2064.75h3m3 0h1.5M958 2066.25h6M958 2067.75h6M959.5 2069.25h4.5M940 2070.75h1.5m21 0h3M946 2073.75h1.5M947.5 2075.25h1.5M946 2076.75h1.5" stroke="#9edd65" stroke-width="1.5" fill="none"/>
<path d="M959.5 2037.75h1.5M959.5 2039.25h1.5M943 2040.75h1.5m18 0h3M941.5 2042.25h3m16.5 0h1.5m3 0h1.5M961 2043.75h1.5m3 0h1.5M961 2045.25h1.5M944.5 2046.75h3m13.5 0h1.5m3 0h1.5M947.5 2048.25h1.5m12 0h1.5M955 2049.75h1.5M953.5 2051.25h1.5m6 0h1.5M953.5 2052.75h1.5M953.5 2054.25h1.5M949 2055.75h4.5m7.5 0h1.5M949 2057.25h1.5m1.5 0h9m6 0h4.5M965.5 2058.75h1.5M959.5 2060.25h9m3 0h1.5M959.5 2061.75h1.5m1.5 0h4.5M959.5 2063.25h1.5m1.5 0h3M961 2064.75h3M946 2075.25h1.5" stroke="#c6e13c" stroke-width="1.5" fill="none"/>
<path d="M962.5 2042.25h1.5M965.5 2045.25h1.5M956.5 2046.75h4.5m1.5 0h3M944.5 2048.25h1.5M944.5 2049.75h3M955 2051.25h1.5M961 2052.75h1.5M961 2054.25h1.5M953.5 2055.75h1.5m4.5 0h1.5M950.5 2057.25h1.5M967 2058.75h1.5m3 0h1.5M968.5 2060.25h3M961 2061.75h1.5M961 2063.25h1.5" stroke="#e1cb26" stroke-width="1.5" fill="none"/>
<path d="M964 2042.25h1.5M962.5 2043.75h3M962.5 2045.25h3M946 2048.25h1.5m9 0h1.5M956.5 2049.75h1.5m1.5 0h1.5M959.5 2051.25h1.5M955 2054.25h1.5M955 2055.75h4.5M968.5 2058.75h3" stroke="#e17f1f" stroke-width="1.5" fill="none"/>
<path d="M958 2048.25h1.5M958 2049.75h1.5M958 2051.25h1.5M956.5 2052.75h4.5M956.5 2054.25h4.5" stroke="#ba3818" stroke-width="1.5" fill="none"/><text x="1.5" y="34.7" font-size="43.5" text-anchor="start">A</text>
<text x="1139" y="31.8" font-size="43.5" text-anchor="start">B</text>
<text x="489" y="47.5" font-size="34" text-anchor="middle">Day 1</text>
<text x="744.8" y="47.5" font-size="34" text-anchor="middle">Day 2</text>
<text x="1000.9" y="47.5" font-size="34" text-anchor="middle">Day 3</text>
<text x="9" y="201" font-size="34" text-anchor="start">Unloaded DC</text>
<text x="9" y="456.8" font-size="34" text-anchor="start">BimS-OVA DC</text>
<text x="9" y="716.4" font-size="34" text-anchor="start">RIPK3-OVA DC</text>
<text transform="translate(293,667.5) rotate(-90)" font-size="34.5" text-anchor="middle">CD62L-PE/Fire810</text>
<line x1="281.3" y1="514" x2="281.3" y2="86" stroke="#1a1a1a" stroke-width="2.4"/>
<path d="M281.3 74.6L288.2 86.8H274.4Z" fill="#1a1a1a"/>
<text x="368.5" y="897.2" font-size="34" text-anchor="start">CD44-BV785</text>
<line x1="573.5" y1="886.2" x2="1093" y2="886.2" stroke="#1a1a1a" stroke-width="2.4"/>
<path d="M1105 886.2L1091.5 879.6V892.8Z" fill="#1a1a1a"/>
<rect x="368.6" y="63.2" width="232" height="234.8" fill="none" stroke="#1a1a1a" stroke-width="1.3"/>
<path d="M378 298v8.6M380.5 298v8.6M383.2 298v8.6M386.2 298v8.6M389.4 298v8.6M392.8 298v8.6M396.6 298v8.6M400.5 298v8.6M404.7 298v8.6M413.3 298v8.6M417.5 298v8.6M421.4 298v8.6M425.2 298v8.6M428.6 298v8.6M431.8 298v8.6M434.8 298v8.6M437.5 298v8.6M440 298v8.6M458.9 298v8.6M469.2 298v8.6M476.6 298v8.6M482.4 298v8.6M487.2 298v8.6M491.2 298v8.6M494.7 298v8.6M497.8 298v8.6M518.7 298v8.6M529.3 298v8.6M536.8 298v8.6M542.7 298v8.6M547.4 298v8.6M551.5 298v8.6M555 298v8.6M558.1 298v8.6M579 298v8.6M589.6 298v8.6M597.1 298v8.6M375.7 298v12.3M442.3 298v12.3M500.5 298v12.3M560.8 298v12.3" stroke="#1a1a1a" stroke-width="1.2" fill="none"/>
<rect x="404.3" y="298" width="9.4" height="8.6" fill="#1a1a1a"/>
<path d="M404.9 298v12.3M409 298v12.3M413.1 298v12.3" stroke="#1a1a1a" stroke-width="1.3"/>
<path d="M368.6 289.4h-9.3M368.6 286.9h-9.3M368.6 284.1h-9.3M368.6 281.1h-9.3M368.6 277.8h-9.3M368.6 274.3h-9.3M368.6 270.5h-9.3M368.6 266.4h-9.3M368.6 262.1h-9.3M368.6 253.3h-9.3M368.6 249h-9.3M368.6 244.9h-9.3M368.6 241.1h-9.3M368.6 237.6h-9.3M368.6 234.3h-9.3M368.6 231.3h-9.3M368.6 228.5h-9.3M368.6 226h-9.3M368.6 206.7h-9.3M368.6 196.3h-9.3M368.6 188.7h-9.3M368.6 182.8h-9.3M368.6 178h-9.3M368.6 173.9h-9.3M368.6 170.4h-9.3M368.6 167.3h-9.3M368.6 146.1h-9.3M368.6 135.3h-9.3M368.6 127.6h-9.3M368.6 121.7h-9.3M368.6 116.8h-9.3M368.6 112.7h-9.3M368.6 109.2h-9.3M368.6 106.1h-9.3M368.6 84.8h-9.3M368.6 74h-9.3M368.6 66.4h-9.3M368.6 291.8h-12.5M368.6 223.6h-12.5M368.6 164.5h-12.5M368.6 103.3h-12.5" stroke="#1a1a1a" stroke-width="1.2" fill="none"/>
<rect x="359.3" y="252.9" width="9.3" height="9.6" fill="#1a1a1a"/>
<path d="M368.6 253.5h-12.5M368.6 257.7h-12.5M368.6 261.9h-12.5" stroke="#1a1a1a" stroke-width="1.3"/>
<line x1="492.6" y1="63.2" x2="492.6" y2="298" stroke="#1a1a1a" stroke-width="2.6"/>
<line x1="368.6" y1="214.6" x2="600.6" y2="214.6" stroke="#1a1a1a" stroke-width="2.6"/>
<text x="356.1" y="112.8" font-size="27.5" text-anchor="end">10<tspan font-size="16.5" baseline-shift="8.7">6</tspan></text>
<text x="356.1" y="174" font-size="27.5" text-anchor="end">10<tspan font-size="16.5" baseline-shift="8.7">5</tspan></text>
<text x="356.1" y="233.1" font-size="27.5" text-anchor="end">10<tspan font-size="16.5" baseline-shift="8.7">4</tspan></text>
<text x="356.1" y="267.2" font-size="27.5" text-anchor="end">0</text>
<text x="356.1" y="301.3" font-size="27.5" text-anchor="end">-10<tspan font-size="16.5" baseline-shift="8.7">4</tspan></text>
<rect x="622.5" y="63.2" width="232" height="234.8" fill="none" stroke="#1a1a1a" stroke-width="1.3"/>
<path d="M631.9 298v8.6M634.4 298v8.6M637.1 298v8.6M640.1 298v8.6M643.3 298v8.6M646.7 298v8.6M650.5 298v8.6M654.4 298v8.6M658.6 298v8.6M667.2 298v8.6M671.4 298v8.6M675.3 298v8.6M679.1 298v8.6M682.5 298v8.6M685.7 298v8.6M688.7 298v8.6M691.4 298v8.6M693.9 298v8.6M712.8 298v8.6M723.1 298v8.6M730.5 298v8.6M736.3 298v8.6M741.1 298v8.6M745.1 298v8.6M748.6 298v8.6M751.7 298v8.6M772.6 298v8.6M783.2 298v8.6M790.7 298v8.6M796.6 298v8.6M801.3 298v8.6M805.4 298v8.6M808.9 298v8.6M812 298v8.6M832.9 298v8.6M843.5 298v8.6M851 298v8.6M629.6 298v12.3M696.2 298v12.3M754.4 298v12.3M814.7 298v12.3" stroke="#1a1a1a" stroke-width="1.2" fill="none"/>
<rect x="658.2" y="298" width="9.4" height="8.6" fill="#1a1a1a"/>
<path d="M658.8 298v12.3M662.9 298v12.3M667 298v12.3" stroke="#1a1a1a" stroke-width="1.3"/>
<path d="M622.5 289.4h-9.3M622.5 286.9h-9.3M622.5 284.1h-9.3M622.5 281.1h-9.3M622.5 277.8h-9.3M622.5 274.3h-9.3M622.5 270.5h-9.3M622.5 266.4h-9.3M622.5 262.1h-9.3M622.5 253.3h-9.3M622.5 249h-9.3M622.5 244.9h-9.3M622.5 241.1h-9.3M622.5 237.6h-9.3M622.5 234.3h-9.3M622.5 231.3h-9.3M622.5 228.5h-9.3M622.5 226h-9.3M622.5 206.7h-9.3M622.5 196.3h-9.3M622.5 188.7h-9.3M622.5 182.8h-9.3M622.5 178h-9.3M622.5 173.9h-9.3M622.5 170.4h-9.3M622.5 167.3h-9.3M622.5 146.1h-9.3M622.5 135.3h-9.3M622.5 127.6h-9.3M622.5 121.7h-9.3M622.5 116.8h-9.3M622.5 112.7h-9.3M622.5 109.2h-9.3M622.5 106.1h-9.3M622.5 84.8h-9.3M622.5 74h-9.3M622.5 66.4h-9.3M622.5 291.8h-12.5M622.5 223.6h-12.5M622.5 164.5h-12.5M622.5 103.3h-12.5" stroke="#1a1a1a" stroke-width="1.2" fill="none"/>
<rect x="613.2" y="252.9" width="9.3" height="9.6" fill="#1a1a1a"/>
<path d="M622.5 253.5h-12.5M622.5 257.7h-12.5M622.5 261.9h-12.5" stroke="#1a1a1a" stroke-width="1.3"/>
<line x1="746.5" y1="63.2" x2="746.5" y2="298" stroke="#1a1a1a" stroke-width="2.6"/>
<line x1="622.5" y1="214.6" x2="854.5" y2="214.6" stroke="#1a1a1a" stroke-width="2.6"/>
<rect x="878.5" y="63.2" width="232" height="234.8" fill="none" stroke="#1a1a1a" stroke-width="1.3"/>
<path d="M887.9 298v8.6M890.4 298v8.6M893.1 298v8.6M896.1 298v8.6M899.3 298v8.6M902.7 298v8.6M906.5 298v8.6M910.4 298v8.6M914.6 298v8.6M923.2 298v8.6M927.4 298v8.6M931.3 298v8.6M935.1 298v8.6M938.5 298v8.6M941.7 298v8.6M944.7 298v8.6M947.4 298v8.6M949.9 298v8.6M968.8 298v8.6M979.1 298v8.6M986.5 298v8.6M992.3 298v8.6M997.1 298v8.6M1001.1 298v8.6M1004.6 298v8.6M1007.7 298v8.6M1028.6 298v8.6M1039.2 298v8.6M1046.7 298v8.6M1052.6 298v8.6M1057.3 298v8.6M1061.4 298v8.6M1064.9 298v8.6M1068 298v8.6M1088.9 298v8.6M1099.5 298v8.6M1107 298v8.6M885.6 298v12.3M952.2 298v12.3M1010.4 298v12.3M1070.7 298v12.3" stroke="#1a1a1a" stroke-width="1.2" fill="none"/>
<rect x="914.2" y="298" width="9.4" height="8.6" fill="#1a1a1a"/>
<path d="M914.8 298v12.3M918.9 298v12.3M923 298v12.3" stroke="#1a1a1a" stroke-width="1.3"/>
<path d="M878.5 289.4h-9.3M878.5 286.9h-9.3M878.5 284.1h-9.3M878.5 281.1h-9.3M878.5 277.8h-9.3M878.5 274.3h-9.3M878.5 270.5h-9.3M878.5 266.4h-9.3M878.5 262.1h-9.3M878.5 253.3h-9.3M878.5 249h-9.3M878.5 244.9h-9.3M878.5 241.1h-9.3M878.5 237.6h-9.3M878.5 234.3h-9.3M878.5 231.3h-9.3M878.5 228.5h-9.3M878.5 226h-9.3M878.5 206.7h-9.3M878.5 196.3h-9.3M878.5 188.7h-9.3M878.5 182.8h-9.3M878.5 178h-9.3M878.5 173.9h-9.3M878.5 170.4h-9.3M878.5 167.3h-9.3M878.5 146.1h-9.3M878.5 135.3h-9.3M878.5 127.6h-9.3M878.5 121.7h-9.3M878.5 116.8h-9.3M878.5 112.7h-9.3M878.5 109.2h-9.3M878.5 106.1h-9.3M878.5 84.8h-9.3M878.5 74h-9.3M878.5 66.4h-9.3M878.5 291.8h-12.5M878.5 223.6h-12.5M878.5 164.5h-12.5M878.5 103.3h-12.5" stroke="#1a1a1a" stroke-width="1.2" fill="none"/>
<rect x="869.2" y="252.9" width="9.3" height="9.6" fill="#1a1a1a"/>
<path d="M878.5 253.5h-12.5M878.5 257.7h-12.5M878.5 261.9h-12.5" stroke="#1a1a1a" stroke-width="1.3"/>
<line x1="1002.5" y1="63.2" x2="1002.5" y2="298" stroke="#1a1a1a" stroke-width="2.6"/>
<line x1="878.5" y1="214.6" x2="1110.5" y2="214.6" stroke="#1a1a1a" stroke-width="2.6"/>
<rect x="368.6" y="319.9" width="232" height="234.8" fill="none" stroke="#1a1a1a" stroke-width="1.3"/>
<path d="M378 554.7v8.6M380.5 554.7v8.6M383.2 554.7v8.6M386.2 554.7v8.6M389.4 554.7v8.6M392.8 554.7v8.6M396.6 554.7v8.6M400.5 554.7v8.6M404.7 554.7v8.6M413.3 554.7v8.6M417.5 554.7v8.6M421.4 554.7v8.6M425.2 554.7v8.6M428.6 554.7v8.6M431.8 554.7v8.6M434.8 554.7v8.6M437.5 554.7v8.6M440 554.7v8.6M458.9 554.7v8.6M469.2 554.7v8.6M476.6 554.7v8.6M482.4 554.7v8.6M487.2 554.7v8.6M491.2 554.7v8.6M494.7 554.7v8.6M497.8 554.7v8.6M518.7 554.7v8.6M529.3 554.7v8.6M536.8 554.7v8.6M542.7 554.7v8.6M547.4 554.7v8.6M551.5 554.7v8.6M555 554.7v8.6M558.1 554.7v8.6M579 554.7v8.6M589.6 554.7v8.6M597.1 554.7v8.6M375.7 554.7v12.3M442.3 554.7v12.3M500.5 554.7v12.3M560.8 554.7v12.3" stroke="#1a1a1a" stroke-width="1.2" fill="none"/>
<rect x="404.3" y="554.7" width="9.4" height="8.6" fill="#1a1a1a"/>
<path d="M404.9 554.7v12.3M409 554.7v12.3M413.1 554.7v12.3" stroke="#1a1a1a" stroke-width="1.3"/>
<path d="M368.6 546.1h-9.3M368.6 543.6h-9.3M368.6 540.8h-9.3M368.6 537.8h-9.3M368.6 534.5h-9.3M368.6 531h-9.3M368.6 527.2h-9.3M368.6 523.1h-9.3M368.6 518.8h-9.3M368.6 510h-9.3M368.6 505.7h-9.3M368.6 501.6h-9.3M368.6 497.8h-9.3M368.6 494.3h-9.3M368.6 491h-9.3M368.6 488h-9.3M368.6 485.2h-9.3M368.6 482.7h-9.3M368.6 463.4h-9.3M368.6 453h-9.3M368.6 445.4h-9.3M368.6 439.5h-9.3M368.6 434.7h-9.3M368.6 430.6h-9.3M368.6 427.1h-9.3M368.6 424h-9.3M368.6 402.8h-9.3M368.6 392h-9.3M368.6 384.3h-9.3M368.6 378.4h-9.3M368.6 373.5h-9.3M368.6 369.4h-9.3M368.6 365.9h-9.3M368.6 362.8h-9.3M368.6 341.5h-9.3M368.6 330.7h-9.3M368.6 323.1h-9.3M368.6 548.5h-12.5M368.6 480.3h-12.5M368.6 421.2h-12.5M368.6 360h-12.5" stroke="#1a1a1a" stroke-width="1.2" fill="none"/>
<rect x="359.3" y="509.6" width="9.3" height="9.6" fill="#1a1a1a"/>
<path d="M368.6 510.2h-12.5M368.6 514.4h-12.5M368.6 518.6h-12.5" stroke="#1a1a1a" stroke-width="1.3"/>
<line x1="492.6" y1="319.9" x2="492.6" y2="554.7" stroke="#1a1a1a" stroke-width="2.6"/>
<line x1="368.6" y1="471.3" x2="600.6" y2="471.3" stroke="#1a1a1a" stroke-width="2.6"/>
<text x="356.1" y="369.5" font-size="27.5" text-anchor="end">10<tspan font-size="16.5" baseline-shift="8.7">6</tspan></text>
<text x="356.1" y="430.7" font-size="27.5" text-anchor="end">10<tspan font-size="16.5" baseline-shift="8.7">5</tspan></text>
<text x="356.1" y="489.8" font-size="27.5" text-anchor="end">10<tspan font-size="16.5" baseline-shift="8.7">4</tspan></text>
<text x="356.1" y="523.9" font-size="27.5" text-anchor="end">0</text>
<text x="356.1" y="558" font-size="27.5" text-anchor="end">-10<tspan font-size="16.5" baseline-shift="8.7">4</tspan></text>
<rect x="622.5" y="319.9" width="232" height="234.8" fill="none" stroke="#1a1a1a" stroke-width="1.3"/>
<path d="M631.9 554.7v8.6M634.4 554.7v8.6M637.1 554.7v8.6M640.1 554.7v8.6M643.3 554.7v8.6M646.7 554.7v8.6M650.5 554.7v8.6M654.4 554.7v8.6M658.6 554.7v8.6M667.2 554.7v8.6M671.4 554.7v8.6M675.3 554.7v8.6M679.1 554.7v8.6M682.5 554.7v8.6M685.7 554.7v8.6M688.7 554.7v8.6M691.4 554.7v8.6M693.9 554.7v8.6M712.8 554.7v8.6M723.1 554.7v8.6M730.5 554.7v8.6M736.3 554.7v8.6M741.1 554.7v8.6M745.1 554.7v8.6M748.6 554.7v8.6M751.7 554.7v8.6M772.6 554.7v8.6M783.2 554.7v8.6M790.7 554.7v8.6M796.6 554.7v8.6M801.3 554.7v8.6M805.4 554.7v8.6M808.9 554.7v8.6M812 554.7v8.6M832.9 554.7v8.6M843.5 554.7v8.6M851 554.7v8.6M629.6 554.7v12.3M696.2 554.7v12.3M754.4 554.7v12.3M814.7 554.7v12.3" stroke="#1a1a1a" stroke-width="1.2" fill="none"/>
<rect x="658.2" y="554.7" width="9.4" height="8.6" fill="#1a1a1a"/>
<path d="M658.8 554.7v12.3M662.9 554.7v12.3M667 554.7v12.3" stroke="#1a1a1a" stroke-width="1.3"/>
<path d="M622.5 546.1h-9.3M622.5 543.6h-9.3M622.5 540.8h-9.3M622.5 537.8h-9.3M622.5 534.5h-9.3M622.5 531h-9.3M622.5 527.2h-9.3M622.5 523.1h-9.3M622.5 518.8h-9.3M622.5 510h-9.3M622.5 505.7h-9.3M622.5 501.6h-9.3M622.5 497.8h-9.3M622.5 494.3h-9.3M622.5 491h-9.3M622.5 488h-9.3M622.5 485.2h-9.3M622.5 482.7h-9.3M622.5 463.4h-9.3M622.5 453h-9.3M622.5 445.4h-9.3M622.5 439.5h-9.3M622.5 434.7h-9.3M622.5 430.6h-9.3M622.5 427.1h-9.3M622.5 424h-9.3M622.5 402.8h-9.3M622.5 392h-9.3M622.5 384.3h-9.3M622.5 378.4h-9.3M622.5 373.5h-9.3M622.5 369.4h-9.3M622.5 365.9h-9.3M622.5 362.8h-9.3M622.5 341.5h-9.3M622.5 330.7h-9.3M622.5 323.1h-9.3M622.5 548.5h-12.5M622.5 480.3h-12.5M622.5 421.2h-12.5M622.5 360h-12.5" stroke="#1a1a1a" stroke-width="1.2" fill="none"/>
<rect x="613.2" y="509.6" width="9.3" height="9.6" fill="#1a1a1a"/>
<path d="M622.5 510.2h-12.5M622.5 514.4h-12.5M622.5 518.6h-12.5" stroke="#1a1a1a" stroke-width="1.3"/>
<line x1="746.5" y1="319.9" x2="746.5" y2="554.7" stroke="#1a1a1a" stroke-width="2.6"/>
<line x1="622.5" y1="471.3" x2="854.5" y2="471.3" stroke="#1a1a1a" stroke-width="2.6"/>
<rect x="878.5" y="319.9" width="232" height="234.8" fill="none" stroke="#1a1a1a" stroke-width="1.3"/>
<path d="M887.9 554.7v8.6M890.4 554.7v8.6M893.1 554.7v8.6M896.1 554.7v8.6M899.3 554.7v8.6M902.7 554.7v8.6M906.5 554.7v8.6M910.4 554.7v8.6M914.6 554.7v8.6M923.2 554.7v8.6M927.4 554.7v8.6M931.3 554.7v8.6M935.1 554.7v8.6M938.5 554.7v8.6M941.7 554.7v8.6M944.7 554.7v8.6M947.4 554.7v8.6M949.9 554.7v8.6M968.8 554.7v8.6M979.1 554.7v8.6M986.5 554.7v8.6M992.3 554.7v8.6M997.1 554.7v8.6M1001.1 554.7v8.6M1004.6 554.7v8.6M1007.7 554.7v8.6M1028.6 554.7v8.6M1039.2 554.7v8.6M1046.7 554.7v8.6M1052.6 554.7v8.6M1057.3 554.7v8.6M1061.4 554.7v8.6M1064.9 554.7v8.6M1068 554.7v8.6M1088.9 554.7v8.6M1099.5 554.7v8.6M1107 554.7v8.6M885.6 554.7v12.3M952.2 554.7v12.3M1010.4 554.7v12.3M1070.7 554.7v12.3" stroke="#1a1a1a" stroke-width="1.2" fill="none"/>
<rect x="914.2" y="554.7" width="9.4" height="8.6" fill="#1a1a1a"/>
<path d="M914.8 554.7v12.3M918.9 554.7v12.3M923 554.7v12.3" stroke="#1a1a1a" stroke-width="1.3"/>
<path d="M878.5 546.1h-9.3M878.5 543.6h-9.3M878.5 540.8h-9.3M878.5 537.8h-9.3M878.5 534.5h-9.3M878.5 531h-9.3M878.5 527.2h-9.3M878.5 523.1h-9.3M878.5 518.8h-9.3M878.5 510h-9.3M878.5 505.7h-9.3M878.5 501.6h-9.3M878.5 497.8h-9.3M878.5 494.3h-9.3M878.5 491h-9.3M878.5 488h-9.3M878.5 485.2h-9.3M878.5 482.7h-9.3M878.5 463.4h-9.3M878.5 453h-9.3M878.5 445.4h-9.3M878.5 439.5h-9.3M878.5 434.7h-9.3M878.5 430.6h-9.3M878.5 427.1h-9.3M878.5 424h-9.3M878.5 402.8h-9.3M878.5 392h-9.3M878.5 384.3h-9.3M878.5 378.4h-9.3M878.5 373.5h-9.3M878.5 369.4h-9.3M878.5 365.9h-9.3M878.5 362.8h-9.3M878.5 341.5h-9.3M878.5 330.7h-9.3M878.5 323.1h-9.3M878.5 548.5h-12.5M878.5 480.3h-12.5M878.5 421.2h-12.5M878.5 360h-12.5" stroke="#1a1a1a" stroke-width="1.2" fill="none"/>
<rect x="869.2" y="509.6" width="9.3" height="9.6" fill="#1a1a1a"/>
<path d="M878.5 510.2h-12.5M878.5 514.4h-12.5M878.5 518.6h-12.5" stroke="#1a1a1a" stroke-width="1.3"/>
<line x1="1002.5" y1="319.9" x2="1002.5" y2="554.7" stroke="#1a1a1a" stroke-width="2.6"/>
<line x1="878.5" y1="471.3" x2="1110.5" y2="471.3" stroke="#1a1a1a" stroke-width="2.6"/>
<rect x="368.6" y="579.4" width="232" height="234.8" fill="none" stroke="#1a1a1a" stroke-width="1.3"/>
<path d="M378 814.2v8.6M380.5 814.2v8.6M383.2 814.2v8.6M386.2 814.2v8.6M389.4 814.2v8.6M392.8 814.2v8.6M396.6 814.2v8.6M400.5 814.2v8.6M404.7 814.2v8.6M413.3 814.2v8.6M417.5 814.2v8.6M421.4 814.2v8.6M425.2 814.2v8.6M428.6 814.2v8.6M431.8 814.2v8.6M434.8 814.2v8.6M437.5 814.2v8.6M440 814.2v8.6M458.9 814.2v8.6M469.2 814.2v8.6M476.6 814.2v8.6M482.4 814.2v8.6M487.2 814.2v8.6M491.2 814.2v8.6M494.7 814.2v8.6M497.8 814.2v8.6M518.7 814.2v8.6M529.3 814.2v8.6M536.8 814.2v8.6M542.7 814.2v8.6M547.4 814.2v8.6M551.5 814.2v8.6M555 814.2v8.6M558.1 814.2v8.6M579 814.2v8.6M589.6 814.2v8.6M597.1 814.2v8.6M375.7 814.2v12.3M442.3 814.2v12.3M500.5 814.2v12.3M560.8 814.2v12.3" stroke="#1a1a1a" stroke-width="1.2" fill="none"/>
<rect x="404.3" y="814.2" width="9.4" height="8.6" fill="#1a1a1a"/>
<path d="M404.9 814.2v12.3M409 814.2v12.3M413.1 814.2v12.3" stroke="#1a1a1a" stroke-width="1.3"/>
<path d="M368.6 805.6h-9.3M368.6 803.1h-9.3M368.6 800.3h-9.3M368.6 797.3h-9.3M368.6 794h-9.3M368.6 790.5h-9.3M368.6 786.7h-9.3M368.6 782.6h-9.3M368.6 778.3h-9.3M368.6 769.5h-9.3M368.6 765.2h-9.3M368.6 761.1h-9.3M368.6 757.3h-9.3M368.6 753.8h-9.3M368.6 750.5h-9.3M368.6 747.5h-9.3M368.6 744.7h-9.3M368.6 742.2h-9.3M368.6 722.9h-9.3M368.6 712.5h-9.3M368.6 704.9h-9.3M368.6 699h-9.3M368.6 694.2h-9.3M368.6 690.1h-9.3M368.6 686.6h-9.3M368.6 683.5h-9.3M368.6 662.3h-9.3M368.6 651.5h-9.3M368.6 643.8h-9.3M368.6 637.9h-9.3M368.6 633h-9.3M368.6 628.9h-9.3M368.6 625.4h-9.3M368.6 622.3h-9.3M368.6 601h-9.3M368.6 590.2h-9.3M368.6 582.6h-9.3M368.6 808h-12.5M368.6 739.8h-12.5M368.6 680.7h-12.5M368.6 619.5h-12.5" stroke="#1a1a1a" stroke-width="1.2" fill="none"/>
<rect x="359.3" y="769.1" width="9.3" height="9.6" fill="#1a1a1a"/>
<path d="M368.6 769.7h-12.5M368.6 773.9h-12.5M368.6 778.1h-12.5" stroke="#1a1a1a" stroke-width="1.3"/>
<line x1="492.6" y1="579.4" x2="492.6" y2="814.2" stroke="#1a1a1a" stroke-width="2.6"/>
<line x1="368.6" y1="730.8" x2="600.6" y2="730.8" stroke="#1a1a1a" stroke-width="2.6"/>
<text x="356.1" y="629" font-size="27.5" text-anchor="end">10<tspan font-size="16.5" baseline-shift="8.7">6</tspan></text>
<text x="356.1" y="690.2" font-size="27.5" text-anchor="end">10<tspan font-size="16.5" baseline-shift="8.7">5</tspan></text>
<text x="356.1" y="749.3" font-size="27.5" text-anchor="end">10<tspan font-size="16.5" baseline-shift="8.7">4</tspan></text>
<text x="356.1" y="783.4" font-size="27.5" text-anchor="end">0</text>
<text x="356.1" y="817.5" font-size="27.5" text-anchor="end">-10<tspan font-size="16.5" baseline-shift="8.7">4</tspan></text>
<text x="561.8" y="853" font-size="27.5" text-anchor="middle">10<tspan font-size="16.5" baseline-shift="8.7">6</tspan></text>
<text x="501.5" y="853" font-size="27.5" text-anchor="middle">10<tspan font-size="16.5" baseline-shift="8.7">5</tspan></text>
<text x="443.3" y="853" font-size="27.5" text-anchor="middle">10<tspan font-size="16.5" baseline-shift="8.7">4</tspan></text>
<text x="410" y="853" font-size="27.5" text-anchor="middle">0</text>
<text x="373.7" y="853" font-size="27.5" text-anchor="middle">-10<tspan font-size="16.5" baseline-shift="8.7">4</tspan></text>
<rect x="622.5" y="579.4" width="232" height="234.8" fill="none" stroke="#1a1a1a" stroke-width="1.3"/>
<path d="M631.9 814.2v8.6M634.4 814.2v8.6M637.1 814.2v8.6M640.1 814.2v8.6M643.3 814.2v8.6M646.7 814.2v8.6M650.5 814.2v8.6M654.4 814.2v8.6M658.6 814.2v8.6M667.2 814.2v8.6M671.4 814.2v8.6M675.3 814.2v8.6M679.1 814.2v8.6M682.5 814.2v8.6M685.7 814.2v8.6M688.7 814.2v8.6M691.4 814.2v8.6M693.9 814.2v8.6M712.8 814.2v8.6M723.1 814.2v8.6M730.5 814.2v8.6M736.3 814.2v8.6M741.1 814.2v8.6M745.1 814.2v8.6M748.6 814.2v8.6M751.7 814.2v8.6M772.6 814.2v8.6M783.2 814.2v8.6M790.7 814.2v8.6M796.6 814.2v8.6M801.3 814.2v8.6M805.4 814.2v8.6M808.9 814.2v8.6M812 814.2v8.6M832.9 814.2v8.6M843.5 814.2v8.6M851 814.2v8.6M629.6 814.2v12.3M696.2 814.2v12.3M754.4 814.2v12.3M814.7 814.2v12.3" stroke="#1a1a1a" stroke-width="1.2" fill="none"/>
<rect x="658.2" y="814.2" width="9.4" height="8.6" fill="#1a1a1a"/>
<path d="M658.8 814.2v12.3M662.9 814.2v12.3M667 814.2v12.3" stroke="#1a1a1a" stroke-width="1.3"/>
<path d="M622.5 805.6h-9.3M622.5 803.1h-9.3M622.5 800.3h-9.3M622.5 797.3h-9.3M622.5 794h-9.3M622.5 790.5h-9.3M622.5 786.7h-9.3M622.5 782.6h-9.3M622.5 778.3h-9.3M622.5 769.5h-9.3M622.5 765.2h-9.3M622.5 761.1h-9.3M622.5 757.3h-9.3M622.5 753.8h-9.3M622.5 750.5h-9.3M622.5 747.5h-9.3M622.5 744.7h-9.3M622.5 742.2h-9.3M622.5 722.9h-9.3M622.5 712.5h-9.3M622.5 704.9h-9.3M622.5 699h-9.3M622.5 694.2h-9.3M622.5 690.1h-9.3M622.5 686.6h-9.3M622.5 683.5h-9.3M622.5 662.3h-9.3M622.5 651.5h-9.3M622.5 643.8h-9.3M622.5 637.9h-9.3M622.5 633h-9.3M622.5 628.9h-9.3M622.5 625.4h-9.3M622.5 622.3h-9.3M622.5 601h-9.3M622.5 590.2h-9.3M622.5 582.6h-9.3M622.5 808h-12.5M622.5 739.8h-12.5M622.5 680.7h-12.5M622.5 619.5h-12.5" stroke="#1a1a1a" stroke-width="1.2" fill="none"/>
<rect x="613.2" y="769.1" width="9.3" height="9.6" fill="#1a1a1a"/>
<path d="M622.5 769.7h-12.5M622.5 773.9h-12.5M622.5 778.1h-12.5" stroke="#1a1a1a" stroke-width="1.3"/>
<line x1="746.5" y1="579.4" x2="746.5" y2="814.2" stroke="#1a1a1a" stroke-width="2.6"/>
<line x1="622.5" y1="730.8" x2="854.5" y2="730.8" stroke="#1a1a1a" stroke-width="2.6"/>
<text x="815.7" y="853" font-size="27.5" text-anchor="middle">10<tspan font-size="16.5" baseline-shift="8.7">6</tspan></text>
<text x="755.4" y="853" font-size="27.5" text-anchor="middle">10<tspan font-size="16.5" baseline-shift="8.7">5</tspan></text>
<text x="697.2" y="853" font-size="27.5" text-anchor="middle">10<tspan font-size="16.5" baseline-shift="8.7">4</tspan></text>
<text x="663.9" y="853" font-size="27.5" text-anchor="middle">0</text>
<text x="627.6" y="853" font-size="27.5" text-anchor="middle">-10<tspan font-size="16.5" baseline-shift="8.7">4</tspan></text>
<rect x="878.5" y="579.4" width="232" height="234.8" fill="none" stroke="#1a1a1a" stroke-width="1.3"/>
<path d="M887.9 814.2v8.6M890.4 814.2v8.6M893.1 814.2v8.6M896.1 814.2v8.6M899.3 814.2v8.6M902.7 814.2v8.6M906.5 814.2v8.6M910.4 814.2v8.6M914.6 814.2v8.6M923.2 814.2v8.6M927.4 814.2v8.6M931.3 814.2v8.6M935.1 814.2v8.6M938.5 814.2v8.6M941.7 814.2v8.6M944.7 814.2v8.6M947.4 814.2v8.6M949.9 814.2v8.6M968.8 814.2v8.6M979.1 814.2v8.6M986.5 814.2v8.6M992.3 814.2v8.6M997.1 814.2v8.6M1001.1 814.2v8.6M1004.6 814.2v8.6M1007.7 814.2v8.6M1028.6 814.2v8.6M1039.2 814.2v8.6M1046.7 814.2v8.6M1052.6 814.2v8.6M1057.3 814.2v8.6M1061.4 814.2v8.6M1064.9 814.2v8.6M1068 814.2v8.6M1088.9 814.2v8.6M1099.5 814.2v8.6M1107 814.2v8.6M885.6 814.2v12.3M952.2 814.2v12.3M1010.4 814.2v12.3M1070.7 814.2v12.3" stroke="#1a1a1a" stroke-width="1.2" fill="none"/>
<rect x="914.2" y="814.2" width="9.4" height="8.6" fill="#1a1a1a"/>
<path d="M914.8 814.2v12.3M918.9 814.2v12.3M923 814.2v12.3" stroke="#1a1a1a" stroke-width="1.3"/>
<path d="M878.5 805.6h-9.3M878.5 803.1h-9.3M878.5 800.3h-9.3M878.5 797.3h-9.3M878.5 794h-9.3M878.5 790.5h-9.3M878.5 786.7h-9.3M878.5 782.6h-9.3M878.5 778.3h-9.3M878.5 769.5h-9.3M878.5 765.2h-9.3M878.5 761.1h-9.3M878.5 757.3h-9.3M878.5 753.8h-9.3M878.5 750.5h-9.3M878.5 747.5h-9.3M878.5 744.7h-9.3M878.5 742.2h-9.3M878.5 722.9h-9.3M878.5 712.5h-9.3M878.5 704.9h-9.3M878.5 699h-9.3M878.5 694.2h-9.3M878.5 690.1h-9.3M878.5 686.6h-9.3M878.5 683.5h-9.3M878.5 662.3h-9.3M878.5 651.5h-9.3M878.5 643.8h-9.3M878.5 637.9h-9.3M878.5 633h-9.3M878.5 628.9h-9.3M878.5 625.4h-9.3M878.5 622.3h-9.3M878.5 601h-9.3M878.5 590.2h-9.3M878.5 582.6h-9.3M878.5 808h-12.5M878.5 739.8h-12.5M878.5 680.7h-12.5M878.5 619.5h-12.5" stroke="#1a1a1a" stroke-width="1.2" fill="none"/>
<rect x="869.2" y="769.1" width="9.3" height="9.6" fill="#1a1a1a"/>
<path d="M878.5 769.7h-12.5M878.5 773.9h-12.5M878.5 778.1h-12.5" stroke="#1a1a1a" stroke-width="1.3"/>
<line x1="1002.5" y1="579.4" x2="1002.5" y2="814.2" stroke="#1a1a1a" stroke-width="2.6"/>
<line x1="878.5" y1="730.8" x2="1110.5" y2="730.8" stroke="#1a1a1a" stroke-width="2.6"/>
<text x="1071.7" y="853" font-size="27.5" text-anchor="middle">10<tspan font-size="16.5" baseline-shift="8.7">6</tspan></text>
<text x="1011.4" y="853" font-size="27.5" text-anchor="middle">10<tspan font-size="16.5" baseline-shift="8.7">5</tspan></text>
<text x="953.2" y="853" font-size="27.5" text-anchor="middle">10<tspan font-size="16.5" baseline-shift="8.7">4</tspan></text>
<text x="919.9" y="853" font-size="27.5" text-anchor="middle">0</text>
<text x="883.6" y="853" font-size="27.5" text-anchor="middle">-10<tspan font-size="16.5" baseline-shift="8.7">4</tspan></text>
<text x="1664.5" y="75.5" font-size="34" text-anchor="middle">CD44<tspan font-size="20" baseline-shift="12">+</tspan> effector OT-I</text>
<rect x="1347" y="596.2" width="40.3" height="58.1" fill="#878787" stroke="#1a1a1a" stroke-width="2.2"/>
<line x1="1367.2" y1="571.6" x2="1367.2" y2="618.5" stroke="#1a1a1a" stroke-width="2.2"/>
<line x1="1356.7" y1="571.6" x2="1377.7" y2="571.6" stroke="#1a1a1a" stroke-width="2.2"/>
<line x1="1356.7" y1="618.5" x2="1377.7" y2="618.5" stroke="#1a1a1a" stroke-width="2.2"/>
<circle cx="1353.2" cy="582.8" r="7" fill="#1a1a1a"/>
<circle cx="1381.2" cy="573.8" r="7" fill="#1a1a1a"/>
<circle cx="1381.2" cy="594.8" r="7" fill="#1a1a1a"/>
<circle cx="1367.2" cy="627.5" r="7" fill="#1a1a1a"/>
<rect x="1410" y="570.2" width="40.3" height="84.1" fill="#4682b9" stroke="#1a1a1a" stroke-width="2.2"/>
<line x1="1430.2" y1="552.4" x2="1430.2" y2="585" stroke="#1a1a1a" stroke-width="2.2"/>
<line x1="1419.7" y1="552.4" x2="1440.7" y2="552.4" stroke="#1a1a1a" stroke-width="2.2"/>
<line x1="1419.7" y1="585" x2="1440.7" y2="585" stroke="#1a1a1a" stroke-width="2.2"/>
<path d="M1415.7 550.5L1422.7 563.3H1408.7Z" fill="#1a1a1a"/>
<path d="M1444.2 552.7L1451.2 565.5H1437.2Z" fill="#1a1a1a"/>
<path d="M1430.2 557.2L1437.2 570H1423.2Z" fill="#1a1a1a"/>
<path d="M1430.2 587.1L1437.2 600H1423.2Z" fill="#1a1a1a"/>
<rect x="1473" y="542.5" width="40.3" height="111.8" fill="#e67e30" stroke="#1a1a1a" stroke-width="2.2"/>
<line x1="1493.2" y1="530" x2="1493.2" y2="550.1" stroke="#1a1a1a" stroke-width="2.2"/>
<line x1="1482.7" y1="530" x2="1503.7" y2="530" stroke="#1a1a1a" stroke-width="2.2"/>
<line x1="1482.7" y1="550.1" x2="1503.7" y2="550.1" stroke="#1a1a1a" stroke-width="2.2"/>
<rect x="1471.5" y="531.3" width="13.5" height="13.5" fill="#1a1a1a"/>
<rect x="1500.8" y="522.4" width="13.5" height="13.5" fill="#1a1a1a"/>
<rect x="1500.8" y="537.1" width="13.5" height="13.5" fill="#1a1a1a"/>
<rect x="1471.5" y="546.1" width="13.5" height="13.5" fill="#1a1a1a"/>
<rect x="1577.1" y="581.4" width="40.3" height="72.9" fill="#878787" stroke="#1a1a1a" stroke-width="2.2"/>
<line x1="1597.3" y1="547.9" x2="1597.3" y2="615" stroke="#1a1a1a" stroke-width="2.2"/>
<line x1="1586.8" y1="547.9" x2="1607.8" y2="547.9" stroke="#1a1a1a" stroke-width="2.2"/>
<line x1="1586.8" y1="615" x2="1607.8" y2="615" stroke="#1a1a1a" stroke-width="2.2"/>
<circle cx="1582.8" cy="568" r="7" fill="#1a1a1a"/>
<circle cx="1597.3" cy="552.4" r="7" fill="#1a1a1a"/>
<circle cx="1611.8" cy="575.6" r="7" fill="#1a1a1a"/>
<circle cx="1597.3" cy="628.8" r="7" fill="#1a1a1a"/>
<rect x="1640.1" y="531.3" width="40.3" height="123" fill="#4682b9" stroke="#1a1a1a" stroke-width="2.2"/>
<line x1="1660.3" y1="479.5" x2="1660.3" y2="580.1" stroke="#1a1a1a" stroke-width="2.2"/>
<line x1="1649.8" y1="479.5" x2="1670.8" y2="479.5" stroke="#1a1a1a" stroke-width="2.2"/>
<line x1="1649.8" y1="580.1" x2="1670.8" y2="580.1" stroke="#1a1a1a" stroke-width="2.2"/>
<path d="M1645.8 508L1652.8 520.8H1638.8Z" fill="#1a1a1a"/>
<path d="M1674.8 518.7L1681.8 531.6H1667.8Z" fill="#1a1a1a"/>
<path d="M1660.3 475.4L1667.3 488.2H1653.3Z" fill="#1a1a1a"/>
<path d="M1660.3 593.4L1667.3 606.2H1653.3Z" fill="#1a1a1a"/>
<rect x="1703.1" y="389.2" width="40.3" height="265.1" fill="#e67e30" stroke="#1a1a1a" stroke-width="2.2"/>
<line x1="1723.3" y1="367.7" x2="1723.3" y2="410.2" stroke="#1a1a1a" stroke-width="2.2"/>
<line x1="1712.8" y1="367.7" x2="1733.8" y2="367.7" stroke="#1a1a1a" stroke-width="2.2"/>
<line x1="1712.8" y1="410.2" x2="1733.8" y2="410.2" stroke="#1a1a1a" stroke-width="2.2"/>
<rect x="1702" y="361.4" width="13.5" height="13.5" fill="#1a1a1a"/>
<rect x="1730.5" y="361.4" width="13.5" height="13.5" fill="#1a1a1a"/>
<rect x="1702" y="403.9" width="13.5" height="13.5" fill="#1a1a1a"/>
<rect x="1730.5" y="395.4" width="13.5" height="13.5" fill="#1a1a1a"/>
<rect x="1807.4" y="577.4" width="40.3" height="76.9" fill="#878787" stroke="#1a1a1a" stroke-width="2.2"/>
<line x1="1827.6" y1="543.9" x2="1827.6" y2="608.2" stroke="#1a1a1a" stroke-width="2.2"/>
<line x1="1817.1" y1="543.9" x2="1838.1" y2="543.9" stroke="#1a1a1a" stroke-width="2.2"/>
<line x1="1817.1" y1="608.2" x2="1838.1" y2="608.2" stroke="#1a1a1a" stroke-width="2.2"/>
<circle cx="1813.1" cy="569.4" r="7" fill="#1a1a1a"/>
<circle cx="1827.6" cy="538.9" r="7" fill="#1a1a1a"/>
<circle cx="1842.1" cy="579.6" r="7" fill="#1a1a1a"/>
<circle cx="1827.6" cy="615.8" r="7" fill="#1a1a1a"/>
<rect x="1870.4" y="430.3" width="40.3" height="224" fill="#4682b9" stroke="#1a1a1a" stroke-width="2.2"/>
<line x1="1890.6" y1="358.8" x2="1890.6" y2="500.1" stroke="#1a1a1a" stroke-width="2.2"/>
<line x1="1880.1" y1="358.8" x2="1901.1" y2="358.8" stroke="#1a1a1a" stroke-width="2.2"/>
<line x1="1880.1" y1="500.1" x2="1901.1" y2="500.1" stroke="#1a1a1a" stroke-width="2.2"/>
<path d="M1890.6 327.8L1897.6 340.6H1883.6Z" fill="#1a1a1a"/>
<path d="M1890.6 419.5L1897.6 432.3H1883.6Z" fill="#1a1a1a"/>
<path d="M1890.6 444.5L1897.6 457.3H1883.6Z" fill="#1a1a1a"/>
<path d="M1890.6 498.2L1897.6 511H1883.6Z" fill="#1a1a1a"/>
<rect x="1933.4" y="313.6" width="40.3" height="340.7" fill="#e67e30" stroke="#1a1a1a" stroke-width="2.2"/>
<line x1="1953.6" y1="231.3" x2="1953.6" y2="395" stroke="#1a1a1a" stroke-width="2.2"/>
<line x1="1943.1" y1="231.3" x2="1964.1" y2="231.3" stroke="#1a1a1a" stroke-width="2.2"/>
<line x1="1943.1" y1="395" x2="1964.1" y2="395" stroke="#1a1a1a" stroke-width="2.2"/>
<rect x="1946.8" y="222.8" width="13.5" height="13.5" fill="#1a1a1a"/>
<rect x="1946.8" y="270.6" width="13.5" height="13.5" fill="#1a1a1a"/>
<rect x="1946.8" y="317.1" width="13.5" height="13.5" fill="#1a1a1a"/>
<rect x="1946.8" y="415.5" width="13.5" height="13.5" fill="#1a1a1a"/>
<line x1="1325.2" y1="205.3" x2="1325.2" y2="656.2" stroke="#1a1a1a" stroke-width="3.8"/>
<line x1="1307.2" y1="654.3" x2="1997" y2="654.3" stroke="#1a1a1a" stroke-width="3.8"/>
<line x1="1307.2" y1="654.3" x2="1325.2" y2="654.3" stroke="#1a1a1a" stroke-width="3.8"/>
<text x="1300.7" y="666.1" font-size="33" text-anchor="end">0</text>
<line x1="1307.2" y1="564.9" x2="1325.2" y2="564.9" stroke="#1a1a1a" stroke-width="3.8"/>
<text x="1300.7" y="576.7" font-size="33" text-anchor="end">20</text>
<line x1="1307.2" y1="475.5" x2="1325.2" y2="475.5" stroke="#1a1a1a" stroke-width="3.8"/>
<text x="1300.7" y="487.3" font-size="33" text-anchor="end">40</text>
<line x1="1307.2" y1="386" x2="1325.2" y2="386" stroke="#1a1a1a" stroke-width="3.8"/>
<text x="1300.7" y="397.8" font-size="33" text-anchor="end">60</text>
<line x1="1307.2" y1="296.6" x2="1325.2" y2="296.6" stroke="#1a1a1a" stroke-width="3.8"/>
<text x="1300.7" y="308.4" font-size="33" text-anchor="end">80</text>
<line x1="1307.2" y1="207.2" x2="1325.2" y2="207.2" stroke="#1a1a1a" stroke-width="3.8"/>
<text x="1300.7" y="219" font-size="33" text-anchor="end">100</text>
<line x1="1430.2" y1="654.3" x2="1430.2" y2="672.8" stroke="#1a1a1a" stroke-width="3.8"/>
<text x="1430.2" y="704.3" font-size="33" text-anchor="middle">1</text>
<line x1="1660.3" y1="654.3" x2="1660.3" y2="672.8" stroke="#1a1a1a" stroke-width="3.8"/>
<text x="1660.3" y="704.3" font-size="33" text-anchor="middle">2</text>
<line x1="1890.6" y1="654.3" x2="1890.6" y2="672.8" stroke="#1a1a1a" stroke-width="3.8"/>
<text x="1890.6" y="704.3" font-size="33" text-anchor="middle">3</text>
<text x="1660.3" y="749" font-size="34" text-anchor="middle">Days</text>
<circle cx="1349.4" cy="222.5" r="7" fill="#1a1a1a"/>
<text x="1378.4" y="234" font-size="34" text-anchor="start">Unloaded DC</text>
<path d="M1349.4 267.2L1356.4 280H1342.4Z" fill="#1a1a1a"/>
<text x="1378.4" y="286.4" font-size="34" text-anchor="start">BimS-OVA DC</text>
<rect x="1342.7" y="320.6" width="13.5" height="13.5" fill="#1a1a1a"/>
<text x="1378.4" y="338.8" font-size="34" text-anchor="start">RIPK3-OVA DC</text>
<path d="M1660.2 452V175.3H1722.8V339.4" stroke="#1a1a1a" stroke-width="3.6" fill="none"/>
<text x="1691.5" y="172.7" font-size="40" text-anchor="middle" font-weight="bold">***</text>
<path d="M1890.3 307.8V175.3H1952.8V201.5" stroke="#1a1a1a" stroke-width="3.6" fill="none"/>
<text x="1921.5" y="172.7" font-size="40" text-anchor="middle" font-weight="bold">**</text>
<text transform="translate(1193,431) rotate(-90)" font-size="34" text-anchor="middle">% CD44<tspan font-size="20" baseline-shift="12">+</tspan> OT-I cells</text>
<text transform="translate(1243,431) rotate(-90)" font-size="34" text-anchor="middle">(of live CD3<tspan font-size="20" baseline-shift="12">+</tspan>)</text>
<text x="1660" y="1016.2" font-size="34" text-anchor="middle">PD-1</text>
<circle cx="1355.9" cy="1541.9" r="7" fill="#1a1a1a"/>
<circle cx="1368.4" cy="1541.9" r="7" fill="#1a1a1a"/>
<circle cx="1380.9" cy="1541.9" r="7" fill="#1a1a1a"/>
<path d="M1418.9 1534.2L1425.9 1547H1411.9Z" fill="#1a1a1a"/>
<path d="M1431.4 1534.2L1438.4 1547H1424.4Z" fill="#1a1a1a"/>
<path d="M1443.9 1534.2L1450.9 1547H1436.9Z" fill="#1a1a1a"/>
<rect x="1475.2" y="1535.2" width="13.5" height="13.5" fill="#1a1a1a"/>
<rect x="1487.7" y="1535.2" width="13.5" height="13.5" fill="#1a1a1a"/>
<rect x="1500.2" y="1535.2" width="13.5" height="13.5" fill="#1a1a1a"/>
<circle cx="1584.5" cy="1541.9" r="7" fill="#1a1a1a"/>
<circle cx="1597" cy="1541.9" r="7" fill="#1a1a1a"/>
<circle cx="1609.5" cy="1541.9" r="7" fill="#1a1a1a"/>
<rect x="1639.8" y="1525.5" width="40.3" height="16.4" fill="#4682b9" stroke="#1a1a1a" stroke-width="2.2"/>
<line x1="1660" y1="1510" x2="1660" y2="1538.8" stroke="#1a1a1a" stroke-width="2.2"/>
<line x1="1649.5" y1="1510" x2="1670.5" y2="1510" stroke="#1a1a1a" stroke-width="2.2"/>
<line x1="1649.5" y1="1538.8" x2="1670.5" y2="1538.8" stroke="#1a1a1a" stroke-width="2.2"/>
<path d="M1646 1507.7L1653 1520.5H1639Z" fill="#1a1a1a"/>
<path d="M1674 1509.9L1681 1522.7H1667Z" fill="#1a1a1a"/>
<path d="M1660 1531.1L1667 1543.9H1653Z" fill="#1a1a1a"/>
<rect x="1702.8" y="1379.1" width="40.3" height="162.8" fill="#e67e30" stroke="#1a1a1a" stroke-width="2.2"/>
<line x1="1723" y1="1326.9" x2="1723" y2="1431.3" stroke="#1a1a1a" stroke-width="2.2"/>
<line x1="1712.5" y1="1326.9" x2="1733.5" y2="1326.9" stroke="#1a1a1a" stroke-width="2.2"/>
<line x1="1712.5" y1="1431.3" x2="1733.5" y2="1431.3" stroke="#1a1a1a" stroke-width="2.2"/>
<rect x="1716.2" y="1327.2" width="13.5" height="13.5" fill="#1a1a1a"/>
<rect x="1716.2" y="1359.1" width="13.5" height="13.5" fill="#1a1a1a"/>
<rect x="1716.2" y="1429.4" width="13.5" height="13.5" fill="#1a1a1a"/>
<rect x="1805.4" y="1529.1" width="40.3" height="12.8" fill="#878787" stroke="#1a1a1a" stroke-width="2.2"/>
<line x1="1825.6" y1="1521.5" x2="1825.6" y2="1536.1" stroke="#1a1a1a" stroke-width="2.2"/>
<line x1="1815.1" y1="1521.5" x2="1836.1" y2="1521.5" stroke="#1a1a1a" stroke-width="2.2"/>
<line x1="1815.1" y1="1536.1" x2="1836.1" y2="1536.1" stroke="#1a1a1a" stroke-width="2.2"/>
<circle cx="1813.6" cy="1533.1" r="7" fill="#1a1a1a"/>
<circle cx="1825.6" cy="1520.7" r="7" fill="#1a1a1a"/>
<circle cx="1837.6" cy="1531.3" r="7" fill="#1a1a1a"/>
<rect x="1868.4" y="1288.4" width="40.3" height="253.5" fill="#4682b9" stroke="#1a1a1a" stroke-width="2.2"/>
<line x1="1888.6" y1="1279.1" x2="1888.6" y2="1296.8" stroke="#1a1a1a" stroke-width="2.2"/>
<line x1="1878.1" y1="1279.1" x2="1899.1" y2="1279.1" stroke="#1a1a1a" stroke-width="2.2"/>
<line x1="1878.1" y1="1296.8" x2="1899.1" y2="1296.8" stroke="#1a1a1a" stroke-width="2.2"/>
<path d="M1874.6 1290L1881.6 1302.8H1867.6Z" fill="#1a1a1a"/>
<path d="M1888.6 1270.5L1895.6 1283.4H1881.6Z" fill="#1a1a1a"/>
<path d="M1902.6 1290L1909.6 1302.8H1895.6Z" fill="#1a1a1a"/>
<rect x="1931.4" y="1200.4" width="40.3" height="341.5" fill="#e67e30" stroke="#1a1a1a" stroke-width="2.2"/>
<line x1="1951.6" y1="1125.6" x2="1951.6" y2="1274.2" stroke="#1a1a1a" stroke-width="2.2"/>
<line x1="1941.1" y1="1125.6" x2="1962.1" y2="1125.6" stroke="#1a1a1a" stroke-width="2.2"/>
<line x1="1941.1" y1="1274.2" x2="1962.1" y2="1274.2" stroke="#1a1a1a" stroke-width="2.2"/>
<rect x="1944.8" y="1125.5" width="13.5" height="13.5" fill="#1a1a1a"/>
<rect x="1944.8" y="1179.5" width="13.5" height="13.5" fill="#1a1a1a"/>
<rect x="1944.8" y="1273.2" width="13.5" height="13.5" fill="#1a1a1a"/>
<line x1="1329" y1="1097.6" x2="1329" y2="1543.8" stroke="#1a1a1a" stroke-width="3.8"/>
<line x1="1311" y1="1541.9" x2="1997" y2="1541.9" stroke="#1a1a1a" stroke-width="3.8"/>
<line x1="1311" y1="1541.9" x2="1329" y2="1541.9" stroke="#1a1a1a" stroke-width="3.8"/>
<text x="1304.5" y="1553.7" font-size="33" text-anchor="end">0</text>
<line x1="1311" y1="1453.4" x2="1329" y2="1453.4" stroke="#1a1a1a" stroke-width="3.8"/>
<text x="1304.5" y="1465.2" font-size="33" text-anchor="end">20</text>
<line x1="1311" y1="1364.9" x2="1329" y2="1364.9" stroke="#1a1a1a" stroke-width="3.8"/>
<text x="1304.5" y="1376.7" font-size="33" text-anchor="end">40</text>
<line x1="1311" y1="1276.5" x2="1329" y2="1276.5" stroke="#1a1a1a" stroke-width="3.8"/>
<text x="1304.5" y="1288.3" font-size="33" text-anchor="end">60</text>
<line x1="1311" y1="1188" x2="1329" y2="1188" stroke="#1a1a1a" stroke-width="3.8"/>
<text x="1304.5" y="1199.8" font-size="33" text-anchor="end">80</text>
<line x1="1311" y1="1099.5" x2="1329" y2="1099.5" stroke="#1a1a1a" stroke-width="3.8"/>
<text x="1304.5" y="1111.3" font-size="33" text-anchor="end">100</text>
<line x1="1431.4" y1="1541.9" x2="1431.4" y2="1560.4" stroke="#1a1a1a" stroke-width="3.8"/>
<text x="1431.4" y="1591" font-size="33" text-anchor="middle">1</text>
<line x1="1660" y1="1541.9" x2="1660" y2="1560.4" stroke="#1a1a1a" stroke-width="3.8"/>
<text x="1660" y="1591" font-size="33" text-anchor="middle">2</text>
<line x1="1888.6" y1="1541.9" x2="1888.6" y2="1560.4" stroke="#1a1a1a" stroke-width="3.8"/>
<text x="1888.6" y="1591" font-size="33" text-anchor="middle">3</text>
<text x="1660" y="1626.7" font-size="34" text-anchor="middle">Days</text>
<circle cx="1352.9" cy="1124" r="7" fill="#1a1a1a"/>
<text x="1381.9" y="1135.5" font-size="34" text-anchor="start">Unloaded DC</text>
<path d="M1352.9 1168.7L1359.9 1181.5H1345.9Z" fill="#1a1a1a"/>
<text x="1381.9" y="1187.9" font-size="34" text-anchor="start">BimS-OVA DC</text>
<rect x="1346.2" y="1222" width="13.5" height="13.5" fill="#1a1a1a"/>
<text x="1381.9" y="1240.3" font-size="34" text-anchor="start">RIPK3-OVA DC</text>
<path d="M1660 1483.8V1073H1723.3V1300.5" stroke="#1a1a1a" stroke-width="3.6" fill="none"/>
<text x="1691.7" y="1070.4" font-size="40" text-anchor="middle" font-weight="bold">****</text>
<path d="M1888.6 1248V1073H1951.9V1099" stroke="#1a1a1a" stroke-width="3.6" fill="none"/>
<text x="1920.2" y="1070.4" font-size="40" text-anchor="middle" font-weight="bold">**</text>
<text transform="translate(1207,1320) rotate(-90)" font-size="34" text-anchor="middle">% CTV<tspan font-size="20" baseline-shift="12">-</tspan>PD-1<tspan font-size="20" baseline-shift="12">+</tspan> OT-I cells</text>
<text transform="translate(1252.5,1320) rotate(-90)" font-size="34" text-anchor="middle">(of live CD3<tspan font-size="20" baseline-shift="12">+</tspan>)</text>
<text x="1660" y="1775.2" font-size="34" text-anchor="middle">T-bet</text>
<circle cx="1355.9" cy="2255.2" r="7" fill="#1a1a1a"/>
<circle cx="1368.4" cy="2255.2" r="7" fill="#1a1a1a"/>
<circle cx="1380.9" cy="2255.2" r="7" fill="#1a1a1a"/>
<path d="M1418.9 2247.5L1425.9 2260.3H1411.9Z" fill="#1a1a1a"/>
<path d="M1431.4 2247.5L1438.4 2260.3H1424.4Z" fill="#1a1a1a"/>
<path d="M1443.9 2247.5L1450.9 2260.3H1436.9Z" fill="#1a1a1a"/>
<rect x="1475.2" y="2248.4" width="13.5" height="13.5" fill="#1a1a1a"/>
<rect x="1487.7" y="2248.4" width="13.5" height="13.5" fill="#1a1a1a"/>
<rect x="1500.2" y="2248.4" width="13.5" height="13.5" fill="#1a1a1a"/>
<circle cx="1584.5" cy="2255.2" r="7" fill="#1a1a1a"/>
<circle cx="1597" cy="2255.2" r="7" fill="#1a1a1a"/>
<circle cx="1609.5" cy="2255.2" r="7" fill="#1a1a1a"/>
<rect x="1639.8" y="2233.9" width="40.3" height="21.3" fill="#4682b9" stroke="#1a1a1a" stroke-width="2.2"/>
<line x1="1660" y1="2217.9" x2="1660" y2="2249" stroke="#1a1a1a" stroke-width="2.2"/>
<line x1="1649.5" y1="2217.9" x2="1670.5" y2="2217.9" stroke="#1a1a1a" stroke-width="2.2"/>
<line x1="1649.5" y1="2249" x2="1670.5" y2="2249" stroke="#1a1a1a" stroke-width="2.2"/>
<path d="M1645.7 2220.4L1652.7 2233.2H1638.7Z" fill="#1a1a1a"/>
<path d="M1674.3 2222.6L1681.3 2235.5H1667.3Z" fill="#1a1a1a"/>
<path d="M1660 2245.7L1667 2258.6H1653Z" fill="#1a1a1a"/>
<rect x="1702.8" y="2150.4" width="40.3" height="104.8" fill="#e67e30" stroke="#1a1a1a" stroke-width="2.2"/>
<line x1="1723" y1="2111.7" x2="1723" y2="2186.8" stroke="#1a1a1a" stroke-width="2.2"/>
<line x1="1712.5" y1="2111.7" x2="1733.5" y2="2111.7" stroke="#1a1a1a" stroke-width="2.2"/>
<line x1="1712.5" y1="2186.8" x2="1733.5" y2="2186.8" stroke="#1a1a1a" stroke-width="2.2"/>
<rect x="1716.2" y="2105.4" width="13.5" height="13.5" fill="#1a1a1a"/>
<rect x="1716.2" y="2143.6" width="13.5" height="13.5" fill="#1a1a1a"/>
<rect x="1716.2" y="2179.2" width="13.5" height="13.5" fill="#1a1a1a"/>
<rect x="1805.4" y="2246.8" width="40.3" height="8.4" fill="#878787" stroke="#1a1a1a" stroke-width="2.2"/>
<line x1="1825.6" y1="2244.1" x2="1825.6" y2="2249.4" stroke="#1a1a1a" stroke-width="2.2"/>
<line x1="1815.1" y1="2244.1" x2="1836.1" y2="2244.1" stroke="#1a1a1a" stroke-width="2.2"/>
<line x1="1815.1" y1="2249.4" x2="1836.1" y2="2249.4" stroke="#1a1a1a" stroke-width="2.2"/>
<circle cx="1813.6" cy="2248.5" r="7" fill="#1a1a1a"/>
<circle cx="1825.6" cy="2245.4" r="7" fill="#1a1a1a"/>
<circle cx="1837.6" cy="2248.5" r="7" fill="#1a1a1a"/>
<rect x="1868.4" y="2174.4" width="40.3" height="80.8" fill="#4682b9" stroke="#1a1a1a" stroke-width="2.2"/>
<line x1="1888.6" y1="2095.3" x2="1888.6" y2="2253.9" stroke="#1a1a1a" stroke-width="2.2"/>
<line x1="1878.1" y1="2095.3" x2="1899.1" y2="2095.3" stroke="#1a1a1a" stroke-width="2.2"/>
<line x1="1878.1" y1="2253.9" x2="1899.1" y2="2253.9" stroke="#1a1a1a" stroke-width="2.2"/>
<path d="M1888.6 2076L1895.6 2088.9H1881.6Z" fill="#1a1a1a"/>
<path d="M1888.6 2204L1895.6 2216.8H1881.6Z" fill="#1a1a1a"/>
<path d="M1888.6 2220L1895.6 2232.8H1881.6Z" fill="#1a1a1a"/>
<path d="M1888.6 2246.2L1895.6 2259H1881.6Z" fill="#1a1a1a"/>
<rect x="1931.4" y="2029.1" width="40.3" height="226.1" fill="#e67e30" stroke="#1a1a1a" stroke-width="2.2"/>
<line x1="1951.6" y1="1901.2" x2="1951.6" y2="2154.8" stroke="#1a1a1a" stroke-width="2.2"/>
<line x1="1941.1" y1="1901.2" x2="1962.1" y2="1901.2" stroke="#1a1a1a" stroke-width="2.2"/>
<line x1="1941.1" y1="2154.8" x2="1962.1" y2="2154.8" stroke="#1a1a1a" stroke-width="2.2"/>
<rect x="1944.8" y="1907.3" width="13.5" height="13.5" fill="#1a1a1a"/>
<rect x="1944.8" y="1999.3" width="13.5" height="13.5" fill="#1a1a1a"/>
<rect x="1944.8" y="2158.7" width="13.5" height="13.5" fill="#1a1a1a"/>
<line x1="1327.6" y1="1809.1" x2="1327.6" y2="2257.1" stroke="#1a1a1a" stroke-width="3.8"/>
<line x1="1309.6" y1="2255.2" x2="1997" y2="2255.2" stroke="#1a1a1a" stroke-width="3.8"/>
<line x1="1309.6" y1="2255.2" x2="1327.6" y2="2255.2" stroke="#1a1a1a" stroke-width="3.8"/>
<text x="1303.1" y="2267" font-size="33" text-anchor="end">0</text>
<line x1="1309.6" y1="2166.4" x2="1327.6" y2="2166.4" stroke="#1a1a1a" stroke-width="3.8"/>
<text x="1303.1" y="2178.2" font-size="33" text-anchor="end">20</text>
<line x1="1309.6" y1="2077.5" x2="1327.6" y2="2077.5" stroke="#1a1a1a" stroke-width="3.8"/>
<text x="1303.1" y="2089.3" font-size="33" text-anchor="end">40</text>
<line x1="1309.6" y1="1988.7" x2="1327.6" y2="1988.7" stroke="#1a1a1a" stroke-width="3.8"/>
<text x="1303.1" y="2000.5" font-size="33" text-anchor="end">60</text>
<line x1="1309.6" y1="1899.8" x2="1327.6" y2="1899.8" stroke="#1a1a1a" stroke-width="3.8"/>
<text x="1303.1" y="1911.6" font-size="33" text-anchor="end">80</text>
<line x1="1309.6" y1="1811" x2="1327.6" y2="1811" stroke="#1a1a1a" stroke-width="3.8"/>
<text x="1303.1" y="1822.8" font-size="33" text-anchor="end">100</text>
<line x1="1431.4" y1="2255.2" x2="1431.4" y2="2273.7" stroke="#1a1a1a" stroke-width="3.8"/>
<text x="1431.4" y="2306" font-size="33" text-anchor="middle">1</text>
<line x1="1660" y1="2255.2" x2="1660" y2="2273.7" stroke="#1a1a1a" stroke-width="3.8"/>
<text x="1660" y="2306" font-size="33" text-anchor="middle">2</text>
<line x1="1888.6" y1="2255.2" x2="1888.6" y2="2273.7" stroke="#1a1a1a" stroke-width="3.8"/>
<text x="1888.6" y="2306" font-size="33" text-anchor="middle">3</text>
<text x="1660" y="2344.3" font-size="34" text-anchor="middle">Days</text>
<circle cx="1352.9" cy="1835" r="7" fill="#1a1a1a"/>
<text x="1381.9" y="1846.5" font-size="34" text-anchor="start">Unloaded DC</text>
<path d="M1352.9 1879.7L1359.9 1892.5H1345.9Z" fill="#1a1a1a"/>
<text x="1381.9" y="1898.9" font-size="34" text-anchor="start">BimS-OVA DC</text>
<rect x="1346.2" y="1933" width="13.5" height="13.5" fill="#1a1a1a"/>
<text x="1381.9" y="1951.3" font-size="34" text-anchor="start">RIPK3-OVA DC</text>
<path d="M1660 2191.9V1847.6H1723.3V2085.7" stroke="#1a1a1a" stroke-width="3.6" fill="none"/>
<text x="1691.7" y="1834" font-size="36" text-anchor="middle">ns</text>
<path d="M1887.8 2056.2V1847.6H1951.9V1874.3" stroke="#1a1a1a" stroke-width="3.6" fill="none"/>
<text x="1919.8" y="1845" font-size="40" text-anchor="middle" font-weight="bold">**</text>
<text transform="translate(1207,2031) rotate(-90)" font-size="34" text-anchor="middle">% CTV<tspan font-size="20" baseline-shift="12">-</tspan>T-bet<tspan font-size="20" baseline-shift="12">+</tspan> OT-I cells</text>
<text transform="translate(1252.5,2031) rotate(-90)" font-size="34" text-anchor="middle">(of live CD3<tspan font-size="20" baseline-shift="12">+</tspan>)</text>
<text x="-0.5" y="1040" font-size="43.5" text-anchor="start">C</text>
<text x="649" y="1053.5" font-size="34" text-anchor="middle">Day 3</text>
<text x="-0.8" y="1759.5" font-size="43.5" text-anchor="start">D</text>
<text x="649" y="1773" font-size="34" text-anchor="middle">Day 3</text>
<text x="293.9" y="1114.5" font-size="34" text-anchor="middle">Unloaded DC</text>
<rect x="125" y="1131.8" width="320.5" height="320.5" fill="none" stroke="#1a1a1a" stroke-width="1.6"/>
<path d="M136.8 1452.3v12.5M140.3 1452.3v12.5M144.1 1452.3v12.5M148.3 1452.3v12.5M152.7 1452.3v12.5M157.6 1452.3v12.5M162.9 1452.3v12.5M168.5 1452.3v12.5M174.4 1452.3v12.5M186.6 1452.3v12.5M192.5 1452.3v12.5M198.1 1452.3v12.5M203.4 1452.3v12.5M208.3 1452.3v12.5M212.7 1452.3v12.5M216.9 1452.3v12.5M220.7 1452.3v12.5M224.2 1452.3v12.5M250.6 1452.3v12.5M264.9 1452.3v12.5M275.2 1452.3v12.5M283.3 1452.3v12.5M289.9 1452.3v12.5M295.4 1452.3v12.5M300.3 1452.3v12.5M304.6 1452.3v12.5M333.6 1452.3v12.5M348.4 1452.3v12.5M358.8 1452.3v12.5M366.9 1452.3v12.5M373.6 1452.3v12.5M379.2 1452.3v12.5M384.1 1452.3v12.5M388.3 1452.3v12.5M417.4 1452.3v12.5M432.2 1452.3v12.5M442.6 1452.3v12.5M133.6 1452.3v16.5M227.4 1452.3v16.5M308.4 1452.3v16.5M392.2 1452.3v16.5" stroke="#1a1a1a" stroke-width="1.2" fill="none"/>
<rect x="174" y="1452.3" width="13" height="12.5" fill="#1a1a1a"/>
<path d="M174.6 1452.3v16.5M180.5 1452.3v16.5M186.4 1452.3v16.5" stroke="#1a1a1a" stroke-width="1.3"/>
<path d="M125 1439h-12.5M125 1435.5h-12.5M125 1431.8h-12.5M125 1427.7h-12.5M125 1423.3h-12.5M125 1418.5h-12.5M125 1413.3h-12.5M125 1407.8h-12.5M125 1402h-12.5M125 1390h-12.5M125 1384.2h-12.5M125 1378.7h-12.5M125 1373.5h-12.5M125 1368.7h-12.5M125 1364.3h-12.5M125 1360.2h-12.5M125 1356.5h-12.5M125 1353h-12.5M125 1327h-12.5M125 1312.8h-12.5M125 1302.6h-12.5M125 1294.6h-12.5M125 1288.1h-12.5M125 1282.6h-12.5M125 1277.8h-12.5M125 1273.6h-12.5M125 1244.9h-12.5M125 1230.3h-12.5M125 1219.9h-12.5M125 1211.9h-12.5M125 1205.3h-12.5M125 1199.8h-12.5M125 1195h-12.5M125 1190.7h-12.5M125 1162h-12.5M125 1147.4h-12.5M125 1137h-12.5M125 1442.2h-16.5M125 1349.8h-16.5M125 1269.8h-16.5M125 1186.9h-16.5" stroke="#1a1a1a" stroke-width="1.2" fill="none"/>
<rect x="112.5" y="1389.6" width="12.5" height="12.7" fill="#1a1a1a"/>
<path d="M125 1390.2h-16.5M125 1396h-16.5M125 1401.8h-16.5" stroke="#1a1a1a" stroke-width="1.3"/>
<rect x="129" y="1150.1" width="219.1" height="226.5" fill="none" stroke="#1a1a1a" stroke-width="3.2"/>
<text x="141" y="1187" font-size="30" text-anchor="start">2.1%</text>
<text x="393.2" y="1501.4" font-size="33.5" text-anchor="middle">10<tspan font-size="20" baseline-shift="11">6</tspan></text>
<text x="309.4" y="1501.4" font-size="33.5" text-anchor="middle">10<tspan font-size="20" baseline-shift="11">5</tspan></text>
<text x="228.4" y="1501.4" font-size="33.5" text-anchor="middle">10<tspan font-size="20" baseline-shift="11">4</tspan></text>
<text x="180.5" y="1501.4" font-size="33.5" text-anchor="middle">0</text>
<text x="133.1" y="1501.4" font-size="33.5" text-anchor="middle">-10<tspan font-size="20" baseline-shift="11">4</tspan></text>
<text x="105.5" y="1361.4" font-size="33.5" text-anchor="end">10<tspan font-size="20" baseline-shift="11">4</tspan></text>
<text x="105.5" y="1281.4" font-size="33.5" text-anchor="end">10<tspan font-size="20" baseline-shift="11">5</tspan></text>
<text x="105.5" y="1198.5" font-size="33.5" text-anchor="end">10<tspan font-size="20" baseline-shift="11">6</tspan></text>
<text x="105.5" y="1407.6" font-size="33.5" text-anchor="end">0</text>
<text x="105.5" y="1453.8" font-size="33.5" text-anchor="end">-10<tspan font-size="20" baseline-shift="11">4</tspan></text>
<text x="644.6" y="1114.5" font-size="34" text-anchor="middle">BimS-OVA DC</text>
<rect x="478.8" y="1131.8" width="320.5" height="320.5" fill="none" stroke="#1a1a1a" stroke-width="1.6"/>
<path d="M490.6 1452.3v12.5M494.1 1452.3v12.5M497.9 1452.3v12.5M502.1 1452.3v12.5M506.5 1452.3v12.5M511.4 1452.3v12.5M516.7 1452.3v12.5M522.3 1452.3v12.5M528.2 1452.3v12.5M540.4 1452.3v12.5M546.3 1452.3v12.5M551.9 1452.3v12.5M557.2 1452.3v12.5M562.1 1452.3v12.5M566.5 1452.3v12.5M570.7 1452.3v12.5M574.5 1452.3v12.5M578 1452.3v12.5M604.4 1452.3v12.5M618.7 1452.3v12.5M629 1452.3v12.5M637.1 1452.3v12.5M643.7 1452.3v12.5M649.2 1452.3v12.5M654.1 1452.3v12.5M658.4 1452.3v12.5M687.4 1452.3v12.5M702.2 1452.3v12.5M712.6 1452.3v12.5M720.7 1452.3v12.5M727.4 1452.3v12.5M733 1452.3v12.5M737.9 1452.3v12.5M742.1 1452.3v12.5M771.2 1452.3v12.5M786 1452.3v12.5M796.4 1452.3v12.5M487.4 1452.3v16.5M581.2 1452.3v16.5M662.2 1452.3v16.5M746 1452.3v16.5" stroke="#1a1a1a" stroke-width="1.2" fill="none"/>
<rect x="527.8" y="1452.3" width="13" height="12.5" fill="#1a1a1a"/>
<path d="M528.4 1452.3v16.5M534.3 1452.3v16.5M540.2 1452.3v16.5" stroke="#1a1a1a" stroke-width="1.3"/>
<path d="M478.8 1439h-12.5M478.8 1435.5h-12.5M478.8 1431.8h-12.5M478.8 1427.7h-12.5M478.8 1423.3h-12.5M478.8 1418.5h-12.5M478.8 1413.3h-12.5M478.8 1407.8h-12.5M478.8 1402h-12.5M478.8 1390h-12.5M478.8 1384.2h-12.5M478.8 1378.7h-12.5M478.8 1373.5h-12.5M478.8 1368.7h-12.5M478.8 1364.3h-12.5M478.8 1360.2h-12.5M478.8 1356.5h-12.5M478.8 1353h-12.5M478.8 1327h-12.5M478.8 1312.8h-12.5M478.8 1302.6h-12.5M478.8 1294.6h-12.5M478.8 1288.1h-12.5M478.8 1282.6h-12.5M478.8 1277.8h-12.5M478.8 1273.6h-12.5M478.8 1244.9h-12.5M478.8 1230.3h-12.5M478.8 1219.9h-12.5M478.8 1211.9h-12.5M478.8 1205.3h-12.5M478.8 1199.8h-12.5M478.8 1195h-12.5M478.8 1190.7h-12.5M478.8 1162h-12.5M478.8 1147.4h-12.5M478.8 1137h-12.5M478.8 1442.2h-16.5M478.8 1349.8h-16.5M478.8 1269.8h-16.5M478.8 1186.9h-16.5" stroke="#1a1a1a" stroke-width="1.2" fill="none"/>
<rect x="466.3" y="1389.6" width="12.5" height="12.7" fill="#1a1a1a"/>
<path d="M478.8 1390.2h-16.5M478.8 1396h-16.5M478.8 1401.8h-16.5" stroke="#1a1a1a" stroke-width="1.3"/>
<rect x="482.8" y="1150.1" width="218.4" height="226.5" fill="none" stroke="#1a1a1a" stroke-width="3.2"/>
<text x="494.8" y="1187" font-size="30" text-anchor="start">60.6%</text>
<text x="747" y="1501.4" font-size="33.5" text-anchor="middle">10<tspan font-size="20" baseline-shift="11">6</tspan></text>
<text x="663.2" y="1501.4" font-size="33.5" text-anchor="middle">10<tspan font-size="20" baseline-shift="11">5</tspan></text>
<text x="582.2" y="1501.4" font-size="33.5" text-anchor="middle">10<tspan font-size="20" baseline-shift="11">4</tspan></text>
<text x="534.3" y="1501.4" font-size="33.5" text-anchor="middle">0</text>
<text x="486.9" y="1501.4" font-size="33.5" text-anchor="middle">-10<tspan font-size="20" baseline-shift="11">4</tspan></text>
<text x="996.7" y="1114.5" font-size="34" text-anchor="middle">RIPK3-OVA DC</text>
<rect x="831.8" y="1131.8" width="320.5" height="320.5" fill="none" stroke="#1a1a1a" stroke-width="1.6"/>
<path d="M843.6 1452.3v12.5M847.1 1452.3v12.5M850.9 1452.3v12.5M855.1 1452.3v12.5M859.5 1452.3v12.5M864.4 1452.3v12.5M869.7 1452.3v12.5M875.3 1452.3v12.5M881.2 1452.3v12.5M893.4 1452.3v12.5M899.3 1452.3v12.5M904.9 1452.3v12.5M910.2 1452.3v12.5M915.1 1452.3v12.5M919.5 1452.3v12.5M923.7 1452.3v12.5M927.5 1452.3v12.5M931 1452.3v12.5M957.4 1452.3v12.5M971.7 1452.3v12.5M982 1452.3v12.5M990.1 1452.3v12.5M996.7 1452.3v12.5M1002.2 1452.3v12.5M1007.1 1452.3v12.5M1011.4 1452.3v12.5M1040.4 1452.3v12.5M1055.2 1452.3v12.5M1065.6 1452.3v12.5M1073.7 1452.3v12.5M1080.4 1452.3v12.5M1086 1452.3v12.5M1090.9 1452.3v12.5M1095.1 1452.3v12.5M1124.2 1452.3v12.5M1139 1452.3v12.5M1149.4 1452.3v12.5M840.4 1452.3v16.5M934.2 1452.3v16.5M1015.2 1452.3v16.5M1099 1452.3v16.5" stroke="#1a1a1a" stroke-width="1.2" fill="none"/>
<rect x="880.8" y="1452.3" width="13" height="12.5" fill="#1a1a1a"/>
<path d="M881.4 1452.3v16.5M887.3 1452.3v16.5M893.2 1452.3v16.5" stroke="#1a1a1a" stroke-width="1.3"/>
<path d="M831.8 1439h-12.5M831.8 1435.5h-12.5M831.8 1431.8h-12.5M831.8 1427.7h-12.5M831.8 1423.3h-12.5M831.8 1418.5h-12.5M831.8 1413.3h-12.5M831.8 1407.8h-12.5M831.8 1402h-12.5M831.8 1390h-12.5M831.8 1384.2h-12.5M831.8 1378.7h-12.5M831.8 1373.5h-12.5M831.8 1368.7h-12.5M831.8 1364.3h-12.5M831.8 1360.2h-12.5M831.8 1356.5h-12.5M831.8 1353h-12.5M831.8 1327h-12.5M831.8 1312.8h-12.5M831.8 1302.6h-12.5M831.8 1294.6h-12.5M831.8 1288.1h-12.5M831.8 1282.6h-12.5M831.8 1277.8h-12.5M831.8 1273.6h-12.5M831.8 1244.9h-12.5M831.8 1230.3h-12.5M831.8 1219.9h-12.5M831.8 1211.9h-12.5M831.8 1205.3h-12.5M831.8 1199.8h-12.5M831.8 1195h-12.5M831.8 1190.7h-12.5M831.8 1162h-12.5M831.8 1147.4h-12.5M831.8 1137h-12.5M831.8 1442.2h-16.5M831.8 1349.8h-16.5M831.8 1269.8h-16.5M831.8 1186.9h-16.5" stroke="#1a1a1a" stroke-width="1.2" fill="none"/>
<rect x="819.3" y="1389.6" width="12.5" height="12.7" fill="#1a1a1a"/>
<path d="M831.8 1390.2h-16.5M831.8 1396h-16.5M831.8 1401.8h-16.5" stroke="#1a1a1a" stroke-width="1.3"/>
<rect x="835.8" y="1150.1" width="218.5" height="226.5" fill="none" stroke="#1a1a1a" stroke-width="3.2"/>
<text x="847.8" y="1187" font-size="30" text-anchor="start">92.6%</text>
<text x="1100" y="1501.4" font-size="33.5" text-anchor="middle">10<tspan font-size="20" baseline-shift="11">6</tspan></text>
<text x="1016.2" y="1501.4" font-size="33.5" text-anchor="middle">10<tspan font-size="20" baseline-shift="11">5</tspan></text>
<text x="935.2" y="1501.4" font-size="33.5" text-anchor="middle">10<tspan font-size="20" baseline-shift="11">4</tspan></text>
<text x="887.3" y="1501.4" font-size="33.5" text-anchor="middle">0</text>
<text x="839.9" y="1501.4" font-size="33.5" text-anchor="middle">-10<tspan font-size="20" baseline-shift="11">4</tspan></text>
<text x="126.5" y="1548" font-size="33.8" text-anchor="start">CellTrace Violet</text>
<line x1="374" y1="1539.2" x2="1131" y2="1539.2" stroke="#1a1a1a" stroke-width="2.4"/>
<path d="M1144 1539.2L1130.5 1532.6V1545.8Z" fill="#1a1a1a"/>
<text transform="translate(35.5,1293) rotate(-90)" font-size="34" text-anchor="middle">PD-1-APC/Fire810</text>
<text x="293.9" y="1825.7" font-size="34" text-anchor="middle">Unloaded DC</text>
<rect x="125" y="1841.9" width="320.5" height="320" fill="none" stroke="#1a1a1a" stroke-width="1.6"/>
<path d="M136.8 2161.9v12.5M140.3 2161.9v12.5M144.1 2161.9v12.5M148.3 2161.9v12.5M152.7 2161.9v12.5M157.6 2161.9v12.5M162.9 2161.9v12.5M168.5 2161.9v12.5M174.4 2161.9v12.5M186.6 2161.9v12.5M192.5 2161.9v12.5M198.1 2161.9v12.5M203.4 2161.9v12.5M208.3 2161.9v12.5M212.7 2161.9v12.5M216.9 2161.9v12.5M220.7 2161.9v12.5M224.2 2161.9v12.5M250.6 2161.9v12.5M264.9 2161.9v12.5M275.2 2161.9v12.5M283.3 2161.9v12.5M289.9 2161.9v12.5M295.4 2161.9v12.5M300.3 2161.9v12.5M304.6 2161.9v12.5M333.6 2161.9v12.5M348.4 2161.9v12.5M358.8 2161.9v12.5M366.9 2161.9v12.5M373.6 2161.9v12.5M379.2 2161.9v12.5M384.1 2161.9v12.5M388.3 2161.9v12.5M417.4 2161.9v12.5M432.2 2161.9v12.5M442.6 2161.9v12.5M133.6 2161.9v16.5M227.4 2161.9v16.5M308.4 2161.9v16.5M392.2 2161.9v16.5" stroke="#1a1a1a" stroke-width="1.2" fill="none"/>
<rect x="174" y="2161.9" width="13" height="12.5" fill="#1a1a1a"/>
<path d="M174.6 2161.9v16.5M180.5 2161.9v16.5M186.4 2161.9v16.5" stroke="#1a1a1a" stroke-width="1.3"/>
<path d="M125 2156.8h-12.5M125 2150.4h-12.5M125 2143.5h-12.5M125 2135.9h-12.5M125 2127.7h-12.5M125 2118.8h-12.5M125 2109.1h-12.5M125 2098.7h-12.5M125 2087.8h-12.5M125 2065.4h-12.5M125 2054.5h-12.5M125 2044.1h-12.5M125 2034.4h-12.5M125 2025.5h-12.5M125 2017.3h-12.5M125 2009.7h-12.5M125 2002.8h-12.5M125 1996.4h-12.5M125 1948.4h-12.5M125 1922.4h-12.5M125 1903.7h-12.5M125 1889.1h-12.5M125 1877.1h-12.5M125 1867h-12.5M125 1858.2h-12.5M125 1850.4h-12.5M125 1990.5h-16.5M125 1843.5h-16.5" stroke="#1a1a1a" stroke-width="1.2" fill="none"/>
<rect x="112.5" y="2065" width="12.5" height="23.2" fill="#1a1a1a"/>
<path d="M125 2065.6h-16.5M125 2076.6h-16.5M125 2087.6h-16.5" stroke="#1a1a1a" stroke-width="1.3"/>
<rect x="127.8" y="1848.5" width="220.3" height="218.3" fill="none" stroke="#1a1a1a" stroke-width="3.2"/>
<text x="141" y="1883.6" font-size="30" text-anchor="start">2.6%</text>
<text x="393.2" y="2211" font-size="33.5" text-anchor="middle">10<tspan font-size="20" baseline-shift="11">6</tspan></text>
<text x="309.4" y="2211" font-size="33.5" text-anchor="middle">10<tspan font-size="20" baseline-shift="11">5</tspan></text>
<text x="228.4" y="2211" font-size="33.5" text-anchor="middle">10<tspan font-size="20" baseline-shift="11">4</tspan></text>
<text x="180.5" y="2211" font-size="33.5" text-anchor="middle">0</text>
<text x="133.1" y="2211" font-size="33.5" text-anchor="middle">-10<tspan font-size="20" baseline-shift="11">4</tspan></text>
<text x="105.5" y="2002.1" font-size="33.5" text-anchor="end">10<tspan font-size="20" baseline-shift="11">4</tspan></text>
<text x="105.5" y="1855.1" font-size="33.5" text-anchor="end">10<tspan font-size="20" baseline-shift="11">5</tspan></text>
<text x="105.5" y="2088.2" font-size="33.5" text-anchor="end">0</text>
<text x="105.5" y="2174.3" font-size="33.5" text-anchor="end">-10<tspan font-size="20" baseline-shift="11">4</tspan></text>
<text x="644.6" y="1825.7" font-size="34" text-anchor="middle">BimS-OVA DC</text>
<rect x="478.8" y="1841.9" width="320.5" height="320" fill="none" stroke="#1a1a1a" stroke-width="1.6"/>
<path d="M490.6 2161.9v12.5M494.1 2161.9v12.5M497.9 2161.9v12.5M502.1 2161.9v12.5M506.5 2161.9v12.5M511.4 2161.9v12.5M516.7 2161.9v12.5M522.3 2161.9v12.5M528.2 2161.9v12.5M540.4 2161.9v12.5M546.3 2161.9v12.5M551.9 2161.9v12.5M557.2 2161.9v12.5M562.1 2161.9v12.5M566.5 2161.9v12.5M570.7 2161.9v12.5M574.5 2161.9v12.5M578 2161.9v12.5M604.4 2161.9v12.5M618.7 2161.9v12.5M629 2161.9v12.5M637.1 2161.9v12.5M643.7 2161.9v12.5M649.2 2161.9v12.5M654.1 2161.9v12.5M658.4 2161.9v12.5M687.4 2161.9v12.5M702.2 2161.9v12.5M712.6 2161.9v12.5M720.7 2161.9v12.5M727.4 2161.9v12.5M733 2161.9v12.5M737.9 2161.9v12.5M742.1 2161.9v12.5M771.2 2161.9v12.5M786 2161.9v12.5M796.4 2161.9v12.5M487.4 2161.9v16.5M581.2 2161.9v16.5M662.2 2161.9v16.5M746 2161.9v16.5" stroke="#1a1a1a" stroke-width="1.2" fill="none"/>
<rect x="527.8" y="2161.9" width="13" height="12.5" fill="#1a1a1a"/>
<path d="M528.4 2161.9v16.5M534.3 2161.9v16.5M540.2 2161.9v16.5" stroke="#1a1a1a" stroke-width="1.3"/>
<path d="M478.8 2156.8h-12.5M478.8 2150.4h-12.5M478.8 2143.5h-12.5M478.8 2135.9h-12.5M478.8 2127.7h-12.5M478.8 2118.8h-12.5M478.8 2109.1h-12.5M478.8 2098.7h-12.5M478.8 2087.8h-12.5M478.8 2065.4h-12.5M478.8 2054.5h-12.5M478.8 2044.1h-12.5M478.8 2034.4h-12.5M478.8 2025.5h-12.5M478.8 2017.3h-12.5M478.8 2009.7h-12.5M478.8 2002.8h-12.5M478.8 1996.4h-12.5M478.8 1948.4h-12.5M478.8 1922.4h-12.5M478.8 1903.7h-12.5M478.8 1889.1h-12.5M478.8 1877.1h-12.5M478.8 1867h-12.5M478.8 1858.2h-12.5M478.8 1850.4h-12.5M478.8 1990.5h-16.5M478.8 1843.5h-16.5" stroke="#1a1a1a" stroke-width="1.2" fill="none"/>
<rect x="466.3" y="2065" width="12.5" height="23.2" fill="#1a1a1a"/>
<path d="M478.8 2065.6h-16.5M478.8 2076.6h-16.5M478.8 2087.6h-16.5" stroke="#1a1a1a" stroke-width="1.3"/>
<rect x="481.6" y="1848.5" width="219.6" height="218.3" fill="none" stroke="#1a1a1a" stroke-width="3.2"/>
<text x="494.8" y="1883.6" font-size="30" text-anchor="start">38.8%</text>
<text x="747" y="2211" font-size="33.5" text-anchor="middle">10<tspan font-size="20" baseline-shift="11">6</tspan></text>
<text x="663.2" y="2211" font-size="33.5" text-anchor="middle">10<tspan font-size="20" baseline-shift="11">5</tspan></text>
<text x="582.2" y="2211" font-size="33.5" text-anchor="middle">10<tspan font-size="20" baseline-shift="11">4</tspan></text>
<text x="534.3" y="2211" font-size="33.5" text-anchor="middle">0</text>
<text x="486.9" y="2211" font-size="33.5" text-anchor="middle">-10<tspan font-size="20" baseline-shift="11">4</tspan></text>
<text x="996.7" y="1825.7" font-size="34" text-anchor="middle">RIPK3-OVA DC</text>
<rect x="831.8" y="1841.9" width="320.5" height="320" fill="none" stroke="#1a1a1a" stroke-width="1.6"/>
<path d="M843.6 2161.9v12.5M847.1 2161.9v12.5M850.9 2161.9v12.5M855.1 2161.9v12.5M859.5 2161.9v12.5M864.4 2161.9v12.5M869.7 2161.9v12.5M875.3 2161.9v12.5M881.2 2161.9v12.5M893.4 2161.9v12.5M899.3 2161.9v12.5M904.9 2161.9v12.5M910.2 2161.9v12.5M915.1 2161.9v12.5M919.5 2161.9v12.5M923.7 2161.9v12.5M927.5 2161.9v12.5M931 2161.9v12.5M957.4 2161.9v12.5M971.7 2161.9v12.5M982 2161.9v12.5M990.1 2161.9v12.5M996.7 2161.9v12.5M1002.2 2161.9v12.5M1007.1 2161.9v12.5M1011.4 2161.9v12.5M1040.4 2161.9v12.5M1055.2 2161.9v12.5M1065.6 2161.9v12.5M1073.7 2161.9v12.5M1080.4 2161.9v12.5M1086 2161.9v12.5M1090.9 2161.9v12.5M1095.1 2161.9v12.5M1124.2 2161.9v12.5M1139 2161.9v12.5M1149.4 2161.9v12.5M840.4 2161.9v16.5M934.2 2161.9v16.5M1015.2 2161.9v16.5M1099 2161.9v16.5" stroke="#1a1a1a" stroke-width="1.2" fill="none"/>
<rect x="880.8" y="2161.9" width="13" height="12.5" fill="#1a1a1a"/>
<path d="M881.4 2161.9v16.5M887.3 2161.9v16.5M893.2 2161.9v16.5" stroke="#1a1a1a" stroke-width="1.3"/>
<path d="M831.8 2156.8h-12.5M831.8 2150.4h-12.5M831.8 2143.5h-12.5M831.8 2135.9h-12.5M831.8 2127.7h-12.5M831.8 2118.8h-12.5M831.8 2109.1h-12.5M831.8 2098.7h-12.5M831.8 2087.8h-12.5M831.8 2065.4h-12.5M831.8 2054.5h-12.5M831.8 2044.1h-12.5M831.8 2034.4h-12.5M831.8 2025.5h-12.5M831.8 2017.3h-12.5M831.8 2009.7h-12.5M831.8 2002.8h-12.5M831.8 1996.4h-12.5M831.8 1948.4h-12.5M831.8 1922.4h-12.5M831.8 1903.7h-12.5M831.8 1889.1h-12.5M831.8 1877.1h-12.5M831.8 1867h-12.5M831.8 1858.2h-12.5M831.8 1850.4h-12.5M831.8 1990.5h-16.5M831.8 1843.5h-16.5" stroke="#1a1a1a" stroke-width="1.2" fill="none"/>
<rect x="819.3" y="2065" width="12.5" height="23.2" fill="#1a1a1a"/>
<path d="M831.8 2065.6h-16.5M831.8 2076.6h-16.5M831.8 2087.6h-16.5" stroke="#1a1a1a" stroke-width="1.3"/>
<rect x="834.6" y="1848.5" width="219.7" height="218.3" fill="none" stroke="#1a1a1a" stroke-width="3.2"/>
<text x="847.8" y="1883.6" font-size="30" text-anchor="start">76.9%</text>
<text x="1100" y="2211" font-size="33.5" text-anchor="middle">10<tspan font-size="20" baseline-shift="11">6</tspan></text>
<text x="1016.2" y="2211" font-size="33.5" text-anchor="middle">10<tspan font-size="20" baseline-shift="11">5</tspan></text>
<text x="935.2" y="2211" font-size="33.5" text-anchor="middle">10<tspan font-size="20" baseline-shift="11">4</tspan></text>
<text x="887.3" y="2211" font-size="33.5" text-anchor="middle">0</text>
<text x="839.9" y="2211" font-size="33.5" text-anchor="middle">-10<tspan font-size="20" baseline-shift="11">4</tspan></text>
<text x="126.5" y="2254.5" font-size="33.8" text-anchor="start">CellTrace Violet</text>
<line x1="374" y1="2245.5" x2="1131" y2="2245.5" stroke="#1a1a1a" stroke-width="2.4"/>
<path d="M1144 2245.5L1130.5 2238.9V2252.1Z" fill="#1a1a1a"/>
<text transform="translate(34.5,2010) rotate(-90)" font-size="34" text-anchor="middle">T-bet-AF660</text>
</svg>
</body></html>
